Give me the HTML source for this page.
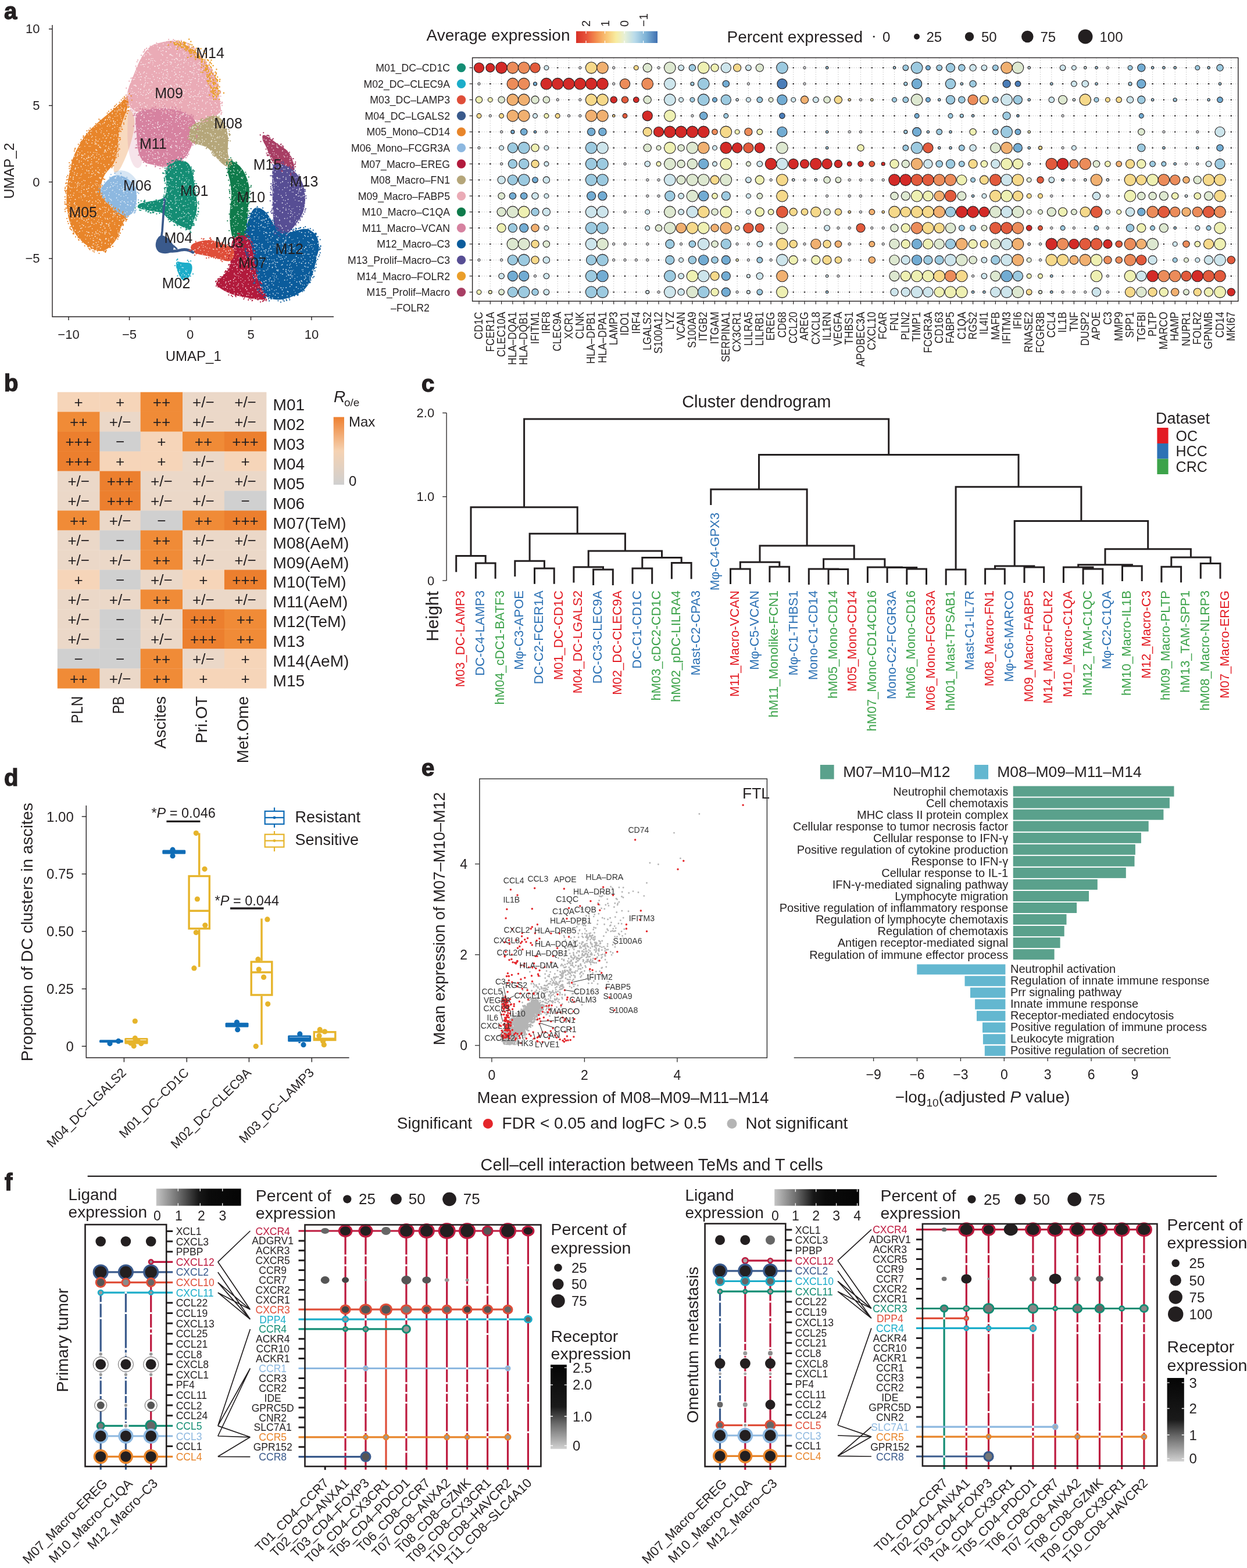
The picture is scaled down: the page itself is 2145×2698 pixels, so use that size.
<!DOCTYPE html>
<html><head><meta charset="utf-8"><title>Figure</title>
<style>html,body{margin:0;padding:0;background:#fff;} svg{display:block;} text{font-family:'Liberation Sans', 'DejaVu Sans', sans-serif;}</style>
</head><body>
<svg width="2145" height="2698" viewBox="0 0 2145 2698" font-family="'Liberation Sans', 'DejaVu Sans', sans-serif">
<rect width="2145" height="2698" fill="#fff"/>
<g stroke="#231f20" stroke-width="1.4" fill="none">
<path d="M90,43 V545 H574"/>
<path d="M84,49.9 H90"/>
<path d="M84,181.6 H90"/>
<path d="M84,313.2 H90"/>
<path d="M84,444.8 H90"/>
<path d="M118.0,545 V551"/>
<path d="M222.5,545 V551"/>
<path d="M327.0,545 V551"/>
<path d="M431.5,545 V551"/>
<path d="M536.0,545 V551"/>
</g>
<text x="68.5" y="49.9" font-size="22" text-anchor="end" fill="#231f20" dominant-baseline="central" >10</text>
<text x="68.5" y="181.6" font-size="22" text-anchor="end" fill="#231f20" dominant-baseline="central" >5</text>
<text x="68.5" y="313.2" font-size="22" text-anchor="end" fill="#231f20" dominant-baseline="central" >0</text>
<text x="68.5" y="444.8" font-size="22" text-anchor="end" fill="#231f20" dominant-baseline="central" >−5</text>
<text x="118.0" y="575.0" font-size="22" text-anchor="middle" fill="#231f20" dominant-baseline="central" >−10</text>
<text x="222.5" y="575.0" font-size="22" text-anchor="middle" fill="#231f20" dominant-baseline="central" >−5</text>
<text x="327.0" y="575.0" font-size="22" text-anchor="middle" fill="#231f20" dominant-baseline="central" >0</text>
<text x="431.5" y="575.0" font-size="22" text-anchor="middle" fill="#231f20" dominant-baseline="central" >5</text>
<text x="536.0" y="575.0" font-size="22" text-anchor="middle" fill="#231f20" dominant-baseline="central" >10</text>
<text x="332.8" y="612.5" font-size="24" text-anchor="middle" fill="#231f20" dominant-baseline="central" >UMAP_1</text>
<text x="15.0" y="294.0" font-size="24" text-anchor="middle" fill="#231f20" dominant-baseline="central" transform="rotate(-90 15.0 294.0)" >UMAP_2</text>
<path d="M217.0,193.0 Q222.0,186.0 226.0,191.0 Q230.0,196.0 231.0,205.0 Q232.0,214.0 230.0,225.0 Q228.0,236.0 225.0,246.0 Q222.0,256.0 218.0,266.0 Q214.0,276.0 209.0,286.0 Q204.0,296.0 199.0,297.0 Q194.0,298.0 196.0,284.0 Q198.0,270.0 199.5,257.5 Q201.0,245.0 203.0,233.5 Q205.0,222.0 208.5,211.0 Q212.0,200.0 217.0,193.0 Z" fill="#e8852a" opacity="0.3"/>
<path d="M228.0,186.5 Q234.0,188.0 235.5,201.5 Q237.0,215.0 238.5,232.5 Q240.0,250.0 243.0,266.0 Q246.0,282.0 241.0,287.0 Q236.0,292.0 231.0,286.0 Q226.0,280.0 223.0,267.5 Q220.0,255.0 219.5,240.0 Q219.0,225.0 219.5,212.5 Q220.0,200.0 221.0,192.5 Q222.0,185.0 228.0,186.5 Z" fill="#d682a0" opacity="0.22"/>
<path d="M202.0,294.0 Q212.0,292.0 220.0,296.0 Q228.0,300.0 234.0,309.0 Q240.0,318.0 238.0,324.0 Q236.0,330.0 229.0,321.0 Q222.0,312.0 214.0,308.5 Q206.0,305.0 199.0,300.5 Q192.0,296.0 202.0,294.0 Z" fill="#8db8e0" opacity="0.35"/>
<path d="M219.0,165.0 Q214.0,170.0 209.0,175.0 Q204.0,180.0 198.5,185.0 Q193.0,190.0 187.0,195.0 Q181.0,200.0 174.5,205.5 Q168.0,211.0 162.0,216.5 Q156.0,222.0 150.5,228.5 Q145.0,235.0 140.5,242.5 Q136.0,250.0 132.0,257.5 Q128.0,265.0 125.5,272.5 Q123.0,280.0 121.5,287.5 Q120.0,295.0 118.0,305.0 Q116.0,315.0 115.0,327.5 Q114.0,340.0 114.5,351.0 Q115.0,362.0 117.5,373.5 Q120.0,385.0 125.0,394.5 Q130.0,404.0 137.5,412.0 Q145.0,420.0 153.5,425.0 Q162.0,430.0 168.5,431.5 Q175.0,433.0 180.5,430.5 Q186.0,428.0 191.0,423.0 Q196.0,418.0 200.0,412.0 Q204.0,406.0 206.0,398.5 Q208.0,391.0 211.0,385.5 Q214.0,380.0 216.5,375.5 Q219.0,371.0 215.5,369.5 Q212.0,368.0 206.0,365.0 Q200.0,362.0 193.0,357.0 Q186.0,352.0 181.0,346.0 Q176.0,340.0 174.0,333.5 Q172.0,327.0 173.5,319.5 Q175.0,312.0 177.5,306.0 Q180.0,300.0 184.0,295.5 Q188.0,291.0 192.0,286.5 Q196.0,282.0 198.0,276.0 Q200.0,270.0 201.0,263.0 Q202.0,256.0 202.5,249.0 Q203.0,242.0 204.0,235.0 Q205.0,228.0 207.0,221.0 Q209.0,214.0 211.5,207.0 Q214.0,200.0 216.5,193.0 Q219.0,186.0 221.0,179.0 Q223.0,172.0 223.5,166.0 Q224.0,160.0 219.0,165.0 Z" fill="#e8852a"/>
<path d="M284.6,71.3 Q293.3,69.2 301.4,70.3 Q309.4,71.4 316.7,75.4 Q324.0,79.4 331.3,84.5 Q338.6,89.6 345.9,97.6 Q353.2,105.6 359.0,113.7 Q364.8,121.7 368.5,128.2 Q372.1,134.8 374.3,145.8 Q376.5,156.7 377.6,167.6 Q378.7,178.6 379.8,185.9 Q380.9,193.2 375.4,196.4 Q370.0,199.6 364.4,202.3 Q358.8,205.0 350.4,206.5 Q342.0,208.0 336.5,206.5 Q331.0,205.0 325.5,201.5 Q320.0,198.0 310.0,195.0 Q300.0,192.0 290.0,191.0 Q280.0,190.0 270.0,191.0 Q260.0,192.0 250.0,193.0 Q240.0,194.0 233.0,191.0 Q226.0,188.0 222.5,180.0 Q219.0,172.0 219.0,164.3 Q219.0,156.7 221.2,150.8 Q223.3,145.0 226.9,136.2 Q230.6,127.5 235.0,116.5 Q239.4,105.6 244.5,96.8 Q249.6,88.1 256.1,82.3 Q262.7,76.5 269.2,75.0 Q275.8,73.5 284.6,71.3 Z" fill="#eaabb6"/>
<path d="M244.0,190.5 Q255.0,188.0 267.5,187.0 Q280.0,186.0 292.5,187.5 Q305.0,189.0 313.5,192.5 Q322.0,196.0 328.5,200.5 Q335.0,205.0 336.5,210.0 Q338.0,215.0 337.5,221.5 Q337.0,228.0 334.5,236.5 Q332.0,245.0 329.0,252.5 Q326.0,260.0 322.0,266.0 Q318.0,272.0 311.0,277.0 Q304.0,282.0 297.0,284.5 Q290.0,287.0 282.5,287.0 Q275.0,287.0 268.5,285.0 Q262.0,283.0 256.0,282.0 Q250.0,281.0 245.0,275.5 Q240.0,270.0 238.0,260.0 Q236.0,250.0 235.5,240.0 Q235.0,230.0 234.0,220.0 Q233.0,210.0 233.0,201.5 Q233.0,193.0 244.0,190.5 Z" fill="#d682a0"/>
<path d="M338.5,211.5 Q347.6,208.0 356.0,203.1 Q364.4,198.2 371.4,199.6 Q378.4,201.0 382.6,207.3 Q386.8,213.6 389.6,222.0 Q392.4,230.4 392.4,238.8 Q392.4,247.2 391.7,255.6 Q391.0,264.0 393.8,271.0 Q396.6,278.0 394.5,282.9 Q392.4,287.8 388.2,285.7 Q384.0,283.6 378.4,278.0 Q372.8,272.4 368.6,266.8 Q364.4,261.2 360.2,257.0 Q356.0,252.8 349.0,250.7 Q342.0,248.6 335.7,247.2 Q329.4,245.8 327.0,240.9 Q324.7,236.0 325.6,230.4 Q326.6,224.8 328.0,219.9 Q329.4,215.0 338.5,211.5 Z" fill="#b5a67a"/>
<path d="M184.8,310.3 Q192.1,302.3 199.4,301.6 Q206.7,300.8 214.0,304.5 Q221.3,308.1 227.1,314.7 Q232.9,321.3 234.4,328.6 Q235.9,335.8 235.2,343.1 Q234.4,350.4 232.2,357.7 Q230.0,365.0 225.7,368.6 Q221.3,372.3 216.2,371.6 Q211.1,370.8 205.2,366.5 Q199.4,362.1 192.1,356.2 Q184.8,350.4 179.7,344.6 Q174.6,338.8 173.1,333.0 Q171.7,327.1 174.6,322.7 Q177.5,318.3 184.8,310.3 Z" fill="#8db8e0"/>
<path d="M293.0,281.9 Q300.0,277.5 307.0,276.3 Q314.0,275.2 319.6,278.0 Q325.2,280.8 328.0,287.8 Q330.8,294.8 332.5,304.6 Q334.2,314.4 335.6,324.2 Q337.0,334.0 338.4,343.8 Q339.8,353.6 338.4,362.0 Q337.0,370.4 334.2,377.4 Q331.4,384.4 330.0,390.7 Q328.6,397.0 324.1,395.2 Q319.6,393.4 314.0,390.6 Q308.4,387.8 302.8,385.0 Q297.2,382.2 291.6,378.0 Q286.0,373.8 283.2,370.0 Q280.4,366.2 272.0,364.8 Q263.6,363.4 255.2,362.0 Q246.8,360.6 241.2,359.2 Q235.6,357.8 237.0,354.1 Q238.4,350.3 245.4,348.9 Q252.4,347.5 260.8,346.1 Q269.2,344.7 275.1,343.3 Q281.0,341.9 283.8,336.6 Q286.6,331.2 286.6,322.8 Q286.6,314.4 285.2,306.0 Q283.8,297.6 284.9,292.0 Q286.0,286.4 293.0,281.9 Z" fill="#148d74"/>
<path d="M401.1,277.5 Q407.0,280.3 412.6,286.1 Q418.2,292.0 422.1,300.4 Q426.0,308.8 427.7,317.2 Q429.4,325.6 428.3,336.8 Q427.2,348.0 426.9,359.2 Q426.6,370.4 425.2,381.6 Q423.8,392.8 422.4,402.6 Q421.0,412.4 417.9,418.3 Q414.8,424.2 409.9,423.2 Q405.0,422.2 401.5,413.1 Q398.0,404.0 396.6,394.2 Q395.2,384.4 395.2,373.2 Q395.2,362.0 396.6,352.2 Q398.0,342.4 398.0,334.0 Q398.0,325.6 396.6,317.2 Q395.2,308.8 392.7,300.4 Q390.2,292.0 392.7,283.3 Q395.2,274.7 401.1,277.5 Z" fill="#0f7b4b"/>
<path d="M456.8,233.2 Q462.4,236.0 469.4,241.6 Q476.4,247.2 483.4,251.4 Q490.4,255.6 494.6,259.8 Q498.8,264.0 501.6,271.0 Q504.4,278.0 506.1,285.0 Q507.8,292.0 503.3,295.1 Q498.8,298.2 493.2,295.4 Q487.6,292.6 482.0,289.8 Q476.4,287.0 472.2,282.8 Q468.0,278.6 465.2,271.3 Q462.4,264.0 459.6,257.0 Q456.8,250.0 454.0,245.8 Q451.2,241.6 451.2,236.0 Q451.2,230.4 456.8,233.2 Z" fill="#a83e64"/>
<path d="M479.2,281.5 Q487.6,282.2 496.0,287.1 Q504.4,292.0 511.5,300.4 Q518.5,308.8 521.5,318.6 Q524.6,328.4 525.0,338.2 Q525.5,348.0 523.4,357.8 Q521.3,367.6 515.7,376.0 Q510.1,384.4 504.4,391.4 Q498.8,398.4 493.2,402.6 Q487.6,406.8 482.0,405.4 Q476.4,404.0 473.6,395.6 Q470.8,387.2 470.1,377.4 Q469.4,367.6 469.0,357.8 Q468.6,348.0 468.6,336.8 Q468.6,325.6 468.3,314.4 Q468.0,303.2 468.3,296.2 Q468.6,289.2 469.7,285.0 Q470.8,280.8 479.2,281.5 Z" fill="#574e94"/>
<path d="M444.2,357.6 Q451.2,359.2 456.8,364.8 Q462.4,370.4 466.6,378.8 Q470.8,387.2 475.0,394.2 Q479.2,401.2 486.2,401.5 Q493.2,401.8 501.6,399.0 Q510.1,396.2 518.5,394.5 Q526.9,392.8 532.7,395.6 Q538.6,398.4 542.8,404.0 Q547.0,409.6 548.4,418.0 Q549.8,426.4 547.0,434.8 Q544.2,443.2 542.8,451.6 Q541.4,460.1 538.6,468.5 Q535.8,476.9 533.0,484.1 Q530.2,491.4 524.6,497.0 Q519.0,502.6 510.6,506.8 Q502.2,511.0 492.1,513.8 Q482.0,516.6 472.2,515.2 Q462.4,513.8 455.4,508.2 Q448.4,502.6 444.2,495.3 Q440.0,488.1 438.6,479.7 Q437.2,471.3 435.8,462.9 Q434.4,454.4 431.6,447.4 Q428.8,440.4 426.0,433.4 Q423.2,426.4 421.8,418.0 Q420.4,409.6 421.8,401.2 Q423.2,392.8 426.0,383.0 Q428.8,373.2 433.0,364.6 Q437.2,355.9 444.2,357.6 Z" fill="#0b5c9c"/>
<path d="M405.0,408.2 Q412.0,404.0 419.0,405.4 Q426.0,406.8 430.2,416.6 Q434.4,426.4 436.1,440.4 Q437.8,454.4 439.2,462.9 Q440.6,471.3 443.4,479.7 Q446.2,488.1 449.0,495.1 Q451.8,502.1 456.0,507.9 Q460.2,513.8 454.3,515.2 Q448.4,516.6 441.4,515.2 Q434.4,513.8 427.4,512.4 Q420.4,511.0 412.0,509.6 Q403.6,508.2 396.6,505.4 Q389.6,502.6 382.6,498.4 Q375.6,494.2 372.8,491.1 Q370.0,488.1 374.2,483.9 Q378.4,479.7 382.6,475.5 Q386.8,471.3 391.0,465.7 Q395.2,460.1 396.6,448.8 Q398.0,437.6 398.0,425.0 Q398.0,412.4 405.0,408.2 Z" fill="#b21a3c"/>
<path d="M335.0,418.0 Q342.0,415.2 350.4,413.8 Q358.8,412.4 365.8,413.8 Q372.8,415.2 379.8,418.0 Q386.8,420.8 393.8,423.6 Q400.8,426.4 402.5,432.0 Q404.2,437.6 401.4,443.5 Q398.6,449.4 392.7,449.4 Q386.8,449.4 379.8,446.6 Q372.8,443.8 365.8,442.4 Q358.8,441.0 351.8,439.6 Q344.8,438.2 339.2,436.8 Q333.6,435.4 330.8,432.6 Q328.0,429.8 328.0,425.3 Q328.0,420.8 335.0,418.0 Z" fill="#df4e39"/>
<path d="M308.4,450.5 Q314.0,452.2 321.0,451.9 Q328.0,451.6 329.7,455.8 Q331.4,460.1 330.0,465.7 Q328.6,471.3 325.8,475.7 Q323.0,480.2 319.9,481.6 Q316.8,483.0 314.0,481.6 Q311.2,480.2 308.7,474.6 Q306.2,469.0 304.5,464.5 Q302.8,460.1 302.8,454.4 Q302.8,448.8 308.4,450.5 Z" fill="#1cadc9"/>
<path d="M283,342 L281,370 L279,398 L277,412" stroke="#3a5a8c" stroke-width="3.6" fill="none" stroke-linecap="round"/>
<path d="M272.5,408.0 Q276.0,404.0 281.0,405.5 Q286.0,407.0 290.0,411.0 Q294.0,415.0 297.0,420.0 Q300.0,425.0 298.0,429.5 Q296.0,434.0 290.0,435.5 Q284.0,437.0 278.0,435.5 Q272.0,434.0 269.5,429.0 Q267.0,424.0 268.0,418.0 Q269.0,412.0 272.5,408.0 Z" fill="#3a5a8c"/>
<path d="M282,431 Q300,434 312,430 Q322,428 332,434" stroke="#3a5a8c" stroke-width="5" fill="none" stroke-linecap="round"/>
<path d="M284,416 Q296,420 304,428" stroke="#3a5a8c" stroke-width="3" fill="none" stroke-linecap="round"/>
<path d="M341.5 95.9h0M303.4 74.3h0M305.2 74.5h0M349.1 102.2h0M347.5 98.6h0M317.5 76.0h0M345.7 124.0h0M308.3 71.5h0M321.2 80.7h0M371.5 151.8h0M356.4 128.5h0M310.9 75.7h0M358.7 131.7h0M354.0 119.4h0M366.5 141.8h0M346.4 116.0h0M361.4 147.1h0M306.1 80.5h0M317.0 78.8h0M363.2 123.6h0M366.3 159.3h0M353.8 117.4h0M374.9 148.3h0M370.5 130.4h0M372.0 125.7h0M326.7 91.8h0M299.0 73.5h0M323.1 79.6h0M315.8 81.6h0M374.9 155.4h0M363.5 109.6h0M368.4 156.5h0M350.7 87.7h0M320.3 81.2h0M320.5 84.2h0M336.7 86.3h0M328.6 91.2h0M355.7 131.0h0M374.2 132.5h0M374.3 137.8h0M341.4 98.1h0M363.0 125.0h0M328.2 84.7h0M309.3 74.3h0M311.4 77.1h0M367.2 152.2h0M326.7 88.3h0M325.2 67.4h0M347.0 105.2h0M309.9 79.1h0M369.3 149.2h0M368.1 161.8h0M362.1 114.5h0M377.5 160.7h0M328.4 87.8h0M357.4 140.4h0M339.1 98.8h0M378.1 160.3h0M368.2 144.5h0M352.5 111.6h0M302.2 76.2h0M369.4 130.6h0M384.9 159.9h0M341.5 97.5h0M326.5 86.0h0M373.6 152.8h0M362.6 125.2h0M370.5 124.0h0M362.5 139.3h0M362.6 150.0h0M367.2 166.9h0M370.6 159.4h0M322.5 84.5h0M374.6 151.9h0M369.0 162.4h0M356.4 114.8h0M367.6 160.6h0M360.5 163.5h0M369.7 151.1h0M334.2 93.9h0M327.9 86.9h0M366.6 161.1h0M363.2 115.9h0M363.6 158.4h0M359.8 112.0h0M332.6 80.3h0M312.3 80.7h0M353.2 119.4h0M356.8 113.3h0M356.7 118.8h0M359.7 141.6h0M371.6 138.0h0M353.5 121.5h0M357.0 133.2h0M358.4 104.2h0M373.7 152.8h0M366.6 112.9h0M321.1 81.0h0M308.7 76.7h0M365.1 120.7h0M317.2 73.2h0M328.3 71.4h0M332.0 81.4h0M361.6 107.0h0M313.7 81.1h0M339.9 95.8h0M371.9 136.1h0M352.4 102.6h0M358.6 123.0h0M375.5 155.9h0M312.5 77.7h0M366.8 144.7h0M354.8 96.4h0M337.8 92.9h0M356.7 115.2h0M304.5 70.7h0M315.9 73.1h0M377.6 149.4h0M311.9 71.6h0M326.2 89.6h0M336.0 90.1h0M331.0 85.6h0M307.3 77.4h0M335.2 86.5h0M354.2 112.2h0M301.8 73.4h0M361.8 136.1h0M352.5 105.3h0M362.5 149.3h0M363.6 152.1h0M368.5 130.8h0M366.6 143.5h0M343.6 99.3h0M324.1 80.5h0M331.3 87.0h0M374.7 145.7h0M332.9 91.0h0M352.2 107.9h0M345.5 83.7h0M356.1 124.3h0M335.2 90.2h0M335.9 96.9h0M324.2 81.0h0M335.7 88.4h0M309.4 74.3h0M322.0 81.2h0M361.1 133.9h0M365.9 156.4h0M377.3 171.1h0M371.7 127.6h0M363.7 151.0h0M372.7 150.3h0M357.5 103.3h0M358.4 144.1h0M361.7 127.9h0M306.9 76.1h0M316.4 72.3h0M354.9 119.4h0M361.2 107.8h0M359.0 138.7h0M370.5 130.1h0M333.7 86.7h0M367.7 142.6h0M366.3 165.1h0M346.5 100.4h0M359.0 121.0h0M317.8 85.0h0M334.1 89.4h0M306.1 80.5h0M361.5 128.8h0M347.1 111.7h0M317.3 75.6h0M372.8 165.0h0M355.1 95.0h0M347.6 105.9h0M372.9 166.6h0M303.6 76.8h0M319.0 73.6h0M368.7 152.3h0M368.9 156.3h0M293.8 72.3h0M337.9 92.2h0M336.2 90.4h0M367.5 137.4h0M368.0 151.2h0M329.6 91.2h0M367.8 165.6h0M346.2 102.0h0M314.6 73.7h0M370.9 163.6h0M354.8 113.6h0M379.0 158.0h0M372.4 119.2h0M355.4 113.2h0M356.3 138.8h0M361.1 126.9h0M375.1 162.7h0M336.0 99.1h0M371.3 170.8h0M329.3 88.0h0M322.6 81.7h0M366.4 157.2h0M376.4 157.1h0M317.9 79.8h0M342.1 94.4h0M319.8 82.3h0M361.0 141.1h0M350.2 114.1h0M304.8 84.8h0M307.4 77.4h0M370.3 155.4h0M324.5 87.5h0M377.9 156.1h0M310.8 74.1h0M362.7 156.9h0M289.5 77.6h0M377.8 139.9h0M331.9 86.4h0M348.2 102.9h0M359.1 130.1h0M347.2 103.8h0M368.7 151.8h0M360.6 127.8h0M324.1 80.6h0M319.8 79.0h0M355.3 120.0h0M364.5 120.4h0M356.7 103.0h0M365.8 155.1h0M337.8 83.3h0M341.7 90.5h0M359.0 130.9h0M366.1 127.3h0M300.7 76.9h0M366.3 137.1h0M361.7 137.5h0M367.7 171.0h0M329.4 90.0h0M340.2 87.5h0M324.0 84.3h0M365.4 127.6h0M347.1 107.5h0M319.2 78.7h0M352.9 92.3h0M378.2 136.7h0M342.5 100.2h0M373.9 139.7h0M338.6 98.4h0M325.3 79.6h0M342.3 93.1h0M372.9 167.2h0M371.1 144.0h0M300.3 74.8h0M372.5 162.2h0M375.8 156.9h0M368.5 145.5h0M315.5 76.9h0M330.1 77.3h0M336.3 102.3h0M359.7 128.4h0M336.0 91.0h0M373.1 136.9h0M375.1 161.8h0M363.4 103.5h0M342.9 100.7h0M354.7 107.1h0M367.4 138.3h0M363.0 139.7h0M330.1 96.2h0M312.5 81.7h0M330.7 85.3h0M348.8 124.5h0M374.2 154.4h0M315.5 78.3h0M360.4 134.9h0M339.5 95.5h0M370.6 134.0h0M317.3 74.6h0M350.7 121.0h0M324.6 83.8h0M324.3 75.4h0M323.1 98.9h0M353.7 116.8h0M364.5 126.7h0M354.5 99.2h0M375.0 158.9h0M320.1 87.1h0M363.3 116.6h0M365.3 153.7h0M369.6 141.9h0M356.5 117.8h0M343.6 97.1h0M323.5 82.2h0M330.0 81.4h0M364.9 133.1h0M327.0 76.4h0M312.0 77.1h0M354.3 113.2h0M318.2 75.5h0M327.9 97.0h0" stroke="#ea9e2a" stroke-width="2.50" stroke-linecap="round" fill="none"/>
<defs><pattern id="speck" width="61" height="53" patternUnits="userSpaceOnUse"><g fill="#fff" opacity="0.85"><circle cx="10.1" cy="36.6" r="0.84"/><circle cx="29.2" cy="11.4" r="0.91"/><circle cx="49.3" cy="27.2" r="0.78"/><circle cx="14.4" cy="0.2" r="0.72"/><circle cx="35.7" cy="3.7" r="0.91"/><circle cx="14.2" cy="12.3" r="0.57"/><circle cx="60.9" cy="39.2" r="0.94"/><circle cx="37.6" cy="1.8" r="0.70"/><circle cx="30.4" cy="6.1" r="0.98"/><circle cx="22.5" cy="8.2" r="0.92"/><circle cx="7.6" cy="49.2" r="0.75"/><circle cx="33.7" cy="18.2" r="0.77"/><circle cx="11.4" cy="2.0" r="0.94"/><circle cx="14.3" cy="41.4" r="0.64"/><circle cx="59.1" cy="47.4" r="0.89"/><circle cx="46.5" cy="30.8" r="0.88"/><circle cx="7.5" cy="25.2" r="0.92"/><circle cx="12.3" cy="48.9" r="0.95"/><circle cx="25.0" cy="19.4" r="0.75"/><circle cx="23.5" cy="52.7" r="0.72"/><circle cx="1.6" cy="4.9" r="0.87"/><circle cx="60.6" cy="26.3" r="0.77"/><circle cx="33.6" cy="39.7" r="0.65"/><circle cx="37.1" cy="29.5" r="0.83"/><circle cx="11.0" cy="9.0" r="0.71"/><circle cx="56.6" cy="18.4" r="0.82"/><circle cx="18.7" cy="5.5" r="0.58"/><circle cx="49.6" cy="41.2" r="0.72"/><circle cx="41.7" cy="35.8" r="0.95"/><circle cx="58.5" cy="21.6" r="1.00"/><circle cx="58.6" cy="31.3" r="0.95"/><circle cx="29.9" cy="19.9" r="0.66"/><circle cx="53.4" cy="8.6" r="0.58"/><circle cx="49.1" cy="41.0" r="0.77"/><circle cx="51.1" cy="2.8" r="0.67"/><circle cx="17.7" cy="22.2" r="0.63"/><circle cx="4.2" cy="17.9" r="0.95"/><circle cx="60.0" cy="39.5" r="0.77"/><circle cx="15.4" cy="50.8" r="0.79"/><circle cx="44.4" cy="1.5" r="0.65"/><circle cx="51.1" cy="42.1" r="0.95"/><circle cx="36.7" cy="22.6" r="0.81"/><circle cx="51.8" cy="16.3" r="0.79"/><circle cx="16.8" cy="40.7" r="0.55"/><circle cx="41.8" cy="50.6" r="0.56"/><circle cx="36.2" cy="34.1" r="0.93"/><circle cx="35.6" cy="13.6" r="0.73"/><circle cx="58.5" cy="48.0" r="0.61"/><circle cx="5.8" cy="5.0" r="0.56"/><circle cx="27.3" cy="7.5" r="0.94"/><circle cx="40.0" cy="6.7" r="0.79"/><circle cx="19.8" cy="26.2" r="0.65"/><circle cx="10.1" cy="9.7" r="0.72"/><circle cx="43.3" cy="29.2" r="0.57"/><circle cx="43.4" cy="46.3" r="0.90"/><circle cx="48.2" cy="0.4" r="0.76"/><circle cx="3.9" cy="40.5" r="0.63"/><circle cx="43.4" cy="13.4" r="0.86"/><circle cx="19.1" cy="2.2" r="0.72"/><circle cx="18.9" cy="47.7" r="0.68"/><circle cx="30.7" cy="29.1" r="0.98"/><circle cx="6.0" cy="31.9" r="0.78"/><circle cx="44.8" cy="51.3" r="0.69"/><circle cx="42.7" cy="27.9" r="0.80"/><circle cx="3.9" cy="43.2" r="0.99"/><circle cx="21.7" cy="16.9" r="1.00"/><circle cx="6.6" cy="4.0" r="0.58"/><circle cx="49.7" cy="40.3" r="0.75"/><circle cx="37.9" cy="1.0" r="0.84"/><circle cx="27.0" cy="27.4" r="0.73"/></g></pattern><clipPath id="umapclip"><path d="M219.0,165.0 Q214.0,170.0 209.0,175.0 Q204.0,180.0 198.5,185.0 Q193.0,190.0 187.0,195.0 Q181.0,200.0 174.5,205.5 Q168.0,211.0 162.0,216.5 Q156.0,222.0 150.5,228.5 Q145.0,235.0 140.5,242.5 Q136.0,250.0 132.0,257.5 Q128.0,265.0 125.5,272.5 Q123.0,280.0 121.5,287.5 Q120.0,295.0 118.0,305.0 Q116.0,315.0 115.0,327.5 Q114.0,340.0 114.5,351.0 Q115.0,362.0 117.5,373.5 Q120.0,385.0 125.0,394.5 Q130.0,404.0 137.5,412.0 Q145.0,420.0 153.5,425.0 Q162.0,430.0 168.5,431.5 Q175.0,433.0 180.5,430.5 Q186.0,428.0 191.0,423.0 Q196.0,418.0 200.0,412.0 Q204.0,406.0 206.0,398.5 Q208.0,391.0 211.0,385.5 Q214.0,380.0 216.5,375.5 Q219.0,371.0 215.5,369.5 Q212.0,368.0 206.0,365.0 Q200.0,362.0 193.0,357.0 Q186.0,352.0 181.0,346.0 Q176.0,340.0 174.0,333.5 Q172.0,327.0 173.5,319.5 Q175.0,312.0 177.5,306.0 Q180.0,300.0 184.0,295.5 Q188.0,291.0 192.0,286.5 Q196.0,282.0 198.0,276.0 Q200.0,270.0 201.0,263.0 Q202.0,256.0 202.5,249.0 Q203.0,242.0 204.0,235.0 Q205.0,228.0 207.0,221.0 Q209.0,214.0 211.5,207.0 Q214.0,200.0 216.5,193.0 Q219.0,186.0 221.0,179.0 Q223.0,172.0 223.5,166.0 Q224.0,160.0 219.0,165.0 Z"/><path d="M284.6,71.3 Q293.3,69.2 301.4,70.3 Q309.4,71.4 316.7,75.4 Q324.0,79.4 331.3,84.5 Q338.6,89.6 345.9,97.6 Q353.2,105.6 359.0,113.7 Q364.8,121.7 368.5,128.2 Q372.1,134.8 374.3,145.8 Q376.5,156.7 377.6,167.6 Q378.7,178.6 379.8,185.9 Q380.9,193.2 375.4,196.4 Q370.0,199.6 364.4,202.3 Q358.8,205.0 350.4,206.5 Q342.0,208.0 336.5,206.5 Q331.0,205.0 325.5,201.5 Q320.0,198.0 310.0,195.0 Q300.0,192.0 290.0,191.0 Q280.0,190.0 270.0,191.0 Q260.0,192.0 250.0,193.0 Q240.0,194.0 233.0,191.0 Q226.0,188.0 222.5,180.0 Q219.0,172.0 219.0,164.3 Q219.0,156.7 221.2,150.8 Q223.3,145.0 226.9,136.2 Q230.6,127.5 235.0,116.5 Q239.4,105.6 244.5,96.8 Q249.6,88.1 256.1,82.3 Q262.7,76.5 269.2,75.0 Q275.8,73.5 284.6,71.3 Z"/><path d="M244.0,190.5 Q255.0,188.0 267.5,187.0 Q280.0,186.0 292.5,187.5 Q305.0,189.0 313.5,192.5 Q322.0,196.0 328.5,200.5 Q335.0,205.0 336.5,210.0 Q338.0,215.0 337.5,221.5 Q337.0,228.0 334.5,236.5 Q332.0,245.0 329.0,252.5 Q326.0,260.0 322.0,266.0 Q318.0,272.0 311.0,277.0 Q304.0,282.0 297.0,284.5 Q290.0,287.0 282.5,287.0 Q275.0,287.0 268.5,285.0 Q262.0,283.0 256.0,282.0 Q250.0,281.0 245.0,275.5 Q240.0,270.0 238.0,260.0 Q236.0,250.0 235.5,240.0 Q235.0,230.0 234.0,220.0 Q233.0,210.0 233.0,201.5 Q233.0,193.0 244.0,190.5 Z"/><path d="M338.5,211.5 Q347.6,208.0 356.0,203.1 Q364.4,198.2 371.4,199.6 Q378.4,201.0 382.6,207.3 Q386.8,213.6 389.6,222.0 Q392.4,230.4 392.4,238.8 Q392.4,247.2 391.7,255.6 Q391.0,264.0 393.8,271.0 Q396.6,278.0 394.5,282.9 Q392.4,287.8 388.2,285.7 Q384.0,283.6 378.4,278.0 Q372.8,272.4 368.6,266.8 Q364.4,261.2 360.2,257.0 Q356.0,252.8 349.0,250.7 Q342.0,248.6 335.7,247.2 Q329.4,245.8 327.0,240.9 Q324.7,236.0 325.6,230.4 Q326.6,224.8 328.0,219.9 Q329.4,215.0 338.5,211.5 Z"/><path d="M184.8,310.3 Q192.1,302.3 199.4,301.6 Q206.7,300.8 214.0,304.5 Q221.3,308.1 227.1,314.7 Q232.9,321.3 234.4,328.6 Q235.9,335.8 235.2,343.1 Q234.4,350.4 232.2,357.7 Q230.0,365.0 225.7,368.6 Q221.3,372.3 216.2,371.6 Q211.1,370.8 205.2,366.5 Q199.4,362.1 192.1,356.2 Q184.8,350.4 179.7,344.6 Q174.6,338.8 173.1,333.0 Q171.7,327.1 174.6,322.7 Q177.5,318.3 184.8,310.3 Z"/><path d="M293.0,281.9 Q300.0,277.5 307.0,276.3 Q314.0,275.2 319.6,278.0 Q325.2,280.8 328.0,287.8 Q330.8,294.8 332.5,304.6 Q334.2,314.4 335.6,324.2 Q337.0,334.0 338.4,343.8 Q339.8,353.6 338.4,362.0 Q337.0,370.4 334.2,377.4 Q331.4,384.4 330.0,390.7 Q328.6,397.0 324.1,395.2 Q319.6,393.4 314.0,390.6 Q308.4,387.8 302.8,385.0 Q297.2,382.2 291.6,378.0 Q286.0,373.8 283.2,370.0 Q280.4,366.2 272.0,364.8 Q263.6,363.4 255.2,362.0 Q246.8,360.6 241.2,359.2 Q235.6,357.8 237.0,354.1 Q238.4,350.3 245.4,348.9 Q252.4,347.5 260.8,346.1 Q269.2,344.7 275.1,343.3 Q281.0,341.9 283.8,336.6 Q286.6,331.2 286.6,322.8 Q286.6,314.4 285.2,306.0 Q283.8,297.6 284.9,292.0 Q286.0,286.4 293.0,281.9 Z"/><path d="M401.1,277.5 Q407.0,280.3 412.6,286.1 Q418.2,292.0 422.1,300.4 Q426.0,308.8 427.7,317.2 Q429.4,325.6 428.3,336.8 Q427.2,348.0 426.9,359.2 Q426.6,370.4 425.2,381.6 Q423.8,392.8 422.4,402.6 Q421.0,412.4 417.9,418.3 Q414.8,424.2 409.9,423.2 Q405.0,422.2 401.5,413.1 Q398.0,404.0 396.6,394.2 Q395.2,384.4 395.2,373.2 Q395.2,362.0 396.6,352.2 Q398.0,342.4 398.0,334.0 Q398.0,325.6 396.6,317.2 Q395.2,308.8 392.7,300.4 Q390.2,292.0 392.7,283.3 Q395.2,274.7 401.1,277.5 Z"/><path d="M456.8,233.2 Q462.4,236.0 469.4,241.6 Q476.4,247.2 483.4,251.4 Q490.4,255.6 494.6,259.8 Q498.8,264.0 501.6,271.0 Q504.4,278.0 506.1,285.0 Q507.8,292.0 503.3,295.1 Q498.8,298.2 493.2,295.4 Q487.6,292.6 482.0,289.8 Q476.4,287.0 472.2,282.8 Q468.0,278.6 465.2,271.3 Q462.4,264.0 459.6,257.0 Q456.8,250.0 454.0,245.8 Q451.2,241.6 451.2,236.0 Q451.2,230.4 456.8,233.2 Z"/><path d="M479.2,281.5 Q487.6,282.2 496.0,287.1 Q504.4,292.0 511.5,300.4 Q518.5,308.8 521.5,318.6 Q524.6,328.4 525.0,338.2 Q525.5,348.0 523.4,357.8 Q521.3,367.6 515.7,376.0 Q510.1,384.4 504.4,391.4 Q498.8,398.4 493.2,402.6 Q487.6,406.8 482.0,405.4 Q476.4,404.0 473.6,395.6 Q470.8,387.2 470.1,377.4 Q469.4,367.6 469.0,357.8 Q468.6,348.0 468.6,336.8 Q468.6,325.6 468.3,314.4 Q468.0,303.2 468.3,296.2 Q468.6,289.2 469.7,285.0 Q470.8,280.8 479.2,281.5 Z"/><path d="M444.2,357.6 Q451.2,359.2 456.8,364.8 Q462.4,370.4 466.6,378.8 Q470.8,387.2 475.0,394.2 Q479.2,401.2 486.2,401.5 Q493.2,401.8 501.6,399.0 Q510.1,396.2 518.5,394.5 Q526.9,392.8 532.7,395.6 Q538.6,398.4 542.8,404.0 Q547.0,409.6 548.4,418.0 Q549.8,426.4 547.0,434.8 Q544.2,443.2 542.8,451.6 Q541.4,460.1 538.6,468.5 Q535.8,476.9 533.0,484.1 Q530.2,491.4 524.6,497.0 Q519.0,502.6 510.6,506.8 Q502.2,511.0 492.1,513.8 Q482.0,516.6 472.2,515.2 Q462.4,513.8 455.4,508.2 Q448.4,502.6 444.2,495.3 Q440.0,488.1 438.6,479.7 Q437.2,471.3 435.8,462.9 Q434.4,454.4 431.6,447.4 Q428.8,440.4 426.0,433.4 Q423.2,426.4 421.8,418.0 Q420.4,409.6 421.8,401.2 Q423.2,392.8 426.0,383.0 Q428.8,373.2 433.0,364.6 Q437.2,355.9 444.2,357.6 Z"/><path d="M405.0,408.2 Q412.0,404.0 419.0,405.4 Q426.0,406.8 430.2,416.6 Q434.4,426.4 436.1,440.4 Q437.8,454.4 439.2,462.9 Q440.6,471.3 443.4,479.7 Q446.2,488.1 449.0,495.1 Q451.8,502.1 456.0,507.9 Q460.2,513.8 454.3,515.2 Q448.4,516.6 441.4,515.2 Q434.4,513.8 427.4,512.4 Q420.4,511.0 412.0,509.6 Q403.6,508.2 396.6,505.4 Q389.6,502.6 382.6,498.4 Q375.6,494.2 372.8,491.1 Q370.0,488.1 374.2,483.9 Q378.4,479.7 382.6,475.5 Q386.8,471.3 391.0,465.7 Q395.2,460.1 396.6,448.8 Q398.0,437.6 398.0,425.0 Q398.0,412.4 405.0,408.2 Z"/><path d="M335.0,418.0 Q342.0,415.2 350.4,413.8 Q358.8,412.4 365.8,413.8 Q372.8,415.2 379.8,418.0 Q386.8,420.8 393.8,423.6 Q400.8,426.4 402.5,432.0 Q404.2,437.6 401.4,443.5 Q398.6,449.4 392.7,449.4 Q386.8,449.4 379.8,446.6 Q372.8,443.8 365.8,442.4 Q358.8,441.0 351.8,439.6 Q344.8,438.2 339.2,436.8 Q333.6,435.4 330.8,432.6 Q328.0,429.8 328.0,425.3 Q328.0,420.8 335.0,418.0 Z"/><path d="M308.4,450.5 Q314.0,452.2 321.0,451.9 Q328.0,451.6 329.7,455.8 Q331.4,460.1 330.0,465.7 Q328.6,471.3 325.8,475.7 Q323.0,480.2 319.9,481.6 Q316.8,483.0 314.0,481.6 Q311.2,480.2 308.7,474.6 Q306.2,469.0 304.5,464.5 Q302.8,460.1 302.8,454.4 Q302.8,448.8 308.4,450.5 Z"/></clipPath></defs>
<rect x="90" y="40" width="490" height="505" fill="url(#speck)" clip-path="url(#umapclip)"/>
<path d="M175.3 336.6h0M175.1 332.7h0M123.7 276.7h0M119.2 280.0h0M175.7 319.3h0M208.0 226.3h0M179.5 343.2h0M217.3 191.6h0M203.4 268.6h0M115.1 376.0h0M216.5 377.1h0M211.0 366.4h0M219.1 195.2h0M113.1 351.4h0M211.4 385.4h0M196.9 183.0h0M205.0 363.0h0M167.8 431.8h0M178.1 308.2h0M218.5 377.5h0M202.7 252.7h0M217.1 378.6h0M111.5 327.8h0M204.6 248.3h0M139.5 240.1h0M191.4 188.7h0M181.9 432.6h0M207.0 401.2h0M164.8 212.9h0M216.4 193.8h0M184.6 194.7h0M125.7 402.2h0M172.2 207.0h0M127.9 259.8h0M202.8 250.5h0M211.4 169.3h0M211.7 388.0h0M219.6 190.3h0M113.8 315.0h0M150.8 424.2h0M112.3 343.3h0M152.9 224.2h0M111.6 347.7h0M188.4 353.3h0M221.2 190.4h0M209.4 222.2h0M113.0 315.6h0M130.0 407.6h0M120.5 390.6h0M134.4 408.8h0M128.7 256.9h0M117.7 384.7h0M113.5 332.5h0M173.7 321.7h0M200.3 179.6h0M115.3 314.8h0M216.7 200.1h0M114.0 351.8h0M213.9 166.3h0M212.8 211.5h0M140.0 243.2h0M205.1 237.1h0M119.4 286.4h0M122.0 390.1h0M221.4 180.5h0M112.0 324.7h0M186.9 191.6h0M181.1 434.1h0M113.0 330.2h0M134.8 248.4h0M206.7 225.5h0M154.4 428.5h0M154.7 429.6h0M145.7 423.0h0M203.0 243.7h0M205.9 256.5h0M129.4 255.2h0M192.4 288.4h0M204.0 407.6h0M205.5 176.1h0M114.6 309.5h0M182.0 432.9h0M111.7 348.0h0M215.1 205.2h0M162.0 433.5h0M216.6 380.5h0M111.4 351.0h0M180.1 341.0h0M209.1 218.5h0M143.3 236.4h0M157.9 428.1h0M111.8 360.4h0M186.1 351.0h0M114.8 327.6h0M120.8 283.9h0M126.1 397.5h0M135.7 413.2h0M149.5 225.1h0M112.3 322.4h0M204.2 255.6h0M194.9 356.5h0M116.5 381.1h0M126.6 400.3h0M197.5 359.2h0M214.5 368.8h0M180.8 432.4h0M141.6 417.0h0M119.9 294.7h0M217.0 163.8h0M135.0 412.3h0M182.8 430.8h0M152.9 427.5h0M152.2 424.6h0M226.7 172.3h0M188.7 425.8h0M119.3 290.1h0M198.6 358.3h0M148.9 229.9h0M116.6 308.8h0M206.7 237.2h0M191.7 352.8h0M178.5 432.2h0M113.5 357.9h0M114.6 320.2h0M127.0 402.5h0M195.5 186.8h0M202.3 260.8h0M199.8 279.5h0M213.1 213.7h0M162.7 430.4h0M193.3 286.2h0M190.1 425.5h0M177.5 307.3h0M120.3 393.1h0M214.2 168.4h0M196.2 186.5h0M200.3 271.3h0M222.2 161.2h0M220.7 185.1h0M198.5 181.8h0M210.4 222.6h0M198.6 357.8h0M210.8 394.7h0M123.2 395.7h0M194.0 423.9h0M111.8 338.7h0M143.7 234.4h0M211.4 387.6h0M205.6 362.3h0M116.4 301.9h0M180.1 308.7h0M203.5 407.4h0M112.2 364.0h0M156.6 426.9h0M203.6 360.1h0M207.1 239.8h0M159.9 431.7h0M170.5 435.8h0M123.7 275.4h0M155.3 220.6h0M195.3 284.9h0M202.5 411.4h0M143.5 233.8h0M186.4 348.3h0M113.3 328.5h0M170.3 205.2h0M220.3 372.1h0M205.1 405.1h0M205.7 241.0h0M225.6 165.2h0M220.2 183.3h0M114.9 304.5h0M212.1 386.6h0M121.7 394.5h0M208.7 172.0h0M222.3 183.6h0M215.6 203.7h0M220.0 184.0h0M138.4 245.4h0M203.1 265.3h0M211.5 364.1h0M113.9 358.3h0M203.8 258.4h0" stroke="#e8852a" stroke-width="2.20" stroke-linecap="round" fill="none"/>
<path d="M381.8 177.8h0M314.2 73.3h0M381.5 193.6h0M218.3 168.9h0M238.0 193.7h0M297.6 194.3h0M333.9 82.6h0M266.9 191.6h0M379.4 178.2h0M378.4 160.6h0M304.6 194.1h0M345.1 209.3h0M236.9 196.6h0M324.1 76.5h0M380.4 195.0h0M300.9 69.7h0M306.8 195.0h0M252.1 83.4h0M248.7 86.3h0M219.1 178.1h0M234.6 117.1h0M227.7 134.2h0M380.9 190.4h0M228.2 191.0h0M321.3 74.2h0M225.2 189.4h0M379.5 165.5h0M315.3 197.5h0M232.6 191.3h0M331.3 81.2h0M381.9 175.9h0M345.8 93.2h0M335.3 86.6h0M298.2 68.2h0M249.3 85.1h0M375.9 147.4h0M246.5 89.6h0M290.9 192.3h0M219.1 181.0h0M355.6 208.1h0M310.9 198.6h0M323.8 202.7h0M215.4 171.0h0M237.1 103.4h0M235.7 106.3h0M328.0 206.3h0M380.4 196.8h0M339.5 209.0h0M294.6 192.1h0M381.8 177.1h0M284.6 191.1h0M359.8 110.0h0M269.3 74.0h0M217.0 167.0h0M217.1 163.4h0M326.2 80.8h0M311.7 69.7h0M233.6 113.8h0M217.4 167.4h0M224.4 185.1h0M290.2 67.8h0M285.5 192.3h0M363.8 118.6h0M300.1 70.1h0M353.4 104.7h0M217.3 151.7h0M382.3 176.0h0M332.3 83.4h0M325.3 79.8h0M258.6 194.5h0M307.2 69.8h0M233.1 194.8h0M347.3 96.9h0M260.7 195.1h0M357.0 207.8h0M349.1 210.2h0M374.6 143.0h0M222.3 139.7h0M294.7 194.8h0M370.9 128.2h0M341.9 91.2h0M220.8 180.9h0M324.4 79.2h0M371.2 199.4h0M258.5 79.7h0M382.0 181.5h0M365.0 120.3h0M378.7 156.7h0M355.4 107.2h0M277.6 190.8h0M351.7 208.9h0M322.8 75.7h0M335.4 84.4h0M379.0 174.6h0M217.2 171.3h0M367.5 125.3h0M378.9 159.8h0M243.1 95.2h0M363.7 203.4h0M252.3 83.1h0M283.9 193.1h0M341.8 209.3h0M248.2 88.3h0M326.6 205.9h0M225.4 134.7h0" stroke="#eaabb6" stroke-width="2.20" stroke-linecap="round" fill="none"/>
<path d="M334.3 244.5h0M319.9 271.3h0M334.2 246.8h0M301.3 185.4h0M338.9 208.3h0M267.0 286.9h0M280.2 287.5h0M245.0 187.4h0M326.6 198.9h0M337.9 233.1h0M340.1 217.6h0M319.3 193.4h0M262.5 186.1h0M229.3 198.8h0M234.4 238.0h0M267.5 183.9h0M232.8 239.4h0M245.6 188.6h0M251.7 285.3h0M231.3 195.6h0M293.3 288.6h0M233.3 213.6h0M234.7 249.3h0M241.1 187.2h0M246.8 279.3h0M340.6 222.3h0M250.4 188.7h0M246.3 189.2h0M313.1 277.0h0M262.0 186.2h0M328.7 199.9h0M338.3 236.3h0M234.5 254.2h0M329.4 197.2h0M233.1 254.5h0M310.6 191.0h0M235.1 191.5h0M244.9 275.5h0M322.1 267.9h0M231.5 228.1h0M310.2 188.5h0M284.1 185.9h0M238.4 266.9h0M235.7 254.4h0M232.5 226.0h0M292.9 286.8h0M284.4 186.1h0M331.6 249.7h0M296.0 184.4h0M275.2 290.1h0M231.4 198.2h0M262.1 185.9h0M283.8 185.2h0M249.6 188.2h0M332.3 199.5h0M267.6 286.0h0M264.3 185.7h0M338.6 233.8h0M303.0 186.3h0M229.8 217.2h0M287.5 290.6h0M324.3 265.3h0M234.0 226.7h0M261.3 186.5h0M283.0 182.9h0M338.5 223.0h0M331.8 201.4h0M297.6 286.2h0" stroke="#d682a0" stroke-width="2.20" stroke-linecap="round" fill="none"/>
<path d="M376.8 199.9h0M398.0 283.0h0M393.6 222.7h0M395.2 284.7h0M322.9 239.4h0M392.6 237.9h0M394.3 229.8h0M354.3 204.1h0M396.6 280.1h0M397.3 275.9h0M364.6 263.5h0M346.2 205.0h0M356.9 201.0h0M336.6 210.5h0M325.3 239.5h0M396.0 231.5h0M345.0 207.0h0M325.4 220.7h0M326.1 227.8h0M396.3 275.6h0M397.9 280.3h0M326.0 218.6h0M390.0 222.3h0M394.9 233.0h0M336.7 248.5h0M359.5 201.1h0M396.7 280.8h0M392.3 255.6h0M346.3 206.9h0M394.4 225.9h0M394.0 287.5h0M397.6 274.0h0M348.2 204.0h0M364.6 263.0h0M393.0 241.8h0M366.9 197.1h0M396.1 242.5h0M369.0 268.8h0M386.8 212.2h0M390.9 213.9h0M355.9 253.6h0M354.8 255.4h0M397.0 275.2h0M323.9 234.9h0M367.6 267.3h0M372.4 199.6h0M389.4 217.4h0M394.3 231.2h0M326.2 239.3h0M365.9 266.3h0M364.3 263.3h0" stroke="#b5a67a" stroke-width="2.20" stroke-linecap="round" fill="none"/>
<path d="M235.6 321.7h0M207.8 297.9h0M201.6 364.1h0M234.6 350.8h0M215.1 373.0h0M228.6 315.4h0M233.4 322.3h0M227.5 310.7h0M236.8 330.9h0M179.8 313.3h0M170.5 324.6h0M195.3 359.9h0M169.0 330.5h0M169.1 329.7h0M232.3 365.6h0M233.7 324.8h0M230.8 366.3h0M190.9 300.3h0M208.1 298.7h0M217.4 373.9h0M231.6 362.9h0M238.5 332.9h0M189.1 305.0h0M218.3 305.3h0M232.8 362.9h0M204.3 369.1h0M219.2 373.7h0M197.2 361.4h0M174.9 317.6h0M233.8 361.0h0M234.2 355.0h0M238.0 343.9h0M197.5 298.6h0M198.7 365.5h0" stroke="#8db8e0" stroke-width="2.20" stroke-linecap="round" fill="none"/>
<path d="M340.4 349.3h0M331.6 388.0h0M264.5 365.4h0M282.7 306.4h0M339.4 330.8h0M336.9 375.5h0M304.4 386.7h0M283.0 311.4h0M334.3 294.5h0M293.3 380.6h0M284.3 315.2h0M283.5 326.7h0M268.6 343.8h0M337.3 369.0h0M337.3 378.8h0M332.5 304.6h0M338.7 337.5h0M247.7 347.3h0M283.3 308.1h0M332.1 298.2h0M341.3 358.0h0M333.7 387.7h0M247.3 346.5h0M282.7 324.0h0M341.6 364.4h0M287.9 281.8h0M311.6 273.4h0M305.3 275.5h0M295.6 276.8h0M336.4 375.1h0M251.6 362.4h0M249.0 345.8h0M341.8 351.0h0M338.0 371.3h0M283.9 289.3h0M341.4 347.4h0M256.4 363.3h0M280.0 298.0h0M284.3 304.3h0M301.7 277.1h0M338.8 372.0h0M283.0 310.4h0M286.4 317.6h0M300.5 387.3h0M248.9 344.5h0M289.3 282.0h0M259.7 366.5h0M269.4 368.0h0M232.5 357.9h0M335.3 316.1h0M332.3 296.2h0M333.5 293.6h0M327.2 397.8h0M334.9 311.3h0M333.5 385.8h0M283.0 308.8h0M305.6 388.2h0M332.0 292.3h0M249.2 346.8h0M337.3 378.1h0M263.0 366.1h0M283.9 322.8h0M238.4 348.7h0M262.6 364.9h0M240.1 361.5h0M251.0 363.0h0M255.2 364.7h0M282.1 335.8h0M303.3 274.9h0M285.4 323.0h0M337.9 316.0h0M280.2 297.6h0M311.2 391.8h0M329.2 290.6h0M282.1 298.4h0M321.2 394.7h0M340.6 363.8h0M254.3 364.5h0M340.3 368.7h0M337.9 319.3h0M283.3 323.8h0M331.7 385.3h0M291.7 280.0h0M337.8 324.0h0M242.2 362.0h0M329.1 287.6h0M328.3 399.9h0M274.5 366.9h0M291.5 381.5h0M299.6 387.3h0M333.2 384.7h0M242.8 345.7h0M289.7 378.1h0M281.3 338.6h0M283.4 330.4h0M258.6 366.2h0M283.2 324.2h0M297.8 276.4h0M319.7 395.3h0M283.7 293.6h0M331.1 294.0h0M332.4 299.8h0" stroke="#148d74" stroke-width="2.20" stroke-linecap="round" fill="none"/>
<path d="M430.2 329.3h0M423.7 413.1h0M418.5 420.5h0M406.2 278.8h0M389.8 301.8h0M427.8 388.0h0M416.9 424.2h0M395.7 317.7h0M431.5 321.8h0M427.9 350.5h0M423.5 395.3h0M422.5 403.6h0M395.0 330.1h0M428.3 385.2h0M427.5 385.1h0M396.6 343.1h0M396.1 351.4h0M391.2 296.7h0M428.1 362.9h0M422.4 296.5h0M391.3 380.0h0M424.2 390.1h0M428.3 378.8h0M395.3 329.1h0M390.3 282.2h0M390.2 279.3h0M395.4 332.7h0M426.7 397.0h0M423.0 401.2h0M407.2 280.1h0M424.6 407.0h0M428.8 367.0h0M394.5 368.4h0M395.2 319.6h0M393.1 310.0h0M428.9 322.8h0M428.7 348.3h0M409.9 425.0h0M425.2 404.9h0M397.9 325.4h0M389.8 290.1h0M394.2 396.8h0M396.9 271.5h0M430.3 367.7h0M401.0 420.0h0M428.8 339.7h0M394.8 340.1h0M423.4 299.8h0M432.0 319.4h0M430.8 334.0h0M394.3 274.5h0M429.8 347.4h0M394.3 326.6h0M427.9 304.6h0M429.9 340.4h0M399.0 275.7h0" stroke="#0f7b4b" stroke-width="2.20" stroke-linecap="round" fill="none"/>
<path d="M483.7 248.1h0M487.1 251.6h0M473.6 287.4h0M465.6 278.9h0M487.0 253.4h0M447.7 232.0h0M464.1 236.9h0M504.7 273.0h0M504.1 273.0h0M482.7 248.7h0M498.0 262.0h0M460.1 267.8h0M461.9 233.4h0M500.1 298.6h0M461.2 262.5h0M479.6 289.3h0M466.4 274.6h0M485.4 294.3h0M461.5 266.6h0M462.8 234.2h0M508.3 278.9h0M447.8 232.4h0M457.5 256.7h0M505.7 297.1h0M485.6 294.7h0M469.9 238.6h0M477.4 247.7h0M485.5 251.1h0M508.1 281.9h0M462.5 267.6h0M506.7 282.8h0M459.2 233.2h0M467.3 280.4h0M453.2 228.4h0M468.7 239.9h0M484.4 294.2h0M458.5 263.5h0M460.8 232.9h0M459.6 266.4h0M500.2 301.2h0M448.5 243.5h0M508.1 286.8h0" stroke="#a83e64" stroke-width="2.20" stroke-linecap="round" fill="none"/>
<path d="M466.6 326.4h0M493.3 405.3h0M481.6 407.0h0M475.2 402.1h0M484.0 279.8h0M465.9 364.3h0M491.5 404.4h0M505.7 291.7h0M519.4 373.4h0M465.9 334.7h0M525.0 318.8h0M515.0 303.8h0M498.1 286.7h0M468.1 318.8h0M487.9 280.6h0M524.3 364.7h0M465.3 335.3h0M467.4 335.9h0M473.3 399.7h0M468.0 359.5h0M466.1 323.9h0M464.8 345.6h0M524.2 326.1h0M519.6 371.8h0M526.4 337.0h0M479.6 405.2h0M465.8 321.1h0M465.4 302.4h0M503.5 287.5h0M467.3 362.2h0M504.0 396.6h0M466.3 316.2h0M467.5 381.1h0M469.0 283.6h0M468.5 352.9h0M526.6 341.0h0M502.8 289.0h0M516.0 376.6h0M468.5 366.6h0M524.9 326.3h0M507.8 294.0h0M467.8 302.4h0M524.8 361.4h0M467.2 366.9h0M514.4 301.2h0M525.2 328.9h0M516.2 378.9h0M472.1 402.3h0M525.9 359.1h0M513.3 383.2h0M486.8 278.3h0M468.2 387.7h0M509.1 387.1h0M522.1 368.4h0M466.1 291.7h0M465.2 331.3h0M473.2 277.5h0M498.3 287.8h0" stroke="#574e94" stroke-width="2.20" stroke-linecap="round" fill="none"/>
<path d="M417.2 408.8h0M543.0 451.4h0M499.6 399.6h0M497.4 513.2h0M543.8 401.5h0M431.7 359.1h0M538.7 396.1h0M513.7 393.0h0M551.5 423.1h0M523.1 500.0h0M435.7 473.6h0M420.6 399.2h0M550.1 426.4h0M424.7 439.1h0M525.2 390.0h0M540.1 475.8h0M483.4 397.6h0M551.0 428.6h0M427.7 373.9h0M425.8 375.1h0M546.7 407.2h0M548.3 441.5h0M498.2 515.8h0M468.7 379.0h0M504.7 397.9h0M543.8 403.2h0M493.2 517.1h0M488.7 518.2h0M423.3 434.1h0M548.9 430.2h0M478.2 393.4h0M543.5 460.2h0M436.1 477.0h0M508.6 392.8h0M488.6 398.6h0M505.2 394.7h0M442.6 355.7h0M510.0 393.6h0M517.1 391.6h0M542.1 401.5h0M515.9 392.3h0M445.5 497.7h0M533.1 485.3h0M472.1 388.5h0M530.0 394.2h0M459.0 366.4h0M424.7 437.8h0M424.5 385.9h0M534.5 481.9h0M512.3 508.1h0M501.9 395.2h0M533.7 393.4h0M520.4 501.6h0M473.2 389.9h0M492.5 515.5h0M541.1 461.5h0M522.5 499.4h0M466.4 514.4h0M446.0 502.4h0M461.1 365.7h0M549.8 429.0h0M540.8 462.1h0M431.0 367.2h0M463.1 517.7h0M437.6 485.3h0M551.5 423.9h0M417.7 412.7h0M468.6 382.6h0M426.2 441.9h0M454.6 511.1h0M471.6 384.8h0M487.0 516.1h0M512.8 506.8h0M462.0 514.1h0M436.3 478.5h0M423.5 436.7h0M427.1 443.2h0M508.4 396.1h0M421.8 431.4h0M538.2 477.7h0M443.4 499.9h0M433.6 460.1h0M455.9 512.0h0M422.4 427.9h0M522.3 391.9h0M480.3 398.9h0M543.9 448.7h0M511.3 507.3h0M532.9 486.5h0M543.8 454.6h0M430.9 445.6h0M448.3 504.5h0M532.5 485.8h0M546.3 446.3h0M425.5 374.8h0M546.5 407.5h0M542.3 402.8h0M491.1 400.1h0M506.6 508.9h0M421.1 400.0h0M483.0 519.8h0M533.7 485.6h0M438.9 481.9h0M476.1 391.9h0M438.4 487.3h0M451.3 506.8h0M422.5 433.1h0M434.4 463.2h0M432.0 462.5h0M442.7 497.3h0M541.7 466.2h0M424.4 385.1h0M550.8 435.0h0M426.0 434.9h0M424.6 387.4h0M508.6 395.8h0M425.8 442.4h0M436.0 487.5h0M550.7 412.3h0M427.9 439.0h0M478.4 517.5h0M427.8 370.7h0M471.1 380.5h0M423.6 428.5h0M494.1 400.6h0M456.5 511.9h0M452.0 357.8h0M549.5 438.7h0M537.7 472.3h0M426.5 434.7h0" stroke="#0b5c9c" stroke-width="2.20" stroke-linecap="round" fill="none"/>
<path d="M391.4 462.3h0M433.4 416.9h0M428.5 513.7h0M386.9 468.5h0M417.3 510.6h0M371.0 484.7h0M408.9 402.2h0M399.9 510.2h0M452.8 517.3h0M371.9 492.1h0M412.5 402.1h0M419.3 514.6h0M447.9 486.4h0M375.0 481.2h0M401.6 409.7h0M453.7 500.5h0M427.2 516.2h0M428.3 407.2h0M448.4 487.2h0M394.7 418.5h0M429.9 414.1h0M441.2 465.5h0M420.5 512.3h0M387.4 467.6h0M433.6 517.5h0M451.0 494.7h0M446.7 483.9h0M456.2 506.1h0M431.4 514.6h0M388.3 465.8h0M458.4 509.2h0M421.4 403.0h0M401.2 407.5h0M439.1 456.9h0M430.1 411.1h0M457.8 517.3h0M455.3 506.3h0M438.0 448.6h0M379.0 476.1h0M396.3 432.6h0M437.1 430.9h0M451.8 518.6h0M393.4 507.5h0M438.5 432.3h0M375.1 493.7h0M443.1 467.0h0M432.0 415.7h0M458.2 515.2h0M394.1 440.0h0M434.2 516.7h0M435.1 420.1h0M378.2 479.3h0M435.8 436.8h0M381.3 476.4h0M447.7 485.2h0M447.5 484.8h0M438.2 455.0h0M372.1 483.7h0M389.6 467.2h0M375.2 479.7h0M393.3 456.1h0M405.8 510.3h0M438.4 438.1h0M410.6 401.5h0M375.2 482.8h0M398.0 508.4h0M393.9 455.2h0M447.2 486.9h0M397.8 424.1h0M443.7 515.9h0M450.3 488.3h0M421.5 404.3h0M440.4 462.9h0M410.7 404.5h0M439.7 457.2h0M442.7 473.6h0M426.6 406.0h0M453.6 517.5h0M400.8 407.9h0M449.5 487.2h0M455.4 515.9h0M448.1 519.6h0M376.7 479.6h0M393.4 444.4h0M435.6 425.2h0M404.9 508.7h0M385.1 472.8h0M436.8 443.1h0" stroke="#b21a3c" stroke-width="2.20" stroke-linecap="round" fill="none"/>
<path d="M367.9 443.6h0M350.7 410.9h0M374.9 445.0h0M361.8 409.2h0M337.7 436.6h0M362.3 411.8h0M381.8 417.3h0M361.0 410.1h0M391.0 420.8h0M335.1 438.9h0M336.7 416.1h0M376.8 416.3h0M371.0 444.7h0M380.3 448.1h0M336.7 415.6h0M359.2 443.4h0M363.5 442.4h0M405.7 442.5h0M355.1 444.1h0M363.2 411.9h0M382.2 450.1h0M406.9 438.9h0M349.7 411.7h0M325.6 430.5h0M328.1 431.1h0M346.7 410.5h0M404.4 430.4h0" stroke="#df4e39" stroke-width="2.20" stroke-linecap="round" fill="none"/>
<path d="M332.0 471.4h0M305.4 445.9h0M304.2 447.6h0M328.1 449.1h0M301.0 457.0h0M327.5 475.2h0M305.5 474.7h0M324.5 450.2h0M322.7 447.9h0" stroke="#1cadc9" stroke-width="2.20" stroke-linecap="round" fill="none"/>
<path d="M196.8 212.0h0M153.2 297.8h0M209.2 206.1h0M196.4 409.7h0M176.6 369.9h0M183.5 293.5h0M129.9 288.9h0M154.1 425.0h0M197.3 386.3h0M141.5 386.5h0M169.3 416.2h0M190.9 409.2h0M135.7 340.1h0M138.3 411.5h0M172.8 269.7h0M186.3 385.8h0M145.7 239.6h0M134.5 404.8h0M119.9 369.8h0M146.9 274.8h0M134.4 399.7h0M208.0 202.6h0M168.0 381.1h0M121.4 335.4h0M154.3 405.9h0M150.5 247.1h0M133.2 264.7h0M190.4 419.1h0M158.1 424.2h0M141.5 267.9h0M151.0 229.6h0M143.9 310.3h0M196.1 234.1h0M125.0 294.5h0M167.1 409.8h0M185.4 377.5h0M163.9 371.4h0M186.3 420.1h0M166.0 271.5h0M186.6 214.5h0M214.1 190.8h0M187.4 386.9h0M145.9 361.9h0M177.2 237.3h0M206.4 374.1h0M156.0 281.8h0M195.5 209.6h0M140.5 271.4h0M161.1 413.9h0M179.1 211.7h0M119.8 353.2h0M180.2 399.4h0M177.9 366.8h0M152.5 305.3h0M160.8 297.9h0M145.3 338.5h0M157.6 236.2h0M165.2 242.5h0M151.0 399.6h0M202.2 199.2h0M161.7 363.6h0M168.9 280.5h0M160.0 413.5h0M172.7 386.5h0M170.4 297.9h0M178.1 271.2h0M127.1 370.5h0M183.7 225.1h0M168.5 424.7h0M155.6 358.8h0M204.7 223.4h0M140.9 392.0h0M145.9 265.1h0M184.7 205.8h0M145.9 335.9h0M191.5 253.5h0M174.4 225.2h0M151.7 271.3h0M165.2 257.4h0M167.6 277.8h0M168.3 296.4h0M144.5 319.6h0M131.3 360.0h0M183.6 385.2h0M149.9 406.3h0M176.9 267.0h0M167.7 311.9h0M170.6 321.7h0M195.2 369.7h0M175.0 382.9h0M121.5 382.2h0M155.9 289.6h0M178.7 249.1h0M166.7 258.7h0M136.6 253.5h0M139.4 286.1h0M125.4 372.6h0M147.5 411.5h0M140.0 277.6h0M134.4 316.3h0M203.1 400.1h0M126.4 363.8h0M128.6 348.6h0M136.3 276.7h0M146.6 404.4h0M197.2 231.8h0M155.0 270.8h0M182.5 261.4h0M166.1 217.0h0M205.4 370.3h0M132.5 316.6h0M198.3 268.5h0M201.8 373.4h0M207.7 183.0h0M170.3 273.8h0M116.5 313.4h0M188.9 200.7h0M122.3 287.3h0M132.1 269.1h0M118.3 318.9h0M138.7 392.9h0M132.2 284.5h0M183.6 237.3h0M188.6 384.0h0M196.9 367.7h0M171.0 404.1h0M139.7 373.8h0M158.4 384.2h0M175.7 384.1h0M208.9 185.5h0M169.6 274.8h0M208.3 190.6h0M176.7 298.8h0M207.0 393.8h0M179.4 262.0h0M167.1 336.2h0M120.7 322.5h0M116.2 360.5h0M127.9 300.0h0M143.5 267.1h0M122.9 339.3h0M144.9 371.3h0M150.5 246.5h0M199.8 232.1h0M141.4 373.3h0M188.7 205.5h0M152.4 360.0h0M154.5 372.0h0M165.6 401.9h0M189.0 392.4h0M136.2 279.5h0M172.0 222.3h0M163.3 244.6h0M188.9 257.0h0M176.5 356.8h0M216.2 170.2h0M219.6 183.7h0M201.6 190.4h0M157.5 273.9h0M129.4 291.3h0M179.8 210.5h0M129.1 352.3h0M166.4 227.7h0M149.7 294.2h0M119.5 321.1h0M183.0 411.0h0M202.6 184.3h0M185.7 233.4h0M201.7 192.5h0M172.9 391.4h0M197.5 190.9h0M198.9 251.4h0M151.1 261.8h0M203.4 401.9h0M116.3 365.2h0M152.1 417.3h0M195.5 367.3h0M139.2 301.3h0M181.6 411.7h0M149.0 372.5h0M146.5 297.8h0M132.2 322.7h0M127.5 350.6h0M206.3 195.9h0M175.2 416.8h0M155.7 226.2h0M194.1 203.9h0M172.7 348.0h0M140.0 328.1h0M160.1 420.0h0M122.5 367.5h0M207.4 188.2h0M169.0 249.9h0M174.8 243.4h0M133.1 298.6h0M190.7 357.3h0M157.4 352.8h0M137.5 388.8h0M181.7 205.6h0M194.2 276.2h0M127.1 332.2h0M169.8 249.6h0M192.0 276.8h0M154.4 345.4h0M166.9 362.4h0M192.6 231.7h0M155.6 262.1h0M137.3 398.1h0M179.6 261.5h0M164.3 214.6h0M152.0 268.6h0M162.5 269.7h0M168.6 288.6h0M139.6 337.7h0M146.3 310.9h0M167.0 329.7h0M121.0 328.4h0M173.0 399.8h0M197.3 218.9h0M182.7 399.7h0M170.2 296.9h0M157.5 303.5h0M169.8 378.3h0M158.3 299.2h0M164.3 317.8h0M176.0 400.5h0M194.9 361.6h0M122.1 362.4h0M196.3 259.1h0M162.8 403.1h0M179.5 356.4h0M144.8 358.0h0M131.7 301.5h0M180.9 400.0h0M189.7 202.5h0M140.6 266.5h0M161.1 262.3h0M175.1 385.7h0M183.6 384.6h0M191.4 408.4h0M139.9 330.9h0M168.2 420.9h0M174.8 418.5h0M206.9 219.3h0M207.5 199.5h0M150.6 404.8h0M117.0 368.6h0M157.9 282.1h0M169.2 373.0h0M166.3 428.8h0M153.7 390.2h0M185.3 258.2h0M176.7 213.0h0M173.6 305.9h0M175.5 340.5h0M155.9 314.1h0M173.0 336.0h0M195.7 239.9h0M134.6 288.5h0M180.9 361.7h0M145.9 251.7h0M129.1 362.5h0M199.6 196.1h0M148.3 245.5h0M160.5 410.0h0M166.0 247.9h0M168.8 343.6h0M130.9 356.6h0M126.2 304.6h0M213.0 190.1h0M174.6 422.2h0M198.3 213.8h0M158.4 423.8h0M170.5 382.6h0M148.1 243.3h0M180.6 375.0h0M180.2 258.6h0M164.8 246.3h0M179.8 274.0h0M161.6 385.8h0M123.2 313.7h0M141.6 377.0h0M172.3 213.0h0M199.9 251.3h0M161.2 419.3h0M214.6 185.6h0M181.5 376.8h0M188.4 245.0h0M128.1 268.7h0M157.3 382.0h0M153.3 251.8h0M221.5 168.7h0M136.9 376.0h0M172.8 373.6h0M172.6 427.7h0M167.7 396.2h0M208.8 175.5h0M164.6 235.5h0M164.9 329.6h0M152.8 319.8h0M176.2 395.9h0M173.5 317.8h0M119.3 357.3h0M181.1 257.9h0M117.2 351.9h0M147.5 381.0h0M184.9 364.5h0M187.6 401.0h0M140.1 376.3h0M182.4 384.5h0M193.4 194.3h0M204.6 188.4h0M136.6 398.2h0M118.0 367.9h0M156.2 230.7h0M140.2 299.2h0M204.7 190.1h0M251.7 162.4h0M279.5 94.1h0M341.4 137.5h0M300.1 147.8h0M226.2 179.2h0M312.8 164.7h0M249.5 143.8h0M255.0 85.4h0M311.4 153.9h0M253.2 181.0h0M231.3 136.2h0M249.6 183.2h0M296.1 102.1h0M299.3 70.7h0M367.6 131.2h0M302.7 144.5h0M357.4 167.5h0M317.2 81.0h0M310.8 155.0h0M302.9 80.4h0M295.3 170.7h0M289.8 166.2h0M314.8 78.8h0M358.3 154.0h0M320.4 195.3h0M239.0 133.1h0M286.1 171.0h0M347.2 109.3h0M328.6 141.9h0M370.9 161.8h0M299.5 102.2h0M261.1 140.8h0M325.6 162.0h0M246.9 159.0h0M310.6 174.6h0M220.9 161.2h0M287.6 76.2h0M255.7 90.8h0M377.3 189.6h0M288.9 127.3h0M308.3 104.6h0M253.4 158.8h0M309.1 93.4h0M327.8 141.9h0M358.2 135.0h0M251.1 169.0h0M284.6 167.3h0M307.4 116.5h0M281.2 126.5h0M328.1 137.6h0M361.0 141.2h0M260.2 140.3h0M318.6 90.8h0M335.4 185.4h0M241.1 176.6h0M242.6 111.6h0M301.3 158.5h0M258.1 94.3h0M375.2 158.3h0M299.7 139.8h0M312.7 163.7h0M248.8 133.7h0M257.3 187.5h0M307.7 165.9h0M231.4 187.5h0M341.7 148.1h0M254.9 134.8h0M348.0 164.7h0M262.1 104.6h0M270.4 76.9h0M229.4 160.7h0M328.8 164.6h0M261.3 141.1h0M364.4 171.7h0M352.8 111.5h0M372.4 178.8h0M247.9 114.5h0M326.6 145.9h0M238.2 152.4h0M354.3 176.2h0M308.9 75.4h0M279.3 184.7h0M338.0 166.3h0M312.1 176.7h0M316.9 91.8h0M324.4 200.4h0M321.7 143.8h0M236.0 185.2h0M330.7 124.2h0M247.7 156.3h0M274.2 174.5h0M325.7 180.3h0M294.3 82.0h0M304.5 148.2h0M236.5 128.8h0M318.6 97.6h0M266.9 191.1h0M297.0 96.1h0M352.7 114.2h0M342.2 131.3h0M336.7 95.7h0M315.1 132.4h0M343.5 157.1h0M299.5 119.4h0M333.4 157.8h0M366.7 196.7h0M334.3 178.2h0M304.6 116.8h0M330.0 136.8h0M288.4 154.4h0M365.6 172.0h0M279.4 138.5h0M290.8 159.8h0M368.7 153.1h0M313.8 172.3h0M221.4 164.1h0M374.0 167.3h0M284.2 71.6h0M288.3 123.8h0M274.7 182.3h0M330.9 96.6h0M265.4 136.7h0M256.6 153.3h0M354.2 130.8h0M241.5 159.1h0M304.9 101.4h0M333.2 128.6h0M340.6 127.8h0M374.0 154.8h0M233.4 162.6h0M344.0 166.7h0M376.2 168.2h0M242.0 132.0h0M358.4 156.4h0M302.3 128.1h0M263.7 131.3h0M247.3 111.1h0M236.4 164.6h0M250.7 141.7h0M242.7 107.1h0M287.5 153.7h0M310.3 118.2h0M333.6 108.0h0M282.7 143.7h0M293.9 106.9h0M329.0 157.6h0M325.7 166.6h0M311.5 156.5h0M294.0 184.4h0M284.4 80.5h0M295.3 149.7h0M283.4 178.8h0M304.2 172.2h0M221.2 151.1h0M301.3 107.1h0M284.1 134.0h0M343.6 110.9h0M311.8 147.4h0M359.1 142.2h0M345.2 165.7h0M258.0 135.4h0M277.4 144.8h0M277.2 170.6h0M318.7 126.1h0M291.9 94.1h0M277.0 103.3h0M345.6 128.5h0M286.4 129.1h0M357.9 202.0h0M305.8 146.2h0M258.0 158.6h0M233.6 125.7h0M308.6 128.7h0M257.4 108.5h0M308.7 162.1h0M288.4 130.8h0M320.6 144.6h0M337.5 116.2h0M230.4 146.6h0M302.1 116.1h0M285.3 149.6h0M342.8 119.1h0M268.4 75.9h0M320.9 198.0h0M315.1 123.5h0M300.4 186.5h0M336.5 92.7h0M346.0 122.4h0M305.4 103.0h0M238.1 158.1h0M275.5 167.3h0M257.5 92.4h0M296.9 152.0h0M348.2 174.3h0M287.4 122.7h0M327.8 153.1h0M250.3 134.2h0M279.9 95.1h0M333.1 110.3h0M283.3 120.9h0M289.0 148.1h0M294.8 107.6h0M311.2 132.5h0M293.7 110.4h0M265.6 104.3h0M357.4 160.0h0M299.9 129.7h0M323.7 182.0h0M277.7 158.8h0M249.4 146.8h0M282.1 164.2h0M314.9 154.3h0M340.7 165.8h0M284.2 140.0h0M311.1 103.5h0M352.3 150.7h0M332.6 125.8h0M361.0 171.4h0M324.6 84.0h0M369.2 167.1h0M325.8 137.0h0M345.8 125.8h0M272.5 85.7h0M260.8 156.5h0M363.8 128.1h0M359.2 152.2h0M355.4 166.6h0M242.8 162.4h0M360.3 121.5h0M246.6 125.8h0M285.5 120.3h0M323.3 146.5h0M244.6 178.7h0M270.2 164.1h0M342.3 120.6h0M225.5 161.1h0M373.4 143.3h0M261.8 142.4h0M353.8 178.4h0M316.8 159.2h0M250.1 182.7h0M289.9 166.3h0M328.4 123.6h0M305.4 87.5h0M368.5 189.0h0M315.6 93.0h0M251.3 94.0h0M363.5 193.4h0M305.3 112.9h0M300.3 103.0h0M285.9 185.5h0M274.4 83.0h0M335.6 155.2h0M315.8 158.4h0M260.2 100.7h0M313.0 137.3h0M277.1 88.1h0M324.1 140.6h0M283.6 184.4h0M317.2 104.2h0M279.6 132.6h0M272.5 139.8h0M362.6 137.7h0M306.7 133.8h0M333.2 121.6h0M254.4 84.8h0M252.2 126.2h0M285.8 88.7h0M287.3 111.6h0M245.3 196.2h0M279.4 204.0h0M309.7 205.3h0M245.0 209.3h0M244.0 222.5h0M262.0 266.0h0M305.7 203.7h0M268.2 273.0h0M270.6 218.4h0M319.8 200.2h0M247.0 229.3h0M250.1 236.6h0M297.8 279.8h0M271.8 209.9h0M260.7 231.5h0M280.9 232.0h0M264.9 219.3h0M284.0 284.6h0M245.0 216.8h0M316.0 196.0h0M271.4 270.1h0M266.8 264.2h0M248.5 255.5h0M294.5 210.0h0M287.6 218.9h0M313.0 251.4h0M297.8 242.9h0M276.0 216.5h0M239.6 243.0h0M331.8 217.7h0M290.3 239.3h0M260.0 257.0h0M301.9 250.2h0M248.8 190.3h0M308.6 273.9h0M282.9 230.4h0M264.9 234.6h0M296.6 205.6h0M261.3 221.2h0M313.0 220.6h0M278.5 229.2h0M264.1 273.0h0M285.7 237.4h0M263.5 190.7h0M273.1 265.1h0M265.3 199.7h0M256.3 269.7h0M272.2 263.0h0M303.3 201.7h0M325.8 212.3h0M287.0 264.7h0M262.7 188.4h0M247.9 224.8h0M239.2 222.7h0M310.7 228.6h0M281.1 286.0h0M304.8 254.1h0M302.5 251.4h0M305.8 232.8h0M271.3 211.1h0M314.8 236.8h0M323.3 246.7h0M283.6 242.1h0M248.7 248.9h0M314.6 196.1h0M239.2 251.5h0M303.5 194.6h0M296.7 223.0h0M243.4 197.3h0M305.8 271.2h0M311.9 197.0h0M281.7 264.1h0M262.2 214.4h0M279.6 195.7h0M242.1 225.7h0M272.2 214.6h0M302.4 201.6h0M262.7 258.2h0M286.8 272.3h0M324.8 255.8h0M332.2 214.0h0M271.4 261.6h0M295.5 249.7h0M315.7 251.9h0M306.7 217.1h0M303.5 244.3h0M245.9 228.7h0M314.8 263.4h0M301.7 210.1h0M282.2 186.3h0M243.4 193.1h0M261.5 276.7h0M286.5 276.2h0M312.1 241.4h0M294.5 251.8h0M310.5 200.5h0M328.6 243.9h0M313.9 197.9h0M253.7 278.6h0M271.1 213.0h0M301.3 230.3h0M255.4 207.2h0M315.9 258.8h0M242.2 220.9h0M310.2 212.3h0M305.1 209.0h0M317.8 243.8h0M290.3 197.0h0M369.9 209.9h0M366.8 234.0h0M392.2 272.3h0M374.7 235.5h0M364.0 242.0h0M364.3 220.9h0M353.0 229.1h0M364.4 259.9h0M366.9 220.7h0M374.9 223.0h0M332.3 231.2h0M377.6 263.0h0M375.0 206.5h0M326.2 232.8h0M370.1 243.5h0M366.9 262.0h0M381.7 221.5h0M344.2 210.6h0M366.7 208.0h0M381.3 270.9h0M386.7 272.8h0M387.5 272.9h0M340.7 243.1h0M347.5 234.7h0M325.8 236.7h0M345.6 215.8h0M355.1 220.9h0M385.7 245.8h0M359.1 247.2h0M376.8 237.2h0M378.4 234.9h0M344.2 224.8h0M393.5 276.5h0M331.1 221.5h0M369.3 239.6h0M328.3 237.6h0M337.4 219.1h0M338.6 214.4h0M330.5 220.1h0M358.0 229.0h0M373.1 262.3h0M379.9 270.0h0M387.6 220.6h0M368.9 218.4h0M344.1 243.0h0M331.8 240.5h0M379.1 220.9h0M332.8 237.4h0M363.4 231.1h0M368.1 204.3h0M382.2 236.2h0M348.4 244.4h0M363.5 206.4h0M368.3 210.6h0M366.7 224.0h0M369.0 265.1h0M231.6 358.3h0M174.7 330.3h0M206.8 302.5h0M208.3 366.8h0M191.8 317.2h0M213.6 329.0h0M190.1 321.4h0M210.9 307.7h0M200.4 303.5h0M180.9 342.7h0M188.4 331.7h0M206.9 317.3h0M198.8 307.0h0M188.3 341.7h0M208.6 322.4h0M215.2 313.9h0M212.6 327.4h0M191.8 344.9h0M218.5 364.5h0M207.2 352.4h0M205.3 358.2h0M179.7 335.6h0M198.8 305.5h0M213.2 327.8h0M190.4 353.6h0M230.9 322.4h0M200.9 315.6h0M200.1 333.2h0M179.0 328.0h0M220.6 352.8h0M183.4 326.0h0M224.0 322.0h0M213.3 332.2h0M206.5 303.8h0M215.4 317.8h0M215.5 349.2h0M181.2 327.8h0M207.1 347.2h0M215.4 366.6h0M200.4 340.7h0M208.1 347.7h0M213.1 320.3h0M249.4 360.3h0M296.8 289.4h0M267.7 354.6h0M302.9 379.0h0M298.0 321.4h0M302.0 345.7h0M323.7 294.7h0M327.6 395.6h0M319.2 346.0h0M292.0 354.6h0M325.0 358.0h0M314.1 305.2h0M290.5 311.4h0M281.5 350.3h0M301.0 287.1h0M275.7 360.4h0M318.0 391.2h0M284.2 341.6h0M316.4 379.9h0M315.3 364.4h0M317.1 391.7h0M303.0 317.5h0M261.6 355.7h0M320.9 283.8h0M264.1 349.3h0M307.0 375.3h0M327.5 371.0h0M312.5 311.7h0M325.2 295.5h0M318.1 353.7h0M293.1 371.8h0M320.1 295.5h0M321.0 309.4h0M318.3 313.2h0M316.6 313.7h0M325.1 309.9h0M285.5 291.3h0M291.0 312.2h0M304.0 324.1h0M322.0 383.5h0M323.5 366.9h0M297.3 307.3h0M291.6 355.7h0M296.8 380.1h0M333.8 321.5h0M314.8 322.4h0M299.5 298.8h0M281.8 346.6h0M287.9 338.9h0M303.8 379.6h0M323.2 351.8h0M288.7 321.2h0M281.3 350.4h0M301.2 343.7h0M294.4 346.1h0M292.7 330.2h0M310.7 330.6h0M324.5 297.5h0M336.0 350.6h0M291.4 366.7h0M321.7 335.4h0M330.9 375.3h0M293.8 329.0h0M311.7 297.8h0M306.7 354.0h0M338.8 350.0h0M300.3 284.3h0M319.9 317.5h0M313.0 312.1h0M316.5 277.0h0M316.4 277.7h0M296.2 310.3h0M294.3 368.0h0M296.1 360.2h0M325.7 367.6h0M335.8 353.1h0M318.6 335.1h0M291.2 362.2h0M255.8 351.7h0M303.4 356.8h0M270.2 361.3h0M287.7 320.9h0M306.2 329.4h0M290.7 359.9h0M333.3 362.8h0M302.5 321.4h0M312.9 340.9h0M285.6 343.3h0M288.6 336.2h0M300.5 382.0h0M301.3 341.2h0M288.0 287.9h0M294.5 327.3h0M291.1 288.9h0M308.2 344.5h0M309.7 373.9h0M316.5 317.8h0M315.6 353.5h0M264.9 362.7h0M301.0 351.0h0M335.2 325.4h0M262.7 345.8h0M286.7 286.1h0M312.9 374.6h0M259.1 349.1h0M289.9 297.1h0M327.9 349.4h0M296.7 349.5h0M290.4 349.2h0M420.0 338.5h0M394.0 281.9h0M398.6 358.0h0M420.6 317.4h0M407.9 326.8h0M408.4 367.3h0M402.1 287.9h0M404.1 353.9h0M415.1 334.7h0M414.5 293.5h0M409.8 368.5h0M423.3 377.0h0M416.5 364.5h0M417.4 357.4h0M408.6 415.4h0M411.6 297.3h0M403.7 283.0h0M404.3 338.5h0M422.4 326.7h0M398.0 358.8h0M400.7 298.6h0M421.8 389.8h0M404.5 409.4h0M403.9 350.2h0M415.2 375.8h0M415.5 372.7h0M409.4 422.6h0M418.0 305.0h0M398.2 299.5h0M413.8 329.8h0M405.1 381.4h0M401.9 342.8h0M407.6 387.5h0M399.0 344.7h0M398.4 354.7h0M421.1 395.4h0M410.8 341.3h0M422.7 323.5h0M404.4 388.1h0M401.7 292.6h0M414.5 365.3h0M498.9 277.8h0M467.1 271.3h0M499.3 270.9h0M476.1 249.8h0M491.9 264.7h0M467.6 254.3h0M468.5 273.6h0M484.3 275.7h0M482.0 288.3h0M506.5 292.9h0M499.3 278.2h0M502.3 294.9h0M478.9 287.3h0M471.1 248.2h0M489.9 255.3h0M488.2 268.3h0M499.3 266.4h0M478.4 270.0h0M491.4 284.9h0M501.6 285.3h0M500.3 283.3h0M509.4 335.4h0M502.3 296.0h0M471.5 315.4h0M501.5 320.3h0M469.7 355.3h0M474.6 313.7h0M508.7 382.1h0M519.1 370.5h0M468.7 345.0h0M514.1 329.5h0M508.1 306.0h0M515.3 355.6h0M503.8 324.7h0M477.2 305.7h0M501.6 363.8h0M513.3 345.8h0M512.9 332.4h0M471.5 323.1h0M509.3 334.7h0M480.6 378.0h0M499.1 382.5h0M469.2 337.3h0M510.8 305.0h0M495.6 289.5h0M482.2 387.3h0M489.9 291.2h0M469.8 308.3h0M481.3 307.4h0M503.3 315.9h0M481.7 363.1h0M486.0 326.5h0M481.3 379.1h0M497.0 360.1h0M504.2 330.5h0M514.9 317.6h0M514.4 327.4h0M491.5 332.0h0M513.7 312.7h0M481.8 388.0h0M472.4 348.7h0M517.8 339.1h0M470.2 361.9h0M514.9 337.0h0M470.0 329.2h0M520.0 322.8h0M510.9 355.5h0M481.5 288.0h0M473.9 282.2h0M520.7 337.8h0M469.2 299.7h0M515.8 360.6h0M482.8 314.4h0M491.1 351.8h0M469.3 306.8h0M468.9 325.3h0M523.1 336.6h0M471.5 313.6h0M475.5 372.9h0M515.3 323.9h0M499.8 362.6h0M514.5 368.1h0M490.7 345.1h0M436.8 420.4h0M526.2 459.2h0M441.3 421.1h0M492.7 403.7h0M441.2 362.9h0M494.4 501.4h0M449.2 443.1h0M487.2 495.2h0M472.3 449.7h0M509.7 453.4h0M498.7 473.2h0M502.3 467.0h0M460.9 416.9h0M423.8 411.4h0M500.9 489.5h0M498.3 456.2h0M502.0 449.8h0M516.7 428.9h0M455.0 471.3h0M478.7 464.2h0M453.8 401.9h0M526.7 472.7h0M523.3 474.1h0M489.6 415.9h0M481.5 435.8h0M519.6 464.1h0M462.0 431.0h0M501.6 475.2h0M479.7 442.1h0M518.2 474.4h0M441.8 430.6h0M451.7 450.8h0M437.5 390.4h0M472.1 499.8h0M537.9 446.8h0M460.6 500.2h0M484.1 456.3h0M489.9 444.6h0M461.1 433.1h0M427.6 423.0h0M481.3 420.3h0M435.7 445.9h0M478.7 504.9h0M453.3 372.5h0M513.8 417.7h0M476.3 445.1h0M532.6 481.3h0M473.2 471.4h0M437.9 464.1h0M534.4 420.7h0M525.4 475.2h0M524.5 436.0h0M458.8 492.8h0M437.2 458.4h0M533.5 441.9h0M498.7 428.6h0M532.4 468.2h0M468.3 460.7h0M456.0 494.5h0M486.5 420.6h0M485.8 425.3h0M474.7 422.1h0M474.1 451.3h0M501.2 460.0h0M451.9 500.8h0M434.1 445.1h0M458.3 464.8h0M422.0 403.4h0M505.7 427.3h0M497.6 408.9h0M495.8 472.2h0M458.2 376.4h0M449.6 386.4h0M451.0 494.3h0M475.1 498.5h0M507.9 446.4h0M516.3 486.8h0M479.1 409.4h0M526.0 452.4h0M436.7 448.5h0M464.8 416.0h0M526.4 425.4h0M528.4 489.2h0M488.3 438.5h0M453.5 452.1h0M459.2 401.3h0M483.0 495.0h0M452.3 427.1h0M492.2 463.6h0M467.6 497.2h0M467.9 487.7h0M444.9 384.6h0M529.3 437.4h0M496.2 465.1h0M446.9 465.1h0M459.7 384.9h0M457.9 488.2h0M444.9 389.4h0M460.3 446.9h0M510.6 457.1h0M457.0 407.3h0M451.4 380.1h0M456.8 400.3h0M475.0 459.9h0M547.0 413.2h0M463.3 454.2h0M461.1 381.6h0M446.4 458.8h0M481.4 442.5h0M454.7 466.5h0M495.5 401.3h0M538.6 463.0h0M429.5 410.9h0M493.3 469.7h0M451.8 378.0h0M471.4 447.0h0M538.1 429.1h0M463.6 404.9h0M443.5 407.8h0M430.5 374.5h0M497.3 431.3h0M450.5 425.5h0M466.6 431.0h0M499.4 465.7h0M481.2 430.8h0M503.4 449.2h0M536.8 420.7h0M501.9 490.1h0M473.8 458.1h0M507.6 449.4h0M492.8 475.2h0M497.2 420.9h0M451.9 500.5h0M466.6 439.6h0M436.4 388.7h0M449.3 446.5h0M511.9 409.6h0M498.8 493.2h0M460.1 492.7h0M518.6 445.3h0M501.0 469.7h0M453.1 466.1h0M496.6 474.0h0M461.5 380.9h0M504.6 447.4h0M450.1 421.0h0M457.7 412.8h0M498.0 467.2h0M515.0 430.3h0M463.6 498.1h0M490.4 413.9h0M457.1 368.4h0M514.8 415.3h0M520.5 490.0h0M533.8 476.8h0M472.5 481.6h0M485.7 437.5h0M433.7 402.3h0M486.0 426.9h0M453.6 390.6h0M491.4 424.5h0M533.6 448.2h0M529.4 416.1h0M433.9 403.0h0M540.8 420.5h0M519.2 484.4h0M483.0 470.3h0M427.4 427.6h0M466.1 409.4h0M465.2 431.0h0M498.9 492.7h0M450.6 486.6h0M491.6 408.2h0M505.2 451.5h0M521.2 466.8h0M512.8 431.6h0M465.0 423.4h0M495.1 434.5h0M451.4 420.4h0M482.6 446.4h0M470.8 397.4h0M456.8 475.4h0M499.5 454.3h0M465.1 400.2h0M471.2 484.3h0M428.9 435.4h0M478.5 511.9h0M476.6 432.5h0M499.8 508.7h0M467.8 447.3h0M444.3 494.0h0M520.1 426.5h0M443.6 472.7h0M543.8 440.9h0M548.5 422.1h0M521.4 449.8h0M535.0 406.1h0M489.0 417.7h0M477.6 451.4h0M460.9 461.3h0M504.3 427.8h0M450.7 359.5h0M436.6 395.8h0M463.5 483.5h0M458.8 441.5h0M525.4 406.5h0M537.0 436.0h0M460.8 412.7h0M445.2 375.1h0M456.4 432.9h0M475.7 475.1h0M467.9 453.5h0M455.5 391.9h0M437.2 411.2h0M520.7 437.9h0M467.8 483.9h0M448.6 515.3h0M442.4 499.8h0M400.0 453.6h0M430.8 421.7h0M448.7 500.2h0M407.3 460.8h0M427.1 489.1h0M429.4 443.5h0M410.2 496.0h0M388.0 487.1h0M409.3 450.2h0M444.7 512.4h0M414.2 482.5h0M413.5 499.2h0M440.0 476.7h0M393.4 466.9h0M415.5 453.6h0M431.7 458.5h0M420.6 464.3h0M413.6 464.5h0M400.7 427.9h0M408.8 415.3h0M428.7 504.4h0M429.3 430.7h0M406.5 417.5h0M436.5 476.1h0M422.5 496.2h0M449.4 501.5h0M441.7 513.5h0M416.0 449.2h0M427.7 508.1h0M439.4 495.4h0M413.9 470.3h0M403.1 504.5h0M426.2 416.9h0M407.8 457.7h0M429.2 475.3h0M400.8 438.0h0M435.9 439.0h0M405.7 426.6h0M401.9 484.8h0M404.0 419.2h0M434.4 469.1h0M452.4 505.3h0M405.2 473.3h0M426.9 478.4h0M416.5 488.1h0M408.3 464.4h0M412.1 467.9h0M402.3 496.9h0M400.5 419.8h0M411.9 443.1h0M432.9 441.7h0M417.3 506.4h0M420.1 447.9h0M394.5 503.1h0M410.3 488.1h0M418.2 490.1h0M421.8 483.0h0M422.9 456.6h0M442.2 479.0h0M407.4 492.3h0M412.7 459.9h0M415.4 416.2h0M423.9 431.3h0M383.9 494.2h0M411.2 444.8h0M446.1 515.5h0M412.7 409.2h0M435.1 493.1h0M403.1 430.3h0M443.2 505.1h0M403.0 470.2h0M389.8 491.1h0M447.4 493.4h0M413.3 432.3h0M404.7 456.9h0M412.1 426.3h0M388.8 500.8h0M403.1 472.1h0M395.3 460.7h0M373.5 429.2h0M396.5 431.5h0M351.2 430.7h0M355.8 437.1h0M366.4 428.6h0M365.4 416.7h0M385.6 429.2h0M369.2 415.2h0M386.8 440.6h0M360.7 427.2h0M387.6 443.8h0M333.2 431.5h0M393.4 436.5h0M381.0 422.4h0M382.6 434.5h0M357.3 419.4h0M379.9 444.0h0M390.4 435.5h0M369.3 417.3h0M313.3 460.4h0M324.7 472.7h0M319.6 467.1h0M310.8 476.6h0M314.8 470.6h0M321.1 467.5h0M305.5 452.8h0" stroke="#fff" stroke-width="1.60" stroke-linecap="round" fill="none" opacity="0.8"/>
<text x="361.6" y="90.6" font-size="25" text-anchor="middle" fill="#231f20" dominant-baseline="central" >M14</text>
<text x="290.5" y="160.0" font-size="25" text-anchor="middle" fill="#231f20" dominant-baseline="central" >M09</text>
<text x="392.6" y="212.3" font-size="25" text-anchor="middle" fill="#231f20" dominant-baseline="central" >M08</text>
<text x="263.3" y="247.0" font-size="25" text-anchor="middle" fill="#231f20" dominant-baseline="central" >M11</text>
<text x="460.0" y="282.6" font-size="25" text-anchor="middle" fill="#231f20" dominant-baseline="central" >M15</text>
<text x="523.0" y="312.4" font-size="25" text-anchor="middle" fill="#231f20" dominant-baseline="central" >M13</text>
<text x="236.4" y="318.5" font-size="25" text-anchor="middle" fill="#231f20" dominant-baseline="central" >M06</text>
<text x="334.2" y="327.5" font-size="25" text-anchor="middle" fill="#231f20" dominant-baseline="central" >M01</text>
<text x="431.8" y="338.9" font-size="25" text-anchor="middle" fill="#231f20" dominant-baseline="central" >M10</text>
<text x="142.7" y="364.6" font-size="25" text-anchor="middle" fill="#231f20" dominant-baseline="central" >M05</text>
<text x="306.8" y="409.1" font-size="25" text-anchor="middle" fill="#231f20" dominant-baseline="central" >M04</text>
<text x="394.4" y="416.5" font-size="25" text-anchor="middle" fill="#231f20" dominant-baseline="central" >M03</text>
<text x="497.7" y="427.9" font-size="25" text-anchor="middle" fill="#231f20" dominant-baseline="central" >M12</text>
<text x="434.2" y="452.4" font-size="25" text-anchor="middle" fill="#231f20" dominant-baseline="central" >M07</text>
<text x="303.1" y="486.7" font-size="25" text-anchor="middle" fill="#231f20" dominant-baseline="central" >M02</text>
<g stroke="#bdbdbd" stroke-width="0.9" stroke-dasharray="1.5 2.5">
<path d="M824.0,99.4 V518.3"/>
<path d="M843.3,99.4 V518.3"/>
<path d="M862.6,99.4 V518.3"/>
<path d="M881.9,99.4 V518.3"/>
<path d="M901.2,99.4 V518.3"/>
<path d="M920.5,99.4 V518.3"/>
<path d="M939.9,99.4 V518.3"/>
<path d="M959.2,99.4 V518.3"/>
<path d="M978.5,99.4 V518.3"/>
<path d="M997.8,99.4 V518.3"/>
<path d="M1017.1,99.4 V518.3"/>
<path d="M1036.4,99.4 V518.3"/>
<path d="M1055.7,99.4 V518.3"/>
<path d="M1075.0,99.4 V518.3"/>
<path d="M1094.3,99.4 V518.3"/>
<path d="M1113.7,99.4 V518.3"/>
<path d="M1133.0,99.4 V518.3"/>
<path d="M1152.3,99.4 V518.3"/>
<path d="M1171.6,99.4 V518.3"/>
<path d="M1190.9,99.4 V518.3"/>
<path d="M1210.2,99.4 V518.3"/>
<path d="M1229.5,99.4 V518.3"/>
<path d="M1248.8,99.4 V518.3"/>
<path d="M1268.1,99.4 V518.3"/>
<path d="M1287.4,99.4 V518.3"/>
<path d="M1306.8,99.4 V518.3"/>
<path d="M1326.1,99.4 V518.3"/>
<path d="M1345.4,99.4 V518.3"/>
<path d="M1364.7,99.4 V518.3"/>
<path d="M1384.0,99.4 V518.3"/>
<path d="M1403.3,99.4 V518.3"/>
<path d="M1422.6,99.4 V518.3"/>
<path d="M1441.9,99.4 V518.3"/>
<path d="M1461.2,99.4 V518.3"/>
<path d="M1480.5,99.4 V518.3"/>
<path d="M1499.8,99.4 V518.3"/>
<path d="M1519.2,99.4 V518.3"/>
<path d="M1538.5,99.4 V518.3"/>
<path d="M1557.8,99.4 V518.3"/>
<path d="M1577.1,99.4 V518.3"/>
<path d="M1596.4,99.4 V518.3"/>
<path d="M1615.7,99.4 V518.3"/>
<path d="M1635.0,99.4 V518.3"/>
<path d="M1654.3,99.4 V518.3"/>
<path d="M1673.6,99.4 V518.3"/>
<path d="M1692.9,99.4 V518.3"/>
<path d="M1712.3,99.4 V518.3"/>
<path d="M1731.6,99.4 V518.3"/>
<path d="M1750.9,99.4 V518.3"/>
<path d="M1770.2,99.4 V518.3"/>
<path d="M1789.5,99.4 V518.3"/>
<path d="M1808.8,99.4 V518.3"/>
<path d="M1828.1,99.4 V518.3"/>
<path d="M1847.4,99.4 V518.3"/>
<path d="M1866.7,99.4 V518.3"/>
<path d="M1886.0,99.4 V518.3"/>
<path d="M1905.4,99.4 V518.3"/>
<path d="M1924.7,99.4 V518.3"/>
<path d="M1944.0,99.4 V518.3"/>
<path d="M1963.3,99.4 V518.3"/>
<path d="M1982.6,99.4 V518.3"/>
<path d="M2001.9,99.4 V518.3"/>
<path d="M2021.2,99.4 V518.3"/>
<path d="M2040.5,99.4 V518.3"/>
<path d="M2059.8,99.4 V518.3"/>
<path d="M2079.1,99.4 V518.3"/>
<path d="M2098.5,99.4 V518.3"/>
<path d="M2117.8,99.4 V518.3"/>
<path d="M812.6,116.6 H2129.8"/>
<path d="M812.6,144.2 H2129.8"/>
<path d="M812.6,171.7 H2129.8"/>
<path d="M812.6,199.3 H2129.8"/>
<path d="M812.6,226.9 H2129.8"/>
<path d="M812.6,254.4 H2129.8"/>
<path d="M812.6,282.0 H2129.8"/>
<path d="M812.6,309.6 H2129.8"/>
<path d="M812.6,337.2 H2129.8"/>
<path d="M812.6,364.7 H2129.8"/>
<path d="M812.6,392.3 H2129.8"/>
<path d="M812.6,419.9 H2129.8"/>
<path d="M812.6,447.4 H2129.8"/>
<path d="M812.6,475.0 H2129.8"/>
<path d="M812.6,502.6 H2129.8"/>
</g>
<g stroke="#231f20" stroke-width="1.1">
<circle cx="824.0" cy="116.6" r="8.6" fill="#d42a27"/>
<circle cx="824.0" cy="144.2" r="2.2" fill="#c9ccd0" stroke-width="0.9"/>
<circle cx="824.0" cy="171.7" r="5.7" fill="#eef0b2"/>
<circle cx="824.0" cy="199.3" r="3.9" fill="#f6d98a"/>
<circle cx="824.0" cy="226.9" r="1.2" fill="#231f20" stroke="none"/>
<circle cx="824.0" cy="254.4" r="2.2" fill="#c9ccd0" stroke-width="0.9"/>
<circle cx="824.0" cy="282.0" r="1.2" fill="#231f20" stroke="none"/>
<circle cx="824.0" cy="309.6" r="1.2" fill="#231f20" stroke="none"/>
<circle cx="824.0" cy="337.2" r="1.2" fill="#231f20" stroke="none"/>
<circle cx="824.0" cy="364.7" r="1.2" fill="#231f20" stroke="none"/>
<circle cx="824.0" cy="392.3" r="1.2" fill="#231f20" stroke="none"/>
<circle cx="824.0" cy="419.9" r="1.2" fill="#231f20" stroke="none"/>
<circle cx="824.0" cy="447.4" r="2.2" fill="#c9ccd0" stroke-width="0.9"/>
<circle cx="824.0" cy="475.0" r="1.2" fill="#231f20" stroke="none"/>
<circle cx="824.0" cy="502.6" r="3.9" fill="#eef0b2"/>
<circle cx="843.3" cy="116.6" r="7.5" fill="#d42a27"/>
<circle cx="843.3" cy="144.2" r="1.2" fill="#231f20" stroke="none"/>
<circle cx="843.3" cy="171.7" r="3.9" fill="#eef0b2"/>
<circle cx="843.3" cy="199.3" r="2.2" fill="#c9ccd0" stroke-width="0.9"/>
<circle cx="843.3" cy="226.9" r="1.2" fill="#231f20" stroke="none"/>
<circle cx="843.3" cy="254.4" r="1.2" fill="#231f20" stroke="none"/>
<circle cx="843.3" cy="282.0" r="1.2" fill="#231f20" stroke="none"/>
<circle cx="843.3" cy="309.6" r="1.2" fill="#231f20" stroke="none"/>
<circle cx="843.3" cy="337.2" r="1.2" fill="#231f20" stroke="none"/>
<circle cx="843.3" cy="364.7" r="1.2" fill="#231f20" stroke="none"/>
<circle cx="843.3" cy="392.3" r="1.2" fill="#231f20" stroke="none"/>
<circle cx="843.3" cy="419.9" r="1.2" fill="#231f20" stroke="none"/>
<circle cx="843.3" cy="447.4" r="1.2" fill="#231f20" stroke="none"/>
<circle cx="843.3" cy="475.0" r="1.2" fill="#231f20" stroke="none"/>
<circle cx="843.3" cy="502.6" r="3.0" fill="#eef0b2"/>
<circle cx="862.6" cy="116.6" r="9.8" fill="#d42a27"/>
<circle cx="862.6" cy="144.2" r="1.2" fill="#231f20" stroke="none"/>
<circle cx="862.6" cy="171.7" r="5.7" fill="#dde8d0"/>
<circle cx="862.6" cy="199.3" r="3.9" fill="#f6d98a"/>
<circle cx="862.6" cy="226.9" r="2.2" fill="#c9ccd0" stroke-width="0.9"/>
<circle cx="862.6" cy="254.4" r="3.9" fill="#cde5ec"/>
<circle cx="862.6" cy="282.0" r="2.2" fill="#c9ccd0" stroke-width="0.9"/>
<circle cx="862.6" cy="309.6" r="6.6" fill="#cde5ec"/>
<circle cx="862.6" cy="337.2" r="5.7" fill="#dde8d0"/>
<circle cx="862.6" cy="364.7" r="7.5" fill="#dde8d0"/>
<circle cx="862.6" cy="392.3" r="7.5" fill="#eef0b2"/>
<circle cx="862.6" cy="419.9" r="1.2" fill="#231f20" stroke="none"/>
<circle cx="862.6" cy="447.4" r="2.2" fill="#c9ccd0" stroke-width="0.9"/>
<circle cx="862.6" cy="475.0" r="4.8" fill="#cde5ec"/>
<circle cx="862.6" cy="502.6" r="4.8" fill="#dde8d0"/>
<circle cx="881.9" cy="116.6" r="9.8" fill="#ec8c5a"/>
<circle cx="881.9" cy="144.2" r="9.8" fill="#ec8c5a"/>
<circle cx="881.9" cy="171.7" r="9.8" fill="#f1b070"/>
<circle cx="881.9" cy="199.3" r="9.8" fill="#f1b070"/>
<circle cx="881.9" cy="226.9" r="3.0" fill="#72acd3"/>
<circle cx="881.9" cy="254.4" r="8.6" fill="#9ccae0"/>
<circle cx="881.9" cy="282.0" r="7.5" fill="#9ccae0"/>
<circle cx="881.9" cy="309.6" r="8.6" fill="#9ccae0"/>
<circle cx="881.9" cy="337.2" r="5.7" fill="#72acd3"/>
<circle cx="881.9" cy="364.7" r="9.8" fill="#dde8d0"/>
<circle cx="881.9" cy="392.3" r="7.5" fill="#9ccae0"/>
<circle cx="881.9" cy="419.9" r="9.8" fill="#dde8d0"/>
<circle cx="881.9" cy="447.4" r="8.6" fill="#9ccae0"/>
<circle cx="881.9" cy="475.0" r="8.6" fill="#72acd3"/>
<circle cx="881.9" cy="502.6" r="8.6" fill="#9ccae0"/>
<circle cx="901.2" cy="116.6" r="9.8" fill="#ec8c5a"/>
<circle cx="901.2" cy="144.2" r="9.8" fill="#ec8c5a"/>
<circle cx="901.2" cy="171.7" r="9.8" fill="#f1b070"/>
<circle cx="901.2" cy="199.3" r="9.8" fill="#f1b070"/>
<circle cx="901.2" cy="226.9" r="5.7" fill="#72acd3"/>
<circle cx="901.2" cy="254.4" r="9.8" fill="#9ccae0"/>
<circle cx="901.2" cy="282.0" r="8.6" fill="#9ccae0"/>
<circle cx="901.2" cy="309.6" r="9.8" fill="#9ccae0"/>
<circle cx="901.2" cy="337.2" r="5.7" fill="#72acd3"/>
<circle cx="901.2" cy="364.7" r="9.8" fill="#eef0b2"/>
<circle cx="901.2" cy="392.3" r="7.5" fill="#72acd3"/>
<circle cx="901.2" cy="419.9" r="9.8" fill="#dde8d0"/>
<circle cx="901.2" cy="447.4" r="9.8" fill="#9ccae0"/>
<circle cx="901.2" cy="475.0" r="8.6" fill="#72acd3"/>
<circle cx="901.2" cy="502.6" r="9.8" fill="#9ccae0"/>
<circle cx="920.5" cy="116.6" r="8.6" fill="#e25a3c"/>
<circle cx="920.5" cy="144.2" r="3.0" fill="#72acd3"/>
<circle cx="920.5" cy="171.7" r="6.6" fill="#dde8d0"/>
<circle cx="920.5" cy="199.3" r="3.9" fill="#cde5ec"/>
<circle cx="920.5" cy="226.9" r="2.2" fill="#72acd3"/>
<circle cx="920.5" cy="254.4" r="6.6" fill="#eef0b2"/>
<circle cx="920.5" cy="282.0" r="6.6" fill="#f6d98a"/>
<circle cx="920.5" cy="309.6" r="4.8" fill="#72acd3"/>
<circle cx="920.5" cy="337.2" r="5.7" fill="#cde5ec"/>
<circle cx="920.5" cy="364.7" r="6.6" fill="#9ccae0"/>
<circle cx="920.5" cy="392.3" r="6.6" fill="#f1b070"/>
<circle cx="920.5" cy="419.9" r="6.6" fill="#f6d98a"/>
<circle cx="920.5" cy="447.4" r="6.6" fill="#f6d98a"/>
<circle cx="920.5" cy="475.0" r="2.2" fill="#c9ccd0" stroke-width="0.9"/>
<circle cx="920.5" cy="502.6" r="5.7" fill="#9ccae0"/>
<circle cx="939.9" cy="116.6" r="3.9" fill="#cde5ec"/>
<circle cx="939.9" cy="144.2" r="9.8" fill="#d42a27"/>
<circle cx="939.9" cy="171.7" r="5.7" fill="#dde8d0"/>
<circle cx="939.9" cy="199.3" r="3.9" fill="#eef0b2"/>
<circle cx="939.9" cy="226.9" r="2.2" fill="#c9ccd0" stroke-width="0.9"/>
<circle cx="939.9" cy="254.4" r="3.9" fill="#cde5ec"/>
<circle cx="939.9" cy="282.0" r="3.9" fill="#cde5ec"/>
<circle cx="939.9" cy="309.6" r="5.7" fill="#cde5ec"/>
<circle cx="939.9" cy="337.2" r="3.9" fill="#cde5ec"/>
<circle cx="939.9" cy="364.7" r="6.6" fill="#cde5ec"/>
<circle cx="939.9" cy="392.3" r="3.9" fill="#cde5ec"/>
<circle cx="939.9" cy="419.9" r="5.7" fill="#dde8d0"/>
<circle cx="939.9" cy="447.4" r="5.7" fill="#cde5ec"/>
<circle cx="939.9" cy="475.0" r="4.8" fill="#cde5ec"/>
<circle cx="939.9" cy="502.6" r="4.8" fill="#cde5ec"/>
<circle cx="959.2" cy="116.6" r="1.2" fill="#231f20" stroke="none"/>
<circle cx="959.2" cy="144.2" r="9.8" fill="#d42a27"/>
<circle cx="959.2" cy="171.7" r="2.2" fill="#c9ccd0" stroke-width="0.9"/>
<circle cx="959.2" cy="199.3" r="3.9" fill="#f6d98a"/>
<circle cx="959.2" cy="226.9" r="1.2" fill="#231f20" stroke="none"/>
<circle cx="959.2" cy="254.4" r="1.2" fill="#231f20" stroke="none"/>
<circle cx="959.2" cy="282.0" r="1.2" fill="#231f20" stroke="none"/>
<circle cx="959.2" cy="309.6" r="1.2" fill="#231f20" stroke="none"/>
<circle cx="959.2" cy="337.2" r="1.2" fill="#231f20" stroke="none"/>
<circle cx="959.2" cy="364.7" r="1.2" fill="#231f20" stroke="none"/>
<circle cx="959.2" cy="392.3" r="1.2" fill="#231f20" stroke="none"/>
<circle cx="959.2" cy="419.9" r="1.2" fill="#231f20" stroke="none"/>
<circle cx="959.2" cy="447.4" r="1.2" fill="#231f20" stroke="none"/>
<circle cx="959.2" cy="475.0" r="1.2" fill="#231f20" stroke="none"/>
<circle cx="959.2" cy="502.6" r="1.2" fill="#231f20" stroke="none"/>
<circle cx="978.5" cy="116.6" r="1.2" fill="#231f20" stroke="none"/>
<circle cx="978.5" cy="144.2" r="9.8" fill="#d42a27"/>
<circle cx="978.5" cy="171.7" r="1.2" fill="#231f20" stroke="none"/>
<circle cx="978.5" cy="199.3" r="2.2" fill="#c9ccd0" stroke-width="0.9"/>
<circle cx="978.5" cy="226.9" r="1.2" fill="#231f20" stroke="none"/>
<circle cx="978.5" cy="254.4" r="1.2" fill="#231f20" stroke="none"/>
<circle cx="978.5" cy="282.0" r="1.2" fill="#231f20" stroke="none"/>
<circle cx="978.5" cy="309.6" r="1.2" fill="#231f20" stroke="none"/>
<circle cx="978.5" cy="337.2" r="1.2" fill="#231f20" stroke="none"/>
<circle cx="978.5" cy="364.7" r="1.2" fill="#231f20" stroke="none"/>
<circle cx="978.5" cy="392.3" r="1.2" fill="#231f20" stroke="none"/>
<circle cx="978.5" cy="419.9" r="1.2" fill="#231f20" stroke="none"/>
<circle cx="978.5" cy="447.4" r="1.2" fill="#231f20" stroke="none"/>
<circle cx="978.5" cy="475.0" r="1.2" fill="#231f20" stroke="none"/>
<circle cx="978.5" cy="502.6" r="1.2" fill="#231f20" stroke="none"/>
<circle cx="997.8" cy="116.6" r="2.2" fill="#c9ccd0" stroke-width="0.9"/>
<circle cx="997.8" cy="144.2" r="9.8" fill="#d42a27"/>
<circle cx="997.8" cy="171.7" r="2.2" fill="#c9ccd0" stroke-width="0.9"/>
<circle cx="997.8" cy="199.3" r="2.2" fill="#c9ccd0" stroke-width="0.9"/>
<circle cx="997.8" cy="226.9" r="1.2" fill="#231f20" stroke="none"/>
<circle cx="997.8" cy="254.4" r="1.2" fill="#231f20" stroke="none"/>
<circle cx="997.8" cy="282.0" r="1.2" fill="#231f20" stroke="none"/>
<circle cx="997.8" cy="309.6" r="1.2" fill="#231f20" stroke="none"/>
<circle cx="997.8" cy="337.2" r="1.2" fill="#231f20" stroke="none"/>
<circle cx="997.8" cy="364.7" r="1.2" fill="#231f20" stroke="none"/>
<circle cx="997.8" cy="392.3" r="1.2" fill="#231f20" stroke="none"/>
<circle cx="997.8" cy="419.9" r="1.2" fill="#231f20" stroke="none"/>
<circle cx="997.8" cy="447.4" r="1.2" fill="#231f20" stroke="none"/>
<circle cx="997.8" cy="475.0" r="1.2" fill="#231f20" stroke="none"/>
<circle cx="997.8" cy="502.6" r="1.2" fill="#231f20" stroke="none"/>
<circle cx="1017.1" cy="116.6" r="9.8" fill="#f6d98a"/>
<circle cx="1017.1" cy="144.2" r="9.8" fill="#d42a27"/>
<circle cx="1017.1" cy="171.7" r="9.8" fill="#f6d98a"/>
<circle cx="1017.1" cy="199.3" r="9.8" fill="#f1b070"/>
<circle cx="1017.1" cy="226.9" r="6.6" fill="#72acd3"/>
<circle cx="1017.1" cy="254.4" r="9.8" fill="#9ccae0"/>
<circle cx="1017.1" cy="282.0" r="9.8" fill="#9ccae0"/>
<circle cx="1017.1" cy="309.6" r="9.8" fill="#9ccae0"/>
<circle cx="1017.1" cy="337.2" r="7.5" fill="#72acd3"/>
<circle cx="1017.1" cy="364.7" r="9.8" fill="#cde5ec"/>
<circle cx="1017.1" cy="392.3" r="9.8" fill="#9ccae0"/>
<circle cx="1017.1" cy="419.9" r="9.8" fill="#cde5ec"/>
<circle cx="1017.1" cy="447.4" r="8.6" fill="#9ccae0"/>
<circle cx="1017.1" cy="475.0" r="9.8" fill="#9ccae0"/>
<circle cx="1017.1" cy="502.6" r="9.8" fill="#9ccae0"/>
<circle cx="1036.4" cy="116.6" r="9.8" fill="#f1b070"/>
<circle cx="1036.4" cy="144.2" r="9.8" fill="#d42a27"/>
<circle cx="1036.4" cy="171.7" r="9.8" fill="#f6d98a"/>
<circle cx="1036.4" cy="199.3" r="9.8" fill="#f1b070"/>
<circle cx="1036.4" cy="226.9" r="6.6" fill="#72acd3"/>
<circle cx="1036.4" cy="254.4" r="9.8" fill="#cde5ec"/>
<circle cx="1036.4" cy="282.0" r="9.8" fill="#9ccae0"/>
<circle cx="1036.4" cy="309.6" r="9.8" fill="#9ccae0"/>
<circle cx="1036.4" cy="337.2" r="7.5" fill="#72acd3"/>
<circle cx="1036.4" cy="364.7" r="9.8" fill="#cde5ec"/>
<circle cx="1036.4" cy="392.3" r="9.8" fill="#9ccae0"/>
<circle cx="1036.4" cy="419.9" r="9.8" fill="#dde8d0"/>
<circle cx="1036.4" cy="447.4" r="9.8" fill="#9ccae0"/>
<circle cx="1036.4" cy="475.0" r="9.8" fill="#72acd3"/>
<circle cx="1036.4" cy="502.6" r="9.8" fill="#9ccae0"/>
<circle cx="1055.7" cy="116.6" r="2.2" fill="#c9ccd0" stroke-width="0.9"/>
<circle cx="1055.7" cy="144.2" r="2.2" fill="#c9ccd0" stroke-width="0.9"/>
<circle cx="1055.7" cy="171.7" r="5.7" fill="#d42a27"/>
<circle cx="1055.7" cy="199.3" r="2.2" fill="#f6d98a"/>
<circle cx="1055.7" cy="226.9" r="1.2" fill="#231f20" stroke="none"/>
<circle cx="1055.7" cy="254.4" r="1.2" fill="#231f20" stroke="none"/>
<circle cx="1055.7" cy="282.0" r="1.2" fill="#231f20" stroke="none"/>
<circle cx="1055.7" cy="309.6" r="1.2" fill="#231f20" stroke="none"/>
<circle cx="1055.7" cy="337.2" r="1.2" fill="#231f20" stroke="none"/>
<circle cx="1055.7" cy="364.7" r="1.2" fill="#231f20" stroke="none"/>
<circle cx="1055.7" cy="392.3" r="1.2" fill="#231f20" stroke="none"/>
<circle cx="1055.7" cy="419.9" r="2.2" fill="#c9ccd0" stroke-width="0.9"/>
<circle cx="1055.7" cy="447.4" r="2.2" fill="#c9ccd0" stroke-width="0.9"/>
<circle cx="1055.7" cy="475.0" r="1.2" fill="#231f20" stroke="none"/>
<circle cx="1055.7" cy="502.6" r="1.2" fill="#231f20" stroke="none"/>
<circle cx="1075.0" cy="116.6" r="1.2" fill="#231f20" stroke="none"/>
<circle cx="1075.0" cy="144.2" r="8.6" fill="#ec8c5a"/>
<circle cx="1075.0" cy="171.7" r="5.7" fill="#e25a3c"/>
<circle cx="1075.0" cy="199.3" r="3.9" fill="#e25a3c"/>
<circle cx="1075.0" cy="226.9" r="1.2" fill="#231f20" stroke="none"/>
<circle cx="1075.0" cy="254.4" r="1.2" fill="#231f20" stroke="none"/>
<circle cx="1075.0" cy="282.0" r="2.2" fill="#c9ccd0" stroke-width="0.9"/>
<circle cx="1075.0" cy="309.6" r="1.2" fill="#231f20" stroke="none"/>
<circle cx="1075.0" cy="337.2" r="1.2" fill="#231f20" stroke="none"/>
<circle cx="1075.0" cy="364.7" r="2.2" fill="#c9ccd0" stroke-width="0.9"/>
<circle cx="1075.0" cy="392.3" r="1.2" fill="#231f20" stroke="none"/>
<circle cx="1075.0" cy="419.9" r="2.2" fill="#c9ccd0" stroke-width="0.9"/>
<circle cx="1075.0" cy="447.4" r="2.2" fill="#c9ccd0" stroke-width="0.9"/>
<circle cx="1075.0" cy="475.0" r="1.2" fill="#231f20" stroke="none"/>
<circle cx="1075.0" cy="502.6" r="1.2" fill="#231f20" stroke="none"/>
<circle cx="1094.3" cy="116.6" r="3.9" fill="#f6d98a"/>
<circle cx="1094.3" cy="144.2" r="1.2" fill="#231f20" stroke="none"/>
<circle cx="1094.3" cy="171.7" r="4.8" fill="#d42a27"/>
<circle cx="1094.3" cy="199.3" r="1.2" fill="#231f20" stroke="none"/>
<circle cx="1094.3" cy="226.9" r="1.2" fill="#231f20" stroke="none"/>
<circle cx="1094.3" cy="254.4" r="1.2" fill="#231f20" stroke="none"/>
<circle cx="1094.3" cy="282.0" r="1.2" fill="#231f20" stroke="none"/>
<circle cx="1094.3" cy="309.6" r="1.2" fill="#231f20" stroke="none"/>
<circle cx="1094.3" cy="337.2" r="1.2" fill="#231f20" stroke="none"/>
<circle cx="1094.3" cy="364.7" r="1.2" fill="#231f20" stroke="none"/>
<circle cx="1094.3" cy="392.3" r="1.2" fill="#231f20" stroke="none"/>
<circle cx="1094.3" cy="419.9" r="1.2" fill="#231f20" stroke="none"/>
<circle cx="1094.3" cy="447.4" r="2.2" fill="#c9ccd0" stroke-width="0.9"/>
<circle cx="1094.3" cy="475.0" r="1.2" fill="#231f20" stroke="none"/>
<circle cx="1094.3" cy="502.6" r="1.2" fill="#231f20" stroke="none"/>
<circle cx="1113.7" cy="116.6" r="7.5" fill="#dde8d0"/>
<circle cx="1113.7" cy="144.2" r="9.8" fill="#ec8c5a"/>
<circle cx="1113.7" cy="171.7" r="6.6" fill="#dde8d0"/>
<circle cx="1113.7" cy="199.3" r="8.6" fill="#d42a27"/>
<circle cx="1113.7" cy="226.9" r="7.5" fill="#f6d98a"/>
<circle cx="1113.7" cy="254.4" r="6.6" fill="#dde8d0"/>
<circle cx="1113.7" cy="282.0" r="4.8" fill="#cde5ec"/>
<circle cx="1113.7" cy="309.6" r="2.2" fill="#c9ccd0" stroke-width="0.9"/>
<circle cx="1113.7" cy="337.2" r="2.2" fill="#c9ccd0" stroke-width="0.9"/>
<circle cx="1113.7" cy="364.7" r="3.9" fill="#cde5ec"/>
<circle cx="1113.7" cy="392.3" r="3.9" fill="#cde5ec"/>
<circle cx="1113.7" cy="419.9" r="2.2" fill="#c9ccd0" stroke-width="0.9"/>
<circle cx="1113.7" cy="447.4" r="2.2" fill="#c9ccd0" stroke-width="0.9"/>
<circle cx="1113.7" cy="475.0" r="1.2" fill="#231f20" stroke="none"/>
<circle cx="1113.7" cy="502.6" r="3.0" fill="#cde5ec"/>
<circle cx="1133.0" cy="116.6" r="2.2" fill="#c9ccd0" stroke-width="0.9"/>
<circle cx="1133.0" cy="144.2" r="1.2" fill="#231f20" stroke="none"/>
<circle cx="1133.0" cy="171.7" r="1.2" fill="#231f20" stroke="none"/>
<circle cx="1133.0" cy="199.3" r="1.2" fill="#231f20" stroke="none"/>
<circle cx="1133.0" cy="226.9" r="8.6" fill="#d42a27"/>
<circle cx="1133.0" cy="254.4" r="3.9" fill="#dde8d0"/>
<circle cx="1133.0" cy="282.0" r="3.9" fill="#eef0b2"/>
<circle cx="1133.0" cy="309.6" r="2.2" fill="#c9ccd0" stroke-width="0.9"/>
<circle cx="1133.0" cy="337.2" r="2.2" fill="#c9ccd0" stroke-width="0.9"/>
<circle cx="1133.0" cy="364.7" r="1.2" fill="#231f20" stroke="none"/>
<circle cx="1133.0" cy="392.3" r="5.7" fill="#dde8d0"/>
<circle cx="1133.0" cy="419.9" r="1.2" fill="#231f20" stroke="none"/>
<circle cx="1133.0" cy="447.4" r="1.2" fill="#231f20" stroke="none"/>
<circle cx="1133.0" cy="475.0" r="1.2" fill="#231f20" stroke="none"/>
<circle cx="1133.0" cy="502.6" r="2.2" fill="#c9ccd0" stroke-width="0.9"/>
<circle cx="1152.3" cy="116.6" r="9.8" fill="#dde8d0"/>
<circle cx="1152.3" cy="144.2" r="9.8" fill="#cde5ec"/>
<circle cx="1152.3" cy="171.7" r="9.8" fill="#cde5ec"/>
<circle cx="1152.3" cy="199.3" r="9.8" fill="#eef0b2"/>
<circle cx="1152.3" cy="226.9" r="9.8" fill="#d42a27"/>
<circle cx="1152.3" cy="254.4" r="9.8" fill="#eef0b2"/>
<circle cx="1152.3" cy="282.0" r="9.8" fill="#dde8d0"/>
<circle cx="1152.3" cy="309.6" r="9.8" fill="#cde5ec"/>
<circle cx="1152.3" cy="337.2" r="8.6" fill="#9ccae0"/>
<circle cx="1152.3" cy="364.7" r="9.8" fill="#dde8d0"/>
<circle cx="1152.3" cy="392.3" r="9.8" fill="#dde8d0"/>
<circle cx="1152.3" cy="419.9" r="7.5" fill="#9ccae0"/>
<circle cx="1152.3" cy="447.4" r="7.5" fill="#9ccae0"/>
<circle cx="1152.3" cy="475.0" r="9.8" fill="#9ccae0"/>
<circle cx="1152.3" cy="502.6" r="9.8" fill="#cde5ec"/>
<circle cx="1171.6" cy="116.6" r="4.8" fill="#cde5ec"/>
<circle cx="1171.6" cy="144.2" r="1.2" fill="#231f20" stroke="none"/>
<circle cx="1171.6" cy="171.7" r="3.9" fill="#cde5ec"/>
<circle cx="1171.6" cy="199.3" r="1.2" fill="#231f20" stroke="none"/>
<circle cx="1171.6" cy="226.9" r="9.8" fill="#d42a27"/>
<circle cx="1171.6" cy="254.4" r="5.7" fill="#dde8d0"/>
<circle cx="1171.6" cy="282.0" r="6.6" fill="#dde8d0"/>
<circle cx="1171.6" cy="309.6" r="7.5" fill="#dde8d0"/>
<circle cx="1171.6" cy="337.2" r="4.8" fill="#cde5ec"/>
<circle cx="1171.6" cy="364.7" r="4.8" fill="#cde5ec"/>
<circle cx="1171.6" cy="392.3" r="8.6" fill="#f1b070"/>
<circle cx="1171.6" cy="419.9" r="2.2" fill="#c9ccd0" stroke-width="0.9"/>
<circle cx="1171.6" cy="447.4" r="3.9" fill="#cde5ec"/>
<circle cx="1171.6" cy="475.0" r="4.8" fill="#cde5ec"/>
<circle cx="1171.6" cy="502.6" r="5.7" fill="#cde5ec"/>
<circle cx="1190.9" cy="116.6" r="5.7" fill="#9ccae0"/>
<circle cx="1190.9" cy="144.2" r="3.0" fill="#9ccae0"/>
<circle cx="1190.9" cy="171.7" r="3.9" fill="#9ccae0"/>
<circle cx="1190.9" cy="199.3" r="2.2" fill="#c9ccd0" stroke-width="0.9"/>
<circle cx="1190.9" cy="226.9" r="9.8" fill="#d42a27"/>
<circle cx="1190.9" cy="254.4" r="9.8" fill="#dde8d0"/>
<circle cx="1190.9" cy="282.0" r="8.6" fill="#dde8d0"/>
<circle cx="1190.9" cy="309.6" r="9.8" fill="#dde8d0"/>
<circle cx="1190.9" cy="337.2" r="9.8" fill="#dde8d0"/>
<circle cx="1190.9" cy="364.7" r="9.8" fill="#cde5ec"/>
<circle cx="1190.9" cy="392.3" r="9.8" fill="#f6d98a"/>
<circle cx="1190.9" cy="419.9" r="5.7" fill="#9ccae0"/>
<circle cx="1190.9" cy="447.4" r="6.6" fill="#9ccae0"/>
<circle cx="1190.9" cy="475.0" r="9.8" fill="#eef0b2"/>
<circle cx="1190.9" cy="502.6" r="9.8" fill="#dde8d0"/>
<circle cx="1210.2" cy="116.6" r="9.8" fill="#eef0b2"/>
<circle cx="1210.2" cy="144.2" r="9.8" fill="#9ccae0"/>
<circle cx="1210.2" cy="171.7" r="9.8" fill="#9ccae0"/>
<circle cx="1210.2" cy="199.3" r="6.6" fill="#72acd3"/>
<circle cx="1210.2" cy="226.9" r="9.8" fill="#d42a27"/>
<circle cx="1210.2" cy="254.4" r="9.8" fill="#f1b070"/>
<circle cx="1210.2" cy="282.0" r="8.6" fill="#72acd3"/>
<circle cx="1210.2" cy="309.6" r="9.8" fill="#dde8d0"/>
<circle cx="1210.2" cy="337.2" r="8.6" fill="#72acd3"/>
<circle cx="1210.2" cy="364.7" r="9.8" fill="#f6d98a"/>
<circle cx="1210.2" cy="392.3" r="9.8" fill="#eef0b2"/>
<circle cx="1210.2" cy="419.9" r="9.8" fill="#cde5ec"/>
<circle cx="1210.2" cy="447.4" r="8.6" fill="#72acd3"/>
<circle cx="1210.2" cy="475.0" r="9.8" fill="#cde5ec"/>
<circle cx="1210.2" cy="502.6" r="9.8" fill="#9ccae0"/>
<circle cx="1229.5" cy="116.6" r="6.6" fill="#eef0b2"/>
<circle cx="1229.5" cy="144.2" r="1.2" fill="#231f20" stroke="none"/>
<circle cx="1229.5" cy="171.7" r="3.9" fill="#72acd3"/>
<circle cx="1229.5" cy="199.3" r="1.2" fill="#231f20" stroke="none"/>
<circle cx="1229.5" cy="226.9" r="4.8" fill="#ec8c5a"/>
<circle cx="1229.5" cy="254.4" r="3.9" fill="#cde5ec"/>
<circle cx="1229.5" cy="282.0" r="3.9" fill="#cde5ec"/>
<circle cx="1229.5" cy="309.6" r="7.5" fill="#f6d98a"/>
<circle cx="1229.5" cy="337.2" r="4.8" fill="#eef0b2"/>
<circle cx="1229.5" cy="364.7" r="5.7" fill="#dde8d0"/>
<circle cx="1229.5" cy="392.3" r="6.6" fill="#f1b070"/>
<circle cx="1229.5" cy="419.9" r="5.7" fill="#dde8d0"/>
<circle cx="1229.5" cy="447.4" r="5.7" fill="#9ccae0"/>
<circle cx="1229.5" cy="475.0" r="7.5" fill="#f6d98a"/>
<circle cx="1229.5" cy="502.6" r="6.6" fill="#eef0b2"/>
<circle cx="1248.8" cy="116.6" r="8.6" fill="#cde5ec"/>
<circle cx="1248.8" cy="144.2" r="5.7" fill="#72acd3"/>
<circle cx="1248.8" cy="171.7" r="8.6" fill="#9ccae0"/>
<circle cx="1248.8" cy="199.3" r="3.9" fill="#9ccae0"/>
<circle cx="1248.8" cy="226.9" r="9.8" fill="#f6d98a"/>
<circle cx="1248.8" cy="254.4" r="9.8" fill="#d42a27"/>
<circle cx="1248.8" cy="282.0" r="9.8" fill="#eef0b2"/>
<circle cx="1248.8" cy="309.6" r="9.8" fill="#dde8d0"/>
<circle cx="1248.8" cy="337.2" r="7.5" fill="#9ccae0"/>
<circle cx="1248.8" cy="364.7" r="9.8" fill="#eef0b2"/>
<circle cx="1248.8" cy="392.3" r="9.8" fill="#f1b070"/>
<circle cx="1248.8" cy="419.9" r="8.6" fill="#9ccae0"/>
<circle cx="1248.8" cy="447.4" r="7.5" fill="#72acd3"/>
<circle cx="1248.8" cy="475.0" r="7.5" fill="#72acd3"/>
<circle cx="1248.8" cy="502.6" r="7.5" fill="#72acd3"/>
<circle cx="1268.1" cy="116.6" r="6.6" fill="#f6d98a"/>
<circle cx="1268.1" cy="144.2" r="1.2" fill="#231f20" stroke="none"/>
<circle cx="1268.1" cy="171.7" r="2.2" fill="#cde5ec"/>
<circle cx="1268.1" cy="199.3" r="1.2" fill="#231f20" stroke="none"/>
<circle cx="1268.1" cy="226.9" r="3.9" fill="#eef0b2"/>
<circle cx="1268.1" cy="254.4" r="8.6" fill="#d42a27"/>
<circle cx="1268.1" cy="282.0" r="1.2" fill="#231f20" stroke="none"/>
<circle cx="1268.1" cy="309.6" r="1.2" fill="#231f20" stroke="none"/>
<circle cx="1268.1" cy="337.2" r="1.2" fill="#231f20" stroke="none"/>
<circle cx="1268.1" cy="364.7" r="1.2" fill="#231f20" stroke="none"/>
<circle cx="1268.1" cy="392.3" r="3.9" fill="#eef0b2"/>
<circle cx="1268.1" cy="419.9" r="2.2" fill="#c9ccd0" stroke-width="0.9"/>
<circle cx="1268.1" cy="447.4" r="2.2" fill="#eef0b2"/>
<circle cx="1268.1" cy="475.0" r="1.2" fill="#231f20" stroke="none"/>
<circle cx="1268.1" cy="502.6" r="2.2" fill="#c9ccd0" stroke-width="0.9"/>
<circle cx="1287.4" cy="116.6" r="4.8" fill="#cde5ec"/>
<circle cx="1287.4" cy="144.2" r="2.2" fill="#c9ccd0" stroke-width="0.9"/>
<circle cx="1287.4" cy="171.7" r="3.9" fill="#cde5ec"/>
<circle cx="1287.4" cy="199.3" r="1.2" fill="#231f20" stroke="none"/>
<circle cx="1287.4" cy="226.9" r="6.6" fill="#ec8c5a"/>
<circle cx="1287.4" cy="254.4" r="8.6" fill="#e25a3c"/>
<circle cx="1287.4" cy="282.0" r="3.9" fill="#dde8d0"/>
<circle cx="1287.4" cy="309.6" r="4.8" fill="#cde5ec"/>
<circle cx="1287.4" cy="337.2" r="3.9" fill="#cde5ec"/>
<circle cx="1287.4" cy="364.7" r="3.9" fill="#cde5ec"/>
<circle cx="1287.4" cy="392.3" r="8.6" fill="#e25a3c"/>
<circle cx="1287.4" cy="419.9" r="2.2" fill="#c9ccd0" stroke-width="0.9"/>
<circle cx="1287.4" cy="447.4" r="2.2" fill="#c9ccd0" stroke-width="0.9"/>
<circle cx="1287.4" cy="475.0" r="3.0" fill="#cde5ec"/>
<circle cx="1287.4" cy="502.6" r="3.0" fill="#cde5ec"/>
<circle cx="1306.8" cy="116.6" r="6.6" fill="#dde8d0"/>
<circle cx="1306.8" cy="144.2" r="1.2" fill="#231f20" stroke="none"/>
<circle cx="1306.8" cy="171.7" r="4.8" fill="#9ccae0"/>
<circle cx="1306.8" cy="199.3" r="1.2" fill="#231f20" stroke="none"/>
<circle cx="1306.8" cy="226.9" r="4.8" fill="#eef0b2"/>
<circle cx="1306.8" cy="254.4" r="8.6" fill="#d42a27"/>
<circle cx="1306.8" cy="282.0" r="4.8" fill="#cde5ec"/>
<circle cx="1306.8" cy="309.6" r="7.5" fill="#eef0b2"/>
<circle cx="1306.8" cy="337.2" r="4.8" fill="#dde8d0"/>
<circle cx="1306.8" cy="364.7" r="7.5" fill="#eef0b2"/>
<circle cx="1306.8" cy="392.3" r="7.5" fill="#e25a3c"/>
<circle cx="1306.8" cy="419.9" r="4.8" fill="#cde5ec"/>
<circle cx="1306.8" cy="447.4" r="4.8" fill="#9ccae0"/>
<circle cx="1306.8" cy="475.0" r="5.7" fill="#cde5ec"/>
<circle cx="1306.8" cy="502.6" r="4.8" fill="#9ccae0"/>
<circle cx="1326.1" cy="116.6" r="1.2" fill="#231f20" stroke="none"/>
<circle cx="1326.1" cy="144.2" r="1.2" fill="#231f20" stroke="none"/>
<circle cx="1326.1" cy="171.7" r="3.9" fill="#dde8d0"/>
<circle cx="1326.1" cy="199.3" r="1.2" fill="#231f20" stroke="none"/>
<circle cx="1326.1" cy="226.9" r="1.2" fill="#231f20" stroke="none"/>
<circle cx="1326.1" cy="254.4" r="1.2" fill="#231f20" stroke="none"/>
<circle cx="1326.1" cy="282.0" r="9.8" fill="#d42a27"/>
<circle cx="1326.1" cy="309.6" r="2.2" fill="#c9ccd0" stroke-width="0.9"/>
<circle cx="1326.1" cy="337.2" r="1.2" fill="#231f20" stroke="none"/>
<circle cx="1326.1" cy="364.7" r="4.8" fill="#eef0b2"/>
<circle cx="1326.1" cy="392.3" r="1.2" fill="#231f20" stroke="none"/>
<circle cx="1326.1" cy="419.9" r="2.2" fill="#c9ccd0" stroke-width="0.9"/>
<circle cx="1326.1" cy="447.4" r="2.2" fill="#c9ccd0" stroke-width="0.9"/>
<circle cx="1326.1" cy="475.0" r="1.2" fill="#231f20" stroke="none"/>
<circle cx="1326.1" cy="502.6" r="1.2" fill="#231f20" stroke="none"/>
<circle cx="1345.4" cy="116.6" r="9.8" fill="#9ccae0"/>
<circle cx="1345.4" cy="144.2" r="8.6" fill="#4a7db8"/>
<circle cx="1345.4" cy="171.7" r="8.6" fill="#72acd3"/>
<circle cx="1345.4" cy="199.3" r="4.8" fill="#4a7db8"/>
<circle cx="1345.4" cy="226.9" r="8.6" fill="#72acd3"/>
<circle cx="1345.4" cy="254.4" r="9.8" fill="#dde8d0"/>
<circle cx="1345.4" cy="282.0" r="9.8" fill="#cde5ec"/>
<circle cx="1345.4" cy="309.6" r="9.8" fill="#f6d98a"/>
<circle cx="1345.4" cy="337.2" r="9.8" fill="#f6d98a"/>
<circle cx="1345.4" cy="364.7" r="9.8" fill="#e25a3c"/>
<circle cx="1345.4" cy="392.3" r="9.8" fill="#dde8d0"/>
<circle cx="1345.4" cy="419.9" r="9.8" fill="#f6d98a"/>
<circle cx="1345.4" cy="447.4" r="9.8" fill="#cde5ec"/>
<circle cx="1345.4" cy="475.0" r="9.8" fill="#f1b070"/>
<circle cx="1345.4" cy="502.6" r="9.8" fill="#eef0b2"/>
<circle cx="1364.7" cy="116.6" r="1.2" fill="#231f20" stroke="none"/>
<circle cx="1364.7" cy="144.2" r="1.2" fill="#231f20" stroke="none"/>
<circle cx="1364.7" cy="171.7" r="3.9" fill="#cde5ec"/>
<circle cx="1364.7" cy="199.3" r="1.2" fill="#231f20" stroke="none"/>
<circle cx="1364.7" cy="226.9" r="1.2" fill="#231f20" stroke="none"/>
<circle cx="1364.7" cy="254.4" r="1.2" fill="#231f20" stroke="none"/>
<circle cx="1364.7" cy="282.0" r="8.6" fill="#d42a27"/>
<circle cx="1364.7" cy="309.6" r="2.2" fill="#cde5ec"/>
<circle cx="1364.7" cy="337.2" r="1.2" fill="#231f20" stroke="none"/>
<circle cx="1364.7" cy="364.7" r="6.6" fill="#f6d98a"/>
<circle cx="1364.7" cy="392.3" r="1.2" fill="#231f20" stroke="none"/>
<circle cx="1364.7" cy="419.9" r="6.6" fill="#f6d98a"/>
<circle cx="1364.7" cy="447.4" r="7.5" fill="#eef0b2"/>
<circle cx="1364.7" cy="475.0" r="1.2" fill="#231f20" stroke="none"/>
<circle cx="1364.7" cy="502.6" r="1.2" fill="#231f20" stroke="none"/>
<circle cx="1384.0" cy="116.6" r="2.2" fill="#c9ccd0" stroke-width="0.9"/>
<circle cx="1384.0" cy="144.2" r="2.2" fill="#c9ccd0" stroke-width="0.9"/>
<circle cx="1384.0" cy="171.7" r="6.6" fill="#f1b070"/>
<circle cx="1384.0" cy="199.3" r="1.2" fill="#231f20" stroke="none"/>
<circle cx="1384.0" cy="226.9" r="1.2" fill="#231f20" stroke="none"/>
<circle cx="1384.0" cy="254.4" r="1.2" fill="#231f20" stroke="none"/>
<circle cx="1384.0" cy="282.0" r="7.5" fill="#d42a27"/>
<circle cx="1384.0" cy="309.6" r="2.2" fill="#c9ccd0" stroke-width="0.9"/>
<circle cx="1384.0" cy="337.2" r="1.2" fill="#231f20" stroke="none"/>
<circle cx="1384.0" cy="364.7" r="5.7" fill="#f6d98a"/>
<circle cx="1384.0" cy="392.3" r="1.2" fill="#231f20" stroke="none"/>
<circle cx="1384.0" cy="419.9" r="2.2" fill="#c9ccd0" stroke-width="0.9"/>
<circle cx="1384.0" cy="447.4" r="2.2" fill="#c9ccd0" stroke-width="0.9"/>
<circle cx="1384.0" cy="475.0" r="1.2" fill="#231f20" stroke="none"/>
<circle cx="1384.0" cy="502.6" r="1.2" fill="#231f20" stroke="none"/>
<circle cx="1403.3" cy="116.6" r="1.2" fill="#231f20" stroke="none"/>
<circle cx="1403.3" cy="144.2" r="1.2" fill="#231f20" stroke="none"/>
<circle cx="1403.3" cy="171.7" r="4.8" fill="#cde5ec"/>
<circle cx="1403.3" cy="199.3" r="1.2" fill="#231f20" stroke="none"/>
<circle cx="1403.3" cy="226.9" r="1.2" fill="#231f20" stroke="none"/>
<circle cx="1403.3" cy="254.4" r="1.2" fill="#231f20" stroke="none"/>
<circle cx="1403.3" cy="282.0" r="9.8" fill="#d42a27"/>
<circle cx="1403.3" cy="309.6" r="2.2" fill="#cde5ec"/>
<circle cx="1403.3" cy="337.2" r="1.2" fill="#231f20" stroke="none"/>
<circle cx="1403.3" cy="364.7" r="8.6" fill="#f6d98a"/>
<circle cx="1403.3" cy="392.3" r="1.2" fill="#231f20" stroke="none"/>
<circle cx="1403.3" cy="419.9" r="8.6" fill="#f1b070"/>
<circle cx="1403.3" cy="447.4" r="7.5" fill="#eef0b2"/>
<circle cx="1403.3" cy="475.0" r="1.2" fill="#231f20" stroke="none"/>
<circle cx="1403.3" cy="502.6" r="1.2" fill="#231f20" stroke="none"/>
<circle cx="1422.6" cy="116.6" r="2.2" fill="#9ccae0"/>
<circle cx="1422.6" cy="144.2" r="1.2" fill="#231f20" stroke="none"/>
<circle cx="1422.6" cy="171.7" r="5.7" fill="#dde8d0"/>
<circle cx="1422.6" cy="199.3" r="1.2" fill="#231f20" stroke="none"/>
<circle cx="1422.6" cy="226.9" r="2.2" fill="#9ccae0"/>
<circle cx="1422.6" cy="254.4" r="2.2" fill="#9ccae0"/>
<circle cx="1422.6" cy="282.0" r="8.6" fill="#d42a27"/>
<circle cx="1422.6" cy="309.6" r="5.7" fill="#dde8d0"/>
<circle cx="1422.6" cy="337.2" r="2.2" fill="#c9ccd0" stroke-width="0.9"/>
<circle cx="1422.6" cy="364.7" r="5.7" fill="#dde8d0"/>
<circle cx="1422.6" cy="392.3" r="4.8" fill="#cde5ec"/>
<circle cx="1422.6" cy="419.9" r="6.6" fill="#f6d98a"/>
<circle cx="1422.6" cy="447.4" r="7.5" fill="#f6d98a"/>
<circle cx="1422.6" cy="475.0" r="2.2" fill="#cde5ec"/>
<circle cx="1422.6" cy="502.6" r="2.2" fill="#9ccae0"/>
<circle cx="1441.9" cy="116.6" r="1.2" fill="#231f20" stroke="none"/>
<circle cx="1441.9" cy="144.2" r="1.2" fill="#231f20" stroke="none"/>
<circle cx="1441.9" cy="171.7" r="6.6" fill="#f6d98a"/>
<circle cx="1441.9" cy="199.3" r="1.2" fill="#231f20" stroke="none"/>
<circle cx="1441.9" cy="226.9" r="1.2" fill="#231f20" stroke="none"/>
<circle cx="1441.9" cy="254.4" r="1.2" fill="#231f20" stroke="none"/>
<circle cx="1441.9" cy="282.0" r="6.6" fill="#d42a27"/>
<circle cx="1441.9" cy="309.6" r="4.8" fill="#dde8d0"/>
<circle cx="1441.9" cy="337.2" r="1.2" fill="#231f20" stroke="none"/>
<circle cx="1441.9" cy="364.7" r="5.7" fill="#f6d98a"/>
<circle cx="1441.9" cy="392.3" r="2.2" fill="#c9ccd0" stroke-width="0.9"/>
<circle cx="1441.9" cy="419.9" r="5.7" fill="#f1b070"/>
<circle cx="1441.9" cy="447.4" r="5.7" fill="#f6d98a"/>
<circle cx="1441.9" cy="475.0" r="2.2" fill="#c9ccd0" stroke-width="0.9"/>
<circle cx="1441.9" cy="502.6" r="1.2" fill="#231f20" stroke="none"/>
<circle cx="1461.2" cy="116.6" r="1.2" fill="#231f20" stroke="none"/>
<circle cx="1461.2" cy="144.2" r="1.2" fill="#231f20" stroke="none"/>
<circle cx="1461.2" cy="171.7" r="2.2" fill="#f6d98a"/>
<circle cx="1461.2" cy="199.3" r="1.2" fill="#231f20" stroke="none"/>
<circle cx="1461.2" cy="226.9" r="2.2" fill="#c9ccd0" stroke-width="0.9"/>
<circle cx="1461.2" cy="254.4" r="1.2" fill="#231f20" stroke="none"/>
<circle cx="1461.2" cy="282.0" r="3.9" fill="#d42a27"/>
<circle cx="1461.2" cy="309.6" r="2.2" fill="#c9ccd0" stroke-width="0.9"/>
<circle cx="1461.2" cy="337.2" r="2.2" fill="#c9ccd0" stroke-width="0.9"/>
<circle cx="1461.2" cy="364.7" r="2.2" fill="#f6d98a"/>
<circle cx="1461.2" cy="392.3" r="2.2" fill="#c9ccd0" stroke-width="0.9"/>
<circle cx="1461.2" cy="419.9" r="2.2" fill="#c9ccd0" stroke-width="0.9"/>
<circle cx="1461.2" cy="447.4" r="2.2" fill="#c9ccd0" stroke-width="0.9"/>
<circle cx="1461.2" cy="475.0" r="1.2" fill="#231f20" stroke="none"/>
<circle cx="1461.2" cy="502.6" r="1.2" fill="#231f20" stroke="none"/>
<circle cx="1480.5" cy="116.6" r="1.2" fill="#231f20" stroke="none"/>
<circle cx="1480.5" cy="144.2" r="1.2" fill="#231f20" stroke="none"/>
<circle cx="1480.5" cy="171.7" r="2.2" fill="#c9ccd0" stroke-width="0.9"/>
<circle cx="1480.5" cy="199.3" r="1.2" fill="#231f20" stroke="none"/>
<circle cx="1480.5" cy="226.9" r="2.2" fill="#c9ccd0" stroke-width="0.9"/>
<circle cx="1480.5" cy="254.4" r="5.7" fill="#eef0b2"/>
<circle cx="1480.5" cy="282.0" r="4.8" fill="#d42a27"/>
<circle cx="1480.5" cy="309.6" r="2.2" fill="#c9ccd0" stroke-width="0.9"/>
<circle cx="1480.5" cy="337.2" r="2.2" fill="#c9ccd0" stroke-width="0.9"/>
<circle cx="1480.5" cy="364.7" r="2.2" fill="#c9ccd0" stroke-width="0.9"/>
<circle cx="1480.5" cy="392.3" r="7.5" fill="#e25a3c"/>
<circle cx="1480.5" cy="419.9" r="1.2" fill="#231f20" stroke="none"/>
<circle cx="1480.5" cy="447.4" r="1.2" fill="#231f20" stroke="none"/>
<circle cx="1480.5" cy="475.0" r="1.2" fill="#231f20" stroke="none"/>
<circle cx="1480.5" cy="502.6" r="1.2" fill="#231f20" stroke="none"/>
<circle cx="1499.8" cy="116.6" r="1.2" fill="#231f20" stroke="none"/>
<circle cx="1499.8" cy="144.2" r="1.2" fill="#231f20" stroke="none"/>
<circle cx="1499.8" cy="171.7" r="2.2" fill="#eef0b2"/>
<circle cx="1499.8" cy="199.3" r="1.2" fill="#231f20" stroke="none"/>
<circle cx="1499.8" cy="226.9" r="1.2" fill="#231f20" stroke="none"/>
<circle cx="1499.8" cy="254.4" r="1.2" fill="#231f20" stroke="none"/>
<circle cx="1499.8" cy="282.0" r="4.8" fill="#e25a3c"/>
<circle cx="1499.8" cy="309.6" r="2.2" fill="#c9ccd0" stroke-width="0.9"/>
<circle cx="1499.8" cy="337.2" r="1.2" fill="#231f20" stroke="none"/>
<circle cx="1499.8" cy="364.7" r="4.8" fill="#f1b070"/>
<circle cx="1499.8" cy="392.3" r="2.2" fill="#c9ccd0" stroke-width="0.9"/>
<circle cx="1499.8" cy="419.9" r="4.8" fill="#f1b070"/>
<circle cx="1499.8" cy="447.4" r="5.7" fill="#f1b070"/>
<circle cx="1499.8" cy="475.0" r="1.2" fill="#231f20" stroke="none"/>
<circle cx="1499.8" cy="502.6" r="1.2" fill="#231f20" stroke="none"/>
<circle cx="1519.2" cy="116.6" r="1.2" fill="#231f20" stroke="none"/>
<circle cx="1519.2" cy="144.2" r="1.2" fill="#231f20" stroke="none"/>
<circle cx="1519.2" cy="171.7" r="1.2" fill="#231f20" stroke="none"/>
<circle cx="1519.2" cy="199.3" r="1.2" fill="#231f20" stroke="none"/>
<circle cx="1519.2" cy="226.9" r="1.2" fill="#231f20" stroke="none"/>
<circle cx="1519.2" cy="254.4" r="1.2" fill="#231f20" stroke="none"/>
<circle cx="1519.2" cy="282.0" r="3.0" fill="#d42a27"/>
<circle cx="1519.2" cy="309.6" r="2.2" fill="#c9ccd0" stroke-width="0.9"/>
<circle cx="1519.2" cy="337.2" r="1.2" fill="#231f20" stroke="none"/>
<circle cx="1519.2" cy="364.7" r="2.2" fill="#f6d98a"/>
<circle cx="1519.2" cy="392.3" r="2.2" fill="#c9ccd0" stroke-width="0.9"/>
<circle cx="1519.2" cy="419.9" r="2.2" fill="#c9ccd0" stroke-width="0.9"/>
<circle cx="1519.2" cy="447.4" r="1.2" fill="#231f20" stroke="none"/>
<circle cx="1519.2" cy="475.0" r="1.2" fill="#231f20" stroke="none"/>
<circle cx="1519.2" cy="502.6" r="1.2" fill="#231f20" stroke="none"/>
<circle cx="1538.5" cy="116.6" r="2.2" fill="#9ccae0"/>
<circle cx="1538.5" cy="144.2" r="1.2" fill="#231f20" stroke="none"/>
<circle cx="1538.5" cy="171.7" r="3.9" fill="#9ccae0"/>
<circle cx="1538.5" cy="199.3" r="1.2" fill="#231f20" stroke="none"/>
<circle cx="1538.5" cy="226.9" r="1.2" fill="#231f20" stroke="none"/>
<circle cx="1538.5" cy="254.4" r="1.2" fill="#231f20" stroke="none"/>
<circle cx="1538.5" cy="282.0" r="7.5" fill="#eef0b2"/>
<circle cx="1538.5" cy="309.6" r="9.8" fill="#d42a27"/>
<circle cx="1538.5" cy="337.2" r="6.6" fill="#dde8d0"/>
<circle cx="1538.5" cy="364.7" r="9.8" fill="#f6d98a"/>
<circle cx="1538.5" cy="392.3" r="6.6" fill="#dde8d0"/>
<circle cx="1538.5" cy="419.9" r="8.6" fill="#dde8d0"/>
<circle cx="1538.5" cy="447.4" r="8.6" fill="#dde8d0"/>
<circle cx="1538.5" cy="475.0" r="8.6" fill="#dde8d0"/>
<circle cx="1538.5" cy="502.6" r="6.6" fill="#cde5ec"/>
<circle cx="1557.8" cy="116.6" r="4.8" fill="#9ccae0"/>
<circle cx="1557.8" cy="144.2" r="3.0" fill="#9ccae0"/>
<circle cx="1557.8" cy="171.7" r="4.8" fill="#9ccae0"/>
<circle cx="1557.8" cy="199.3" r="1.2" fill="#231f20" stroke="none"/>
<circle cx="1557.8" cy="226.9" r="3.0" fill="#9ccae0"/>
<circle cx="1557.8" cy="254.4" r="4.8" fill="#9ccae0"/>
<circle cx="1557.8" cy="282.0" r="6.6" fill="#dde8d0"/>
<circle cx="1557.8" cy="309.6" r="9.8" fill="#d42a27"/>
<circle cx="1557.8" cy="337.2" r="7.5" fill="#dde8d0"/>
<circle cx="1557.8" cy="364.7" r="8.6" fill="#f6d98a"/>
<circle cx="1557.8" cy="392.3" r="7.5" fill="#eef0b2"/>
<circle cx="1557.8" cy="419.9" r="7.5" fill="#eef0b2"/>
<circle cx="1557.8" cy="447.4" r="7.5" fill="#cde5ec"/>
<circle cx="1557.8" cy="475.0" r="8.6" fill="#eef0b2"/>
<circle cx="1557.8" cy="502.6" r="7.5" fill="#cde5ec"/>
<circle cx="1577.1" cy="116.6" r="9.8" fill="#9ccae0"/>
<circle cx="1577.1" cy="144.2" r="8.6" fill="#72acd3"/>
<circle cx="1577.1" cy="171.7" r="9.8" fill="#dde8d0"/>
<circle cx="1577.1" cy="199.3" r="3.9" fill="#72acd3"/>
<circle cx="1577.1" cy="226.9" r="7.5" fill="#72acd3"/>
<circle cx="1577.1" cy="254.4" r="9.8" fill="#9ccae0"/>
<circle cx="1577.1" cy="282.0" r="9.8" fill="#f1b070"/>
<circle cx="1577.1" cy="309.6" r="9.8" fill="#e25a3c"/>
<circle cx="1577.1" cy="337.2" r="9.8" fill="#eef0b2"/>
<circle cx="1577.1" cy="364.7" r="9.8" fill="#f6d98a"/>
<circle cx="1577.1" cy="392.3" r="9.8" fill="#ec8c5a"/>
<circle cx="1577.1" cy="419.9" r="8.6" fill="#72acd3"/>
<circle cx="1577.1" cy="447.4" r="8.6" fill="#72acd3"/>
<circle cx="1577.1" cy="475.0" r="9.8" fill="#eef0b2"/>
<circle cx="1577.1" cy="502.6" r="9.8" fill="#cde5ec"/>
<circle cx="1596.4" cy="116.6" r="3.9" fill="#72acd3"/>
<circle cx="1596.4" cy="144.2" r="1.2" fill="#231f20" stroke="none"/>
<circle cx="1596.4" cy="171.7" r="3.9" fill="#72acd3"/>
<circle cx="1596.4" cy="199.3" r="1.2" fill="#231f20" stroke="none"/>
<circle cx="1596.4" cy="226.9" r="2.2" fill="#9ccae0"/>
<circle cx="1596.4" cy="254.4" r="8.6" fill="#e25a3c"/>
<circle cx="1596.4" cy="282.0" r="7.5" fill="#cde5ec"/>
<circle cx="1596.4" cy="309.6" r="9.8" fill="#e25a3c"/>
<circle cx="1596.4" cy="337.2" r="8.6" fill="#eef0b2"/>
<circle cx="1596.4" cy="364.7" r="9.8" fill="#f6d98a"/>
<circle cx="1596.4" cy="392.3" r="9.8" fill="#f6d98a"/>
<circle cx="1596.4" cy="419.9" r="8.6" fill="#eef0b2"/>
<circle cx="1596.4" cy="447.4" r="7.5" fill="#9ccae0"/>
<circle cx="1596.4" cy="475.0" r="9.8" fill="#eef0b2"/>
<circle cx="1596.4" cy="502.6" r="8.6" fill="#cde5ec"/>
<circle cx="1615.7" cy="116.6" r="4.8" fill="#9ccae0"/>
<circle cx="1615.7" cy="144.2" r="1.2" fill="#231f20" stroke="none"/>
<circle cx="1615.7" cy="171.7" r="2.2" fill="#9ccae0"/>
<circle cx="1615.7" cy="199.3" r="1.2" fill="#231f20" stroke="none"/>
<circle cx="1615.7" cy="226.9" r="4.8" fill="#9ccae0"/>
<circle cx="1615.7" cy="254.4" r="2.2" fill="#9ccae0"/>
<circle cx="1615.7" cy="282.0" r="5.7" fill="#9ccae0"/>
<circle cx="1615.7" cy="309.6" r="9.8" fill="#ec8c5a"/>
<circle cx="1615.7" cy="337.2" r="8.6" fill="#f1b070"/>
<circle cx="1615.7" cy="364.7" r="9.8" fill="#f1b070"/>
<circle cx="1615.7" cy="392.3" r="8.6" fill="#f6d98a"/>
<circle cx="1615.7" cy="419.9" r="8.6" fill="#dde8d0"/>
<circle cx="1615.7" cy="447.4" r="7.5" fill="#9ccae0"/>
<circle cx="1615.7" cy="475.0" r="9.8" fill="#f6d98a"/>
<circle cx="1615.7" cy="502.6" r="8.6" fill="#eef0b2"/>
<circle cx="1635.0" cy="116.6" r="7.5" fill="#9ccae0"/>
<circle cx="1635.0" cy="144.2" r="8.6" fill="#9ccae0"/>
<circle cx="1635.0" cy="171.7" r="7.5" fill="#9ccae0"/>
<circle cx="1635.0" cy="199.3" r="3.9" fill="#9ccae0"/>
<circle cx="1635.0" cy="226.9" r="2.2" fill="#9ccae0"/>
<circle cx="1635.0" cy="254.4" r="2.2" fill="#9ccae0"/>
<circle cx="1635.0" cy="282.0" r="7.5" fill="#9ccae0"/>
<circle cx="1635.0" cy="309.6" r="9.8" fill="#ec8c5a"/>
<circle cx="1635.0" cy="337.2" r="9.8" fill="#e25a3c"/>
<circle cx="1635.0" cy="364.7" r="8.6" fill="#9ccae0"/>
<circle cx="1635.0" cy="392.3" r="8.6" fill="#dde8d0"/>
<circle cx="1635.0" cy="419.9" r="8.6" fill="#9ccae0"/>
<circle cx="1635.0" cy="447.4" r="9.8" fill="#cde5ec"/>
<circle cx="1635.0" cy="475.0" r="9.8" fill="#ec8c5a"/>
<circle cx="1635.0" cy="502.6" r="9.8" fill="#eef0b2"/>
<circle cx="1654.3" cy="116.6" r="5.7" fill="#9ccae0"/>
<circle cx="1654.3" cy="144.2" r="2.2" fill="#9ccae0"/>
<circle cx="1654.3" cy="171.7" r="5.7" fill="#9ccae0"/>
<circle cx="1654.3" cy="199.3" r="3.0" fill="#9ccae0"/>
<circle cx="1654.3" cy="226.9" r="1.2" fill="#231f20" stroke="none"/>
<circle cx="1654.3" cy="254.4" r="4.8" fill="#9ccae0"/>
<circle cx="1654.3" cy="282.0" r="4.8" fill="#9ccae0"/>
<circle cx="1654.3" cy="309.6" r="8.6" fill="#eef0b2"/>
<circle cx="1654.3" cy="337.2" r="7.5" fill="#dde8d0"/>
<circle cx="1654.3" cy="364.7" r="9.8" fill="#d42a27"/>
<circle cx="1654.3" cy="392.3" r="4.8" fill="#9ccae0"/>
<circle cx="1654.3" cy="419.9" r="9.8" fill="#f1b070"/>
<circle cx="1654.3" cy="447.4" r="9.8" fill="#dde8d0"/>
<circle cx="1654.3" cy="475.0" r="9.8" fill="#f6d98a"/>
<circle cx="1654.3" cy="502.6" r="9.8" fill="#eef0b2"/>
<circle cx="1673.6" cy="116.6" r="5.7" fill="#cde5ec"/>
<circle cx="1673.6" cy="144.2" r="5.7" fill="#9ccae0"/>
<circle cx="1673.6" cy="171.7" r="8.6" fill="#ec8c5a"/>
<circle cx="1673.6" cy="199.3" r="2.2" fill="#9ccae0"/>
<circle cx="1673.6" cy="226.9" r="5.7" fill="#eef0b2"/>
<circle cx="1673.6" cy="254.4" r="5.7" fill="#cde5ec"/>
<circle cx="1673.6" cy="282.0" r="7.5" fill="#f6d98a"/>
<circle cx="1673.6" cy="309.6" r="3.9" fill="#9ccae0"/>
<circle cx="1673.6" cy="337.2" r="2.2" fill="#9ccae0"/>
<circle cx="1673.6" cy="364.7" r="9.8" fill="#d42a27"/>
<circle cx="1673.6" cy="392.3" r="4.8" fill="#9ccae0"/>
<circle cx="1673.6" cy="419.9" r="7.5" fill="#eef0b2"/>
<circle cx="1673.6" cy="447.4" r="6.6" fill="#dde8d0"/>
<circle cx="1673.6" cy="475.0" r="2.2" fill="#c9ccd0" stroke-width="0.9"/>
<circle cx="1673.6" cy="502.6" r="2.2" fill="#9ccae0"/>
<circle cx="1692.9" cy="116.6" r="4.8" fill="#cde5ec"/>
<circle cx="1692.9" cy="144.2" r="1.2" fill="#231f20" stroke="none"/>
<circle cx="1692.9" cy="171.7" r="7.5" fill="#f6d98a"/>
<circle cx="1692.9" cy="199.3" r="1.2" fill="#231f20" stroke="none"/>
<circle cx="1692.9" cy="226.9" r="1.2" fill="#231f20" stroke="none"/>
<circle cx="1692.9" cy="254.4" r="1.2" fill="#231f20" stroke="none"/>
<circle cx="1692.9" cy="282.0" r="5.7" fill="#eef0b2"/>
<circle cx="1692.9" cy="309.6" r="7.5" fill="#f6d98a"/>
<circle cx="1692.9" cy="337.2" r="3.9" fill="#cde5ec"/>
<circle cx="1692.9" cy="364.7" r="8.6" fill="#d42a27"/>
<circle cx="1692.9" cy="392.3" r="4.8" fill="#dde8d0"/>
<circle cx="1692.9" cy="419.9" r="6.6" fill="#f6d98a"/>
<circle cx="1692.9" cy="447.4" r="4.8" fill="#cde5ec"/>
<circle cx="1692.9" cy="475.0" r="4.8" fill="#cde5ec"/>
<circle cx="1692.9" cy="502.6" r="2.2" fill="#9ccae0"/>
<circle cx="1712.3" cy="116.6" r="4.8" fill="#9ccae0"/>
<circle cx="1712.3" cy="144.2" r="1.2" fill="#231f20" stroke="none"/>
<circle cx="1712.3" cy="171.7" r="4.8" fill="#9ccae0"/>
<circle cx="1712.3" cy="199.3" r="1.2" fill="#231f20" stroke="none"/>
<circle cx="1712.3" cy="226.9" r="4.8" fill="#9ccae0"/>
<circle cx="1712.3" cy="254.4" r="8.6" fill="#dde8d0"/>
<circle cx="1712.3" cy="282.0" r="7.5" fill="#cde5ec"/>
<circle cx="1712.3" cy="309.6" r="9.8" fill="#e25a3c"/>
<circle cx="1712.3" cy="337.2" r="9.8" fill="#f6d98a"/>
<circle cx="1712.3" cy="364.7" r="9.8" fill="#dde8d0"/>
<circle cx="1712.3" cy="392.3" r="9.8" fill="#e25a3c"/>
<circle cx="1712.3" cy="419.9" r="8.6" fill="#dde8d0"/>
<circle cx="1712.3" cy="447.4" r="7.5" fill="#9ccae0"/>
<circle cx="1712.3" cy="475.0" r="8.6" fill="#dde8d0"/>
<circle cx="1712.3" cy="502.6" r="8.6" fill="#cde5ec"/>
<circle cx="1731.6" cy="116.6" r="9.8" fill="#f1b070"/>
<circle cx="1731.6" cy="144.2" r="6.6" fill="#4a7db8"/>
<circle cx="1731.6" cy="171.7" r="9.8" fill="#cde5ec"/>
<circle cx="1731.6" cy="199.3" r="6.6" fill="#9ccae0"/>
<circle cx="1731.6" cy="226.9" r="9.8" fill="#9ccae0"/>
<circle cx="1731.6" cy="254.4" r="9.8" fill="#f1b070"/>
<circle cx="1731.6" cy="282.0" r="9.8" fill="#eef0b2"/>
<circle cx="1731.6" cy="309.6" r="9.8" fill="#cde5ec"/>
<circle cx="1731.6" cy="337.2" r="9.8" fill="#eef0b2"/>
<circle cx="1731.6" cy="364.7" r="9.8" fill="#cde5ec"/>
<circle cx="1731.6" cy="392.3" r="9.8" fill="#e25a3c"/>
<circle cx="1731.6" cy="419.9" r="9.8" fill="#cde5ec"/>
<circle cx="1731.6" cy="447.4" r="9.8" fill="#cde5ec"/>
<circle cx="1731.6" cy="475.0" r="9.8" fill="#72acd3"/>
<circle cx="1731.6" cy="502.6" r="9.8" fill="#cde5ec"/>
<circle cx="1750.9" cy="116.6" r="9.8" fill="#dde8d0"/>
<circle cx="1750.9" cy="144.2" r="4.8" fill="#4a7db8"/>
<circle cx="1750.9" cy="171.7" r="7.5" fill="#9ccae0"/>
<circle cx="1750.9" cy="199.3" r="2.2" fill="#72acd3"/>
<circle cx="1750.9" cy="226.9" r="4.8" fill="#72acd3"/>
<circle cx="1750.9" cy="254.4" r="7.5" fill="#72acd3"/>
<circle cx="1750.9" cy="282.0" r="8.6" fill="#eef0b2"/>
<circle cx="1750.9" cy="309.6" r="9.8" fill="#f6d98a"/>
<circle cx="1750.9" cy="337.2" r="8.6" fill="#f6d98a"/>
<circle cx="1750.9" cy="364.7" r="9.8" fill="#dde8d0"/>
<circle cx="1750.9" cy="392.3" r="9.8" fill="#ec8c5a"/>
<circle cx="1750.9" cy="419.9" r="9.8" fill="#f1b070"/>
<circle cx="1750.9" cy="447.4" r="9.8" fill="#f1b070"/>
<circle cx="1750.9" cy="475.0" r="8.6" fill="#9ccae0"/>
<circle cx="1750.9" cy="502.6" r="9.8" fill="#dde8d0"/>
<circle cx="1770.2" cy="116.6" r="2.2" fill="#cde5ec"/>
<circle cx="1770.2" cy="144.2" r="1.2" fill="#231f20" stroke="none"/>
<circle cx="1770.2" cy="171.7" r="2.2" fill="#9ccae0"/>
<circle cx="1770.2" cy="199.3" r="1.2" fill="#231f20" stroke="none"/>
<circle cx="1770.2" cy="226.9" r="2.2" fill="#eef0b2"/>
<circle cx="1770.2" cy="254.4" r="2.2" fill="#9ccae0"/>
<circle cx="1770.2" cy="282.0" r="2.2" fill="#cde5ec"/>
<circle cx="1770.2" cy="309.6" r="3.9" fill="#dde8d0"/>
<circle cx="1770.2" cy="337.2" r="3.9" fill="#f6d98a"/>
<circle cx="1770.2" cy="364.7" r="3.9" fill="#dde8d0"/>
<circle cx="1770.2" cy="392.3" r="4.8" fill="#d42a27"/>
<circle cx="1770.2" cy="419.9" r="2.2" fill="#cde5ec"/>
<circle cx="1770.2" cy="447.4" r="3.9" fill="#dde8d0"/>
<circle cx="1770.2" cy="475.0" r="3.9" fill="#eef0b2"/>
<circle cx="1770.2" cy="502.6" r="4.8" fill="#f6d98a"/>
<circle cx="1789.5" cy="116.6" r="1.2" fill="#231f20" stroke="none"/>
<circle cx="1789.5" cy="144.2" r="1.2" fill="#231f20" stroke="none"/>
<circle cx="1789.5" cy="171.7" r="1.2" fill="#231f20" stroke="none"/>
<circle cx="1789.5" cy="199.3" r="1.2" fill="#231f20" stroke="none"/>
<circle cx="1789.5" cy="226.9" r="1.2" fill="#231f20" stroke="none"/>
<circle cx="1789.5" cy="254.4" r="3.0" fill="#f6d98a"/>
<circle cx="1789.5" cy="282.0" r="1.2" fill="#231f20" stroke="none"/>
<circle cx="1789.5" cy="309.6" r="5.7" fill="#e25a3c"/>
<circle cx="1789.5" cy="337.2" r="3.9" fill="#f6d98a"/>
<circle cx="1789.5" cy="364.7" r="3.9" fill="#dde8d0"/>
<circle cx="1789.5" cy="392.3" r="3.9" fill="#e25a3c"/>
<circle cx="1789.5" cy="419.9" r="2.2" fill="#c9ccd0" stroke-width="0.9"/>
<circle cx="1789.5" cy="447.4" r="2.2" fill="#c9ccd0" stroke-width="0.9"/>
<circle cx="1789.5" cy="475.0" r="3.9" fill="#eef0b2"/>
<circle cx="1789.5" cy="502.6" r="3.0" fill="#dde8d0"/>
<circle cx="1808.8" cy="116.6" r="1.2" fill="#231f20" stroke="none"/>
<circle cx="1808.8" cy="144.2" r="2.2" fill="#9ccae0"/>
<circle cx="1808.8" cy="171.7" r="4.8" fill="#cde5ec"/>
<circle cx="1808.8" cy="199.3" r="1.2" fill="#231f20" stroke="none"/>
<circle cx="1808.8" cy="226.9" r="1.2" fill="#231f20" stroke="none"/>
<circle cx="1808.8" cy="254.4" r="1.2" fill="#231f20" stroke="none"/>
<circle cx="1808.8" cy="282.0" r="9.8" fill="#e25a3c"/>
<circle cx="1808.8" cy="309.6" r="4.8" fill="#cde5ec"/>
<circle cx="1808.8" cy="337.2" r="2.2" fill="#c9ccd0" stroke-width="0.9"/>
<circle cx="1808.8" cy="364.7" r="7.5" fill="#dde8d0"/>
<circle cx="1808.8" cy="392.3" r="2.2" fill="#c9ccd0" stroke-width="0.9"/>
<circle cx="1808.8" cy="419.9" r="9.8" fill="#d42a27"/>
<circle cx="1808.8" cy="447.4" r="9.8" fill="#f6d98a"/>
<circle cx="1808.8" cy="475.0" r="2.2" fill="#9ccae0"/>
<circle cx="1808.8" cy="502.6" r="2.2" fill="#9ccae0"/>
<circle cx="1828.1" cy="116.6" r="4.8" fill="#cde5ec"/>
<circle cx="1828.1" cy="144.2" r="1.2" fill="#231f20" stroke="none"/>
<circle cx="1828.1" cy="171.7" r="7.5" fill="#dde8d0"/>
<circle cx="1828.1" cy="199.3" r="2.2" fill="#c9ccd0" stroke-width="0.9"/>
<circle cx="1828.1" cy="226.9" r="1.2" fill="#231f20" stroke="none"/>
<circle cx="1828.1" cy="254.4" r="2.2" fill="#c9ccd0" stroke-width="0.9"/>
<circle cx="1828.1" cy="282.0" r="9.8" fill="#d42a27"/>
<circle cx="1828.1" cy="309.6" r="2.2" fill="#9ccae0"/>
<circle cx="1828.1" cy="337.2" r="1.2" fill="#231f20" stroke="none"/>
<circle cx="1828.1" cy="364.7" r="7.5" fill="#eef0b2"/>
<circle cx="1828.1" cy="392.3" r="3.9" fill="#9ccae0"/>
<circle cx="1828.1" cy="419.9" r="9.8" fill="#ec8c5a"/>
<circle cx="1828.1" cy="447.4" r="9.8" fill="#f6d98a"/>
<circle cx="1828.1" cy="475.0" r="1.2" fill="#231f20" stroke="none"/>
<circle cx="1828.1" cy="502.6" r="2.2" fill="#c9ccd0" stroke-width="0.9"/>
<circle cx="1847.4" cy="116.6" r="3.9" fill="#cde5ec"/>
<circle cx="1847.4" cy="144.2" r="4.8" fill="#cde5ec"/>
<circle cx="1847.4" cy="171.7" r="2.2" fill="#cde5ec"/>
<circle cx="1847.4" cy="199.3" r="1.2" fill="#231f20" stroke="none"/>
<circle cx="1847.4" cy="226.9" r="1.2" fill="#231f20" stroke="none"/>
<circle cx="1847.4" cy="254.4" r="3.9" fill="#cde5ec"/>
<circle cx="1847.4" cy="282.0" r="7.5" fill="#ec8c5a"/>
<circle cx="1847.4" cy="309.6" r="2.2" fill="#c9ccd0" stroke-width="0.9"/>
<circle cx="1847.4" cy="337.2" r="1.2" fill="#231f20" stroke="none"/>
<circle cx="1847.4" cy="364.7" r="4.8" fill="#dde8d0"/>
<circle cx="1847.4" cy="392.3" r="2.2" fill="#c9ccd0" stroke-width="0.9"/>
<circle cx="1847.4" cy="419.9" r="8.6" fill="#d42a27"/>
<circle cx="1847.4" cy="447.4" r="7.5" fill="#f1b070"/>
<circle cx="1847.4" cy="475.0" r="1.2" fill="#231f20" stroke="none"/>
<circle cx="1847.4" cy="502.6" r="2.2" fill="#c9ccd0" stroke-width="0.9"/>
<circle cx="1866.7" cy="116.6" r="2.2" fill="#cde5ec"/>
<circle cx="1866.7" cy="144.2" r="5.7" fill="#cde5ec"/>
<circle cx="1866.7" cy="171.7" r="9.8" fill="#f6d98a"/>
<circle cx="1866.7" cy="199.3" r="1.2" fill="#231f20" stroke="none"/>
<circle cx="1866.7" cy="226.9" r="1.2" fill="#231f20" stroke="none"/>
<circle cx="1866.7" cy="254.4" r="1.2" fill="#231f20" stroke="none"/>
<circle cx="1866.7" cy="282.0" r="9.8" fill="#ec8c5a"/>
<circle cx="1866.7" cy="309.6" r="2.2" fill="#cde5ec"/>
<circle cx="1866.7" cy="337.2" r="1.2" fill="#231f20" stroke="none"/>
<circle cx="1866.7" cy="364.7" r="8.6" fill="#f6d98a"/>
<circle cx="1866.7" cy="392.3" r="1.2" fill="#231f20" stroke="none"/>
<circle cx="1866.7" cy="419.9" r="9.8" fill="#e25a3c"/>
<circle cx="1866.7" cy="447.4" r="9.8" fill="#f1b070"/>
<circle cx="1866.7" cy="475.0" r="1.2" fill="#231f20" stroke="none"/>
<circle cx="1866.7" cy="502.6" r="2.2" fill="#c9ccd0" stroke-width="0.9"/>
<circle cx="1886.0" cy="116.6" r="2.2" fill="#9ccae0"/>
<circle cx="1886.0" cy="144.2" r="2.2" fill="#9ccae0"/>
<circle cx="1886.0" cy="171.7" r="3.9" fill="#9ccae0"/>
<circle cx="1886.0" cy="199.3" r="1.2" fill="#231f20" stroke="none"/>
<circle cx="1886.0" cy="226.9" r="1.2" fill="#231f20" stroke="none"/>
<circle cx="1886.0" cy="254.4" r="1.2" fill="#231f20" stroke="none"/>
<circle cx="1886.0" cy="282.0" r="5.7" fill="#dde8d0"/>
<circle cx="1886.0" cy="309.6" r="9.8" fill="#f1b070"/>
<circle cx="1886.0" cy="337.2" r="6.6" fill="#cde5ec"/>
<circle cx="1886.0" cy="364.7" r="9.8" fill="#e25a3c"/>
<circle cx="1886.0" cy="392.3" r="3.9" fill="#9ccae0"/>
<circle cx="1886.0" cy="419.9" r="9.8" fill="#e25a3c"/>
<circle cx="1886.0" cy="447.4" r="9.8" fill="#eef0b2"/>
<circle cx="1886.0" cy="475.0" r="9.8" fill="#eef0b2"/>
<circle cx="1886.0" cy="502.6" r="7.5" fill="#cde5ec"/>
<circle cx="1905.4" cy="116.6" r="2.2" fill="#c9ccd0" stroke-width="0.9"/>
<circle cx="1905.4" cy="144.2" r="1.2" fill="#231f20" stroke="none"/>
<circle cx="1905.4" cy="171.7" r="3.9" fill="#f6d98a"/>
<circle cx="1905.4" cy="199.3" r="1.2" fill="#231f20" stroke="none"/>
<circle cx="1905.4" cy="226.9" r="1.2" fill="#231f20" stroke="none"/>
<circle cx="1905.4" cy="254.4" r="1.2" fill="#231f20" stroke="none"/>
<circle cx="1905.4" cy="282.0" r="4.8" fill="#eef0b2"/>
<circle cx="1905.4" cy="309.6" r="2.2" fill="#cde5ec"/>
<circle cx="1905.4" cy="337.2" r="2.2" fill="#c9ccd0" stroke-width="0.9"/>
<circle cx="1905.4" cy="364.7" r="3.9" fill="#cde5ec"/>
<circle cx="1905.4" cy="392.3" r="2.2" fill="#c9ccd0" stroke-width="0.9"/>
<circle cx="1905.4" cy="419.9" r="7.5" fill="#d42a27"/>
<circle cx="1905.4" cy="447.4" r="6.6" fill="#ec8c5a"/>
<circle cx="1905.4" cy="475.0" r="2.2" fill="#c9ccd0" stroke-width="0.9"/>
<circle cx="1905.4" cy="502.6" r="2.2" fill="#c9ccd0" stroke-width="0.9"/>
<circle cx="1924.7" cy="116.6" r="1.2" fill="#231f20" stroke="none"/>
<circle cx="1924.7" cy="144.2" r="1.2" fill="#231f20" stroke="none"/>
<circle cx="1924.7" cy="171.7" r="4.8" fill="#f6d98a"/>
<circle cx="1924.7" cy="199.3" r="1.2" fill="#231f20" stroke="none"/>
<circle cx="1924.7" cy="226.9" r="1.2" fill="#231f20" stroke="none"/>
<circle cx="1924.7" cy="254.4" r="1.2" fill="#231f20" stroke="none"/>
<circle cx="1924.7" cy="282.0" r="4.8" fill="#f1b070"/>
<circle cx="1924.7" cy="309.6" r="1.2" fill="#231f20" stroke="none"/>
<circle cx="1924.7" cy="337.2" r="1.2" fill="#231f20" stroke="none"/>
<circle cx="1924.7" cy="364.7" r="3.9" fill="#eef0b2"/>
<circle cx="1924.7" cy="392.3" r="1.2" fill="#231f20" stroke="none"/>
<circle cx="1924.7" cy="419.9" r="5.7" fill="#e25a3c"/>
<circle cx="1924.7" cy="447.4" r="5.7" fill="#ec8c5a"/>
<circle cx="1924.7" cy="475.0" r="1.2" fill="#231f20" stroke="none"/>
<circle cx="1924.7" cy="502.6" r="1.2" fill="#231f20" stroke="none"/>
<circle cx="1944.0" cy="116.6" r="3.9" fill="#9ccae0"/>
<circle cx="1944.0" cy="144.2" r="3.0" fill="#9ccae0"/>
<circle cx="1944.0" cy="171.7" r="5.7" fill="#cde5ec"/>
<circle cx="1944.0" cy="199.3" r="1.2" fill="#231f20" stroke="none"/>
<circle cx="1944.0" cy="226.9" r="1.2" fill="#231f20" stroke="none"/>
<circle cx="1944.0" cy="254.4" r="1.2" fill="#231f20" stroke="none"/>
<circle cx="1944.0" cy="282.0" r="7.5" fill="#f6d98a"/>
<circle cx="1944.0" cy="309.6" r="9.8" fill="#f6d98a"/>
<circle cx="1944.0" cy="337.2" r="9.8" fill="#eef0b2"/>
<circle cx="1944.0" cy="364.7" r="7.5" fill="#cde5ec"/>
<circle cx="1944.0" cy="392.3" r="6.6" fill="#9ccae0"/>
<circle cx="1944.0" cy="419.9" r="9.8" fill="#ec8c5a"/>
<circle cx="1944.0" cy="447.4" r="9.8" fill="#ec8c5a"/>
<circle cx="1944.0" cy="475.0" r="9.8" fill="#eef0b2"/>
<circle cx="1944.0" cy="502.6" r="8.6" fill="#f6d98a"/>
<circle cx="1963.3" cy="116.6" r="6.6" fill="#72acd3"/>
<circle cx="1963.3" cy="144.2" r="7.5" fill="#72acd3"/>
<circle cx="1963.3" cy="171.7" r="6.6" fill="#9ccae0"/>
<circle cx="1963.3" cy="199.3" r="3.9" fill="#72acd3"/>
<circle cx="1963.3" cy="226.9" r="5.7" fill="#dde8d0"/>
<circle cx="1963.3" cy="254.4" r="6.6" fill="#9ccae0"/>
<circle cx="1963.3" cy="282.0" r="7.5" fill="#eef0b2"/>
<circle cx="1963.3" cy="309.6" r="8.6" fill="#f6d98a"/>
<circle cx="1963.3" cy="337.2" r="6.6" fill="#dde8d0"/>
<circle cx="1963.3" cy="364.7" r="6.6" fill="#72acd3"/>
<circle cx="1963.3" cy="392.3" r="7.5" fill="#eef0b2"/>
<circle cx="1963.3" cy="419.9" r="8.6" fill="#f1b070"/>
<circle cx="1963.3" cy="447.4" r="8.6" fill="#e25a3c"/>
<circle cx="1963.3" cy="475.0" r="8.6" fill="#cde5ec"/>
<circle cx="1963.3" cy="502.6" r="8.6" fill="#dde8d0"/>
<circle cx="1982.6" cy="116.6" r="2.2" fill="#9ccae0"/>
<circle cx="1982.6" cy="144.2" r="1.2" fill="#231f20" stroke="none"/>
<circle cx="1982.6" cy="171.7" r="2.2" fill="#9ccae0"/>
<circle cx="1982.6" cy="199.3" r="1.2" fill="#231f20" stroke="none"/>
<circle cx="1982.6" cy="226.9" r="1.2" fill="#231f20" stroke="none"/>
<circle cx="1982.6" cy="254.4" r="1.2" fill="#231f20" stroke="none"/>
<circle cx="1982.6" cy="282.0" r="4.8" fill="#9ccae0"/>
<circle cx="1982.6" cy="309.6" r="9.8" fill="#eef0b2"/>
<circle cx="1982.6" cy="337.2" r="6.6" fill="#dde8d0"/>
<circle cx="1982.6" cy="364.7" r="9.8" fill="#ec8c5a"/>
<circle cx="1982.6" cy="392.3" r="3.9" fill="#9ccae0"/>
<circle cx="1982.6" cy="419.9" r="9.8" fill="#dde8d0"/>
<circle cx="1982.6" cy="447.4" r="7.5" fill="#cde5ec"/>
<circle cx="1982.6" cy="475.0" r="9.8" fill="#d42a27"/>
<circle cx="1982.6" cy="502.6" r="7.5" fill="#f6d98a"/>
<circle cx="2001.9" cy="116.6" r="2.2" fill="#9ccae0"/>
<circle cx="2001.9" cy="144.2" r="1.2" fill="#231f20" stroke="none"/>
<circle cx="2001.9" cy="171.7" r="1.2" fill="#231f20" stroke="none"/>
<circle cx="2001.9" cy="199.3" r="1.2" fill="#231f20" stroke="none"/>
<circle cx="2001.9" cy="226.9" r="2.2" fill="#c9ccd0" stroke-width="0.9"/>
<circle cx="2001.9" cy="254.4" r="2.2" fill="#9ccae0"/>
<circle cx="2001.9" cy="282.0" r="3.9" fill="#9ccae0"/>
<circle cx="2001.9" cy="309.6" r="9.8" fill="#ec8c5a"/>
<circle cx="2001.9" cy="337.2" r="7.5" fill="#dde8d0"/>
<circle cx="2001.9" cy="364.7" r="9.8" fill="#e25a3c"/>
<circle cx="2001.9" cy="392.3" r="7.5" fill="#dde8d0"/>
<circle cx="2001.9" cy="419.9" r="1.2" fill="#231f20" stroke="none"/>
<circle cx="2001.9" cy="447.4" r="1.2" fill="#231f20" stroke="none"/>
<circle cx="2001.9" cy="475.0" r="9.8" fill="#ec8c5a"/>
<circle cx="2001.9" cy="502.6" r="7.5" fill="#eef0b2"/>
<circle cx="2021.2" cy="116.6" r="2.2" fill="#9ccae0"/>
<circle cx="2021.2" cy="144.2" r="1.2" fill="#231f20" stroke="none"/>
<circle cx="2021.2" cy="171.7" r="3.0" fill="#9ccae0"/>
<circle cx="2021.2" cy="199.3" r="1.2" fill="#231f20" stroke="none"/>
<circle cx="2021.2" cy="226.9" r="1.2" fill="#231f20" stroke="none"/>
<circle cx="2021.2" cy="254.4" r="1.2" fill="#231f20" stroke="none"/>
<circle cx="2021.2" cy="282.0" r="2.2" fill="#9ccae0"/>
<circle cx="2021.2" cy="309.6" r="8.6" fill="#ec8c5a"/>
<circle cx="2021.2" cy="337.2" r="5.7" fill="#eef0b2"/>
<circle cx="2021.2" cy="364.7" r="8.6" fill="#ec8c5a"/>
<circle cx="2021.2" cy="392.3" r="2.2" fill="#9ccae0"/>
<circle cx="2021.2" cy="419.9" r="3.9" fill="#cde5ec"/>
<circle cx="2021.2" cy="447.4" r="3.9" fill="#9ccae0"/>
<circle cx="2021.2" cy="475.0" r="9.8" fill="#ec8c5a"/>
<circle cx="2021.2" cy="502.6" r="6.6" fill="#f1b070"/>
<circle cx="2040.5" cy="116.6" r="1.2" fill="#231f20" stroke="none"/>
<circle cx="2040.5" cy="144.2" r="1.2" fill="#231f20" stroke="none"/>
<circle cx="2040.5" cy="171.7" r="1.2" fill="#231f20" stroke="none"/>
<circle cx="2040.5" cy="199.3" r="1.2" fill="#231f20" stroke="none"/>
<circle cx="2040.5" cy="226.9" r="1.2" fill="#231f20" stroke="none"/>
<circle cx="2040.5" cy="254.4" r="1.2" fill="#231f20" stroke="none"/>
<circle cx="2040.5" cy="282.0" r="2.2" fill="#c9ccd0" stroke-width="0.9"/>
<circle cx="2040.5" cy="309.6" r="5.7" fill="#f1b070"/>
<circle cx="2040.5" cy="337.2" r="2.2" fill="#cde5ec"/>
<circle cx="2040.5" cy="364.7" r="7.5" fill="#f1b070"/>
<circle cx="2040.5" cy="392.3" r="1.2" fill="#231f20" stroke="none"/>
<circle cx="2040.5" cy="419.9" r="5.7" fill="#ec8c5a"/>
<circle cx="2040.5" cy="447.4" r="3.9" fill="#dde8d0"/>
<circle cx="2040.5" cy="475.0" r="8.6" fill="#e25a3c"/>
<circle cx="2040.5" cy="502.6" r="4.8" fill="#dde8d0"/>
<circle cx="2059.8" cy="116.6" r="3.9" fill="#9ccae0"/>
<circle cx="2059.8" cy="144.2" r="1.2" fill="#231f20" stroke="none"/>
<circle cx="2059.8" cy="171.7" r="1.2" fill="#231f20" stroke="none"/>
<circle cx="2059.8" cy="199.3" r="1.2" fill="#231f20" stroke="none"/>
<circle cx="2059.8" cy="226.9" r="2.2" fill="#c9ccd0" stroke-width="0.9"/>
<circle cx="2059.8" cy="254.4" r="2.2" fill="#9ccae0"/>
<circle cx="2059.8" cy="282.0" r="2.2" fill="#c9ccd0" stroke-width="0.9"/>
<circle cx="2059.8" cy="309.6" r="6.6" fill="#dde8d0"/>
<circle cx="2059.8" cy="337.2" r="5.7" fill="#eef0b2"/>
<circle cx="2059.8" cy="364.7" r="8.6" fill="#ec8c5a"/>
<circle cx="2059.8" cy="392.3" r="3.9" fill="#cde5ec"/>
<circle cx="2059.8" cy="419.9" r="4.8" fill="#eef0b2"/>
<circle cx="2059.8" cy="447.4" r="3.9" fill="#cde5ec"/>
<circle cx="2059.8" cy="475.0" r="9.8" fill="#d42a27"/>
<circle cx="2059.8" cy="502.6" r="6.6" fill="#f6d98a"/>
<circle cx="2079.1" cy="116.6" r="2.2" fill="#9ccae0"/>
<circle cx="2079.1" cy="144.2" r="1.2" fill="#231f20" stroke="none"/>
<circle cx="2079.1" cy="171.7" r="2.2" fill="#9ccae0"/>
<circle cx="2079.1" cy="199.3" r="1.2" fill="#231f20" stroke="none"/>
<circle cx="2079.1" cy="226.9" r="1.2" fill="#231f20" stroke="none"/>
<circle cx="2079.1" cy="254.4" r="1.2" fill="#231f20" stroke="none"/>
<circle cx="2079.1" cy="282.0" r="4.8" fill="#cde5ec"/>
<circle cx="2079.1" cy="309.6" r="9.8" fill="#f6d98a"/>
<circle cx="2079.1" cy="337.2" r="7.5" fill="#dde8d0"/>
<circle cx="2079.1" cy="364.7" r="9.8" fill="#e25a3c"/>
<circle cx="2079.1" cy="392.3" r="3.9" fill="#9ccae0"/>
<circle cx="2079.1" cy="419.9" r="8.6" fill="#f6d98a"/>
<circle cx="2079.1" cy="447.4" r="7.5" fill="#cde5ec"/>
<circle cx="2079.1" cy="475.0" r="9.8" fill="#e25a3c"/>
<circle cx="2079.1" cy="502.6" r="7.5" fill="#eef0b2"/>
<circle cx="2098.5" cy="116.6" r="5.7" fill="#9ccae0"/>
<circle cx="2098.5" cy="144.2" r="2.2" fill="#9ccae0"/>
<circle cx="2098.5" cy="171.7" r="4.8" fill="#72acd3"/>
<circle cx="2098.5" cy="199.3" r="1.2" fill="#231f20" stroke="none"/>
<circle cx="2098.5" cy="226.9" r="8.6" fill="#cde5ec"/>
<circle cx="2098.5" cy="254.4" r="5.7" fill="#72acd3"/>
<circle cx="2098.5" cy="282.0" r="8.6" fill="#9ccae0"/>
<circle cx="2098.5" cy="309.6" r="9.8" fill="#f6d98a"/>
<circle cx="2098.5" cy="337.2" r="9.8" fill="#f6d98a"/>
<circle cx="2098.5" cy="364.7" r="9.8" fill="#ec8c5a"/>
<circle cx="2098.5" cy="392.3" r="9.8" fill="#eef0b2"/>
<circle cx="2098.5" cy="419.9" r="9.8" fill="#eef0b2"/>
<circle cx="2098.5" cy="447.4" r="9.8" fill="#cde5ec"/>
<circle cx="2098.5" cy="475.0" r="9.8" fill="#e25a3c"/>
<circle cx="2098.5" cy="502.6" r="9.8" fill="#eef0b2"/>
<circle cx="2117.8" cy="116.6" r="1.2" fill="#231f20" stroke="none"/>
<circle cx="2117.8" cy="144.2" r="1.2" fill="#231f20" stroke="none"/>
<circle cx="2117.8" cy="171.7" r="1.2" fill="#231f20" stroke="none"/>
<circle cx="2117.8" cy="199.3" r="1.2" fill="#231f20" stroke="none"/>
<circle cx="2117.8" cy="226.9" r="1.2" fill="#231f20" stroke="none"/>
<circle cx="2117.8" cy="254.4" r="1.2" fill="#231f20" stroke="none"/>
<circle cx="2117.8" cy="282.0" r="1.2" fill="#231f20" stroke="none"/>
<circle cx="2117.8" cy="309.6" r="1.2" fill="#231f20" stroke="none"/>
<circle cx="2117.8" cy="337.2" r="1.2" fill="#231f20" stroke="none"/>
<circle cx="2117.8" cy="364.7" r="1.2" fill="#231f20" stroke="none"/>
<circle cx="2117.8" cy="392.3" r="1.2" fill="#231f20" stroke="none"/>
<circle cx="2117.8" cy="419.9" r="1.2" fill="#231f20" stroke="none"/>
<circle cx="2117.8" cy="447.4" r="6.6" fill="#e25a3c"/>
<circle cx="2117.8" cy="475.0" r="1.2" fill="#231f20" stroke="none"/>
<circle cx="2117.8" cy="502.6" r="6.6" fill="#d42a27"/>
</g>
<rect x="812.6" y="99.4" width="1317.2" height="418.9" fill="none" stroke="#231f20" stroke-width="1.4"/>
<g stroke="#231f20" stroke-width="1.2">
<path d="M807.5,116.6 H812.6"/>
<path d="M807.5,144.2 H812.6"/>
<path d="M807.5,171.7 H812.6"/>
<path d="M807.5,199.3 H812.6"/>
<path d="M807.5,226.9 H812.6"/>
<path d="M807.5,254.4 H812.6"/>
<path d="M807.5,282.0 H812.6"/>
<path d="M807.5,309.6 H812.6"/>
<path d="M807.5,337.2 H812.6"/>
<path d="M807.5,364.7 H812.6"/>
<path d="M807.5,392.3 H812.6"/>
<path d="M807.5,419.9 H812.6"/>
<path d="M807.5,447.4 H812.6"/>
<path d="M807.5,475.0 H812.6"/>
<path d="M807.5,502.6 H812.6"/>
<path d="M824.0,518.3 V523.5"/>
<path d="M843.3,518.3 V523.5"/>
<path d="M862.6,518.3 V523.5"/>
<path d="M881.9,518.3 V523.5"/>
<path d="M901.2,518.3 V523.5"/>
<path d="M920.5,518.3 V523.5"/>
<path d="M939.9,518.3 V523.5"/>
<path d="M959.2,518.3 V523.5"/>
<path d="M978.5,518.3 V523.5"/>
<path d="M997.8,518.3 V523.5"/>
<path d="M1017.1,518.3 V523.5"/>
<path d="M1036.4,518.3 V523.5"/>
<path d="M1055.7,518.3 V523.5"/>
<path d="M1075.0,518.3 V523.5"/>
<path d="M1094.3,518.3 V523.5"/>
<path d="M1113.7,518.3 V523.5"/>
<path d="M1133.0,518.3 V523.5"/>
<path d="M1152.3,518.3 V523.5"/>
<path d="M1171.6,518.3 V523.5"/>
<path d="M1190.9,518.3 V523.5"/>
<path d="M1210.2,518.3 V523.5"/>
<path d="M1229.5,518.3 V523.5"/>
<path d="M1248.8,518.3 V523.5"/>
<path d="M1268.1,518.3 V523.5"/>
<path d="M1287.4,518.3 V523.5"/>
<path d="M1306.8,518.3 V523.5"/>
<path d="M1326.1,518.3 V523.5"/>
<path d="M1345.4,518.3 V523.5"/>
<path d="M1364.7,518.3 V523.5"/>
<path d="M1384.0,518.3 V523.5"/>
<path d="M1403.3,518.3 V523.5"/>
<path d="M1422.6,518.3 V523.5"/>
<path d="M1441.9,518.3 V523.5"/>
<path d="M1461.2,518.3 V523.5"/>
<path d="M1480.5,518.3 V523.5"/>
<path d="M1499.8,518.3 V523.5"/>
<path d="M1519.2,518.3 V523.5"/>
<path d="M1538.5,518.3 V523.5"/>
<path d="M1557.8,518.3 V523.5"/>
<path d="M1577.1,518.3 V523.5"/>
<path d="M1596.4,518.3 V523.5"/>
<path d="M1615.7,518.3 V523.5"/>
<path d="M1635.0,518.3 V523.5"/>
<path d="M1654.3,518.3 V523.5"/>
<path d="M1673.6,518.3 V523.5"/>
<path d="M1692.9,518.3 V523.5"/>
<path d="M1712.3,518.3 V523.5"/>
<path d="M1731.6,518.3 V523.5"/>
<path d="M1750.9,518.3 V523.5"/>
<path d="M1770.2,518.3 V523.5"/>
<path d="M1789.5,518.3 V523.5"/>
<path d="M1808.8,518.3 V523.5"/>
<path d="M1828.1,518.3 V523.5"/>
<path d="M1847.4,518.3 V523.5"/>
<path d="M1866.7,518.3 V523.5"/>
<path d="M1886.0,518.3 V523.5"/>
<path d="M1905.4,518.3 V523.5"/>
<path d="M1924.7,518.3 V523.5"/>
<path d="M1944.0,518.3 V523.5"/>
<path d="M1963.3,518.3 V523.5"/>
<path d="M1982.6,518.3 V523.5"/>
<path d="M2001.9,518.3 V523.5"/>
<path d="M2021.2,518.3 V523.5"/>
<path d="M2040.5,518.3 V523.5"/>
<path d="M2059.8,518.3 V523.5"/>
<path d="M2079.1,518.3 V523.5"/>
<path d="M2098.5,518.3 V523.5"/>
<path d="M2117.8,518.3 V523.5"/>
</g>
<text x="823.2" y="536.5" font-size="19.4" text-anchor="end" fill="#231f20" dominant-baseline="central" transform="rotate(-90 823.2 536.5)" textLength="47.6" lengthAdjust="spacingAndGlyphs">CD1C</text>
<text x="842.5" y="536.5" font-size="19.4" text-anchor="end" fill="#231f20" dominant-baseline="central" transform="rotate(-90 842.5 536.5)" textLength="69.0" lengthAdjust="spacingAndGlyphs">FCER1A</text>
<text x="861.8" y="536.5" font-size="19.4" text-anchor="end" fill="#231f20" dominant-baseline="central" transform="rotate(-90 861.8 536.5)" textLength="77.8" lengthAdjust="spacingAndGlyphs">CLEC10A</text>
<text x="881.1" y="536.5" font-size="19.4" text-anchor="end" fill="#231f20" dominant-baseline="central" transform="rotate(-90 881.1 536.5)" textLength="91.4" lengthAdjust="spacingAndGlyphs">HLA–DQA1</text>
<text x="900.4" y="536.5" font-size="19.4" text-anchor="end" fill="#231f20" dominant-baseline="central" transform="rotate(-90 900.4 536.5)" textLength="91.4" lengthAdjust="spacingAndGlyphs">HLA–DQB1</text>
<text x="919.8" y="536.5" font-size="19.4" text-anchor="end" fill="#231f20" dominant-baseline="central" transform="rotate(-90 919.8 536.5)" textLength="55.4" lengthAdjust="spacingAndGlyphs">IFITM1</text>
<text x="939.1" y="536.5" font-size="19.4" text-anchor="end" fill="#231f20" dominant-baseline="central" transform="rotate(-90 939.1 536.5)" textLength="37.9" lengthAdjust="spacingAndGlyphs">IRF8</text>
<text x="958.4" y="536.5" font-size="19.4" text-anchor="end" fill="#231f20" dominant-baseline="central" transform="rotate(-90 958.4 536.5)" textLength="68.1" lengthAdjust="spacingAndGlyphs">CLEC9A</text>
<text x="977.7" y="536.5" font-size="19.4" text-anchor="end" fill="#231f20" dominant-baseline="central" transform="rotate(-90 977.7 536.5)" textLength="46.7" lengthAdjust="spacingAndGlyphs">XCR1</text>
<text x="997.0" y="536.5" font-size="19.4" text-anchor="end" fill="#231f20" dominant-baseline="central" transform="rotate(-90 997.0 536.5)" textLength="46.7" lengthAdjust="spacingAndGlyphs">CLNK</text>
<text x="1016.3" y="536.5" font-size="19.4" text-anchor="end" fill="#231f20" dominant-baseline="central" transform="rotate(-90 1016.3 536.5)" textLength="89.5" lengthAdjust="spacingAndGlyphs">HLA–DPB1</text>
<text x="1035.6" y="536.5" font-size="19.4" text-anchor="end" fill="#231f20" dominant-baseline="central" transform="rotate(-90 1035.6 536.5)" textLength="88.2" lengthAdjust="spacingAndGlyphs">HLA–DPA1</text>
<text x="1054.9" y="536.5" font-size="19.4" text-anchor="end" fill="#231f20" dominant-baseline="central" transform="rotate(-90 1054.9 536.5)" textLength="57.4" lengthAdjust="spacingAndGlyphs">LAMP3</text>
<text x="1074.2" y="536.5" font-size="19.4" text-anchor="end" fill="#231f20" dominant-baseline="central" transform="rotate(-90 1074.2 536.5)" textLength="40.8" lengthAdjust="spacingAndGlyphs">IDO1</text>
<text x="1093.5" y="536.5" font-size="19.4" text-anchor="end" fill="#231f20" dominant-baseline="central" transform="rotate(-90 1093.5 536.5)" textLength="37.9" lengthAdjust="spacingAndGlyphs">IRF4</text>
<text x="1112.9" y="536.5" font-size="19.4" text-anchor="end" fill="#231f20" dominant-baseline="central" transform="rotate(-90 1112.9 536.5)" textLength="66.2" lengthAdjust="spacingAndGlyphs">LGALS2</text>
<text x="1132.2" y="536.5" font-size="19.4" text-anchor="end" fill="#231f20" dominant-baseline="central" transform="rotate(-90 1132.2 536.5)" textLength="72.0" lengthAdjust="spacingAndGlyphs">S100A12</text>
<text x="1151.5" y="536.5" font-size="19.4" text-anchor="end" fill="#231f20" dominant-baseline="central" transform="rotate(-90 1151.5 536.5)" textLength="30.8" lengthAdjust="spacingAndGlyphs">LYZ</text>
<text x="1170.8" y="536.5" font-size="19.4" text-anchor="end" fill="#231f20" dominant-baseline="central" transform="rotate(-90 1170.8 536.5)" textLength="48.6" lengthAdjust="spacingAndGlyphs">VCAN</text>
<text x="1190.1" y="536.5" font-size="19.4" text-anchor="end" fill="#231f20" dominant-baseline="central" transform="rotate(-90 1190.1 536.5)" textLength="62.3" lengthAdjust="spacingAndGlyphs">S100A9</text>
<text x="1209.4" y="536.5" font-size="19.4" text-anchor="end" fill="#231f20" dominant-baseline="central" transform="rotate(-90 1209.4 536.5)" textLength="50.6" lengthAdjust="spacingAndGlyphs">ITGB2</text>
<text x="1228.7" y="536.5" font-size="19.4" text-anchor="end" fill="#231f20" dominant-baseline="central" transform="rotate(-90 1228.7 536.5)" textLength="55.4" lengthAdjust="spacingAndGlyphs">ITGAM</text>
<text x="1248.0" y="536.5" font-size="19.4" text-anchor="end" fill="#231f20" dominant-baseline="central" transform="rotate(-90 1248.0 536.5)" textLength="86.6" lengthAdjust="spacingAndGlyphs">SERPINA1</text>
<text x="1267.3" y="536.5" font-size="19.4" text-anchor="end" fill="#231f20" dominant-baseline="central" transform="rotate(-90 1267.3 536.5)" textLength="69.0" lengthAdjust="spacingAndGlyphs">CX3CR1</text>
<text x="1286.6" y="536.5" font-size="19.4" text-anchor="end" fill="#231f20" dominant-baseline="central" transform="rotate(-90 1286.6 536.5)" textLength="58.4" lengthAdjust="spacingAndGlyphs">LILRA5</text>
<text x="1306.0" y="536.5" font-size="19.4" text-anchor="end" fill="#231f20" dominant-baseline="central" transform="rotate(-90 1306.0 536.5)" textLength="58.4" lengthAdjust="spacingAndGlyphs">LILRB1</text>
<text x="1325.3" y="536.5" font-size="19.4" text-anchor="end" fill="#231f20" dominant-baseline="central" transform="rotate(-90 1325.3 536.5)" textLength="49.6" lengthAdjust="spacingAndGlyphs">EREG</text>
<text x="1344.6" y="536.5" font-size="19.4" text-anchor="end" fill="#231f20" dominant-baseline="central" transform="rotate(-90 1344.6 536.5)" textLength="44.7" lengthAdjust="spacingAndGlyphs">CD68</text>
<text x="1363.9" y="536.5" font-size="19.4" text-anchor="end" fill="#231f20" dominant-baseline="central" transform="rotate(-90 1363.9 536.5)" textLength="54.5" lengthAdjust="spacingAndGlyphs">CCL20</text>
<text x="1383.2" y="536.5" font-size="19.4" text-anchor="end" fill="#231f20" dominant-baseline="central" transform="rotate(-90 1383.2 536.5)" textLength="49.6" lengthAdjust="spacingAndGlyphs">AREG</text>
<text x="1402.5" y="536.5" font-size="19.4" text-anchor="end" fill="#231f20" dominant-baseline="central" transform="rotate(-90 1402.5 536.5)" textLength="56.4" lengthAdjust="spacingAndGlyphs">CXCL8</text>
<text x="1421.8" y="536.5" font-size="19.4" text-anchor="end" fill="#231f20" dominant-baseline="central" transform="rotate(-90 1421.8 536.5)" textLength="49.6" lengthAdjust="spacingAndGlyphs">IL1RN</text>
<text x="1441.1" y="536.5" font-size="19.4" text-anchor="end" fill="#231f20" dominant-baseline="central" transform="rotate(-90 1441.1 536.5)" textLength="58.4" lengthAdjust="spacingAndGlyphs">VEGFA</text>
<text x="1460.4" y="536.5" font-size="19.4" text-anchor="end" fill="#231f20" dominant-baseline="central" transform="rotate(-90 1460.4 536.5)" textLength="56.4" lengthAdjust="spacingAndGlyphs">THBS1</text>
<text x="1479.7" y="536.5" font-size="19.4" text-anchor="end" fill="#231f20" dominant-baseline="central" transform="rotate(-90 1479.7 536.5)" textLength="94.3" lengthAdjust="spacingAndGlyphs">APOBEC3A</text>
<text x="1499.0" y="536.5" font-size="19.4" text-anchor="end" fill="#231f20" dominant-baseline="central" transform="rotate(-90 1499.0 536.5)" textLength="66.1" lengthAdjust="spacingAndGlyphs">CXCL10</text>
<text x="1518.4" y="536.5" font-size="19.4" text-anchor="end" fill="#231f20" dominant-baseline="central" transform="rotate(-90 1518.4 536.5)" textLength="47.6" lengthAdjust="spacingAndGlyphs">FCAR</text>
<text x="1537.7" y="536.5" font-size="19.4" text-anchor="end" fill="#231f20" dominant-baseline="central" transform="rotate(-90 1537.7 536.5)" textLength="33.1" lengthAdjust="spacingAndGlyphs">FN1</text>
<text x="1557.0" y="536.5" font-size="19.4" text-anchor="end" fill="#231f20" dominant-baseline="central" transform="rotate(-90 1557.0 536.5)" textLength="48.6" lengthAdjust="spacingAndGlyphs">PLIN2</text>
<text x="1576.3" y="536.5" font-size="19.4" text-anchor="end" fill="#231f20" dominant-baseline="central" transform="rotate(-90 1576.3 536.5)" textLength="51.5" lengthAdjust="spacingAndGlyphs">TIMP1</text>
<text x="1595.6" y="536.5" font-size="19.4" text-anchor="end" fill="#231f20" dominant-baseline="central" transform="rotate(-90 1595.6 536.5)" textLength="71.0" lengthAdjust="spacingAndGlyphs">FCGR3A</text>
<text x="1614.9" y="536.5" font-size="19.4" text-anchor="end" fill="#231f20" dominant-baseline="central" transform="rotate(-90 1614.9 536.5)" textLength="54.5" lengthAdjust="spacingAndGlyphs">CD163</text>
<text x="1634.2" y="536.5" font-size="19.4" text-anchor="end" fill="#231f20" dominant-baseline="central" transform="rotate(-90 1634.2 536.5)" textLength="54.5" lengthAdjust="spacingAndGlyphs">FABP5</text>
<text x="1653.5" y="536.5" font-size="19.4" text-anchor="end" fill="#231f20" dominant-baseline="central" transform="rotate(-90 1653.5 536.5)" textLength="47.7" lengthAdjust="spacingAndGlyphs">C1QA</text>
<text x="1672.8" y="536.5" font-size="19.4" text-anchor="end" fill="#231f20" dominant-baseline="central" transform="rotate(-90 1672.8 536.5)" textLength="47.7" lengthAdjust="spacingAndGlyphs">RGS2</text>
<text x="1692.1" y="536.5" font-size="19.4" text-anchor="end" fill="#231f20" dominant-baseline="central" transform="rotate(-90 1692.1 536.5)" textLength="38.9" lengthAdjust="spacingAndGlyphs">IL4I1</text>
<text x="1711.5" y="536.5" font-size="19.4" text-anchor="end" fill="#231f20" dominant-baseline="central" transform="rotate(-90 1711.5 536.5)" textLength="48.6" lengthAdjust="spacingAndGlyphs">MAFB</text>
<text x="1730.8" y="536.5" font-size="19.4" text-anchor="end" fill="#231f20" dominant-baseline="central" transform="rotate(-90 1730.8 536.5)" textLength="55.4" lengthAdjust="spacingAndGlyphs">IFITM3</text>
<text x="1750.1" y="536.5" font-size="19.4" text-anchor="end" fill="#231f20" dominant-baseline="central" transform="rotate(-90 1750.1 536.5)" textLength="30.1" lengthAdjust="spacingAndGlyphs">IFI6</text>
<text x="1769.4" y="536.5" font-size="19.4" text-anchor="end" fill="#231f20" dominant-baseline="central" transform="rotate(-90 1769.4 536.5)" textLength="70.0" lengthAdjust="spacingAndGlyphs">RNASE2</text>
<text x="1788.7" y="536.5" font-size="19.4" text-anchor="end" fill="#231f20" dominant-baseline="central" transform="rotate(-90 1788.7 536.5)" textLength="71.0" lengthAdjust="spacingAndGlyphs">FCGR3B</text>
<text x="1808.0" y="536.5" font-size="19.4" text-anchor="end" fill="#231f20" dominant-baseline="central" transform="rotate(-90 1808.0 536.5)" textLength="44.7" lengthAdjust="spacingAndGlyphs">CCL4</text>
<text x="1827.3" y="536.5" font-size="19.4" text-anchor="end" fill="#231f20" dominant-baseline="central" transform="rotate(-90 1827.3 536.5)" textLength="36.0" lengthAdjust="spacingAndGlyphs">IL1B</text>
<text x="1846.6" y="536.5" font-size="19.4" text-anchor="end" fill="#231f20" dominant-baseline="central" transform="rotate(-90 1846.6 536.5)" textLength="34.0" lengthAdjust="spacingAndGlyphs">TNF</text>
<text x="1865.9" y="536.5" font-size="19.4" text-anchor="end" fill="#231f20" dominant-baseline="central" transform="rotate(-90 1865.9 536.5)" textLength="58.4" lengthAdjust="spacingAndGlyphs">DUSP2</text>
<text x="1885.2" y="536.5" font-size="19.4" text-anchor="end" fill="#231f20" dominant-baseline="central" transform="rotate(-90 1885.2 536.5)" textLength="48.6" lengthAdjust="spacingAndGlyphs">APOE</text>
<text x="1904.6" y="536.5" font-size="19.4" text-anchor="end" fill="#231f20" dominant-baseline="central" transform="rotate(-90 1904.6 536.5)" textLength="22.4" lengthAdjust="spacingAndGlyphs">C3</text>
<text x="1923.9" y="536.5" font-size="19.4" text-anchor="end" fill="#231f20" dominant-baseline="central" transform="rotate(-90 1923.9 536.5)" textLength="50.6" lengthAdjust="spacingAndGlyphs">MMP9</text>
<text x="1943.2" y="536.5" font-size="19.4" text-anchor="end" fill="#231f20" dominant-baseline="central" transform="rotate(-90 1943.2 536.5)" textLength="44.7" lengthAdjust="spacingAndGlyphs">SPP1</text>
<text x="1962.5" y="536.5" font-size="19.4" text-anchor="end" fill="#231f20" dominant-baseline="central" transform="rotate(-90 1962.5 536.5)" textLength="51.5" lengthAdjust="spacingAndGlyphs">TGFBI</text>
<text x="1981.8" y="536.5" font-size="19.4" text-anchor="end" fill="#231f20" dominant-baseline="central" transform="rotate(-90 1981.8 536.5)" textLength="42.5" lengthAdjust="spacingAndGlyphs">PLTP</text>
<text x="2001.1" y="536.5" font-size="19.4" text-anchor="end" fill="#231f20" dominant-baseline="central" transform="rotate(-90 2001.1 536.5)" textLength="65.1" lengthAdjust="spacingAndGlyphs">MARCO</text>
<text x="2020.4" y="536.5" font-size="19.4" text-anchor="end" fill="#231f20" dominant-baseline="central" transform="rotate(-90 2020.4 536.5)" textLength="50.6" lengthAdjust="spacingAndGlyphs">HAMP</text>
<text x="2039.7" y="536.5" font-size="19.4" text-anchor="end" fill="#231f20" dominant-baseline="central" transform="rotate(-90 2039.7 536.5)" textLength="59.3" lengthAdjust="spacingAndGlyphs">NUPR1</text>
<text x="2059.0" y="536.5" font-size="19.4" text-anchor="end" fill="#231f20" dominant-baseline="central" transform="rotate(-90 2059.0 536.5)" textLength="56.4" lengthAdjust="spacingAndGlyphs">FOLR2</text>
<text x="2078.3" y="536.5" font-size="19.4" text-anchor="end" fill="#231f20" dominant-baseline="central" transform="rotate(-90 2078.3 536.5)" textLength="64.2" lengthAdjust="spacingAndGlyphs">GPNMB</text>
<text x="2097.7" y="536.5" font-size="19.4" text-anchor="end" fill="#231f20" dominant-baseline="central" transform="rotate(-90 2097.7 536.5)" textLength="44.7" lengthAdjust="spacingAndGlyphs">CD14</text>
<text x="2117.0" y="536.5" font-size="19.4" text-anchor="end" fill="#231f20" dominant-baseline="central" transform="rotate(-90 2117.0 536.5)" textLength="50.6" lengthAdjust="spacingAndGlyphs">MKI67</text>
<text x="774.0" y="117.1" font-size="17.7" text-anchor="end" fill="#231f20" dominant-baseline="central" >M01_DC–CD1C</text>
<circle cx="793.5" cy="116.6" r="7.7" fill="#148d74"/>
<text x="774.0" y="144.7" font-size="17.7" text-anchor="end" fill="#231f20" dominant-baseline="central" >M02_DC–CLEC9A</text>
<circle cx="793.5" cy="144.2" r="7.7" fill="#1cadc9"/>
<text x="774.0" y="172.2" font-size="17.7" text-anchor="end" fill="#231f20" dominant-baseline="central" >M03_DC–LAMP3</text>
<circle cx="793.5" cy="171.7" r="7.7" fill="#df4e39"/>
<text x="774.0" y="199.8" font-size="17.7" text-anchor="end" fill="#231f20" dominant-baseline="central" >M04_DC–LGALS2</text>
<circle cx="793.5" cy="199.3" r="7.7" fill="#3a5a8c"/>
<text x="774.0" y="227.4" font-size="17.7" text-anchor="end" fill="#231f20" dominant-baseline="central" >M05_Mono–CD14</text>
<circle cx="793.5" cy="226.9" r="7.7" fill="#e8852a"/>
<text x="774.0" y="254.9" font-size="17.7" text-anchor="end" fill="#231f20" dominant-baseline="central" >M06_Mono–FCGR3A</text>
<circle cx="793.5" cy="254.4" r="7.7" fill="#8db8e0"/>
<text x="774.0" y="282.5" font-size="17.7" text-anchor="end" fill="#231f20" dominant-baseline="central" >M07_Macro–EREG</text>
<circle cx="793.5" cy="282.0" r="7.7" fill="#b21a3c"/>
<text x="774.0" y="310.1" font-size="17.7" text-anchor="end" fill="#231f20" dominant-baseline="central" >M08_Macro–FN1</text>
<circle cx="793.5" cy="309.6" r="7.7" fill="#b5a67a"/>
<text x="774.0" y="337.7" font-size="17.7" text-anchor="end" fill="#231f20" dominant-baseline="central" >M09_Macro–FABP5</text>
<circle cx="793.5" cy="337.2" r="7.7" fill="#eaabb6"/>
<text x="774.0" y="365.2" font-size="17.7" text-anchor="end" fill="#231f20" dominant-baseline="central" >M10_Macro–C1QA</text>
<circle cx="793.5" cy="364.7" r="7.7" fill="#0f7b4b"/>
<text x="774.0" y="392.8" font-size="17.7" text-anchor="end" fill="#231f20" dominant-baseline="central" >M11_Macro–VCAN</text>
<circle cx="793.5" cy="392.3" r="7.7" fill="#d682a0"/>
<text x="774.0" y="420.4" font-size="17.7" text-anchor="end" fill="#231f20" dominant-baseline="central" >M12_Macro–C3</text>
<circle cx="793.5" cy="419.9" r="7.7" fill="#0b5c9c"/>
<text x="774.0" y="447.9" font-size="17.7" text-anchor="end" fill="#231f20" dominant-baseline="central" >M13_Prolif–Macro–C3</text>
<circle cx="793.5" cy="447.4" r="7.7" fill="#574e94"/>
<text x="774.0" y="475.5" font-size="17.7" text-anchor="end" fill="#231f20" dominant-baseline="central" >M14_Macro–FOLR2</text>
<circle cx="793.5" cy="475.0" r="7.7" fill="#ea9e2a"/>
<text x="774.0" y="503.1" font-size="17.7" text-anchor="end" fill="#231f20" dominant-baseline="central" >M15_Prolif–Macro</text>
<circle cx="793.5" cy="502.6" r="7.7" fill="#a83e64"/>
<text x="705.5" y="529.6" font-size="17.7" text-anchor="middle" fill="#231f20" dominant-baseline="central" >–FOLR2</text>
<text x="733.5" y="60.5" font-size="28" text-anchor="start" fill="#231f20" dominant-baseline="central" >Average expression</text>
<defs><linearGradient id="rdylbu" x1="0" x2="1" y1="0" y2="0"><stop offset="0" stop-color="#d73027"/><stop offset="0.13" stop-color="#e8553b"/><stop offset="0.25" stop-color="#f3904f"/><stop offset="0.37" stop-color="#f9c474"/><stop offset="0.49" stop-color="#f8eca0"/><stop offset="0.6" stop-color="#e6f0d8"/><stop offset="0.72" stop-color="#b9dbea"/><stop offset="0.86" stop-color="#7cb1d6"/><stop offset="1" stop-color="#3f6fb0"/></linearGradient></defs>
<rect x="991" y="53.7" width="140" height="20.3" fill="url(#rdylbu)"/>
<g stroke="#fff" stroke-width="1.2">
<path d="M1008,53.7 v4 M1008,74 v-4"/>
<path d="M1040.5,53.7 v4 M1040.5,74 v-4"/>
<path d="M1074,53.7 v4 M1074,74 v-4"/>
<path d="M1106.6,53.7 v4 M1106.6,74 v-4"/>
</g>
<text x="1008.0" y="46.0" font-size="20" text-anchor="start" fill="#231f20" dominant-baseline="central" transform="rotate(-90 1008.0 46.0)" >2</text>
<text x="1040.5" y="46.0" font-size="20" text-anchor="start" fill="#231f20" dominant-baseline="central" transform="rotate(-90 1040.5 46.0)" >1</text>
<text x="1074.0" y="46.0" font-size="20" text-anchor="start" fill="#231f20" dominant-baseline="central" transform="rotate(-90 1074.0 46.0)" >0</text>
<text x="1106.6" y="46.0" font-size="20" text-anchor="start" fill="#231f20" dominant-baseline="central" transform="rotate(-90 1106.6 46.0)" >−1</text>
<text x="1250.5" y="63.0" font-size="28" text-anchor="start" fill="#231f20" dominant-baseline="central" >Percent expressed</text>
<circle cx="1503.2" cy="63" r="1.6" fill="#231f20"/>
<text x="1518.0" y="63.0" font-size="24" text-anchor="start" fill="#231f20" dominant-baseline="central" >0</text>
<circle cx="1577" cy="63" r="5" fill="#231f20"/>
<text x="1593.5" y="63.0" font-size="24" text-anchor="start" fill="#231f20" dominant-baseline="central" >25</text>
<circle cx="1667.5" cy="63" r="7.7" fill="#231f20"/>
<text x="1688.0" y="63.0" font-size="24" text-anchor="start" fill="#231f20" dominant-baseline="central" >50</text>
<circle cx="1767.3" cy="63" r="10.3" fill="#231f20"/>
<text x="1789.5" y="63.0" font-size="24" text-anchor="start" fill="#231f20" dominant-baseline="central" >75</text>
<circle cx="1867" cy="63" r="12.5" fill="#231f20"/>
<text x="1891.5" y="63.0" font-size="24" text-anchor="start" fill="#231f20" dominant-baseline="central" >100</text>
<text x="7.0" y="33.0" font-size="40" text-anchor="start" fill="#231f20" dominant-baseline="auto" font-weight="bold" stroke="#231f20" stroke-width="1.4">a</text>
<text x="7.0" y="673.0" font-size="40" text-anchor="start" fill="#231f20" dominant-baseline="auto" font-weight="bold" stroke="#231f20" stroke-width="1.4">b</text>
<rect x="98.8" y="674.70" width="73.0" height="34.27" fill="#f6d5b9"/>
<rect x="171.5" y="674.70" width="70.5" height="34.27" fill="#f6d5b9"/>
<rect x="241.7" y="674.70" width="72.6" height="34.27" fill="#f08b37"/>
<rect x="314.0" y="674.70" width="72.2" height="34.27" fill="#ebd8c8"/>
<rect x="385.9" y="674.70" width="72.5" height="34.27" fill="#ebd8c8"/>
<text x="135.2" y="692.2" font-size="26" text-anchor="middle" fill="#231f20" dominant-baseline="central" >+</text>
<text x="206.6" y="692.2" font-size="26" text-anchor="middle" fill="#231f20" dominant-baseline="central" >+</text>
<text x="277.9" y="692.2" font-size="26" text-anchor="middle" fill="#231f20" dominant-baseline="central" >++</text>
<text x="349.9" y="692.2" font-size="26" text-anchor="middle" fill="#231f20" dominant-baseline="central" >+/−</text>
<text x="422.0" y="692.2" font-size="26" text-anchor="middle" fill="#231f20" dominant-baseline="central" >+/−</text>
<text x="469.6" y="696.2" font-size="28" text-anchor="start" fill="#231f20" dominant-baseline="central" >M01</text>
<rect x="98.8" y="708.67" width="73.0" height="34.27" fill="#f08b37"/>
<rect x="171.5" y="708.67" width="70.5" height="34.27" fill="#ebd8c8"/>
<rect x="241.7" y="708.67" width="72.6" height="34.27" fill="#f08b37"/>
<rect x="314.0" y="708.67" width="72.2" height="34.27" fill="#ebd8c8"/>
<rect x="385.9" y="708.67" width="72.5" height="34.27" fill="#ebd8c8"/>
<text x="135.2" y="726.2" font-size="26" text-anchor="middle" fill="#231f20" dominant-baseline="central" >++</text>
<text x="206.6" y="726.2" font-size="26" text-anchor="middle" fill="#231f20" dominant-baseline="central" >+/−</text>
<text x="277.9" y="726.2" font-size="26" text-anchor="middle" fill="#231f20" dominant-baseline="central" >++</text>
<text x="349.9" y="726.2" font-size="26" text-anchor="middle" fill="#231f20" dominant-baseline="central" >+/−</text>
<text x="422.0" y="726.2" font-size="26" text-anchor="middle" fill="#231f20" dominant-baseline="central" >+/−</text>
<text x="469.6" y="730.2" font-size="28" text-anchor="start" fill="#231f20" dominant-baseline="central" >M02</text>
<rect x="98.8" y="742.65" width="73.0" height="34.27" fill="#ec7f2e"/>
<rect x="171.5" y="742.65" width="70.5" height="34.27" fill="#d0d0d0"/>
<rect x="241.7" y="742.65" width="72.6" height="34.27" fill="#f6d5b9"/>
<rect x="314.0" y="742.65" width="72.2" height="34.27" fill="#f08b37"/>
<rect x="385.9" y="742.65" width="72.5" height="34.27" fill="#ec7f2e"/>
<text x="135.2" y="760.1" font-size="26" text-anchor="middle" fill="#231f20" dominant-baseline="central" >+++</text>
<text x="206.6" y="760.1" font-size="26" text-anchor="middle" fill="#231f20" dominant-baseline="central" >−</text>
<text x="277.9" y="760.1" font-size="26" text-anchor="middle" fill="#231f20" dominant-baseline="central" >+</text>
<text x="349.9" y="760.1" font-size="26" text-anchor="middle" fill="#231f20" dominant-baseline="central" >++</text>
<text x="422.0" y="760.1" font-size="26" text-anchor="middle" fill="#231f20" dominant-baseline="central" >+++</text>
<text x="469.6" y="764.1" font-size="28" text-anchor="start" fill="#231f20" dominant-baseline="central" >M03</text>
<rect x="98.8" y="776.62" width="73.0" height="34.27" fill="#ec7f2e"/>
<rect x="171.5" y="776.62" width="70.5" height="34.27" fill="#f6d5b9"/>
<rect x="241.7" y="776.62" width="72.6" height="34.27" fill="#f6d5b9"/>
<rect x="314.0" y="776.62" width="72.2" height="34.27" fill="#ebd8c8"/>
<rect x="385.9" y="776.62" width="72.5" height="34.27" fill="#f6d5b9"/>
<text x="135.2" y="794.1" font-size="26" text-anchor="middle" fill="#231f20" dominant-baseline="central" >+++</text>
<text x="206.6" y="794.1" font-size="26" text-anchor="middle" fill="#231f20" dominant-baseline="central" >+</text>
<text x="277.9" y="794.1" font-size="26" text-anchor="middle" fill="#231f20" dominant-baseline="central" >+</text>
<text x="349.9" y="794.1" font-size="26" text-anchor="middle" fill="#231f20" dominant-baseline="central" >+/−</text>
<text x="422.0" y="794.1" font-size="26" text-anchor="middle" fill="#231f20" dominant-baseline="central" >+</text>
<text x="469.6" y="798.1" font-size="28" text-anchor="start" fill="#231f20" dominant-baseline="central" >M04</text>
<rect x="98.8" y="810.59" width="73.0" height="34.27" fill="#ebd8c8"/>
<rect x="171.5" y="810.59" width="70.5" height="34.27" fill="#ec7f2e"/>
<rect x="241.7" y="810.59" width="72.6" height="34.27" fill="#ebd8c8"/>
<rect x="314.0" y="810.59" width="72.2" height="34.27" fill="#ebd8c8"/>
<rect x="385.9" y="810.59" width="72.5" height="34.27" fill="#ebd8c8"/>
<text x="135.2" y="828.1" font-size="26" text-anchor="middle" fill="#231f20" dominant-baseline="central" >+/−</text>
<text x="206.6" y="828.1" font-size="26" text-anchor="middle" fill="#231f20" dominant-baseline="central" >+++</text>
<text x="277.9" y="828.1" font-size="26" text-anchor="middle" fill="#231f20" dominant-baseline="central" >+/−</text>
<text x="349.9" y="828.1" font-size="26" text-anchor="middle" fill="#231f20" dominant-baseline="central" >+/−</text>
<text x="422.0" y="828.1" font-size="26" text-anchor="middle" fill="#231f20" dominant-baseline="central" >+/−</text>
<text x="469.6" y="832.1" font-size="28" text-anchor="start" fill="#231f20" dominant-baseline="central" >M05</text>
<rect x="98.8" y="844.57" width="73.0" height="34.27" fill="#ebd8c8"/>
<rect x="171.5" y="844.57" width="70.5" height="34.27" fill="#ec7f2e"/>
<rect x="241.7" y="844.57" width="72.6" height="34.27" fill="#ebd8c8"/>
<rect x="314.0" y="844.57" width="72.2" height="34.27" fill="#ebd8c8"/>
<rect x="385.9" y="844.57" width="72.5" height="34.27" fill="#d0d0d0"/>
<text x="135.2" y="862.1" font-size="26" text-anchor="middle" fill="#231f20" dominant-baseline="central" >+/−</text>
<text x="206.6" y="862.1" font-size="26" text-anchor="middle" fill="#231f20" dominant-baseline="central" >+++</text>
<text x="277.9" y="862.1" font-size="26" text-anchor="middle" fill="#231f20" dominant-baseline="central" >+/−</text>
<text x="349.9" y="862.1" font-size="26" text-anchor="middle" fill="#231f20" dominant-baseline="central" >+/−</text>
<text x="422.0" y="862.1" font-size="26" text-anchor="middle" fill="#231f20" dominant-baseline="central" >−</text>
<text x="469.6" y="866.1" font-size="28" text-anchor="start" fill="#231f20" dominant-baseline="central" >M06</text>
<rect x="98.8" y="878.54" width="73.0" height="34.27" fill="#f08b37"/>
<rect x="171.5" y="878.54" width="70.5" height="34.27" fill="#ebd8c8"/>
<rect x="241.7" y="878.54" width="72.6" height="34.27" fill="#d0d0d0"/>
<rect x="314.0" y="878.54" width="72.2" height="34.27" fill="#f08b37"/>
<rect x="385.9" y="878.54" width="72.5" height="34.27" fill="#ec7f2e"/>
<text x="135.2" y="896.0" font-size="26" text-anchor="middle" fill="#231f20" dominant-baseline="central" >++</text>
<text x="206.6" y="896.0" font-size="26" text-anchor="middle" fill="#231f20" dominant-baseline="central" >+/−</text>
<text x="277.9" y="896.0" font-size="26" text-anchor="middle" fill="#231f20" dominant-baseline="central" >−</text>
<text x="349.9" y="896.0" font-size="26" text-anchor="middle" fill="#231f20" dominant-baseline="central" >++</text>
<text x="422.0" y="896.0" font-size="26" text-anchor="middle" fill="#231f20" dominant-baseline="central" >+++</text>
<text x="469.6" y="900.0" font-size="28" text-anchor="start" fill="#231f20" dominant-baseline="central" >M07(TeM)</text>
<rect x="98.8" y="912.51" width="73.0" height="34.27" fill="#ebd8c8"/>
<rect x="171.5" y="912.51" width="70.5" height="34.27" fill="#d0d0d0"/>
<rect x="241.7" y="912.51" width="72.6" height="34.27" fill="#f08b37"/>
<rect x="314.0" y="912.51" width="72.2" height="34.27" fill="#ebd8c8"/>
<rect x="385.9" y="912.51" width="72.5" height="34.27" fill="#ebd8c8"/>
<text x="135.2" y="930.0" font-size="26" text-anchor="middle" fill="#231f20" dominant-baseline="central" >+/−</text>
<text x="206.6" y="930.0" font-size="26" text-anchor="middle" fill="#231f20" dominant-baseline="central" >−</text>
<text x="277.9" y="930.0" font-size="26" text-anchor="middle" fill="#231f20" dominant-baseline="central" >++</text>
<text x="349.9" y="930.0" font-size="26" text-anchor="middle" fill="#231f20" dominant-baseline="central" >+/−</text>
<text x="422.0" y="930.0" font-size="26" text-anchor="middle" fill="#231f20" dominant-baseline="central" >+/−</text>
<text x="469.6" y="934.0" font-size="28" text-anchor="start" fill="#231f20" dominant-baseline="central" >M08(AeM)</text>
<rect x="98.8" y="946.49" width="73.0" height="34.27" fill="#ebd8c8"/>
<rect x="171.5" y="946.49" width="70.5" height="34.27" fill="#ebd8c8"/>
<rect x="241.7" y="946.49" width="72.6" height="34.27" fill="#f08b37"/>
<rect x="314.0" y="946.49" width="72.2" height="34.27" fill="#ebd8c8"/>
<rect x="385.9" y="946.49" width="72.5" height="34.27" fill="#ebd8c8"/>
<text x="135.2" y="964.0" font-size="26" text-anchor="middle" fill="#231f20" dominant-baseline="central" >+/−</text>
<text x="206.6" y="964.0" font-size="26" text-anchor="middle" fill="#231f20" dominant-baseline="central" >+/−</text>
<text x="277.9" y="964.0" font-size="26" text-anchor="middle" fill="#231f20" dominant-baseline="central" >++</text>
<text x="349.9" y="964.0" font-size="26" text-anchor="middle" fill="#231f20" dominant-baseline="central" >+/−</text>
<text x="422.0" y="964.0" font-size="26" text-anchor="middle" fill="#231f20" dominant-baseline="central" >+/−</text>
<text x="469.6" y="968.0" font-size="28" text-anchor="start" fill="#231f20" dominant-baseline="central" >M09(AeM)</text>
<rect x="98.8" y="980.46" width="73.0" height="34.27" fill="#f6d5b9"/>
<rect x="171.5" y="980.46" width="70.5" height="34.27" fill="#d0d0d0"/>
<rect x="241.7" y="980.46" width="72.6" height="34.27" fill="#ebd8c8"/>
<rect x="314.0" y="980.46" width="72.2" height="34.27" fill="#f6d5b9"/>
<rect x="385.9" y="980.46" width="72.5" height="34.27" fill="#ec7f2e"/>
<text x="135.2" y="997.9" font-size="26" text-anchor="middle" fill="#231f20" dominant-baseline="central" >+</text>
<text x="206.6" y="997.9" font-size="26" text-anchor="middle" fill="#231f20" dominant-baseline="central" >−</text>
<text x="277.9" y="997.9" font-size="26" text-anchor="middle" fill="#231f20" dominant-baseline="central" >+/−</text>
<text x="349.9" y="997.9" font-size="26" text-anchor="middle" fill="#231f20" dominant-baseline="central" >+</text>
<text x="422.0" y="997.9" font-size="26" text-anchor="middle" fill="#231f20" dominant-baseline="central" >+++</text>
<text x="469.6" y="1001.9" font-size="28" text-anchor="start" fill="#231f20" dominant-baseline="central" >M10(TeM)</text>
<rect x="98.8" y="1014.43" width="73.0" height="34.27" fill="#ebd8c8"/>
<rect x="171.5" y="1014.43" width="70.5" height="34.27" fill="#ebd8c8"/>
<rect x="241.7" y="1014.43" width="72.6" height="34.27" fill="#f08b37"/>
<rect x="314.0" y="1014.43" width="72.2" height="34.27" fill="#ebd8c8"/>
<rect x="385.9" y="1014.43" width="72.5" height="34.27" fill="#ebd8c8"/>
<text x="135.2" y="1031.9" font-size="26" text-anchor="middle" fill="#231f20" dominant-baseline="central" >+/−</text>
<text x="206.6" y="1031.9" font-size="26" text-anchor="middle" fill="#231f20" dominant-baseline="central" >+/−</text>
<text x="277.9" y="1031.9" font-size="26" text-anchor="middle" fill="#231f20" dominant-baseline="central" >++</text>
<text x="349.9" y="1031.9" font-size="26" text-anchor="middle" fill="#231f20" dominant-baseline="central" >+/−</text>
<text x="422.0" y="1031.9" font-size="26" text-anchor="middle" fill="#231f20" dominant-baseline="central" >+/−</text>
<text x="469.6" y="1035.9" font-size="28" text-anchor="start" fill="#231f20" dominant-baseline="central" >M11(AeM)</text>
<rect x="98.8" y="1048.41" width="73.0" height="34.27" fill="#ebd8c8"/>
<rect x="171.5" y="1048.41" width="70.5" height="34.27" fill="#d0d0d0"/>
<rect x="241.7" y="1048.41" width="72.6" height="34.27" fill="#ebd8c8"/>
<rect x="314.0" y="1048.41" width="72.2" height="34.27" fill="#ec7f2e"/>
<rect x="385.9" y="1048.41" width="72.5" height="34.27" fill="#f08b37"/>
<text x="135.2" y="1065.9" font-size="26" text-anchor="middle" fill="#231f20" dominant-baseline="central" >+/−</text>
<text x="206.6" y="1065.9" font-size="26" text-anchor="middle" fill="#231f20" dominant-baseline="central" >−</text>
<text x="277.9" y="1065.9" font-size="26" text-anchor="middle" fill="#231f20" dominant-baseline="central" >+/−</text>
<text x="349.9" y="1065.9" font-size="26" text-anchor="middle" fill="#231f20" dominant-baseline="central" >+++</text>
<text x="422.0" y="1065.9" font-size="26" text-anchor="middle" fill="#231f20" dominant-baseline="central" >++</text>
<text x="469.6" y="1069.9" font-size="28" text-anchor="start" fill="#231f20" dominant-baseline="central" >M12(TeM)</text>
<rect x="98.8" y="1082.38" width="73.0" height="34.27" fill="#ebd8c8"/>
<rect x="171.5" y="1082.38" width="70.5" height="34.27" fill="#d0d0d0"/>
<rect x="241.7" y="1082.38" width="72.6" height="34.27" fill="#ebd8c8"/>
<rect x="314.0" y="1082.38" width="72.2" height="34.27" fill="#ec7f2e"/>
<rect x="385.9" y="1082.38" width="72.5" height="34.27" fill="#f08b37"/>
<text x="135.2" y="1099.9" font-size="26" text-anchor="middle" fill="#231f20" dominant-baseline="central" >+/−</text>
<text x="206.6" y="1099.9" font-size="26" text-anchor="middle" fill="#231f20" dominant-baseline="central" >−</text>
<text x="277.9" y="1099.9" font-size="26" text-anchor="middle" fill="#231f20" dominant-baseline="central" >+/−</text>
<text x="349.9" y="1099.9" font-size="26" text-anchor="middle" fill="#231f20" dominant-baseline="central" >+++</text>
<text x="422.0" y="1099.9" font-size="26" text-anchor="middle" fill="#231f20" dominant-baseline="central" >++</text>
<text x="469.6" y="1103.9" font-size="28" text-anchor="start" fill="#231f20" dominant-baseline="central" >M13</text>
<rect x="98.8" y="1116.35" width="73.0" height="34.27" fill="#d0d0d0"/>
<rect x="171.5" y="1116.35" width="70.5" height="34.27" fill="#d0d0d0"/>
<rect x="241.7" y="1116.35" width="72.6" height="34.27" fill="#f08b37"/>
<rect x="314.0" y="1116.35" width="72.2" height="34.27" fill="#ebd8c8"/>
<rect x="385.9" y="1116.35" width="72.5" height="34.27" fill="#f6d5b9"/>
<text x="135.2" y="1133.8" font-size="26" text-anchor="middle" fill="#231f20" dominant-baseline="central" >−</text>
<text x="206.6" y="1133.8" font-size="26" text-anchor="middle" fill="#231f20" dominant-baseline="central" >−</text>
<text x="277.9" y="1133.8" font-size="26" text-anchor="middle" fill="#231f20" dominant-baseline="central" >++</text>
<text x="349.9" y="1133.8" font-size="26" text-anchor="middle" fill="#231f20" dominant-baseline="central" >+/−</text>
<text x="422.0" y="1133.8" font-size="26" text-anchor="middle" fill="#231f20" dominant-baseline="central" >+</text>
<text x="469.6" y="1137.8" font-size="28" text-anchor="start" fill="#231f20" dominant-baseline="central" >M14(AeM)</text>
<rect x="98.8" y="1150.33" width="73.0" height="34.27" fill="#f08b37"/>
<rect x="171.5" y="1150.33" width="70.5" height="34.27" fill="#ebd8c8"/>
<rect x="241.7" y="1150.33" width="72.6" height="34.27" fill="#f08b37"/>
<rect x="314.0" y="1150.33" width="72.2" height="34.27" fill="#f6d5b9"/>
<rect x="385.9" y="1150.33" width="72.5" height="34.27" fill="#f6d5b9"/>
<text x="135.2" y="1167.8" font-size="26" text-anchor="middle" fill="#231f20" dominant-baseline="central" >++</text>
<text x="206.6" y="1167.8" font-size="26" text-anchor="middle" fill="#231f20" dominant-baseline="central" >+/−</text>
<text x="277.9" y="1167.8" font-size="26" text-anchor="middle" fill="#231f20" dominant-baseline="central" >++</text>
<text x="349.9" y="1167.8" font-size="26" text-anchor="middle" fill="#231f20" dominant-baseline="central" >+</text>
<text x="422.0" y="1167.8" font-size="26" text-anchor="middle" fill="#231f20" dominant-baseline="central" >+</text>
<text x="469.6" y="1171.8" font-size="28" text-anchor="start" fill="#231f20" dominant-baseline="central" >M15</text>
<text x="132.5" y="1198.0" font-size="28" text-anchor="end" fill="#231f20" dominant-baseline="central" transform="rotate(-90 132.5 1198.0)" textLength="46.7" lengthAdjust="spacingAndGlyphs">PLN</text>
<text x="203.7" y="1198.0" font-size="28" text-anchor="end" fill="#231f20" dominant-baseline="central" transform="rotate(-90 203.7 1198.0)" textLength="30.3" lengthAdjust="spacingAndGlyphs">PB</text>
<text x="275.0" y="1198.0" font-size="28" text-anchor="end" fill="#231f20" dominant-baseline="central" transform="rotate(-90 275.0 1198.0)" >Ascites</text>
<text x="346.0" y="1198.0" font-size="28" text-anchor="end" fill="#231f20" dominant-baseline="central" transform="rotate(-90 346.0 1198.0)" >Pri.OT</text>
<text x="417.7" y="1198.0" font-size="28" text-anchor="end" fill="#231f20" dominant-baseline="central" transform="rotate(-90 417.7 1198.0)" >Met.Ome</text>
<text x="574" y="692" font-size="28" font-style="italic" fill="#231f20">R</text>
<text x="592" y="699" font-size="19" fill="#231f20">o/e</text>
<defs><linearGradient id="roe" x1="0" x2="0" y1="0" y2="1"><stop offset="0" stop-color="#ee8030"/><stop offset="0.5" stop-color="#f5d2b2"/><stop offset="1" stop-color="#cfcfcf"/></linearGradient></defs>
<rect x="573.7" y="717.6" width="18.3" height="116.4" fill="url(#roe)"/>
<text x="600.0" y="725.0" font-size="24" text-anchor="start" fill="#231f20" dominant-baseline="central" >Max</text>
<text x="600.0" y="827.0" font-size="24" text-anchor="start" fill="#231f20" dominant-baseline="central" >0</text>
<text x="725.0" y="674.0" font-size="40" text-anchor="start" fill="#231f20" dominant-baseline="auto" font-weight="bold" stroke="#231f20" stroke-width="1.4">c</text>
<text x="1301.3" y="690.5" font-size="29" text-anchor="middle" fill="#231f20" dominant-baseline="central" >Cluster dendrogram</text>
<g stroke="#231f20" stroke-width="1.3" fill="none"><path d="M768.1,710.5 V999"/>
<path d="M761.2,710.5 H768.1"/>
<path d="M761.2,854.6 H768.1"/>
<path d="M761.2,999 H768.1"/>
</g>
<text x="747.2" y="710.5" font-size="22" text-anchor="end" fill="#231f20" dominant-baseline="central" >2.0</text>
<text x="747.2" y="854.6" font-size="22" text-anchor="end" fill="#231f20" dominant-baseline="central" >1.0</text>
<text x="747.2" y="999.0" font-size="22" text-anchor="end" fill="#231f20" dominant-baseline="central" >0</text>
<text x="743.4" y="1060.5" font-size="30" text-anchor="middle" fill="#231f20" dominant-baseline="central" transform="rotate(-90 743.4 1060.5)" >Height</text>
<path d="M818.4,995.8 V969.0 H852.1 V995.8 M784.7,984.3 V956.6 H835.2 V969.0 M919.5,1004.8 V978.0 H953.2 V1004.8 M885.8,992.0 V965.2 H936.4 V978.0 M1020.6,1007.0 V980.0 H1054.3 V1007.0 M986.9,1002.6 V975.8 H1037.5 V980.0 M1088.0,1004.8 V978.0 H1121.7 V1004.8 M1155.4,996.3 V968.6 H1189.1 V996.3 M1104.8,978.0 V959.6 H1172.2 V968.6 M1012.2,975.8 V948.1 H1138.5 V959.6 M911.1,965.2 V918.3 H1075.4 V948.1 M810.0,956.6 V872.7 H993.2 V918.3 M1256.5,1005.0 V979.0 H1290.2 V1005.0 M1323.9,1002.0 V975.2 H1357.6 V1002.0 M1273.3,979.0 V967.3 H1340.8 V975.2 M1425.0,1006.0 V979.6 H1458.7 V1006.0 M1391.3,1006.0 V979.0 H1441.8 V979.6 M1559.8,1006.0 V979.0 H1593.5 V1006.0 M1526.1,1003.0 V976.6 H1576.7 V979.0 M1492.4,1003.0 V976.0 H1551.4 V976.6 M1416.6,979.0 V962.0 H1521.9 V976.0 M1307.0,967.3 V939.0 H1469.2 V962.0 M1222.8,869.0 V842.0 H1388.1 V939.0 M1627.2,1006.7 V979.9 H1660.9 V1006.7 M1694.6,1005.7 V979.1 H1728.3 V1005.7 M1762.0,1003.0 V976.0 H1795.7 V1003.0 M1711.5,979.1 V973.9 H1778.9 V976.0 M1863.1,1005.7 V979.1 H1896.8 V1005.7 M1829.4,1003.0 V976.0 H1880.0 V979.1 M1930.5,1000.0 V973.9 H1964.2 V1000.0 M1854.7,976.0 V971.7 H1947.4 V973.9 M1997.9,1002.2 V975.2 H2031.6 V1002.2 M2065.3,995.7 V969.6 H2099.0 V995.7 M2014.8,975.2 V959.1 H2082.2 V969.6 M1901.0,971.7 V944.8 H2048.4 V959.1 M1745.2,973.9 V896.5 H1974.7 V944.8 M1644.1,979.9 V837.8 H1859.9 V896.5 M1305.5,842.0 V782.6 H1752.0 V837.8 M901.6,872.7 V721.0 H1528.7 V782.6" stroke="#231f20" stroke-width="3" fill="none" stroke-linejoin="miter" stroke-linecap="butt"/>
<text x="799.2" y="1016.0" font-size="22" text-anchor="end" fill="#e31b23" dominant-baseline="auto" transform="rotate(-90 799.2 1016.0)" >M03_DC-LAMP3</text>
<text x="832.9" y="1016.0" font-size="22" text-anchor="end" fill="#2d72b5" dominant-baseline="auto" transform="rotate(-90 832.9 1016.0)" >DC-C4-LAMP3</text>
<text x="866.6" y="1016.0" font-size="22" text-anchor="end" fill="#3ca34a" dominant-baseline="auto" transform="rotate(-90 866.6 1016.0)" >hM04_cDC1-BATF3</text>
<text x="900.3" y="1016.0" font-size="22" text-anchor="end" fill="#2d72b5" dominant-baseline="auto" transform="rotate(-90 900.3 1016.0)" >Mφ-C3-APOE</text>
<text x="934.0" y="1016.0" font-size="22" text-anchor="end" fill="#2d72b5" dominant-baseline="auto" transform="rotate(-90 934.0 1016.0)" >DC-C2-FCER1A</text>
<text x="967.7" y="1016.0" font-size="22" text-anchor="end" fill="#e31b23" dominant-baseline="auto" transform="rotate(-90 967.7 1016.0)" >M01_DC-CD1C</text>
<text x="1001.4" y="1016.0" font-size="22" text-anchor="end" fill="#e31b23" dominant-baseline="auto" transform="rotate(-90 1001.4 1016.0)" >M04_DC-LGALS2</text>
<text x="1035.1" y="1016.0" font-size="22" text-anchor="end" fill="#2d72b5" dominant-baseline="auto" transform="rotate(-90 1035.1 1016.0)" >DC-C3-CLEC9A</text>
<text x="1068.8" y="1016.0" font-size="22" text-anchor="end" fill="#e31b23" dominant-baseline="auto" transform="rotate(-90 1068.8 1016.0)" >M02_DC-CLEC9A</text>
<text x="1102.5" y="1016.0" font-size="22" text-anchor="end" fill="#2d72b5" dominant-baseline="auto" transform="rotate(-90 1102.5 1016.0)" >DC-C1-CD1C</text>
<text x="1136.2" y="1016.0" font-size="22" text-anchor="end" fill="#3ca34a" dominant-baseline="auto" transform="rotate(-90 1136.2 1016.0)" >hM03_cDC2-CD1C</text>
<text x="1169.9" y="1016.0" font-size="22" text-anchor="end" fill="#3ca34a" dominant-baseline="auto" transform="rotate(-90 1169.9 1016.0)" >hM02_pDC-LILRA4</text>
<text x="1203.6" y="1016.0" font-size="22" text-anchor="end" fill="#2d72b5" dominant-baseline="auto" transform="rotate(-90 1203.6 1016.0)" >Mast-C2-CPA3</text>
<text x="1237.3" y="882.0" font-size="22" text-anchor="end" fill="#2d72b5" dominant-baseline="auto" transform="rotate(-90 1237.3 882.0)" >Mφ-C4-GPX3</text>
<text x="1271.0" y="1016.0" font-size="22" text-anchor="end" fill="#e31b23" dominant-baseline="auto" transform="rotate(-90 1271.0 1016.0)" >M11_Macro-VCAN</text>
<text x="1304.7" y="1016.0" font-size="22" text-anchor="end" fill="#2d72b5" dominant-baseline="auto" transform="rotate(-90 1304.7 1016.0)" >Mφ-C5-VCAN</text>
<text x="1338.4" y="1016.0" font-size="22" text-anchor="end" fill="#3ca34a" dominant-baseline="auto" transform="rotate(-90 1338.4 1016.0)" >hM11_Monolike-FCN1</text>
<text x="1372.1" y="1016.0" font-size="22" text-anchor="end" fill="#2d72b5" dominant-baseline="auto" transform="rotate(-90 1372.1 1016.0)" >Mφ-C1-THBS1</text>
<text x="1405.8" y="1016.0" font-size="22" text-anchor="end" fill="#2d72b5" dominant-baseline="auto" transform="rotate(-90 1405.8 1016.0)" >Mono-C1-CD14</text>
<text x="1439.5" y="1016.0" font-size="22" text-anchor="end" fill="#3ca34a" dominant-baseline="auto" transform="rotate(-90 1439.5 1016.0)" >hM05_Mono-CD14</text>
<text x="1473.2" y="1016.0" font-size="22" text-anchor="end" fill="#e31b23" dominant-baseline="auto" transform="rotate(-90 1473.2 1016.0)" >M05_Mono-CD14</text>
<text x="1506.9" y="1016.0" font-size="22" text-anchor="end" fill="#3ca34a" dominant-baseline="auto" transform="rotate(-90 1506.9 1016.0)" >hM07_Mono-CD14CD16</text>
<text x="1540.6" y="1016.0" font-size="22" text-anchor="end" fill="#2d72b5" dominant-baseline="auto" transform="rotate(-90 1540.6 1016.0)" >Mono-C2-FCGR3A</text>
<text x="1574.3" y="1016.0" font-size="22" text-anchor="end" fill="#3ca34a" dominant-baseline="auto" transform="rotate(-90 1574.3 1016.0)" >hM06_Mono-CD16</text>
<text x="1608.0" y="1016.0" font-size="22" text-anchor="end" fill="#e31b23" dominant-baseline="auto" transform="rotate(-90 1608.0 1016.0)" >M06_Mono-FCGR3A</text>
<text x="1641.7" y="1016.0" font-size="22" text-anchor="end" fill="#3ca34a" dominant-baseline="auto" transform="rotate(-90 1641.7 1016.0)" >hM01_Mast-TPSAB1</text>
<text x="1675.4" y="1016.0" font-size="22" text-anchor="end" fill="#2d72b5" dominant-baseline="auto" transform="rotate(-90 1675.4 1016.0)" >Mast-C1-IL7R</text>
<text x="1709.1" y="1016.0" font-size="22" text-anchor="end" fill="#e31b23" dominant-baseline="auto" transform="rotate(-90 1709.1 1016.0)" >M08_Macro-FN1</text>
<text x="1742.8" y="1016.0" font-size="22" text-anchor="end" fill="#2d72b5" dominant-baseline="auto" transform="rotate(-90 1742.8 1016.0)" >Mφ-C6-MARCO</text>
<text x="1776.5" y="1016.0" font-size="22" text-anchor="end" fill="#e31b23" dominant-baseline="auto" transform="rotate(-90 1776.5 1016.0)" >M09_Macro-FABP5</text>
<text x="1810.2" y="1016.0" font-size="22" text-anchor="end" fill="#e31b23" dominant-baseline="auto" transform="rotate(-90 1810.2 1016.0)" >M14_Macro-FOLR2</text>
<text x="1843.9" y="1016.0" font-size="22" text-anchor="end" fill="#e31b23" dominant-baseline="auto" transform="rotate(-90 1843.9 1016.0)" >M10_Macro-C1QA</text>
<text x="1877.6" y="1016.0" font-size="22" text-anchor="end" fill="#3ca34a" dominant-baseline="auto" transform="rotate(-90 1877.6 1016.0)" >hM12_TAM-C1QC</text>
<text x="1911.3" y="1016.0" font-size="22" text-anchor="end" fill="#2d72b5" dominant-baseline="auto" transform="rotate(-90 1911.3 1016.0)" >Mφ-C2-C1QA</text>
<text x="1945.0" y="1016.0" font-size="22" text-anchor="end" fill="#3ca34a" dominant-baseline="auto" transform="rotate(-90 1945.0 1016.0)" >hM10_Macro-IL1B</text>
<text x="1978.7" y="1016.0" font-size="22" text-anchor="end" fill="#e31b23" dominant-baseline="auto" transform="rotate(-90 1978.7 1016.0)" >M12_Macro-C3</text>
<text x="2012.4" y="1016.0" font-size="22" text-anchor="end" fill="#3ca34a" dominant-baseline="auto" transform="rotate(-90 2012.4 1016.0)" >hM09_Macro-PLTP</text>
<text x="2046.1" y="1016.0" font-size="22" text-anchor="end" fill="#3ca34a" dominant-baseline="auto" transform="rotate(-90 2046.1 1016.0)" >hM13_TAM-SPP1</text>
<text x="2079.8" y="1016.0" font-size="22" text-anchor="end" fill="#3ca34a" dominant-baseline="auto" transform="rotate(-90 2079.8 1016.0)" >hM08_Macro-NLRP3</text>
<text x="2113.5" y="1016.0" font-size="22" text-anchor="end" fill="#e31b23" dominant-baseline="auto" transform="rotate(-90 2113.5 1016.0)" >M07_Macro-EREG</text>
<text x="1988.0" y="719.6" font-size="27" text-anchor="start" fill="#231f20" dominant-baseline="central" >Dataset</text>
<rect x="1990.4" y="736" width="19.2" height="27" fill="#e31b23"/>
<text x="2022.6" y="749.5" font-size="25" text-anchor="start" fill="#231f20" dominant-baseline="central" >OC</text>
<rect x="1990.4" y="763" width="19.2" height="26.5" fill="#2d72b5"/>
<text x="2022.6" y="776.2" font-size="25" text-anchor="start" fill="#231f20" dominant-baseline="central" >HCC</text>
<rect x="1990.4" y="789.5" width="19.2" height="26.5" fill="#3ca34a"/>
<text x="2022.6" y="802.8" font-size="25" text-anchor="start" fill="#231f20" dominant-baseline="central" >CRC</text>
<text x="7.0" y="1351.7" font-size="40" text-anchor="start" fill="#231f20" dominant-baseline="auto" font-weight="bold" stroke="#231f20" stroke-width="1.4">d</text>
<g stroke="#231f20" stroke-width="1.4" fill="none">
<path d="M148.3,1386 V1820 H600.6"/>
<path d="M140.7,1405.0 H148.3"/>
<path d="M140.7,1503.8 H148.3"/>
<path d="M140.7,1602.6 H148.3"/>
<path d="M140.7,1701.5 H148.3"/>
<path d="M140.7,1800.3 H148.3"/>
<path d="M213.4,1820 V1827.5"/>
<path d="M321.3,1820 V1827.5"/>
<path d="M428.4,1820 V1827.5"/>
<path d="M536.3,1820 V1827.5"/>
</g>
<text x="126.8" y="1405.0" font-size="24" text-anchor="end" fill="#231f20" dominant-baseline="central" >1.00</text>
<text x="126.8" y="1503.8" font-size="24" text-anchor="end" fill="#231f20" dominant-baseline="central" >0.75</text>
<text x="126.8" y="1602.6" font-size="24" text-anchor="end" fill="#231f20" dominant-baseline="central" >0.50</text>
<text x="126.8" y="1701.5" font-size="24" text-anchor="end" fill="#231f20" dominant-baseline="central" >0.25</text>
<text x="126.8" y="1800.3" font-size="24" text-anchor="end" fill="#231f20" dominant-baseline="central" >0</text>
<text x="46.2" y="1603.7" font-size="28.5" text-anchor="middle" fill="#231f20" dominant-baseline="central" transform="rotate(-90 46.2 1603.7)" >Proportion of DC clusters in ascites</text>
<text x="218.4" y="1847.0" font-size="22" text-anchor="end" fill="#231f20" dominant-baseline="auto" transform="rotate(-45 218.4 1847.0)" >M04_DC–LGALS2</text>
<text x="326.3" y="1847.0" font-size="22" text-anchor="end" fill="#231f20" dominant-baseline="auto" transform="rotate(-45 326.3 1847.0)" >M01_DC–CD1C</text>
<text x="433.4" y="1847.0" font-size="22" text-anchor="end" fill="#231f20" dominant-baseline="auto" transform="rotate(-45 433.4 1847.0)" >M02_DC–CLEC9A</text>
<text x="541.3" y="1847.0" font-size="22" text-anchor="end" fill="#231f20" dominant-baseline="auto" transform="rotate(-45 541.3 1847.0)" >M03_DC–LAMP3</text>
<rect x="171.0" y="1789.3" width="40.7" height="4.7" rx="1.5" fill="#0f6cb6"/>
<circle cx="189.0" cy="1795.6" r="4.6" fill="#0f6cb6"/>
<circle cx="203.7" cy="1791.4" r="4.6" fill="#0f6cb6"/>
<rect x="214.3" y="1786.0" width="40.2" height="10.4" rx="1.5" fill="#e6b42b"/>
<path d="M217.3,1789.2 H251.5" stroke="#fff" stroke-width="1.1"/>
<circle cx="232.3" cy="1757.0" r="4.6" fill="#e6b42b"/>
<circle cx="232.3" cy="1786.4" r="4.6" fill="#e6b42b"/>
<circle cx="230.2" cy="1799.8" r="4.6" fill="#e6b42b"/>
<circle cx="242.8" cy="1795.6" r="4.6" fill="#e6b42b"/>
<circle cx="237.3" cy="1791.4" r="4.6" fill="#e6b42b"/>
<circle cx="224.7" cy="1794.8" r="4.6" fill="#e6b42b"/>
<rect x="279.3" y="1462.5" width="39.9" height="7.0" rx="1.5" fill="#0f6cb6"/>
<circle cx="297.0" cy="1462.2" r="4.6" fill="#0f6cb6"/>
<circle cx="297.0" cy="1472.7" r="4.6" fill="#0f6cb6"/>
<path d="M342.7,1433.6 V1505.8 M342.7,1599.5 V1663.8" stroke="#e6b42b" stroke-width="3.4"/>
<rect x="325.1" y="1507.5" width="35.2" height="90.3" fill="#fff" stroke="#e6b42b" stroke-width="3.4"/>
<path d="M325.1,1567.2 H360.3" stroke="#e6b42b" stroke-width="3.4"/>
<circle cx="337.3" cy="1433.6" r="4.6" fill="#e6b42b"/>
<circle cx="352.0" cy="1495.3" r="4.6" fill="#e6b42b"/>
<circle cx="339.4" cy="1547.0" r="4.6" fill="#e6b42b"/>
<circle cx="352.8" cy="1592.0" r="4.6" fill="#e6b42b"/>
<circle cx="337.3" cy="1604.5" r="4.6" fill="#e6b42b"/>
<circle cx="333.9" cy="1665.9" r="4.6" fill="#e6b42b"/>
<rect x="387.6" y="1759.7" width="39.9" height="7.9" rx="1.5" fill="#0f6cb6"/>
<circle cx="407.4" cy="1759.1" r="4.6" fill="#0f6cb6"/>
<circle cx="408.7" cy="1771.7" r="4.6" fill="#0f6cb6"/>
<path d="M450.0,1580.6 V1653.3 M450.0,1713.7 V1797.7" stroke="#e6b42b" stroke-width="3.4"/>
<rect x="432.2" y="1655.0" width="35.6" height="57.0" fill="#fff" stroke="#e6b42b" stroke-width="3.4"/>
<path d="M432.2,1673.0 H467.8" stroke="#e6b42b" stroke-width="3.4"/>
<circle cx="459.9" cy="1581.9" r="4.6" fill="#e6b42b"/>
<circle cx="443.9" cy="1650.7" r="4.6" fill="#e6b42b"/>
<circle cx="445.2" cy="1668.0" r="4.6" fill="#e6b42b"/>
<circle cx="453.6" cy="1681.4" r="4.6" fill="#e6b42b"/>
<circle cx="460.7" cy="1727.6" r="4.6" fill="#e6b42b"/>
<circle cx="440.2" cy="1800.3" r="4.6" fill="#e6b42b"/>
<path d="M515.1,1781.5 V1781.5 M515.1,1792.5 V1795.0" stroke="#0f6cb6" stroke-width="3.4"/>
<rect x="495.2" y="1781.5" width="39.9" height="11.0" rx="1.5" fill="#0f6cb6"/>
<path d="M498.2,1784.6 H532.1" stroke="#7fb0dd" stroke-width="1.1"/>
<circle cx="515.8" cy="1779.2" r="4.6" fill="#0f6cb6"/>
<circle cx="522.0" cy="1797.7" r="4.6" fill="#0f6cb6"/>
<rect x="540.3" y="1775.8" width="36.5" height="13.7" fill="#fff" stroke="#e6b42b" stroke-width="3.4"/>
<path d="M540.3,1787.3 H576.8" stroke="#e6b42b" stroke-width="3.4"/>
<circle cx="550.2" cy="1771.7" r="4.6" fill="#e6b42b"/>
<circle cx="558.6" cy="1775.0" r="4.6" fill="#e6b42b"/>
<circle cx="549.0" cy="1782.2" r="4.6" fill="#e6b42b"/>
<circle cx="555.6" cy="1791.4" r="4.6" fill="#e6b42b"/>
<circle cx="557.3" cy="1797.7" r="4.6" fill="#e6b42b"/>
<text x="260.4" y="1406.5" font-size="23.5" fill="#231f20">*<tspan font-style="italic">P</tspan> = 0.046</text>
<path d="M286.4,1413.4 H344.4" stroke="#231f20" stroke-width="3.4"/>
<text x="369.6" y="1557.5" font-size="23.5" fill="#231f20">*<tspan font-style="italic">P</tspan> = 0.044</text>
<path d="M396,1563 H453.6" stroke="#231f20" stroke-width="3.4"/>
<path d="M472,1389.5 V1395.8 M472,1418 V1424" stroke="#0f6cb6" stroke-width="2.2"/>
<rect x="455.7" y="1395.8" width="32.7" height="22.2" fill="#fff" stroke="#0f6cb6" stroke-width="2.2"/>
<path d="M455.7,1406.9 H488.4" stroke="#0f6cb6" stroke-width="2.2"/>
<circle cx="472" cy="1406.9" r="2.4" fill="#0f6cb6"/>
<path d="M472,1430 V1435.7 M472,1457.5 V1465" stroke="#e6b42b" stroke-width="2.2"/>
<rect x="455.7" y="1435.7" width="32.7" height="21.8" fill="#fff" stroke="#e6b42b" stroke-width="2.2"/>
<path d="M455.7,1446.6 H488.4" stroke="#e6b42b" stroke-width="2.2"/>
<circle cx="472" cy="1446.6" r="2.4" fill="#e6b42b"/>
<text x="507.4" y="1406.3" font-size="27" text-anchor="start" fill="#231f20" dominant-baseline="central" >Resistant</text>
<text x="507.4" y="1445.4" font-size="27" text-anchor="start" fill="#231f20" dominant-baseline="central" >Sensitive</text>
<text x="725.0" y="1334.7" font-size="40" text-anchor="start" fill="#231f20" dominant-baseline="auto" font-weight="bold" stroke="#231f20" stroke-width="1.4">e</text>
<path d="M882.1 1751.7h0M889.5 1752.5h0M871.9 1770.6h0M918.6 1740.8h0M872.9 1793.1h0M885.2 1795.1h0M903.3 1746.4h0M865.9 1790.3h0M881.5 1777.0h0M889.4 1747.8h0M892.8 1754.7h0M904.0 1742.4h0M932.1 1735.4h0M910.2 1740.7h0M897.5 1776.9h0M893.4 1768.8h0M922.0 1729.6h0M885.4 1783.5h0M922.5 1726.1h0M903.6 1751.9h0M873.4 1771.2h0M916.3 1742.1h0M886.8 1792.2h0M872.7 1774.2h0M878.6 1779.0h0M912.2 1749.5h0M888.6 1766.0h0M917.3 1729.1h0M877.0 1763.8h0M923.7 1754.3h0M887.0 1770.2h0M889.5 1766.3h0M869.0 1782.8h0M902.6 1744.4h0M916.7 1723.3h0M920.2 1734.1h0M918.8 1735.8h0M872.2 1784.3h0M890.3 1790.3h0M902.7 1747.7h0M874.1 1794.7h0M914.8 1738.1h0M904.7 1748.2h0M914.2 1745.5h0M902.4 1760.7h0M888.3 1775.6h0M871.0 1787.9h0M877.2 1787.8h0M907.8 1753.3h0M924.7 1740.2h0M905.4 1743.7h0M884.0 1796.1h0M909.9 1745.6h0M898.4 1740.1h0M890.5 1770.8h0M893.3 1759.8h0M903.1 1745.3h0M919.7 1724.1h0M920.0 1738.2h0M914.5 1746.1h0M903.1 1741.6h0M912.7 1754.0h0M925.3 1735.8h0M887.5 1767.5h0M895.3 1762.9h0M918.7 1746.9h0M903.4 1754.3h0M884.9 1753.1h0M889.6 1777.5h0M910.6 1744.9h0M913.9 1732.7h0M919.8 1726.1h0M874.2 1765.5h0M920.9 1737.2h0M903.4 1749.1h0M898.2 1767.4h0M912.5 1748.3h0M875.7 1774.2h0M877.6 1767.1h0M899.8 1747.9h0M921.9 1726.0h0M870.2 1792.4h0M904.6 1741.5h0M916.4 1741.3h0M906.7 1768.4h0M885.4 1774.7h0M900.3 1740.9h0M903.5 1758.9h0M913.4 1743.8h0M886.7 1784.7h0M913.7 1743.1h0M884.1 1768.4h0M901.6 1753.1h0M914.6 1741.4h0M918.7 1732.1h0M882.9 1756.8h0M878.9 1757.7h0M917.6 1744.8h0M913.6 1744.8h0M906.5 1736.8h0M889.8 1793.9h0M914.1 1722.2h0M894.2 1780.8h0M896.9 1770.0h0M898.2 1758.0h0M869.1 1792.7h0M918.6 1738.0h0M916.6 1739.6h0M891.7 1760.1h0M912.6 1751.6h0M925.4 1731.4h0M902.9 1748.3h0M895.6 1739.9h0M902.7 1748.4h0M917.7 1739.7h0M921.4 1741.7h0M908.1 1750.5h0M897.2 1756.2h0M917.8 1724.7h0M907.8 1735.0h0M915.7 1748.9h0M903.4 1775.7h0M882.9 1769.0h0M893.1 1771.7h0M897.7 1755.1h0M906.3 1752.6h0M916.4 1742.5h0M878.4 1775.7h0M887.6 1765.4h0M917.4 1744.1h0M890.3 1772.0h0M893.5 1754.9h0M903.8 1755.1h0M898.6 1747.8h0M905.8 1732.8h0M876.9 1779.8h0M920.2 1728.6h0M934.6 1723.6h0M922.5 1733.9h0M911.7 1741.4h0M911.2 1727.1h0M872.0 1772.7h0M875.9 1790.2h0M921.6 1734.5h0M895.3 1760.5h0M910.1 1745.0h0M883.4 1790.4h0M895.9 1754.1h0M889.3 1775.5h0M924.7 1729.9h0M877.4 1795.1h0M913.1 1735.2h0M894.8 1747.9h0M872.5 1768.1h0M896.2 1762.3h0M910.7 1766.1h0M905.5 1741.9h0M902.3 1741.0h0M907.4 1766.3h0M889.9 1783.3h0M911.9 1744.7h0M920.7 1741.2h0M909.7 1744.1h0M915.4 1745.8h0M901.9 1763.4h0M901.7 1747.4h0M916.8 1730.6h0M899.8 1743.3h0M900.1 1771.5h0M901.2 1754.2h0M883.8 1771.0h0M880.1 1774.5h0M888.0 1781.4h0M904.6 1763.6h0M914.3 1726.6h0M873.2 1793.3h0M903.2 1758.4h0M918.4 1758.2h0M886.4 1755.8h0M893.8 1759.4h0M905.0 1746.6h0M891.4 1774.1h0M880.7 1790.7h0M896.4 1774.1h0M885.1 1795.8h0M876.3 1793.8h0M900.7 1762.4h0M905.4 1764.7h0M905.5 1769.0h0M912.2 1752.6h0M897.6 1759.2h0M906.4 1756.6h0M904.4 1742.2h0M897.9 1741.6h0M912.7 1767.4h0M912.5 1741.1h0M915.8 1738.8h0M894.4 1760.2h0M893.5 1749.3h0M915.3 1740.5h0M927.5 1739.0h0M875.8 1793.3h0M891.6 1761.0h0M903.3 1755.6h0M899.9 1741.0h0M888.1 1761.2h0M883.4 1772.7h0M884.9 1790.7h0M903.3 1751.7h0M899.7 1755.6h0M874.1 1764.0h0M878.5 1761.3h0M917.7 1726.5h0M875.3 1787.4h0M865.8 1781.2h0M911.0 1737.8h0M879.7 1784.1h0M875.1 1778.3h0M909.9 1742.7h0M886.8 1768.3h0M870.0 1785.3h0M926.6 1743.2h0M894.0 1764.8h0M882.3 1754.3h0M921.9 1730.1h0M889.9 1759.7h0M898.5 1762.6h0M903.9 1731.8h0M910.5 1751.9h0M918.7 1733.0h0M891.8 1750.7h0M913.1 1729.0h0M884.7 1791.8h0M926.9 1735.9h0M872.8 1785.5h0M891.1 1770.3h0M896.9 1759.1h0M896.5 1776.2h0M888.9 1750.6h0M912.0 1749.9h0M905.5 1737.9h0M913.6 1748.7h0M915.6 1729.0h0M908.0 1748.6h0M903.6 1763.1h0M923.1 1724.3h0M878.5 1771.4h0M927.1 1731.2h0M865.2 1781.8h0M887.2 1783.0h0M903.7 1753.2h0M879.0 1783.6h0M877.7 1777.1h0M886.9 1774.8h0M877.0 1782.0h0M900.1 1759.4h0M889.8 1786.5h0M874.3 1756.6h0M898.8 1757.3h0M919.9 1734.3h0M895.6 1751.4h0M919.9 1727.7h0M862.5 1786.4h0M908.3 1741.5h0M883.7 1780.7h0M886.7 1780.1h0M909.5 1752.3h0M909.9 1755.4h0M866.5 1795.6h0M919.7 1739.2h0M916.5 1745.9h0M902.3 1766.6h0M919.7 1727.4h0M895.3 1764.9h0M920.8 1734.7h0M910.2 1755.5h0M888.3 1767.3h0M880.1 1760.2h0M888.3 1766.4h0M881.1 1748.5h0M914.8 1736.8h0M888.4 1766.1h0M901.3 1752.0h0M922.5 1730.4h0M906.5 1745.5h0M902.0 1750.3h0M888.4 1763.9h0M877.8 1779.2h0M912.8 1725.7h0M889.0 1770.2h0M887.5 1786.0h0M914.5 1743.2h0M913.6 1735.5h0M885.9 1775.3h0M907.3 1770.3h0M886.5 1754.4h0M911.6 1745.3h0M888.6 1766.8h0M879.7 1767.1h0M906.5 1739.5h0M868.4 1786.7h0M912.2 1749.3h0M895.5 1764.2h0M913.6 1750.0h0M914.4 1729.5h0M907.6 1758.0h0M916.0 1721.5h0M926.8 1732.9h0M907.2 1748.4h0M874.0 1768.5h0M892.3 1773.9h0M912.6 1763.1h0M880.9 1790.0h0M897.1 1750.4h0M927.6 1740.6h0M914.7 1753.0h0M888.5 1775.4h0M902.2 1755.6h0M902.6 1754.6h0M893.0 1792.4h0M908.7 1740.2h0M909.2 1734.9h0M917.6 1741.2h0M902.4 1759.6h0M908.5 1751.9h0M879.4 1769.2h0M914.3 1754.0h0M884.3 1789.7h0M893.0 1750.4h0M903.6 1750.8h0M907.4 1767.7h0M914.6 1729.5h0M905.0 1759.9h0M892.6 1742.6h0M898.5 1775.0h0M914.2 1736.3h0M913.6 1735.4h0M879.7 1789.3h0M897.9 1754.8h0M904.9 1741.8h0M885.9 1765.0h0M881.4 1795.5h0M908.2 1752.4h0M921.0 1734.5h0M903.1 1755.4h0M920.7 1740.4h0M925.0 1733.0h0M887.3 1768.2h0M917.8 1737.7h0M888.6 1765.3h0M872.2 1796.3h0M907.9 1773.2h0M900.8 1757.3h0M921.3 1735.0h0M915.7 1730.5h0M886.1 1797.0h0M877.3 1775.9h0M920.7 1735.4h0M912.7 1732.9h0M915.4 1735.6h0M912.4 1750.8h0M876.8 1784.6h0M912.5 1743.0h0M873.5 1774.2h0M879.9 1764.9h0M906.5 1749.2h0M916.4 1731.6h0M922.7 1755.0h0M888.1 1755.1h0M865.2 1786.8h0M883.9 1775.4h0M884.2 1773.5h0M882.0 1768.7h0M920.1 1734.1h0M893.3 1762.4h0M917.8 1728.3h0M896.2 1752.8h0M904.3 1751.9h0M899.2 1764.8h0M902.0 1759.1h0M920.1 1739.3h0M876.4 1763.6h0M912.1 1742.5h0M903.3 1754.7h0M906.2 1762.7h0M898.2 1737.9h0M881.1 1778.6h0M894.5 1750.8h0M884.6 1774.3h0M912.7 1729.0h0M915.7 1737.5h0M893.3 1773.1h0M900.7 1746.0h0M914.3 1756.0h0M881.2 1777.2h0M907.8 1754.0h0M868.7 1781.5h0M883.7 1777.6h0M889.7 1767.7h0M869.9 1770.6h0M877.7 1784.0h0M875.4 1776.0h0M896.0 1762.6h0M919.3 1732.9h0M887.0 1770.8h0M872.9 1759.9h0M890.7 1750.4h0M910.1 1754.0h0M911.7 1750.7h0M909.8 1752.2h0M914.8 1728.5h0M914.2 1726.6h0M881.8 1772.2h0M904.8 1753.7h0M877.9 1770.7h0M903.3 1768.2h0M921.6 1733.2h0M867.9 1787.6h0M889.5 1775.0h0M879.6 1758.5h0M912.3 1740.2h0M882.2 1786.6h0M903.8 1745.7h0M868.9 1786.3h0M875.6 1791.7h0M911.0 1738.9h0M893.7 1762.9h0M876.5 1779.9h0M883.7 1761.4h0M873.6 1782.9h0M907.4 1743.2h0M884.8 1770.2h0M889.4 1750.9h0M884.3 1771.0h0M883.6 1776.9h0M894.9 1743.0h0M925.5 1722.0h0M926.3 1728.4h0M915.0 1757.6h0M880.7 1773.9h0M893.8 1759.4h0M892.4 1758.3h0M891.9 1771.7h0M905.1 1758.2h0M889.6 1776.8h0M901.8 1762.5h0M900.4 1739.1h0M866.4 1785.1h0M871.0 1785.5h0M891.4 1754.1h0M889.4 1767.6h0M892.9 1774.7h0M881.5 1772.6h0M881.8 1754.5h0M875.9 1758.0h0M904.9 1738.9h0M891.2 1757.7h0M916.8 1742.2h0M922.4 1734.1h0M899.9 1752.0h0M926.3 1728.3h0M879.1 1775.3h0M875.7 1766.0h0M893.6 1752.1h0M919.2 1741.3h0M891.7 1772.1h0M902.8 1745.7h0M921.8 1731.8h0M898.8 1742.8h0M894.4 1758.3h0M903.0 1752.7h0M895.1 1767.8h0M879.0 1784.1h0M872.6 1785.1h0M893.1 1764.3h0M881.9 1792.1h0M875.0 1784.7h0M911.4 1730.0h0M880.6 1775.0h0M883.7 1774.3h0M909.8 1734.0h0M898.7 1741.9h0M919.6 1739.5h0M909.8 1744.8h0M930.7 1729.5h0M888.1 1760.8h0M922.1 1732.3h0M911.4 1744.1h0M874.3 1778.8h0M876.1 1781.8h0M896.2 1749.1h0M885.3 1778.2h0M883.1 1762.5h0M916.7 1745.6h0M898.8 1738.4h0M880.5 1780.9h0M924.4 1727.1h0M876.2 1782.0h0M909.9 1753.6h0M890.3 1769.1h0M892.0 1764.4h0M874.5 1793.2h0M879.4 1785.9h0M932.6 1723.7h0M892.5 1747.1h0M900.5 1768.4h0M902.2 1746.1h0M922.8 1747.2h0M895.2 1769.0h0M883.5 1781.9h0M882.3 1786.7h0M913.2 1735.8h0M879.5 1788.9h0M910.1 1741.8h0M913.2 1746.8h0M936.6 1731.7h0M889.7 1764.3h0M926.0 1737.3h0M880.7 1769.1h0M905.7 1751.6h0M905.4 1743.9h0M919.8 1730.3h0M886.9 1769.6h0M903.0 1736.6h0M883.4 1780.1h0M889.7 1765.7h0M896.5 1751.5h0M903.2 1758.4h0M919.7 1726.0h0M881.3 1790.4h0M926.3 1726.8h0M913.3 1743.6h0M911.0 1750.8h0M876.9 1760.3h0M871.9 1779.5h0M912.0 1745.3h0M918.9 1740.8h0M895.8 1754.9h0M910.9 1737.7h0M904.6 1741.0h0M874.7 1771.4h0M907.3 1762.0h0M887.3 1756.8h0M926.5 1730.9h0M920.7 1729.8h0M915.5 1747.3h0M934.1 1737.3h0M905.1 1752.5h0M912.7 1758.2h0M898.5 1725.0h0M875.1 1796.9h0M883.2 1778.8h0M901.1 1758.3h0M883.7 1771.0h0M899.2 1758.3h0M881.3 1783.2h0M900.8 1732.8h0M919.0 1738.9h0M880.8 1789.2h0M917.2 1737.3h0M875.5 1766.1h0M905.6 1751.8h0M929.4 1725.1h0M915.5 1735.7h0M906.9 1745.5h0M890.6 1760.3h0M876.2 1767.7h0M889.7 1781.0h0M899.6 1759.6h0M916.0 1729.1h0M889.7 1786.1h0M910.4 1737.7h0M901.6 1763.7h0M893.7 1766.9h0M883.3 1747.7h0M886.6 1767.9h0M906.8 1743.6h0M887.8 1779.6h0M899.5 1765.7h0M905.0 1739.9h0M869.2 1782.2h0M898.7 1765.5h0M905.0 1745.3h0M906.3 1765.1h0M881.3 1767.6h0M915.4 1744.3h0M913.7 1758.7h0M872.5 1779.6h0M905.5 1743.6h0M919.7 1734.0h0M901.5 1743.5h0M897.8 1751.8h0M915.9 1765.0h0M920.9 1717.5h0M890.7 1752.9h0M867.2 1780.9h0M919.2 1740.8h0M881.0 1773.0h0M891.2 1764.9h0M870.8 1778.3h0M916.8 1736.1h0M909.4 1744.6h0M907.7 1768.3h0M921.7 1731.4h0M882.8 1761.0h0M874.1 1787.5h0M906.5 1758.2h0M884.7 1786.2h0M885.3 1773.4h0M898.0 1765.1h0M889.1 1755.9h0M927.5 1738.8h0M884.7 1787.9h0M881.1 1759.0h0M922.0 1728.3h0M877.6 1788.9h0M916.2 1743.8h0M875.1 1793.1h0M912.3 1728.5h0M869.4 1786.5h0M899.2 1777.6h0M881.3 1759.9h0M922.6 1740.3h0M901.0 1762.8h0M884.5 1772.2h0M887.2 1758.5h0M886.7 1759.3h0M871.2 1790.9h0M894.1 1751.2h0M888.9 1778.0h0M884.4 1764.9h0M911.0 1740.9h0M893.9 1763.6h0M907.4 1756.3h0M902.8 1746.0h0M899.2 1747.9h0M889.2 1749.1h0M876.6 1791.0h0M884.0 1776.8h0M915.6 1730.6h0M924.7 1752.9h0M916.3 1732.5h0M912.3 1743.3h0M870.8 1789.4h0M892.0 1740.9h0M918.3 1758.4h0M911.1 1741.1h0M907.0 1733.9h0M924.1 1730.0h0M907.8 1730.7h0M887.4 1758.3h0M876.6 1774.6h0M885.2 1791.4h0M904.5 1744.8h0M878.0 1770.7h0M903.8 1757.1h0M882.5 1754.0h0M878.4 1789.9h0M865.5 1784.0h0M911.2 1752.7h0M905.7 1735.4h0M873.0 1785.9h0M907.3 1750.1h0M877.9 1771.9h0M897.1 1748.0h0M915.7 1729.1h0M901.7 1763.0h0M911.8 1742.7h0M906.2 1740.6h0M872.1 1792.9h0M905.6 1735.8h0M911.6 1764.9h0M892.5 1755.8h0M916.6 1742.9h0M924.5 1741.5h0M896.9 1749.3h0M886.0 1791.5h0M924.3 1741.6h0M888.4 1774.2h0M914.2 1752.4h0M907.8 1764.9h0M906.6 1731.8h0M913.7 1735.1h0M912.5 1740.3h0M863.6 1787.8h0M888.5 1768.8h0M899.7 1754.7h0M874.3 1760.8h0M881.2 1791.8h0M895.1 1743.8h0M888.2 1754.6h0M913.8 1738.9h0M920.1 1721.5h0M879.0 1768.7h0M914.5 1749.3h0M901.8 1748.8h0M934.5 1733.0h0M919.3 1753.5h0M871.5 1782.4h0M926.3 1718.6h0M869.8 1787.8h0M909.1 1754.9h0M907.0 1759.2h0M874.5 1773.4h0M905.8 1754.9h0M891.9 1760.0h0M881.7 1747.9h0M906.6 1753.8h0M878.3 1770.9h0M930.1 1739.8h0M917.7 1736.2h0M888.7 1753.6h0M890.9 1746.0h0M883.3 1795.7h0M923.2 1730.4h0M909.9 1738.3h0M897.4 1757.9h0M879.1 1796.4h0M922.3 1733.4h0M889.2 1766.6h0M916.4 1735.8h0M900.1 1747.4h0M903.7 1754.4h0M884.3 1779.4h0M895.5 1761.9h0M879.1 1773.9h0M905.9 1748.7h0M883.5 1776.1h0M883.1 1771.4h0M911.5 1737.7h0M914.6 1738.7h0M898.7 1767.6h0M899.4 1785.0h0M902.8 1766.1h0M913.7 1730.7h0M894.3 1759.0h0M903.4 1732.7h0M862.1 1786.4h0M874.2 1791.2h0M886.5 1792.4h0M921.3 1719.4h0M866.9 1785.7h0M890.1 1779.6h0M908.9 1739.7h0M895.3 1756.9h0M887.2 1774.3h0M880.1 1776.3h0M890.3 1769.2h0M892.5 1749.9h0M899.6 1731.0h0M875.1 1785.3h0M881.4 1777.3h0M903.6 1756.7h0M905.1 1744.8h0M918.0 1721.9h0M914.0 1732.6h0M922.2 1731.3h0M911.6 1739.0h0M887.9 1779.6h0M886.2 1779.8h0M907.3 1732.0h0M897.5 1759.0h0M892.3 1773.1h0M903.6 1743.1h0M905.9 1744.6h0M912.6 1731.2h0M896.9 1749.3h0M928.3 1725.7h0M917.5 1738.7h0M902.9 1760.7h0M876.4 1780.7h0M916.1 1751.9h0M896.1 1775.2h0M882.7 1762.3h0M915.6 1727.5h0M862.0 1789.0h0M896.1 1751.1h0M867.3 1778.7h0M909.4 1752.4h0M906.4 1765.7h0M883.2 1784.2h0M887.9 1780.6h0M879.8 1752.4h0M894.0 1753.1h0M911.9 1732.1h0M889.3 1773.8h0M923.7 1749.4h0M905.7 1752.4h0M913.7 1740.8h0M916.0 1734.4h0M925.9 1736.3h0M887.5 1773.1h0M923.7 1739.7h0M869.4 1787.5h0M923.8 1732.5h0M872.0 1779.7h0M920.6 1727.4h0M921.7 1749.5h0M908.3 1748.7h0M907.4 1760.7h0M896.4 1751.9h0M879.6 1792.4h0M872.9 1773.9h0M904.3 1741.0h0M893.0 1770.7h0M911.4 1750.3h0M922.2 1735.6h0M907.8 1727.1h0M913.2 1736.1h0M898.4 1754.0h0M911.4 1730.8h0M913.5 1739.8h0M905.9 1749.3h0M878.9 1791.4h0M905.4 1763.4h0M891.8 1757.9h0M899.2 1761.5h0M886.3 1762.6h0M888.0 1751.7h0M923.2 1728.7h0M920.8 1724.8h0M915.6 1742.4h0M905.1 1747.6h0M911.9 1734.7h0M901.5 1749.6h0M901.7 1763.6h0M922.3 1731.4h0M876.5 1781.2h0M901.4 1762.3h0M899.0 1755.3h0M899.6 1748.7h0M868.5 1790.0h0M870.5 1787.3h0M869.9 1779.5h0M884.4 1796.8h0M892.5 1755.4h0M927.8 1728.8h0M884.2 1782.7h0M888.6 1750.0h0M882.2 1779.9h0M894.5 1754.0h0M897.1 1753.0h0M895.8 1754.5h0M886.5 1748.3h0M892.8 1747.3h0M920.7 1732.4h0M904.6 1748.7h0M915.5 1751.0h0M902.7 1738.2h0M879.8 1779.9h0M923.5 1720.3h0M862.1 1780.5h0M880.4 1771.3h0M896.3 1767.0h0M926.8 1735.9h0M914.9 1742.3h0M896.1 1754.4h0M907.1 1739.8h0M902.2 1740.2h0M932.6 1728.5h0M879.0 1774.0h0M877.9 1767.2h0M905.7 1756.9h0M914.6 1733.4h0M913.0 1735.2h0M899.2 1743.5h0M910.5 1721.2h0M889.2 1767.8h0M879.7 1771.5h0M914.6 1732.6h0M889.3 1765.1h0M888.4 1764.8h0M891.5 1783.2h0M887.0 1773.3h0M871.4 1793.3h0M876.9 1763.7h0M868.7 1796.4h0M874.7 1778.3h0M890.6 1771.7h0M898.1 1753.3h0M907.1 1734.1h0M926.2 1726.1h0M919.0 1750.3h0M885.5 1760.7h0M919.1 1745.2h0M877.8 1769.8h0M886.5 1788.5h0M881.9 1770.8h0M918.5 1749.0h0M872.8 1795.0h0M904.7 1752.4h0M897.2 1774.0h0M919.8 1736.3h0M865.7 1792.2h0M877.1 1771.9h0M884.7 1763.6h0M901.2 1747.8h0M885.5 1770.1h0M869.3 1785.2h0M897.7 1776.2h0M892.1 1754.6h0M914.2 1738.0h0M901.4 1748.4h0M891.3 1755.3h0M889.7 1753.4h0M914.7 1743.2h0M869.2 1790.2h0M909.4 1737.8h0M883.7 1789.3h0M900.4 1747.5h0M893.1 1752.2h0M927.9 1744.1h0M920.1 1738.5h0M916.5 1724.7h0M889.2 1776.4h0M940.5 1735.0h0M874.3 1793.5h0M913.4 1750.4h0M916.3 1721.6h0M899.7 1749.5h0M900.1 1768.1h0M876.9 1767.9h0M880.5 1762.9h0M874.8 1789.1h0M893.2 1782.1h0M894.9 1775.4h0M869.9 1783.4h0M908.3 1741.7h0M883.4 1796.8h0M878.6 1781.1h0M865.9 1764.3h0M893.9 1762.1h0M871.7 1776.3h0M927.5 1735.0h0M891.7 1768.4h0M915.5 1742.5h0M925.3 1726.5h0M918.2 1732.0h0M883.4 1775.8h0M904.0 1740.4h0M901.9 1745.3h0M908.3 1741.8h0M895.9 1750.2h0M889.6 1795.7h0M891.5 1762.2h0M905.1 1754.8h0M889.7 1748.2h0M904.3 1751.0h0M921.8 1748.4h0M875.7 1789.6h0M907.2 1734.1h0M910.9 1741.6h0M918.6 1737.2h0M883.6 1796.6h0M893.9 1765.5h0M904.0 1732.0h0M875.7 1792.1h0M885.0 1779.2h0M909.1 1748.0h0M899.6 1751.4h0M897.0 1747.9h0M905.2 1764.3h0M880.8 1776.7h0M913.0 1731.3h0M902.6 1757.3h0M887.7 1766.0h0M910.1 1745.8h0M889.0 1763.6h0M903.1 1743.0h0M875.4 1765.6h0M928.2 1744.8h0M911.9 1747.3h0M912.7 1762.1h0M909.5 1773.5h0M902.9 1736.5h0M873.8 1772.9h0M876.2 1783.6h0M907.3 1745.4h0M909.4 1749.0h0M920.4 1738.9h0M887.9 1766.3h0M922.3 1733.7h0M889.8 1767.6h0M866.8 1789.3h0M921.7 1727.3h0M914.1 1740.6h0M911.3 1755.7h0M894.9 1756.9h0M884.1 1772.3h0M917.7 1745.8h0M928.4 1726.5h0M885.4 1784.8h0M875.2 1781.4h0M909.2 1747.9h0M881.8 1790.3h0M909.3 1738.4h0M916.5 1732.7h0M909.9 1751.2h0M871.7 1790.9h0M908.1 1756.5h0M915.4 1734.6h0M899.6 1751.4h0M889.5 1747.9h0M911.4 1750.2h0M906.6 1739.2h0M863.5 1787.7h0M897.7 1744.9h0M880.6 1790.4h0M916.4 1754.4h0M881.4 1763.5h0M910.5 1725.9h0M895.0 1751.1h0M892.2 1767.8h0M902.3 1768.0h0M884.4 1781.6h0M901.0 1754.3h0M884.1 1757.8h0M894.4 1787.2h0M900.7 1758.6h0M917.5 1734.4h0M912.3 1743.9h0M917.5 1758.9h0M899.6 1769.1h0M884.8 1791.0h0M901.1 1769.3h0M890.3 1782.7h0M900.0 1748.6h0M879.4 1776.0h0M924.8 1738.5h0M879.7 1773.4h0M920.2 1743.2h0M921.5 1730.9h0M897.3 1768.7h0M912.4 1735.7h0M904.6 1747.5h0M880.1 1785.0h0M908.9 1730.4h0M890.2 1762.0h0M920.0 1727.7h0M901.2 1741.6h0M901.0 1737.1h0M919.8 1721.1h0M888.8 1759.1h0M905.9 1742.7h0M914.0 1742.4h0M914.4 1728.2h0M884.7 1771.0h0M916.3 1743.4h0M895.2 1765.7h0M906.6 1750.7h0M882.5 1775.6h0M917.8 1728.2h0M883.1 1772.2h0M885.0 1772.1h0M904.6 1752.3h0M883.3 1778.4h0M912.8 1738.7h0M890.6 1757.8h0M866.4 1784.0h0M922.0 1717.0h0M914.7 1733.3h0M921.7 1740.9h0M881.5 1788.1h0M885.9 1787.9h0M924.9 1741.5h0M898.8 1738.7h0M914.0 1746.4h0M884.9 1754.7h0M898.3 1740.0h0M918.5 1738.3h0M885.9 1790.4h0M883.4 1762.4h0M905.8 1745.9h0M889.9 1778.0h0M863.8 1791.8h0M922.6 1735.8h0M904.1 1737.2h0M889.9 1759.2h0M900.9 1754.2h0M879.4 1785.0h0M899.8 1754.6h0M922.9 1732.5h0M878.2 1794.9h0M874.4 1784.8h0M923.1 1729.6h0M887.3 1774.4h0M917.6 1729.6h0M895.3 1762.4h0M907.5 1747.5h0M891.8 1754.2h0M888.2 1761.1h0M885.3 1766.2h0M868.4 1783.1h0M877.0 1794.4h0M921.1 1731.5h0M887.0 1763.7h0M864.5 1775.7h0M894.4 1764.3h0M866.4 1794.9h0M909.5 1744.9h0M881.6 1769.1h0M912.5 1737.4h0M882.0 1756.0h0M883.0 1783.7h0M913.4 1763.6h0M883.2 1783.0h0M919.1 1739.3h0M895.5 1768.7h0M886.8 1789.5h0M903.9 1759.4h0M879.0 1755.5h0M903.3 1752.8h0M880.5 1776.0h0M885.0 1776.3h0M887.6 1758.4h0M902.3 1752.0h0M908.0 1740.1h0M892.5 1763.6h0M887.8 1768.0h0M868.4 1789.5h0M917.6 1728.3h0M902.4 1757.3h0M907.0 1735.7h0M886.1 1770.8h0M913.0 1749.7h0M904.8 1743.7h0M892.9 1751.2h0M915.2 1739.2h0M904.1 1739.6h0M925.5 1735.9h0M894.1 1768.5h0M911.3 1753.9h0M894.8 1759.8h0M921.6 1736.8h0M912.9 1752.1h0M895.9 1776.8h0M923.8 1750.1h0M906.5 1760.0h0M902.5 1772.3h0M926.7 1731.7h0M883.1 1771.9h0M885.9 1760.7h0M880.3 1755.1h0M924.4 1741.0h0M886.8 1771.7h0M900.7 1746.3h0M923.9 1726.6h0M881.5 1782.9h0M920.1 1738.8h0M880.0 1783.2h0M901.8 1779.1h0M918.1 1731.1h0M908.3 1746.1h0M876.7 1764.7h0M885.3 1767.8h0M925.6 1727.2h0M929.4 1740.8h0M916.3 1745.7h0M911.7 1757.6h0M915.8 1738.0h0M867.5 1790.6h0M923.5 1738.1h0M899.7 1746.4h0M888.9 1765.1h0M912.1 1737.0h0M901.4 1757.6h0M905.4 1744.0h0M864.9 1788.5h0M887.2 1772.9h0M912.5 1753.4h0M871.2 1796.8h0M905.3 1741.3h0M898.9 1772.5h0M896.8 1743.2h0M918.3 1743.1h0M903.9 1766.1h0M906.9 1755.9h0M901.3 1775.5h0M911.4 1756.0h0M909.1 1746.9h0M898.7 1765.3h0M867.9 1787.5h0M922.5 1723.2h0M913.5 1746.9h0M900.9 1765.7h0M893.1 1766.0h0M928.4 1726.4h0M887.9 1779.6h0M921.1 1728.2h0M903.1 1750.9h0M871.5 1782.6h0M910.9 1743.4h0M905.2 1760.1h0M882.3 1791.3h0M923.7 1744.4h0M869.3 1774.7h0M919.1 1752.7h0M906.3 1745.8h0M901.4 1769.4h0M888.5 1771.1h0M905.3 1743.0h0M928.4 1742.0h0M926.0 1725.5h0M871.4 1784.1h0M877.1 1788.1h0M909.7 1743.3h0M925.3 1745.4h0M910.1 1732.5h0M868.0 1791.2h0M904.6 1764.1h0M869.3 1786.5h0M885.8 1773.0h0M889.1 1758.7h0M888.6 1776.6h0M912.2 1736.8h0M875.7 1795.4h0M921.2 1727.3h0M887.9 1785.9h0M908.2 1753.9h0M885.6 1773.5h0M863.2 1784.5h0M894.8 1770.6h0M913.1 1735.2h0M867.6 1789.7h0M907.8 1753.5h0M899.1 1775.1h0M923.0 1738.5h0M867.4 1774.9h0M872.8 1786.0h0M918.1 1731.7h0M895.4 1764.6h0M902.3 1749.6h0M906.7 1758.6h0M919.8 1731.7h0M879.6 1762.8h0M915.2 1752.1h0M888.2 1773.9h0M883.4 1769.5h0M907.9 1743.1h0M884.2 1795.7h0M914.0 1718.2h0M869.8 1784.6h0M884.8 1779.3h0M872.2 1792.6h0M905.8 1760.9h0M885.7 1783.8h0M903.3 1756.4h0M877.8 1779.0h0M909.4 1766.4h0M906.7 1751.0h0M918.9 1741.3h0M918.2 1736.3h0M868.6 1792.4h0M925.5 1723.4h0M923.9 1743.1h0M920.3 1738.0h0M913.5 1754.5h0M919.2 1727.4h0M908.8 1756.2h0M866.7 1774.0h0M911.4 1748.1h0M905.9 1767.3h0M900.8 1749.2h0M899.3 1761.3h0M871.2 1782.7h0M904.3 1734.0h0M905.7 1753.5h0M908.1 1733.0h0M909.3 1751.1h0M895.5 1774.4h0M904.3 1750.1h0M895.8 1739.6h0M882.5 1776.3h0M867.8 1796.6h0M886.3 1787.5h0M870.1 1769.1h0M914.5 1736.3h0M884.5 1773.4h0M907.4 1736.4h0M895.6 1774.8h0M879.6 1772.2h0M884.6 1790.2h0M895.0 1778.6h0M875.2 1784.0h0M897.7 1777.2h0M921.6 1743.2h0M913.7 1729.5h0M886.3 1760.5h0M872.1 1771.6h0M911.0 1742.8h0M884.0 1753.7h0M893.6 1747.6h0M894.8 1754.4h0M903.2 1752.2h0M899.8 1775.1h0M879.1 1766.3h0M905.1 1758.8h0M876.9 1784.0h0M883.5 1776.4h0M907.3 1754.8h0M897.2 1749.2h0M906.3 1745.0h0M915.2 1741.9h0M909.2 1758.9h0M899.0 1756.8h0M885.6 1755.2h0M922.0 1740.9h0M909.1 1713.7h0M904.3 1746.9h0M902.4 1754.0h0M903.1 1739.5h0M894.3 1754.1h0M865.4 1785.6h0M899.8 1768.0h0M873.5 1774.4h0M880.6 1783.5h0M915.8 1743.2h0M934.5 1731.1h0M879.8 1794.7h0M889.2 1759.1h0M877.8 1773.3h0M924.5 1736.1h0M886.3 1751.9h0M905.4 1738.3h0M906.9 1746.0h0M925.1 1739.5h0M898.9 1755.2h0M879.0 1768.1h0M907.4 1745.4h0M894.2 1766.6h0M890.0 1781.8h0M894.1 1762.4h0M891.1 1761.5h0M922.7 1728.0h0M891.9 1752.9h0M892.2 1750.5h0M920.1 1731.1h0M925.0 1729.0h0M915.7 1736.6h0M868.8 1767.7h0M869.6 1791.8h0M872.0 1782.5h0M912.3 1728.7h0M907.1 1759.9h0M881.8 1767.2h0M879.8 1791.4h0M871.2 1766.6h0M882.9 1770.5h0M889.9 1773.2h0M914.3 1741.6h0M892.7 1761.9h0M895.2 1773.7h0M901.2 1756.0h0M907.8 1748.4h0M869.3 1782.7h0M882.3 1776.5h0M900.5 1742.3h0M908.9 1753.4h0M883.2 1775.5h0M872.8 1778.8h0M906.7 1743.2h0M892.9 1773.0h0M892.9 1764.2h0M901.8 1765.6h0M916.2 1732.6h0M899.2 1749.8h0M918.3 1745.3h0M908.3 1757.0h0M882.4 1768.5h0M898.9 1742.1h0M891.8 1766.9h0M870.7 1779.7h0M892.0 1777.2h0M918.5 1742.2h0M878.2 1782.1h0M877.8 1794.3h0M900.4 1773.6h0M916.7 1753.1h0M879.1 1783.0h0M916.8 1737.4h0M907.3 1736.4h0M884.5 1780.6h0M893.1 1752.7h0M897.4 1743.8h0M893.9 1769.3h0M926.1 1742.7h0M906.8 1741.8h0M893.6 1777.4h0M876.2 1770.8h0M901.9 1745.9h0M877.4 1772.2h0M889.2 1763.3h0M884.7 1759.4h0M910.5 1747.9h0M919.2 1723.1h0M908.4 1738.6h0M886.6 1757.6h0M895.5 1769.8h0M899.4 1761.5h0M926.2 1741.2h0M898.3 1781.8h0M875.5 1776.1h0M906.4 1755.5h0M877.3 1776.1h0M882.0 1754.8h0M883.6 1770.7h0M893.1 1778.3h0M898.7 1753.5h0M915.9 1733.6h0M921.8 1733.5h0M886.3 1748.1h0M921.4 1754.6h0M904.4 1756.3h0M905.9 1755.8h0M879.1 1766.4h0M886.7 1764.7h0M886.0 1773.7h0M896.2 1758.0h0M911.2 1730.5h0M888.8 1776.7h0M924.7 1728.7h0M916.2 1744.4h0M876.2 1774.1h0M888.6 1764.2h0M904.1 1768.0h0M885.7 1768.2h0M924.4 1736.7h0M921.5 1748.8h0M891.4 1761.5h0M891.4 1758.3h0M866.3 1794.4h0M884.7 1751.3h0M913.7 1749.2h0M876.9 1772.4h0M919.4 1725.5h0M892.0 1774.9h0M874.6 1767.0h0M926.0 1732.5h0M903.0 1735.8h0M909.6 1746.8h0M880.5 1775.6h0M887.9 1771.4h0M898.1 1757.3h0M872.7 1786.0h0M872.7 1776.5h0M907.5 1734.0h0M902.4 1773.7h0M892.2 1766.5h0M891.3 1758.8h0M883.0 1796.2h0M915.8 1721.8h0M901.1 1747.3h0M900.8 1739.6h0M871.2 1787.3h0M908.8 1736.7h0M909.0 1736.2h0M894.5 1765.6h0M880.7 1795.8h0M905.3 1761.3h0M914.3 1747.6h0M900.8 1741.5h0M885.9 1766.8h0M893.9 1750.3h0M877.0 1783.9h0M862.1 1759.9h0M898.0 1754.5h0M921.2 1723.5h0M917.7 1745.9h0M875.3 1765.4h0M910.0 1728.4h0M898.9 1743.7h0M897.1 1762.2h0M912.5 1737.7h0M904.1 1757.1h0M882.9 1782.5h0M896.4 1752.9h0M888.4 1771.8h0M889.0 1779.8h0M900.9 1768.3h0M891.2 1764.0h0M898.1 1775.2h0M908.6 1740.7h0M920.2 1740.7h0M902.7 1749.0h0M889.2 1766.9h0M863.3 1776.8h0M907.0 1747.8h0M915.8 1744.3h0M881.2 1777.0h0M880.6 1765.9h0M879.7 1791.0h0M913.3 1739.4h0M925.4 1746.3h0M911.8 1757.1h0M905.8 1756.2h0M903.8 1762.8h0M885.2 1758.6h0M906.0 1755.9h0M919.9 1737.9h0M913.7 1724.6h0M919.6 1740.3h0M898.5 1759.2h0M886.2 1769.1h0M899.5 1775.6h0M911.3 1750.2h0M874.3 1783.0h0M886.8 1773.7h0M866.6 1790.1h0M908.4 1758.3h0M900.6 1752.1h0M873.3 1774.6h0M898.9 1751.9h0M909.0 1744.6h0M870.9 1772.0h0M902.7 1730.1h0M921.6 1731.7h0M882.0 1771.5h0M889.3 1783.0h0M898.1 1775.2h0M900.1 1750.2h0M884.9 1793.8h0M903.1 1784.8h0M889.3 1768.9h0M928.6 1731.3h0M918.2 1757.3h0M887.4 1767.6h0M885.2 1792.4h0M924.0 1736.9h0M871.6 1790.2h0M906.1 1738.7h0M881.9 1779.6h0M899.3 1750.6h0M869.6 1790.7h0M877.6 1789.0h0M897.6 1748.3h0M899.3 1768.1h0M879.9 1760.7h0M869.5 1780.4h0M917.1 1730.2h0M902.9 1765.3h0M880.1 1788.8h0M906.2 1752.0h0M886.4 1769.7h0M914.1 1732.9h0M884.0 1769.9h0M923.8 1729.7h0M887.2 1777.5h0M909.8 1748.6h0M904.9 1749.7h0M910.4 1754.8h0M920.5 1733.6h0M895.6 1748.4h0M904.1 1751.6h0M882.5 1791.7h0M878.9 1796.3h0M884.9 1789.7h0M865.0 1787.1h0M892.5 1772.1h0M863.0 1784.3h0M890.6 1788.0h0M897.2 1761.2h0M909.6 1745.0h0M910.9 1738.9h0M903.8 1765.1h0M874.3 1763.2h0M907.7 1760.1h0M903.4 1749.4h0M912.0 1728.9h0M887.7 1743.7h0M893.2 1768.9h0M881.8 1771.8h0M873.4 1791.7h0M887.0 1764.2h0M865.1 1782.2h0M898.5 1744.2h0M924.3 1733.2h0M905.6 1738.6h0M927.6 1728.8h0M882.0 1786.4h0M871.6 1762.9h0M898.0 1738.2h0M934.5 1736.5h0M876.3 1767.2h0M889.2 1760.0h0M915.5 1741.3h0M896.4 1756.0h0M911.4 1741.2h0M883.3 1774.5h0M891.1 1768.7h0M907.8 1747.9h0M903.7 1761.1h0M900.1 1755.7h0M913.8 1740.5h0M877.2 1754.0h0M881.7 1793.0h0M925.1 1729.7h0M894.0 1764.9h0M910.7 1749.3h0M901.3 1752.5h0M874.7 1780.1h0M891.3 1767.7h0M911.6 1755.7h0M927.6 1732.8h0M891.7 1773.2h0M911.2 1764.2h0M875.5 1779.0h0M907.9 1749.6h0M902.2 1777.0h0M879.5 1778.0h0M868.0 1794.4h0M872.5 1782.2h0M905.0 1756.9h0M887.1 1754.1h0M920.9 1726.6h0M878.4 1778.9h0M887.2 1775.2h0M910.4 1726.6h0M892.2 1756.4h0M891.8 1763.6h0M898.6 1757.1h0M895.7 1765.8h0M873.2 1787.6h0M880.3 1786.9h0M922.0 1733.9h0M877.3 1759.2h0M916.0 1737.5h0M868.9 1784.9h0M866.9 1790.0h0M921.5 1732.6h0M880.0 1781.7h0M898.3 1759.1h0M917.1 1730.7h0M903.2 1781.1h0M906.9 1747.7h0M891.3 1743.6h0M923.1 1730.5h0M921.8 1727.5h0M890.1 1787.5h0M910.0 1742.2h0M923.9 1723.3h0M894.7 1748.0h0M919.6 1736.6h0M921.3 1734.8h0M894.7 1772.9h0M877.0 1795.1h0M902.1 1761.0h0M913.6 1738.3h0M891.3 1759.9h0M881.5 1758.5h0M897.3 1767.0h0M924.2 1747.3h0M910.4 1753.2h0M929.5 1735.3h0M921.7 1720.3h0M904.5 1740.4h0M886.8 1777.9h0M928.3 1733.6h0M910.2 1743.8h0M915.2 1739.3h0M882.1 1756.5h0M867.8 1788.4h0M902.2 1767.5h0M923.0 1732.2h0M877.6 1761.4h0M927.5 1737.8h0M916.9 1732.7h0M870.4 1777.7h0M878.0 1790.5h0M892.0 1778.0h0M895.3 1776.1h0M896.4 1761.4h0M901.7 1743.4h0M893.0 1743.6h0M878.4 1784.1h0M888.2 1763.2h0M885.8 1771.8h0M897.6 1755.2h0M910.0 1735.3h0M875.5 1777.7h0M903.3 1748.4h0M901.4 1758.9h0M877.2 1775.0h0M884.3 1789.8h0M914.8 1738.7h0M917.9 1738.3h0M903.4 1778.2h0M900.8 1747.2h0M874.1 1781.4h0M897.9 1748.5h0M922.7 1735.1h0M870.9 1770.8h0M895.8 1761.8h0M889.2 1770.1h0M902.2 1739.9h0M865.3 1772.8h0M899.9 1749.6h0M897.9 1752.8h0M903.6 1744.6h0M892.8 1767.0h0M881.7 1788.3h0M920.2 1733.4h0M916.4 1740.0h0M866.8 1790.5h0M881.8 1785.3h0M898.8 1757.6h0M889.6 1796.4h0M923.4 1732.3h0M920.8 1736.3h0M915.7 1759.9h0M918.0 1728.3h0M925.5 1744.8h0M909.1 1747.2h0M880.0 1754.3h0M908.3 1757.1h0M912.8 1736.6h0M918.7 1733.1h0M909.2 1745.1h0M915.7 1720.4h0M868.2 1787.9h0M872.0 1775.0h0M907.6 1750.4h0M881.8 1759.8h0M920.3 1752.1h0M893.6 1760.1h0M889.6 1756.9h0M917.0 1736.7h0M908.8 1747.2h0M914.9 1737.6h0M870.2 1779.7h0M880.9 1784.5h0M917.5 1739.3h0M896.7 1736.6h0M893.4 1756.1h0M918.5 1725.4h0M870.4 1791.6h0M913.4 1747.9h0M902.4 1749.1h0M908.1 1728.0h0M874.3 1790.5h0M916.0 1738.5h0M887.9 1753.1h0M922.8 1730.5h0M886.7 1771.5h0M867.1 1780.4h0M887.1 1753.7h0M882.4 1754.2h0M910.6 1745.0h0M889.9 1778.0h0M923.9 1741.7h0M887.3 1768.8h0M915.4 1723.6h0M904.7 1744.9h0M897.4 1743.8h0M917.0 1738.4h0M890.1 1780.1h0M903.5 1770.0h0M914.7 1732.8h0M897.8 1768.2h0M882.5 1744.8h0M903.6 1754.7h0M902.7 1741.2h0M894.1 1748.3h0M910.2 1755.5h0M877.1 1769.8h0M918.6 1749.5h0M902.3 1747.2h0M915.1 1741.3h0M908.4 1744.5h0M901.9 1755.1h0M897.3 1752.5h0M892.5 1742.1h0M893.1 1751.0h0M907.2 1745.2h0M890.9 1779.6h0M920.1 1741.6h0M900.1 1746.1h0M870.9 1767.5h0M909.8 1763.0h0M894.6 1751.5h0M919.1 1735.4h0M914.6 1733.5h0M907.2 1733.3h0M885.6 1754.0h0M914.6 1728.6h0M907.5 1743.8h0M902.2 1750.5h0M880.2 1775.9h0M873.4 1763.9h0M896.6 1747.4h0M887.5 1755.1h0M874.7 1783.8h0M930.3 1740.1h0M891.3 1777.4h0M897.1 1766.1h0M893.6 1749.6h0M901.0 1755.9h0M908.7 1749.8h0M908.3 1748.9h0M892.2 1760.4h0M924.4 1724.6h0M899.4 1762.1h0M878.6 1772.1h0M903.2 1770.0h0M890.7 1758.3h0M929.4 1733.0h0M866.5 1782.9h0M916.1 1719.9h0M880.4 1783.2h0M895.9 1768.7h0M885.1 1761.2h0M882.0 1763.1h0M872.2 1771.4h0M898.6 1755.4h0M884.2 1779.3h0M884.2 1763.3h0M883.0 1781.3h0M897.9 1752.9h0M902.1 1762.7h0M911.5 1755.3h0M868.4 1774.1h0M896.2 1772.1h0M923.0 1737.3h0M908.6 1750.8h0M914.1 1738.7h0M907.0 1741.9h0M918.8 1743.4h0M882.8 1775.6h0M900.1 1751.4h0M885.5 1760.1h0M907.8 1741.1h0M884.4 1774.8h0M885.2 1753.0h0M925.6 1725.2h0M907.0 1762.7h0M896.5 1769.1h0M873.5 1794.0h0M907.7 1744.9h0M922.0 1733.5h0M892.4 1745.0h0M891.5 1778.2h0M904.5 1743.2h0M902.5 1753.9h0M889.8 1764.2h0M909.8 1740.2h0M909.7 1746.3h0M895.9 1748.8h0M905.6 1760.6h0M903.2 1731.0h0M908.4 1736.7h0M894.5 1778.2h0M866.0 1781.3h0M908.3 1741.9h0M897.3 1762.0h0M911.9 1729.3h0M899.8 1768.7h0M899.3 1748.5h0M882.2 1767.2h0M872.8 1785.1h0M919.8 1751.5h0M891.3 1764.0h0M883.3 1772.4h0M921.9 1732.7h0M914.6 1734.7h0M905.2 1741.5h0M876.8 1765.2h0M920.4 1731.6h0M903.6 1759.2h0M920.0 1740.3h0M899.4 1770.5h0M897.1 1760.3h0M895.2 1755.6h0M900.6 1772.9h0M905.8 1744.4h0M916.9 1742.7h0M931.5 1734.5h0M917.6 1739.0h0M909.3 1742.6h0M909.7 1753.0h0M905.8 1759.4h0M874.8 1794.8h0M921.4 1754.4h0M875.2 1771.3h0M906.1 1754.4h0M916.1 1743.8h0M919.6 1727.8h0M906.0 1738.1h0M890.6 1775.4h0M872.9 1773.7h0M879.4 1788.8h0M918.7 1758.2h0M920.6 1728.7h0M902.4 1740.8h0M893.8 1777.0h0M898.7 1755.3h0M887.9 1759.8h0M901.3 1737.3h0M886.0 1768.0h0M871.1 1789.5h0M890.9 1749.5h0M873.1 1792.3h0M915.3 1732.9h0M904.3 1749.0h0M868.2 1782.8h0M929.1 1721.9h0M885.1 1763.1h0M895.9 1767.2h0M897.3 1768.4h0M910.0 1734.3h0M904.8 1743.2h0M934.4 1730.7h0M905.3 1745.4h0M919.6 1747.0h0M914.0 1725.8h0M900.5 1736.8h0M904.9 1759.8h0M917.5 1741.0h0M925.6 1745.0h0M888.5 1757.5h0M903.5 1749.8h0M900.8 1781.4h0M902.9 1745.6h0M922.7 1731.8h0M922.4 1741.0h0M897.5 1771.7h0M890.1 1779.6h0M895.6 1746.4h0M869.5 1776.2h0M889.8 1770.2h0M921.7 1735.9h0M886.2 1755.7h0M926.2 1742.3h0M921.7 1749.2h0M875.8 1782.0h0M865.5 1789.6h0M925.7 1732.0h0M899.9 1764.2h0M883.9 1776.1h0M924.3 1730.4h0M891.9 1761.6h0M917.7 1747.0h0M877.5 1777.8h0M902.4 1768.9h0M898.5 1765.5h0M869.9 1775.6h0M902.4 1735.8h0M896.0 1777.7h0M902.3 1730.4h0M901.2 1765.1h0M923.0 1724.2h0M890.6 1745.9h0M924.1 1734.3h0M898.7 1752.3h0M926.4 1739.6h0M907.5 1754.8h0M895.1 1770.9h0M890.0 1763.2h0M882.8 1790.3h0M879.1 1768.7h0M906.2 1756.9h0M907.1 1728.9h0M908.5 1733.2h0M908.2 1742.9h0M894.7 1767.4h0M870.3 1791.5h0M903.8 1755.2h0M873.1 1771.5h0M916.7 1732.1h0M873.8 1791.8h0M880.5 1776.2h0M916.2 1729.6h0M919.1 1738.5h0M904.0 1746.2h0M891.3 1749.5h0M914.2 1759.3h0M920.1 1736.0h0M917.2 1737.7h0M915.7 1735.0h0M915.8 1742.5h0M928.8 1729.1h0M883.8 1776.7h0M893.9 1754.3h0M878.4 1776.5h0M882.8 1776.2h0M901.8 1764.9h0M876.2 1762.1h0M894.2 1759.0h0M893.9 1775.9h0M881.4 1780.3h0M906.7 1742.0h0M890.9 1764.0h0M905.5 1753.1h0M908.5 1743.1h0M882.2 1779.9h0M916.0 1734.5h0M886.3 1765.3h0M921.5 1742.1h0M916.8 1749.2h0M910.7 1755.8h0M907.8 1749.8h0M915.7 1740.9h0M920.0 1733.3h0M922.6 1737.3h0M887.1 1774.4h0M874.4 1793.7h0M907.4 1733.7h0M893.3 1744.6h0M899.4 1749.5h0M907.9 1737.6h0M917.7 1719.7h0M877.2 1771.2h0M901.7 1789.8h0M903.0 1749.6h0M913.4 1746.2h0M897.8 1752.6h0M877.4 1788.8h0M906.2 1752.7h0M877.1 1775.5h0M876.7 1764.2h0M881.4 1784.1h0M907.2 1754.8h0M912.3 1766.6h0M912.4 1751.9h0M886.4 1770.4h0M904.3 1745.1h0M890.1 1782.0h0M916.8 1737.5h0M907.6 1741.2h0M898.9 1764.1h0M917.0 1740.7h0M892.5 1770.7h0M892.1 1760.9h0M907.1 1755.7h0M894.4 1774.3h0M887.4 1765.5h0M879.7 1771.9h0M891.4 1765.8h0M914.8 1735.9h0M921.5 1742.1h0M873.2 1796.8h0M871.6 1783.5h0M912.2 1756.9h0M890.2 1775.4h0M922.6 1728.1h0M875.3 1789.1h0M930.1 1731.0h0M919.4 1754.9h0M885.2 1758.4h0M898.8 1753.7h0M915.3 1749.9h0M905.1 1739.8h0M921.8 1735.9h0M916.1 1788.6h0M881.1 1794.1h0M921.6 1724.0h0M874.3 1792.3h0M895.3 1759.0h0M926.6 1730.1h0M914.7 1744.5h0M900.0 1748.3h0M880.5 1783.7h0M908.3 1750.3h0M917.2 1742.1h0M901.4 1753.3h0M878.9 1781.3h0M907.8 1736.6h0M874.1 1778.6h0M880.0 1754.2h0M880.1 1779.0h0M877.8 1779.2h0M917.2 1740.0h0M894.4 1743.4h0M895.9 1745.4h0M888.3 1778.3h0M893.4 1771.8h0M862.9 1776.9h0M884.0 1757.8h0M908.4 1737.9h0M874.2 1777.1h0M922.5 1745.4h0M881.7 1791.4h0M894.8 1767.9h0M891.2 1787.3h0M877.1 1797.2h0M884.5 1752.4h0M930.3 1738.1h0M893.7 1756.3h0M887.8 1773.7h0M903.2 1751.4h0M890.2 1792.4h0M893.0 1757.7h0M931.3 1734.9h0M872.5 1784.3h0M890.1 1761.7h0M913.9 1747.0h0M880.4 1765.7h0M877.6 1784.6h0M909.9 1749.2h0M901.9 1749.8h0M885.4 1771.1h0M887.8 1781.3h0M906.9 1739.0h0M885.6 1761.9h0M904.8 1760.4h0M869.1 1775.8h0M921.4 1743.3h0M898.6 1751.8h0M875.3 1780.9h0M907.2 1744.7h0M880.8 1786.7h0M894.3 1743.6h0M905.8 1771.9h0M884.8 1760.8h0M919.4 1737.9h0M892.2 1758.0h0M900.3 1745.1h0M913.3 1751.6h0M901.8 1749.5h0M892.5 1792.0h0M904.4 1752.6h0M885.8 1775.5h0M918.6 1721.2h0M917.0 1737.6h0M916.4 1719.7h0M917.5 1734.2h0M920.3 1740.1h0M919.1 1757.7h0M911.3 1758.0h0M897.0 1765.3h0M911.0 1730.2h0M886.9 1776.2h0M875.9 1755.7h0M892.0 1768.1h0M924.0 1728.3h0M896.5 1764.0h0M903.7 1751.5h0M908.9 1732.0h0M899.1 1753.7h0M931.5 1730.8h0M874.2 1792.9h0M881.1 1782.9h0M912.3 1742.7h0M896.8 1757.8h0M869.8 1782.2h0M900.0 1762.4h0M879.3 1763.8h0M884.8 1762.3h0M931.6 1737.7h0M904.3 1759.1h0M910.2 1750.6h0M906.9 1741.6h0M915.4 1723.8h0M911.0 1743.5h0M898.0 1769.6h0M898.6 1760.7h0M878.2 1794.9h0M878.1 1765.2h0M891.3 1769.3h0M916.1 1736.9h0M865.8 1783.6h0M919.2 1740.7h0M901.8 1745.7h0M900.7 1736.3h0M871.2 1771.6h0M867.9 1789.7h0M924.0 1740.4h0M898.9 1745.0h0M904.1 1741.2h0M896.9 1747.0h0M909.0 1753.4h0M909.6 1743.9h0M884.1 1787.0h0M864.1 1775.9h0M896.6 1766.2h0M899.1 1756.0h0M905.9 1752.8h0M875.8 1777.2h0M891.6 1768.4h0M896.8 1768.4h0M916.2 1738.4h0M930.7 1744.6h0M910.6 1744.8h0M885.0 1773.9h0M876.0 1791.6h0M877.1 1779.6h0M902.3 1747.4h0M920.3 1730.1h0M909.3 1732.3h0M917.1 1739.8h0M877.6 1791.2h0M887.9 1752.9h0M896.7 1750.8h0M926.9 1728.4h0M920.1 1738.2h0M903.6 1752.4h0M866.9 1791.1h0M896.5 1774.6h0M880.7 1774.7h0M901.8 1741.1h0M883.7 1768.2h0M865.2 1780.9h0M893.2 1770.6h0M874.7 1795.5h0M896.3 1759.4h0M885.7 1759.5h0M913.5 1751.1h0M906.5 1743.6h0M914.4 1735.5h0M899.6 1730.7h0M884.0 1750.1h0M917.7 1735.1h0M887.0 1766.9h0M890.3 1761.4h0M904.7 1752.1h0M885.8 1774.4h0M891.1 1773.1h0M908.1 1744.1h0M902.9 1750.5h0M908.4 1743.2h0M914.4 1742.2h0M905.8 1779.7h0M914.9 1740.6h0M917.3 1737.4h0M917.1 1742.2h0M922.4 1734.1h0M919.0 1737.6h0M913.0 1744.2h0M877.9 1766.5h0M905.1 1745.0h0M870.2 1774.3h0M878.0 1779.4h0M896.7 1747.8h0M924.2 1740.5h0M880.0 1786.2h0M923.6 1731.3h0M881.4 1795.7h0M892.8 1756.1h0M907.5 1752.6h0M912.6 1741.3h0M917.1 1759.6h0M917.7 1734.1h0M870.3 1776.1h0M923.2 1741.8h0M871.5 1788.4h0M890.7 1768.7h0M912.1 1742.1h0M899.3 1743.8h0M900.1 1745.4h0M897.6 1740.0h0M919.7 1733.3h0M889.7 1747.6h0M920.3 1732.0h0M921.3 1738.9h0M902.3 1744.9h0M895.6 1750.9h0M885.2 1759.7h0M912.9 1719.1h0M930.9 1735.1h0M867.3 1775.5h0M862.8 1780.7h0M884.0 1762.3h0M885.4 1772.7h0M895.7 1741.4h0M912.9 1739.8h0M900.9 1752.5h0M925.6 1733.5h0M919.5 1725.5h0M875.6 1792.7h0M902.0 1757.6h0M929.8 1734.1h0M866.0 1783.2h0M884.4 1787.3h0M996.6 1589.9h0M1046.2 1689.1h0M922.4 1722.0h0M949.4 1695.0h0M1003.1 1651.4h0M937.4 1742.7h0M956.9 1692.9h0M941.5 1726.7h0M993.2 1709.7h0M966.7 1716.2h0M984.6 1709.9h0M954.1 1719.0h0M914.7 1705.1h0M1040.7 1644.4h0M969.8 1673.7h0M1016.9 1624.4h0M1004.4 1644.7h0M966.0 1737.0h0M972.1 1672.4h0M967.3 1718.4h0M981.9 1668.7h0M939.6 1721.3h0M993.4 1626.4h0M998.9 1659.9h0M956.9 1707.3h0M1015.3 1656.0h0M985.1 1630.7h0M956.3 1706.8h0M1009.7 1607.5h0M946.7 1672.4h0M981.9 1661.0h0M989.7 1628.9h0M956.2 1702.9h0M968.5 1661.7h0M919.2 1694.8h0M943.5 1743.3h0M927.6 1693.3h0M992.1 1647.4h0M993.7 1649.0h0M925.0 1698.3h0M981.8 1668.5h0M979.5 1674.3h0M1006.2 1598.3h0M994.6 1663.8h0M894.2 1693.5h0M982.2 1645.0h0M971.8 1712.6h0M1012.0 1613.1h0M1001.5 1621.3h0M973.7 1663.6h0M962.7 1698.9h0M1023.1 1611.6h0M945.0 1677.3h0M964.2 1702.2h0M1012.3 1684.3h0M945.0 1728.4h0M1029.9 1643.7h0M986.5 1628.0h0M941.0 1706.7h0M1001.1 1643.4h0M1010.6 1643.4h0M948.1 1734.6h0M993.5 1652.9h0M985.0 1656.7h0M1028.5 1641.1h0M978.3 1724.4h0M945.4 1748.2h0M956.1 1720.2h0M1010.0 1627.2h0M1012.3 1638.9h0M960.4 1694.8h0M957.8 1697.9h0M957.1 1662.4h0M934.5 1723.4h0M935.8 1741.8h0M992.1 1639.5h0M1001.5 1611.1h0M937.2 1695.5h0M911.4 1672.3h0M1023.3 1615.8h0M942.8 1698.7h0M955.2 1682.9h0M967.0 1711.5h0M973.4 1677.8h0M937.6 1725.3h0M1007.3 1631.2h0M950.8 1704.7h0M965.9 1694.6h0M1017.6 1613.5h0M1011.3 1653.7h0M950.9 1706.9h0M982.1 1600.6h0M934.1 1731.9h0M986.5 1618.4h0M1000.2 1679.0h0M997.5 1675.8h0M976.8 1676.4h0M956.8 1680.8h0M1021.4 1688.0h0M994.7 1606.3h0M939.5 1688.7h0M980.5 1685.6h0M914.7 1704.5h0M986.0 1709.4h0M1028.4 1640.8h0M1011.3 1615.9h0M1043.4 1634.3h0M1025.5 1621.7h0M953.2 1691.6h0M1022.5 1634.5h0M970.1 1652.8h0M1009.5 1618.5h0M966.4 1659.4h0M956.3 1689.1h0M1017.4 1610.4h0M923.4 1710.7h0M1005.4 1670.8h0M951.4 1711.5h0M967.9 1688.1h0M979.7 1689.8h0M937.9 1718.2h0M956.0 1739.9h0M1006.1 1626.3h0M1010.3 1646.4h0M964.3 1688.0h0M944.6 1712.0h0M1009.6 1609.8h0M987.3 1663.9h0M949.3 1736.0h0M1011.2 1678.2h0M965.4 1701.7h0M964.1 1672.5h0M1013.0 1646.5h0M1019.4 1609.6h0M945.9 1706.4h0M998.7 1681.2h0M960.5 1648.6h0M956.1 1707.3h0M959.0 1670.0h0M928.7 1679.8h0M952.8 1681.5h0M980.6 1674.3h0M1025.5 1624.8h0M1041.1 1651.2h0M972.7 1671.6h0M987.6 1673.0h0M1006.2 1626.7h0M1018.0 1641.7h0M922.5 1694.9h0M970.3 1664.7h0M946.9 1689.2h0M988.5 1647.8h0M1015.0 1646.0h0M918.2 1698.1h0M944.9 1692.4h0M1002.9 1612.9h0M975.8 1685.3h0M932.5 1728.5h0M979.9 1668.0h0M1022.9 1629.1h0M920.0 1712.7h0M1014.0 1669.5h0M961.4 1719.7h0M1007.8 1633.0h0M950.7 1664.8h0M907.0 1701.3h0M957.2 1639.2h0M970.5 1644.9h0M962.9 1711.8h0M954.8 1724.9h0M969.6 1698.8h0M944.9 1706.5h0M968.0 1627.5h0M959.0 1693.5h0M970.0 1610.2h0M1041.3 1644.8h0M936.0 1700.2h0M984.6 1687.3h0M984.4 1660.7h0M986.4 1650.0h0M1002.7 1627.9h0M957.0 1708.0h0M994.8 1667.4h0M962.7 1702.9h0M996.3 1651.1h0M925.5 1699.9h0M1001.1 1729.0h0M988.9 1693.7h0M1012.8 1634.6h0M950.5 1725.4h0M959.7 1681.0h0M944.7 1680.5h0M936.0 1714.5h0M965.0 1732.4h0M1032.4 1620.2h0M919.5 1725.8h0M1028.9 1653.3h0M982.7 1678.4h0M966.4 1682.2h0M1002.3 1643.5h0M1022.6 1643.6h0M1015.1 1636.4h0M959.8 1722.9h0M1046.0 1633.9h0M1030.4 1619.0h0M932.9 1737.3h0M923.0 1704.0h0M1031.7 1671.2h0M931.9 1699.1h0M951.5 1723.2h0M935.4 1729.4h0M939.3 1737.6h0M1040.5 1631.9h0M968.3 1679.4h0M989.5 1673.9h0M1010.0 1614.0h0M1022.1 1617.7h0M1040.8 1636.3h0M971.8 1711.1h0M994.5 1653.2h0M921.2 1707.2h0M958.0 1719.3h0M1013.5 1606.3h0M1016.1 1650.8h0M952.1 1690.0h0M986.8 1622.8h0M949.9 1686.7h0M985.9 1693.7h0M955.5 1658.4h0M932.0 1707.4h0M958.2 1717.9h0M957.7 1718.8h0M1025.8 1627.1h0M1018.2 1655.3h0M962.9 1707.1h0M1003.1 1654.2h0M968.7 1698.2h0M954.7 1694.6h0M971.7 1669.4h0M945.3 1729.1h0M978.0 1673.2h0M1015.8 1605.6h0M982.5 1652.1h0M963.5 1708.7h0M920.4 1706.5h0M1010.8 1641.9h0M960.4 1749.3h0M968.1 1695.2h0M1008.0 1654.7h0M937.1 1704.8h0M1001.8 1636.4h0M939.6 1745.9h0M978.2 1656.5h0M948.7 1712.9h0M1030.3 1632.4h0M952.2 1689.1h0M953.9 1686.0h0M1035.3 1629.9h0M917.2 1720.5h0M1000.8 1672.5h0M957.8 1691.1h0M928.3 1702.2h0M1025.2 1630.8h0M1040.7 1641.9h0M944.0 1713.4h0M940.1 1670.8h0M1030.3 1634.6h0M1038.6 1629.1h0M989.0 1679.7h0M984.0 1647.9h0M971.0 1670.7h0M980.6 1629.2h0M1008.5 1647.5h0M1025.6 1656.7h0M1009.9 1651.8h0M941.3 1744.6h0M1020.8 1613.3h0M980.6 1654.6h0M937.7 1675.9h0M1006.9 1624.5h0M1019.2 1609.3h0M966.1 1659.4h0M966.8 1739.6h0M1032.1 1623.8h0M1018.2 1641.7h0M962.0 1725.3h0M966.4 1701.8h0M899.1 1703.8h0M1001.7 1636.6h0M922.3 1697.0h0M961.7 1691.2h0M934.9 1704.3h0M979.9 1681.0h0M950.4 1722.4h0M957.9 1717.7h0M968.4 1700.3h0M945.7 1721.5h0M944.4 1735.2h0M976.0 1716.8h0M943.9 1723.7h0M986.6 1689.6h0M1040.8 1632.4h0M1005.7 1656.9h0M947.0 1717.2h0M1035.6 1646.7h0M1016.0 1652.6h0M1000.6 1623.6h0M967.9 1697.0h0M974.0 1637.2h0M973.0 1683.2h0M1005.0 1626.0h0M963.6 1677.5h0M953.1 1708.5h0M965.3 1683.6h0M965.6 1677.7h0M991.7 1650.3h0M937.6 1715.0h0M943.9 1734.2h0M1054.1 1639.8h0M1006.8 1662.0h0M1009.0 1610.9h0M963.3 1671.9h0M978.9 1664.5h0M993.1 1670.6h0M1034.8 1665.8h0M984.5 1657.9h0M940.0 1701.8h0M1012.1 1629.2h0M996.2 1636.4h0M1025.5 1635.9h0M987.1 1697.3h0M978.0 1691.5h0M943.1 1723.9h0M938.8 1703.5h0M980.5 1670.6h0M983.5 1690.7h0M1011.0 1612.7h0M1004.7 1628.2h0M1024.2 1626.3h0M1007.7 1636.8h0M1001.3 1637.0h0M974.5 1636.4h0M967.1 1727.8h0M941.3 1695.3h0M984.4 1673.4h0M999.0 1667.4h0M957.4 1732.8h0M990.4 1661.3h0M1030.3 1636.5h0M939.9 1720.2h0M1022.9 1627.8h0M967.8 1670.7h0M986.7 1641.7h0M971.9 1659.7h0M954.2 1714.4h0M981.1 1675.6h0M948.2 1723.2h0M920.1 1724.2h0M982.1 1646.5h0M954.3 1663.1h0M1007.6 1612.6h0M982.2 1614.1h0M946.4 1692.9h0M994.7 1662.0h0M954.4 1675.8h0M946.8 1714.6h0M985.0 1661.7h0M927.7 1706.2h0M978.2 1649.5h0M1000.6 1624.7h0M1024.6 1623.6h0M1006.3 1606.2h0M975.7 1658.3h0M958.1 1693.8h0M962.4 1688.9h0M954.5 1720.7h0M923.9 1708.1h0M1004.4 1633.9h0M1025.4 1671.7h0M925.4 1708.1h0M998.5 1659.9h0M937.7 1714.0h0M940.8 1742.8h0M1043.9 1656.0h0M946.3 1721.5h0M1015.5 1631.3h0M948.5 1684.3h0M964.3 1678.3h0M995.7 1662.2h0M967.5 1681.7h0M1003.7 1652.8h0M937.8 1683.0h0M930.5 1731.4h0M1034.2 1643.1h0M976.7 1653.8h0M996.4 1637.8h0M1008.6 1601.7h0M983.6 1673.1h0M956.0 1706.7h0M966.5 1680.6h0M1010.4 1613.4h0M941.8 1702.8h0M964.0 1688.6h0M971.2 1641.5h0M1017.3 1614.5h0M997.6 1667.0h0M1015.4 1617.1h0M988.0 1612.4h0M921.9 1724.0h0M989.2 1645.8h0M1010.0 1643.0h0M956.6 1681.5h0M951.1 1723.0h0M966.5 1650.3h0M981.4 1667.1h0M930.7 1698.1h0M1026.7 1622.9h0M969.6 1652.6h0M947.5 1708.6h0M998.6 1658.8h0M1009.3 1636.7h0M978.6 1689.8h0M955.5 1699.6h0M943.2 1692.9h0M980.0 1697.2h0M922.6 1704.0h0M957.6 1733.2h0M999.3 1661.6h0M938.0 1708.2h0M954.5 1749.9h0M1010.0 1655.2h0M942.7 1679.6h0M1016.3 1659.5h0M982.7 1652.4h0M1018.2 1691.7h0M980.1 1640.6h0M986.5 1685.3h0M979.6 1692.7h0M986.9 1643.9h0M947.2 1709.9h0M984.1 1626.0h0M936.5 1700.9h0M977.6 1685.8h0M967.0 1696.6h0M959.7 1705.8h0M977.1 1670.8h0M939.6 1725.9h0M1010.6 1628.5h0M954.8 1692.0h0M995.0 1663.4h0M925.6 1716.6h0M940.9 1687.2h0M991.8 1655.3h0M1015.9 1621.2h0M1024.8 1638.2h0M934.4 1666.0h0M913.9 1692.7h0M1007.7 1664.2h0M937.1 1719.8h0M950.9 1656.5h0M1001.9 1665.3h0M998.0 1630.9h0M990.1 1670.9h0M917.5 1692.2h0M935.4 1700.8h0M950.5 1691.8h0M884.9 1692.5h0M983.2 1699.5h0M936.3 1695.8h0M940.4 1741.2h0M931.6 1701.1h0M995.9 1649.3h0M964.4 1742.0h0M1014.0 1654.8h0M985.9 1650.8h0M936.2 1710.2h0M966.2 1674.9h0M964.9 1661.5h0M942.6 1731.7h0M963.1 1684.1h0M1020.3 1649.2h0M968.5 1675.8h0M1006.5 1628.1h0M948.6 1707.5h0M965.2 1697.3h0M1018.4 1627.9h0M1017.1 1639.7h0M952.5 1682.6h0M1035.4 1634.8h0M967.6 1694.1h0M987.0 1630.0h0M989.3 1583.6h0M1003.1 1675.6h0M938.8 1700.2h0M975.2 1669.9h0M1035.7 1665.0h0M925.7 1710.2h0M991.2 1628.1h0M935.6 1710.3h0M966.9 1679.6h0M955.3 1682.5h0M989.0 1682.0h0M932.3 1714.7h0M997.5 1649.6h0M928.3 1727.2h0M1006.8 1641.0h0M1023.0 1621.7h0M959.9 1664.9h0M1014.3 1654.1h0M980.9 1681.5h0M932.4 1701.3h0M943.1 1719.1h0M980.8 1657.7h0M983.6 1672.3h0M939.2 1696.4h0M995.5 1643.9h0M998.9 1673.4h0M1004.5 1643.8h0M963.8 1696.1h0M997.1 1600.1h0M1053.4 1601.8h0M1027.4 1646.9h0M1009.6 1623.6h0M1057.8 1554.2h0M1041.8 1557.0h0M1022.7 1573.4h0M1015.6 1656.5h0M1031.5 1541.9h0M1029.1 1538.5h0M1018.5 1624.6h0M996.7 1601.3h0M1011.1 1643.7h0M1056.1 1602.5h0M1003.9 1592.4h0M1013.3 1576.2h0M1008.3 1575.8h0M1054.9 1621.1h0M1002.7 1583.1h0M1036.3 1541.4h0M1059.3 1597.1h0M1028.7 1553.8h0M1036.5 1642.3h0M1018.0 1643.0h0M1045.6 1554.8h0M1020.2 1656.0h0M1046.9 1558.4h0M1000.7 1563.4h0M986.2 1639.1h0M1043.6 1534.3h0M1054.8 1597.9h0M1022.5 1605.0h0M1031.3 1557.0h0M1027.3 1627.0h0M1006.2 1642.6h0M1050.3 1591.9h0M1016.4 1611.1h0M1002.8 1621.4h0M1005.2 1590.5h0M1021.6 1596.0h0M1061.4 1611.8h0M1039.6 1590.5h0M1072.2 1579.2h0M1070.6 1610.4h0M1000.0 1630.8h0M1019.1 1628.7h0M1072.0 1544.3h0M1001.8 1640.8h0M1034.6 1648.6h0M1072.0 1614.8h0M1011.7 1651.0h0M1028.2 1583.9h0M1030.6 1549.4h0M1069.5 1542.7h0M1023.5 1612.3h0M1042.5 1604.3h0M1025.0 1625.5h0M995.7 1644.7h0M1042.2 1537.3h0M1001.1 1646.9h0M1014.6 1609.4h0M1000.2 1565.3h0M1020.7 1599.5h0M1029.4 1626.8h0M1069.2 1589.5h0M1033.6 1542.6h0M1044.7 1547.1h0M992.8 1618.6h0M1001.8 1590.4h0M1001.5 1606.7h0M1020.2 1616.2h0M1049.3 1592.9h0M1057.7 1611.6h0M1061.5 1547.6h0M1034.2 1542.7h0M1065.4 1608.0h0M1035.7 1619.0h0M1069.1 1602.8h0M1032.1 1628.5h0M1051.4 1587.3h0M1008.1 1640.2h0M1050.6 1602.6h0M1058.6 1601.8h0M1034.5 1562.9h0M992.2 1594.6h0M1014.1 1611.0h0M989.7 1622.0h0M1016.2 1623.1h0M1001.7 1620.9h0M1029.8 1572.2h0M1054.0 1625.8h0M987.1 1648.7h0M1039.6 1580.6h0M1044.5 1598.7h0M1024.6 1596.8h0M1007.2 1592.8h0M1021.3 1577.1h0M991.3 1620.0h0M994.1 1590.7h0M1057.2 1593.6h0M1050.6 1525.7h0M1058.3 1625.1h0M1012.6 1585.5h0M1053.3 1528.2h0M1062.6 1554.7h0M1039.8 1563.9h0M1064.9 1552.1h0M997.9 1628.3h0M1009.7 1564.4h0M1064.9 1527.0h0M1036.2 1579.2h0M1001.7 1641.6h0M1063.9 1589.0h0M1025.6 1633.0h0M1069.8 1567.2h0M1064.2 1606.5h0M1027.5 1590.4h0M990.3 1655.7h0M1038.4 1610.8h0M1062.1 1557.1h0M1045.5 1582.0h0M1004.6 1581.1h0M1045.2 1624.2h0M1026.0 1649.1h0M1045.9 1600.9h0M1002.3 1564.1h0M1057.9 1629.4h0M982.2 1580.8h0M1058.3 1577.9h0M1019.4 1652.6h0M1072.1 1527.2h0M1049.6 1579.5h0M1075.7 1607.1h0M1022.5 1656.8h0M972.6 1617.8h0M982.7 1654.1h0M1029.2 1634.7h0M1004.3 1638.0h0M1038.7 1679.9h0M999.3 1647.9h0M1026.3 1648.6h0M968.3 1676.4h0M996.9 1623.0h0M1019.6 1674.1h0M1015.2 1671.9h0M1050.3 1637.7h0M1042.7 1663.8h0M977.0 1629.6h0M981.4 1624.2h0M1032.9 1623.2h0M1015.7 1642.1h0M968.0 1673.3h0M976.1 1691.9h0M1012.3 1692.0h0M1008.9 1683.9h0M982.0 1628.6h0M1052.1 1643.1h0M1019.4 1682.0h0M1002.8 1620.9h0M971.9 1664.8h0M986.8 1678.2h0M978.7 1634.4h0M995.2 1612.7h0M993.8 1636.6h0M997.5 1631.2h0M970.8 1612.9h0M987.3 1633.8h0M993.9 1695.8h0M1012.8 1686.5h0M1034.2 1678.9h0M969.9 1651.1h0M1016.9 1642.2h0M1028.1 1693.0h0M1044.9 1628.0h0M1202.9 1400.5h0M1159.5 1433.1h0M1170.4 1476.9h0M1117.9 1484.8h0M1132.4 1487.3h0M1112.5 1519.2h0M1070.9 1511.9h0M1070.2 1534.7h0M1081.7 1536.5h0M1089.0 1533.6h0M1098.0 1535.5h0M1107.8 1541.6h0M1060.0 1546.3h0M1056.4 1560.8h0M1060.7 1569.8h0M1081.0 1568.0h0M1067.3 1583.6h0M1073.8 1598.8h0" stroke="#b4b4b4" stroke-width="2.90" stroke-linecap="round" fill="none"/>
<path d="M870.6 1766.7h0M870.2 1772.7h0M873.0 1759.2h0M868.5 1772.4h0M870.4 1754.4h0M868.6 1734.1h0M868.8 1751.1h0M872.8 1773.7h0M869.6 1770.6h0M863.4 1783.6h0M870.2 1727.4h0M871.1 1720.1h0M866.6 1745.8h0M867.9 1761.7h0M865.3 1727.5h0M869.2 1766.3h0M873.2 1783.7h0M874.1 1765.2h0M862.8 1745.8h0M870.1 1717.8h0M873.1 1725.1h0M859.4 1764.0h0M873.3 1735.2h0M876.2 1758.5h0M873.1 1729.6h0M865.4 1787.0h0M875.0 1770.7h0M863.7 1728.1h0M870.0 1728.6h0M878.4 1728.8h0M872.8 1748.6h0M872.1 1770.3h0M863.3 1723.0h0M877.5 1775.7h0M874.0 1747.1h0M876.6 1786.5h0M873.1 1781.1h0M870.0 1724.9h0M871.5 1746.6h0M869.0 1720.9h0M879.3 1728.1h0M870.4 1721.3h0M865.6 1727.0h0M874.3 1729.5h0M864.4 1733.9h0M866.2 1722.3h0M877.4 1774.1h0M866.1 1763.2h0M870.3 1767.2h0M870.6 1725.9h0M875.2 1750.8h0M869.9 1779.2h0M861.6 1765.4h0M868.5 1741.0h0M872.4 1756.7h0M866.6 1737.0h0M872.2 1770.9h0M873.9 1782.6h0M870.9 1734.5h0M878.1 1758.8h0M874.2 1767.0h0M873.8 1742.9h0M873.0 1764.1h0M867.7 1729.0h0M874.4 1763.5h0M865.8 1722.0h0M881.6 1736.4h0M875.3 1782.8h0M874.1 1721.4h0M876.8 1780.2h0M864.8 1740.3h0M865.3 1721.9h0M872.4 1781.1h0M868.9 1724.4h0M870.8 1719.9h0M878.8 1759.9h0M870.9 1751.2h0M867.9 1778.5h0M869.1 1757.2h0M869.0 1785.4h0M876.1 1763.4h0M869.9 1771.3h0M871.6 1747.3h0M866.1 1784.2h0M867.7 1728.1h0M874.0 1772.7h0M875.3 1771.8h0M872.1 1784.4h0M874.2 1757.1h0M873.5 1768.5h0M870.3 1766.5h0M869.4 1752.3h0M871.0 1763.3h0M881.0 1755.1h0M875.2 1770.7h0M869.1 1753.6h0M878.1 1765.3h0M870.2 1781.9h0M873.6 1781.4h0M869.1 1757.6h0M870.9 1730.7h0M866.8 1721.2h0M866.8 1745.7h0M863.3 1781.1h0M869.3 1730.3h0M867.9 1724.1h0M864.5 1783.7h0M871.9 1746.7h0M865.8 1782.2h0M863.1 1773.3h0M871.0 1755.5h0M865.1 1718.9h0M877.9 1779.2h0M874.1 1770.1h0M869.9 1733.3h0M869.5 1765.4h0M872.2 1769.1h0M865.4 1731.5h0M876.8 1780.5h0M867.2 1756.0h0M874.6 1767.3h0M872.4 1749.9h0M875.1 1731.4h0M865.8 1783.2h0M866.5 1736.1h0M871.0 1724.8h0M878.6 1763.9h0M871.0 1784.8h0M867.0 1719.6h0M867.3 1730.7h0M898.9 1633.7h0M926.4 1678.9h0M889.0 1655.4h0M923.9 1645.3h0M915.9 1664.7h0M915.5 1688.7h0M870.7 1723.9h0M889.5 1697.3h0M877.6 1719.3h0M897.6 1610.9h0M893.8 1628.6h0M868.2 1646.0h0M869.1 1714.5h0M889.7 1653.5h0M873.2 1739.0h0M907.1 1703.7h0M890.2 1697.4h0M890.5 1631.2h0M928.1 1669.8h0M913.0 1622.6h0M875.3 1687.1h0M870.0 1637.8h0M895.9 1660.9h0M894.9 1709.4h0M907.6 1614.3h0M873.4 1674.8h0M898.4 1701.2h0M880.8 1690.1h0M876.0 1651.8h0M887.5 1617.8h0M884.1 1731.3h0M880.5 1642.7h0M923.2 1618.4h0M902.0 1658.0h0M891.5 1675.6h0M875.6 1617.8h0M896.0 1685.1h0M875.0 1679.4h0M881.0 1598.7h0M873.1 1706.8h0M873.4 1733.0h0M909.7 1664.6h0M918.3 1708.9h0M909.8 1709.6h0M913.2 1598.0h0M879.9 1650.6h0M871.5 1679.7h0M901.6 1662.6h0M918.0 1710.3h0M921.0 1645.2h0M884.2 1727.8h0M897.8 1620.3h0M925.5 1676.3h0M902.8 1682.6h0M914.5 1679.0h0M905.0 1620.8h0M875.3 1679.7h0M908.5 1720.0h0M918.5 1657.8h0M877.3 1743.7h0M890.9 1691.3h0M920.4 1605.7h0M898.2 1605.4h0M873.3 1691.7h0M885.7 1656.6h0M880.4 1677.5h0M895.8 1622.7h0M882.1 1655.8h0M893.4 1723.2h0M887.5 1657.9h0M876.3 1738.0h0M890.1 1653.7h0M921.9 1666.3h0M932.5 1733.8h0M988.0 1753.6h0M918.7 1787.1h0M984.7 1720.5h0M928.2 1752.7h0M926.7 1746.5h0M971.2 1787.8h0M951.2 1769.2h0M959.1 1710.9h0M970.8 1755.8h0M981.2 1789.6h0M933.3 1776.0h0M964.2 1741.9h0M957.7 1785.2h0M944.3 1730.4h0M933.3 1741.1h0M972.5 1753.2h0M944.3 1780.9h0M986.4 1740.2h0M947.2 1774.2h0M942.4 1755.3h0M924.6 1754.2h0M977.0 1790.0h0M986.9 1784.0h0M973.6 1790.6h0M947.8 1757.5h0M975.4 1783.0h0M963.1 1788.5h0M958.1 1742.8h0M983.6 1690.9h0M975.3 1720.1h0M939.8 1731.0h0M987.5 1724.1h0M935.3 1750.7h0M965.1 1729.7h0M949.1 1730.0h0M928.0 1781.9h0M944.5 1737.2h0M967.9 1750.7h0M982.1 1769.7h0M977.9 1756.4h0M944.4 1786.8h0M896.6 1779.2h0M875.0 1778.3h0M894.2 1785.8h0M970.4 1792.4h0M881.3 1772.2h0M954.8 1781.6h0M926.2 1784.1h0M938.0 1775.8h0M887.4 1786.5h0M924.0 1791.2h0M884.6 1779.8h0M971.9 1775.8h0M905.4 1787.0h0M972.3 1775.7h0M933.2 1793.0h0M886.9 1777.4h0M910.5 1779.4h0M890.2 1778.9h0M925.0 1792.3h0M886.6 1789.1h0M913.0 1782.3h0M968.1 1790.5h0M893.2 1782.5h0M896.0 1794.8h0M924.3 1785.2h0M1278.1 1385.3h0M1092.6 1445.0h0M878.4 1530.7h0M890.0 1540.2h0M919.7 1528.2h0M970.3 1529.3h0M1037.6 1526.4h0M1054.6 1540.2h0M871.9 1564.4h0M870.1 1579.9h0M915.3 1563.7h0M1015.9 1550.6h0M1029.3 1556.1h0M1031.8 1566.2h0M978.6 1562.6h0M997.8 1559.0h0M975.0 1580.7h0M1077.4 1590.8h0M1077.4 1598.0h0M1102.3 1566.9h0M1100.9 1582.5h0M1112.5 1602.4h0M915.3 1595.1h0M924.4 1590.8h0M947.9 1606.0h0M962.4 1606.0h0M978.6 1612.1h0M902.7 1616.8h0M868.3 1621.2h0M876.3 1624.1h0M1042.7 1639.3h0M1061.8 1637.8h0M915.3 1625.9h0M928.0 1615.0h0M958.7 1631.3h0M951.5 1645.1h0M868.3 1644.0h0M947.9 1655.9h0M937.0 1663.9h0M1023.9 1650.1h0M1031.1 1653.0h0M1014.8 1667.5h0M1019.1 1669.3h0M1034.7 1674.0h0M1042.7 1700.0h0M1048.4 1716.3h0M1057.1 1738.0h0M971.4 1703.7h0M976.1 1716.3h0M942.5 1741.6h0M929.8 1757.2h0M928.0 1761.5h0M917.1 1776.0h0M897.2 1777.8h0M864.7 1776.0h0M1166.0 1495.7h0M1175.8 1481.2h0" stroke="#e4262b" stroke-width="3.50" stroke-linecap="round" fill="none"/>
<g stroke="#333" stroke-width="1" fill="none"><path d="M987.7,1689.3 L1009.4,1684.5"/><path d="M971.4,1703.6 L987.7,1706.0"/><path d="M875.5,1718.0 L884.6,1713.4"/><path d="M929.8,1757.2 L953.3,1756.3"/><path d="M929.0,1760.4 L953.3,1768.3"/><path d="M928.0,1762.0 L933.4,1776.3"/><path d="M864.7,1776.0 L857.4,1783.3"/><path d="M897.2,1777.8 L899.8,1788.6"/><path d="M917.1,1776.0 L920.8,1788.0"/><path d="M866.0,1697.0 L871.0,1720.0"/><path d="M864.0,1706.0 L868.0,1735.0"/><path d="M860.0,1740.0 L865.0,1758.0"/></g>
<text x="1098.4" y="1428.0" font-size="14" text-anchor="middle" fill="#333" dominant-baseline="central" >CD74</text>
<text x="865.8" y="1514.8" font-size="14" text-anchor="start" fill="#333" dominant-baseline="central" >CCL4</text>
<text x="907.4" y="1512.0" font-size="14" text-anchor="start" fill="#333" dominant-baseline="central" >CCL3</text>
<text x="952.6" y="1513.0" font-size="14" text-anchor="start" fill="#333" dominant-baseline="central" >APOE</text>
<text x="1007.6" y="1509.4" font-size="14" text-anchor="start" fill="#333" dominant-baseline="central" >HLA–DRA</text>
<text x="985.9" y="1533.6" font-size="14" text-anchor="start" fill="#333" dominant-baseline="central" >HLA–DRB1</text>
<text x="865.4" y="1548.0" font-size="14" text-anchor="start" fill="#333" dominant-baseline="central" >IL1B</text>
<text x="956.2" y="1547.4" font-size="14" text-anchor="start" fill="#333" dominant-baseline="central" >C1QC</text>
<text x="950.0" y="1568.0" font-size="14" text-anchor="start" fill="#333" dominant-baseline="central" >C1QA</text>
<text x="987.7" y="1565.0" font-size="14" text-anchor="start" fill="#333" dominant-baseline="central" >C1QB</text>
<text x="946.0" y="1584.3" font-size="14" text-anchor="start" fill="#333" dominant-baseline="central" >HLA–DPB1</text>
<text x="1081.7" y="1580.0" font-size="14" text-anchor="start" fill="#333" dominant-baseline="central" >IFITM3</text>
<text x="866.5" y="1599.8" font-size="14" text-anchor="start" fill="#333" dominant-baseline="central" >CXCL2</text>
<text x="919.0" y="1600.6" font-size="14" text-anchor="start" fill="#333" dominant-baseline="central" >HLA–DRB5</text>
<text x="849.0" y="1617.6" font-size="14" text-anchor="start" fill="#333" dominant-baseline="central" >CXCL8</text>
<text x="1054.6" y="1619.4" font-size="14" text-anchor="start" fill="#333" dominant-baseline="central" >S100A6</text>
<text x="920.0" y="1624.0" font-size="14" text-anchor="start" fill="#333" dominant-baseline="central" >HLA–DQA1</text>
<text x="854.6" y="1638.5" font-size="14" text-anchor="start" fill="#333" dominant-baseline="central" >CCL20</text>
<text x="903.8" y="1640.4" font-size="14" text-anchor="start" fill="#333" dominant-baseline="central" >HLA–DQB1</text>
<text x="893.6" y="1661.0" font-size="14" text-anchor="start" fill="#333" dominant-baseline="central" >HLA–DMA</text>
<text x="1009.4" y="1681.0" font-size="14" text-anchor="start" fill="#333" dominant-baseline="central" >IFITM2</text>
<text x="852.0" y="1688.5" font-size="14" text-anchor="start" fill="#333" dominant-baseline="central" >C3</text>
<text x="869.0" y="1695.3" font-size="14" text-anchor="start" fill="#333" dominant-baseline="central" >RGS2</text>
<text x="1041.2" y="1697.5" font-size="14" text-anchor="start" fill="#333" dominant-baseline="central" >FABP5</text>
<text x="828.5" y="1705.5" font-size="14" text-anchor="start" fill="#333" dominant-baseline="central" >CCL5</text>
<text x="987.0" y="1706.0" font-size="14" text-anchor="start" fill="#333" dominant-baseline="central" >CD163</text>
<text x="884.6" y="1713.4" font-size="14" text-anchor="start" fill="#333" dominant-baseline="central" >CXCL10</text>
<text x="1037.6" y="1713.8" font-size="14" text-anchor="start" fill="#333" dominant-baseline="central" >S100A9</text>
<text x="832.0" y="1720.7" font-size="14" text-anchor="start" fill="#333" dominant-baseline="central" >VEGFA</text>
<text x="979.4" y="1720.0" font-size="14" text-anchor="start" fill="#333" dominant-baseline="central" >CALM3</text>
<text x="831.4" y="1735.0" font-size="14" text-anchor="start" fill="#333" dominant-baseline="central" >CXCL9</text>
<text x="945.0" y="1739.8" font-size="14" text-anchor="start" fill="#333" dominant-baseline="central" >MARCO</text>
<text x="1047.4" y="1738.0" font-size="14" text-anchor="start" fill="#333" dominant-baseline="central" >S100A8</text>
<text x="876.6" y="1744.2" font-size="14" text-anchor="start" fill="#333" dominant-baseline="central" >IL10</text>
<text x="837.6" y="1751.4" font-size="14" text-anchor="start" fill="#333" dominant-baseline="central" >IL6</text>
<text x="953.3" y="1755.4" font-size="14" text-anchor="start" fill="#333" dominant-baseline="central" >FCN1</text>
<text x="826.7" y="1765.2" font-size="14" text-anchor="start" fill="#333" dominant-baseline="central" >CXCL11</text>
<text x="953.3" y="1770.6" font-size="14" text-anchor="start" fill="#333" dominant-baseline="central" >CCR1</text>
<text x="924.4" y="1780.7" font-size="14" text-anchor="start" fill="#333" dominant-baseline="central" >VCAN</text>
<text x="833.2" y="1786.0" font-size="14" text-anchor="start" fill="#333" dominant-baseline="central" >CXCL12</text>
<text x="890.0" y="1795.0" font-size="14" text-anchor="start" fill="#333" dominant-baseline="central" >HK3</text>
<text x="920.0" y="1796.6" font-size="14" text-anchor="start" fill="#333" dominant-baseline="central" >LYVE1</text>
<text x="1277.0" y="1365.4" font-size="26.5" text-anchor="start" fill="#231f20" dominant-baseline="central" >FTL</text>
<rect x="824.9" y="1340.1" width="494.5" height="480" fill="none" stroke="#3a3a3a" stroke-width="1.5"/>
<g stroke="#3a3a3a" stroke-width="1.4">
<path d="M845.9,1820.1 V1827.4"/><path d="M817,1798.8 H824.9"/>
<path d="M1005.4,1820.1 V1827.4"/><path d="M817,1642.7 H824.9"/>
<path d="M1164.9,1820.1 V1827.4"/><path d="M817,1486.6 H824.9"/>
</g>
<text x="845.9" y="1850.0" font-size="23" text-anchor="middle" fill="#231f20" dominant-baseline="central" >0</text>
<text x="804.0" y="1798.8" font-size="23" text-anchor="end" fill="#231f20" dominant-baseline="central" >0</text>
<text x="1005.4" y="1850.0" font-size="23" text-anchor="middle" fill="#231f20" dominant-baseline="central" >2</text>
<text x="804.0" y="1642.7" font-size="23" text-anchor="end" fill="#231f20" dominant-baseline="central" >2</text>
<text x="1164.9" y="1850.0" font-size="23" text-anchor="middle" fill="#231f20" dominant-baseline="central" >4</text>
<text x="804.0" y="1486.6" font-size="23" text-anchor="end" fill="#231f20" dominant-baseline="central" >4</text>
<text x="1071.6" y="1888.0" font-size="27.3" text-anchor="middle" fill="#231f20" dominant-baseline="central" >Mean expression of M08–M09–M11–M14</text>
<text x="756.0" y="1580.7" font-size="27.3" text-anchor="middle" fill="#231f20" dominant-baseline="central" transform="rotate(-90 756.0 1580.7)" >Mean expression of M07–M10–M12</text>
<text x="812.0" y="1932.5" font-size="28" text-anchor="end" fill="#231f20" dominant-baseline="central" >Significant</text>
<circle cx="839.4" cy="1933.5" r="8.5" fill="#e4262b"/>
<text x="863.6" y="1932.5" font-size="28" text-anchor="start" fill="#231f20" dominant-baseline="central" >FDR &lt; 0.05 and logFC &gt; 0.5</text>
<circle cx="1259" cy="1933.5" r="8.5" fill="#b4b4b4"/>
<text x="1282.5" y="1932.5" font-size="28" text-anchor="start" fill="#231f20" dominant-baseline="central" >Not significant</text>
<rect x="1410.8" y="1316" width="23.8" height="24.7" fill="#5aa18c"/>
<text x="1450.3" y="1328.4" font-size="26.5" text-anchor="start" fill="#231f20" dominant-baseline="central" >M07–M10–M12</text>
<rect x="1676.2" y="1316" width="23.8" height="24.7" fill="#63b7d0"/>
<text x="1715.2" y="1328.4" font-size="26.5" text-anchor="start" fill="#231f20" dominant-baseline="central" >M08–M09–M11–M14</text>
<rect x="1742.7" y="1352.6" width="276.8" height="18" fill="#5aa18c"/>
<text x="1734.2" y="1361.9" font-size="20" text-anchor="end" fill="#231f20" dominant-baseline="central" >Neutrophil chemotaxis</text>
<rect x="1742.7" y="1372.6" width="269.2" height="18" fill="#5aa18c"/>
<text x="1734.2" y="1381.9" font-size="20" text-anchor="end" fill="#231f20" dominant-baseline="central" >Cell chemotaxis</text>
<rect x="1742.7" y="1392.7" width="258.7" height="18" fill="#5aa18c"/>
<text x="1734.2" y="1402.0" font-size="20" text-anchor="end" fill="#231f20" dominant-baseline="central" >MHC class II protein complex</text>
<rect x="1742.7" y="1412.7" width="233.0" height="18" fill="#5aa18c"/>
<text x="1734.2" y="1422.0" font-size="20" text-anchor="end" fill="#231f20" dominant-baseline="central" >Cellular response to tumor necrosis factor</text>
<rect x="1742.7" y="1432.8" width="220.2" height="18" fill="#5aa18c"/>
<text x="1734.2" y="1442.1" font-size="20" text-anchor="end" fill="#231f20" dominant-baseline="central" >Cellular response to IFN-γ</text>
<rect x="1742.7" y="1452.8" width="210.2" height="18" fill="#5aa18c"/>
<text x="1734.2" y="1462.1" font-size="20" text-anchor="end" fill="#231f20" dominant-baseline="central" >Positive regulation of cytokine production</text>
<rect x="1742.7" y="1472.8" width="208.8" height="18" fill="#5aa18c"/>
<text x="1734.2" y="1482.1" font-size="20" text-anchor="end" fill="#231f20" dominant-baseline="central" >Response to IFN-γ</text>
<rect x="1742.7" y="1492.9" width="194.1" height="18" fill="#5aa18c"/>
<text x="1734.2" y="1502.2" font-size="20" text-anchor="end" fill="#231f20" dominant-baseline="central" >Cellular response to IL-1</text>
<rect x="1742.7" y="1512.9" width="145.1" height="18" fill="#5aa18c"/>
<text x="1734.2" y="1522.2" font-size="20" text-anchor="end" fill="#231f20" dominant-baseline="central" >IFN-γ-mediated signaling pathway</text>
<rect x="1742.7" y="1533.0" width="130.3" height="18" fill="#5aa18c"/>
<text x="1734.2" y="1542.3" font-size="20" text-anchor="end" fill="#231f20" dominant-baseline="central" >Lymphocyte migration</text>
<rect x="1742.7" y="1553.0" width="109.4" height="18" fill="#5aa18c"/>
<text x="1734.2" y="1562.3" font-size="20" text-anchor="end" fill="#231f20" dominant-baseline="central" >Positive regulation of inflammatory response</text>
<rect x="1742.7" y="1573.0" width="91.8" height="18" fill="#5aa18c"/>
<text x="1734.2" y="1582.3" font-size="20" text-anchor="end" fill="#231f20" dominant-baseline="central" >Regulation of lymphocyte chemotaxis</text>
<rect x="1742.7" y="1593.1" width="88.0" height="18" fill="#5aa18c"/>
<text x="1734.2" y="1602.4" font-size="20" text-anchor="end" fill="#231f20" dominant-baseline="central" >Regulation of chemotaxis</text>
<rect x="1742.7" y="1613.1" width="80.9" height="18" fill="#5aa18c"/>
<text x="1734.2" y="1622.4" font-size="20" text-anchor="end" fill="#231f20" dominant-baseline="central" >Antigen receptor-mediated signal</text>
<rect x="1742.7" y="1633.2" width="70.9" height="18" fill="#5aa18c"/>
<text x="1734.2" y="1642.5" font-size="20" text-anchor="end" fill="#231f20" dominant-baseline="central" >Regulation of immune effector process</text>
<rect x="1577.3" y="1659.3" width="152.1" height="17.5" fill="#63b7d0"/>
<text x="1738.0" y="1666.8" font-size="20" text-anchor="start" fill="#231f20" dominant-baseline="central" >Neutrophil activation</text>
<rect x="1659.5" y="1679.3" width="69.9" height="17.5" fill="#63b7d0"/>
<text x="1738.0" y="1686.8" font-size="20" text-anchor="start" fill="#231f20" dominant-baseline="central" >Regulation of innate immune response</text>
<rect x="1669.0" y="1699.3" width="60.4" height="17.5" fill="#63b7d0"/>
<text x="1738.0" y="1706.8" font-size="20" text-anchor="start" fill="#231f20" dominant-baseline="central" >Prr signaling pathway</text>
<rect x="1677.1" y="1719.3" width="52.3" height="17.5" fill="#63b7d0"/>
<text x="1738.0" y="1726.8" font-size="20" text-anchor="start" fill="#231f20" dominant-baseline="central" >Innate immune response</text>
<rect x="1680.0" y="1739.3" width="49.4" height="17.5" fill="#63b7d0"/>
<text x="1738.0" y="1746.8" font-size="20" text-anchor="start" fill="#231f20" dominant-baseline="central" >Receptor-mediated endocytosis</text>
<rect x="1690.0" y="1759.3" width="39.4" height="17.5" fill="#63b7d0"/>
<text x="1738.0" y="1766.8" font-size="20" text-anchor="start" fill="#231f20" dominant-baseline="central" >Positive regulation of immune process</text>
<rect x="1690.9" y="1779.3" width="38.5" height="17.5" fill="#63b7d0"/>
<text x="1738.0" y="1786.8" font-size="20" text-anchor="start" fill="#231f20" dominant-baseline="central" >Leukocyte migration</text>
<rect x="1693.8" y="1799.3" width="35.6" height="17.5" fill="#63b7d0"/>
<text x="1738.0" y="1806.8" font-size="20" text-anchor="start" fill="#231f20" dominant-baseline="central" >Positive regulation of secretion</text>
<g stroke="#3a3a3a" stroke-width="1.4"><path d="M1365.7,1820 H2013.8"/>
<path d="M1502.6,1820 V1826"/>
<path d="M1577.5,1820 V1826"/>
<path d="M1652.4,1820 V1826"/>
<path d="M1727.3,1820 V1826"/>
<path d="M1802.2,1820 V1826"/>
<path d="M1877.1,1820 V1826"/>
<path d="M1952.0,1820 V1826"/>
</g>
<text x="1502.6" y="1848.6" font-size="23" text-anchor="middle" fill="#231f20" dominant-baseline="central" >−9</text>
<text x="1577.5" y="1848.6" font-size="23" text-anchor="middle" fill="#231f20" dominant-baseline="central" >−6</text>
<text x="1652.4" y="1848.6" font-size="23" text-anchor="middle" fill="#231f20" dominant-baseline="central" >−3</text>
<text x="1727.3" y="1848.6" font-size="23" text-anchor="middle" fill="#231f20" dominant-baseline="central" >0</text>
<text x="1802.2" y="1848.6" font-size="23" text-anchor="middle" fill="#231f20" dominant-baseline="central" >3</text>
<text x="1877.1" y="1848.6" font-size="23" text-anchor="middle" fill="#231f20" dominant-baseline="central" >6</text>
<text x="1952.0" y="1848.6" font-size="23" text-anchor="middle" fill="#231f20" dominant-baseline="central" >9</text>
<text x="1690" y="1897" font-size="28" text-anchor="middle" fill="#231f20">−log<tspan font-size="19" dy="7">10</tspan><tspan dy="-7">(adjusted </tspan><tspan font-style="italic">P</tspan> value)</text>
<text x="8.0" y="2048.0" font-size="40" text-anchor="start" fill="#231f20" dominant-baseline="auto" font-weight="bold" stroke="#231f20" stroke-width="1.4">f</text>
<text x="826.6" y="2003.8" font-size="28.8" text-anchor="start" fill="#231f20" dominant-baseline="central" >Cell–cell interaction between TeMs and T cells</text>
<path d="M150.7,2023.8 H2093" stroke="#231f20" stroke-width="2.2"/>
<path d="M173.2,2224.2 V2528.8" stroke="#3a5a8c" stroke-width="3.2"/>
<path d="M173.2,2240.2 V2243.4" stroke="#fff" stroke-width="3.6"/><path d="M173.2,2266.6 V2269.8" stroke="#fff" stroke-width="3.6"/><path d="M173.2,2328.4 V2331.6" stroke="#fff" stroke-width="3.6"/><path d="M173.2,2372.4 V2375.6" stroke="#fff" stroke-width="3.6"/><path d="M173.2,2398.9 V2402.1" stroke="#fff" stroke-width="3.6"/>
<path d="M216.4,2224.2 V2528.8" stroke="#3a5a8c" stroke-width="3.2"/>
<path d="M216.4,2257.8 V2261.0" stroke="#fff" stroke-width="3.6"/><path d="M216.4,2319.5 V2322.7" stroke="#fff" stroke-width="3.6"/><path d="M216.4,2328.4 V2331.6" stroke="#fff" stroke-width="3.6"/><path d="M216.4,2372.4 V2375.6" stroke="#fff" stroke-width="3.6"/><path d="M216.4,2398.9 V2402.1" stroke="#fff" stroke-width="3.6"/><path d="M216.4,2442.9 V2446.1" stroke="#fff" stroke-width="3.6"/>
<path d="M259.7,2171.3 V2528.8" stroke="#bd1a3f" stroke-width="3.2"/>
<path d="M259.7,2257.8 V2261.0" stroke="#fff" stroke-width="3.6"/><path d="M259.7,2284.3 V2287.5" stroke="#fff" stroke-width="3.6"/><path d="M259.7,2293.1 V2296.3" stroke="#fff" stroke-width="3.6"/>
<path d="M259.7,2171.3 H297.2" stroke="#bd1a3f" stroke-width="3.2"/>
<path d="M173.2,2188.9 H297.2" stroke="#3a5a8c" stroke-width="3.2"/>
<path d="M173.2,2206.6 H297.2" stroke="#df4e39" stroke-width="3.2"/>
<path d="M173.2,2224.2 H297.2" stroke="#1cadc9" stroke-width="3.2"/>
<path d="M173.2,2453.4 H297.2" stroke="#148d74" stroke-width="3.2"/>
<path d="M173.2,2471.0 H297.2" stroke="#8db8e0" stroke-width="3.2"/>
<path d="M173.2,2506.3 H297.2" stroke="#e8852a" stroke-width="3.2"/>
<path d="M286.2,2118.4 H297.2M286.2,2136.0 H297.2M286.2,2153.7 H297.2M286.2,2241.8 H297.2M286.2,2259.4 H297.2M286.2,2277.1 H297.2M286.2,2294.7 H297.2M286.2,2312.3 H297.2M286.2,2330.0 H297.2M286.2,2347.6 H297.2M286.2,2365.2 H297.2M286.2,2382.8 H297.2M286.2,2400.5 H297.2M286.2,2418.1 H297.2M286.2,2435.7 H297.2M286.2,2488.6 H297.2" stroke="#231f20" stroke-width="3"/>
<ellipse cx="173.2" cy="2136.0" rx="8.8" ry="8.8" fill="#231f20"/>
<ellipse cx="216.4" cy="2136.0" rx="8.8" ry="8.8" fill="#231f20"/>
<ellipse cx="259.7" cy="2136.0" rx="8.8" ry="8.8" fill="#231f20"/>
<ellipse cx="259.7" cy="2171.3" rx="3.7" ry="3.7" fill="#9a9a9a" stroke="#bd1a3f" stroke-width="2.6"/>
<ellipse cx="173.2" cy="2188.9" rx="11.9" ry="11.9" fill="#231f20" stroke="#3a5a8c" stroke-width="3.2"/>
<ellipse cx="216.4" cy="2188.9" rx="11.9" ry="11.9" fill="#231f20" stroke="#3a5a8c" stroke-width="3.2"/>
<ellipse cx="259.7" cy="2188.9" rx="11.9" ry="11.9" fill="#231f20" stroke="#3a5a8c" stroke-width="3.2"/>
<ellipse cx="173.2" cy="2206.6" rx="8.0" ry="8.0" fill="#555" stroke="#df4e39" stroke-width="3.0"/>
<ellipse cx="216.4" cy="2206.6" rx="6.5" ry="6.5" fill="#8a8a8a" stroke="#df4e39" stroke-width="3.0"/>
<ellipse cx="259.7" cy="2206.6" rx="7.0" ry="7.0" fill="#666" stroke="#df4e39" stroke-width="3.0"/>
<ellipse cx="173.2" cy="2224.2" rx="4.2" ry="4.2" fill="#999" stroke="#1cadc9" stroke-width="2.6"/>
<ellipse cx="259.7" cy="2224.2" rx="3.6" ry="3.6" fill="#999" stroke="#1cadc9" stroke-width="2.4"/>
<circle cx="216.4" cy="2224.2" r="2" fill="#fff"/>
<circle cx="173.2" cy="2330.0" r="4.4" fill="#fff"/><circle cx="173.2" cy="2330.0" r="2.8" fill="#999"/>
<circle cx="216.4" cy="2330.0" r="2.8" fill="#fff"/><circle cx="216.4" cy="2330.0" r="1.2" fill="#999"/>
<circle cx="259.7" cy="2330.0" r="4.4" fill="#fff"/><circle cx="259.7" cy="2330.0" r="2.8" fill="#999"/>
<circle cx="173.2" cy="2347.6" r="13.0" fill="#fff" stroke="#231f20" stroke-width="0.7"/><circle cx="173.2" cy="2347.6" r="9.0" fill="#231f20"/>
<circle cx="216.4" cy="2347.6" r="13.0" fill="#fff" stroke="#231f20" stroke-width="0.7"/><circle cx="216.4" cy="2347.6" r="9.0" fill="#231f20"/>
<circle cx="259.7" cy="2347.6" r="13.0" fill="#fff" stroke="#231f20" stroke-width="0.7"/><circle cx="259.7" cy="2347.6" r="9.0" fill="#231f20"/>
<circle cx="173.2" cy="2365.2" r="4.2" fill="#fff"/><circle cx="173.2" cy="2365.2" r="2.6" fill="#999"/>
<circle cx="216.4" cy="2365.2" r="4.2" fill="#fff"/><circle cx="216.4" cy="2365.2" r="2.6" fill="#999"/>
<circle cx="259.7" cy="2365.2" r="4.2" fill="#fff"/><circle cx="259.7" cy="2365.2" r="2.6" fill="#999"/>
<circle cx="173.2" cy="2418.1" r="10.5" fill="#fff" stroke="#231f20" stroke-width="0.7"/><circle cx="173.2" cy="2418.1" r="6.5" fill="#555"/>
<circle cx="216.4" cy="2418.1" r="4.2" fill="#fff"/><circle cx="216.4" cy="2418.1" r="2.6" fill="#999"/>
<circle cx="259.7" cy="2418.1" r="10.5" fill="#fff" stroke="#231f20" stroke-width="0.7"/><circle cx="259.7" cy="2418.1" r="6.5" fill="#555"/>
<ellipse cx="173.2" cy="2453.4" rx="6.0" ry="6.0" fill="#777" stroke="#148d74" stroke-width="3"/>
<circle cx="216.4" cy="2453.4" r="5" fill="#fff"/><circle cx="216.4" cy="2453.4" r="2.8" fill="#999"/>
<ellipse cx="259.7" cy="2453.4" rx="8.9" ry="8.9" fill="#666" stroke="#148d74" stroke-width="3.2"/>
<ellipse cx="173.2" cy="2471.0" rx="11.2" ry="11.2" fill="#231f20" stroke="#8db8e0" stroke-width="3.6"/>
<ellipse cx="216.4" cy="2471.0" rx="11.2" ry="11.2" fill="#231f20" stroke="#8db8e0" stroke-width="3.6"/>
<ellipse cx="259.7" cy="2471.0" rx="11.2" ry="11.2" fill="#231f20" stroke="#8db8e0" stroke-width="3.6"/>
<ellipse cx="173.2" cy="2506.3" rx="10.8" ry="10.8" fill="#231f20" stroke="#e8852a" stroke-width="3.4"/>
<ellipse cx="216.4" cy="2506.3" rx="10.8" ry="10.8" fill="#231f20" stroke="#e8852a" stroke-width="3.4"/>
<ellipse cx="259.7" cy="2506.3" rx="10.8" ry="10.8" fill="#231f20" stroke="#e8852a" stroke-width="3.4"/>
<rect x="146.5" y="2107.1" width="139.7" height="416.2" fill="none" stroke="#231f20" stroke-width="2.6"/>
<text x="302.7" y="2118.9" font-size="17.5" text-anchor="start" fill="#231f20" dominant-baseline="central" >XCL1</text>
<text x="302.7" y="2136.5" font-size="17.5" text-anchor="start" fill="#231f20" dominant-baseline="central" >CXCL3</text>
<text x="302.7" y="2154.2" font-size="17.5" text-anchor="start" fill="#231f20" dominant-baseline="central" >PPBP</text>
<text x="302.7" y="2171.8" font-size="17.5" text-anchor="start" fill="#bd1a3f" dominant-baseline="central" >CXCL12</text>
<text x="302.7" y="2189.4" font-size="17.5" text-anchor="start" fill="#3a5a8c" dominant-baseline="central" >CXCL2</text>
<text x="302.7" y="2207.1" font-size="17.5" text-anchor="start" fill="#df4e39" dominant-baseline="central" >CXCL10</text>
<text x="302.7" y="2224.7" font-size="17.5" text-anchor="start" fill="#1cadc9" dominant-baseline="central" >CXCL11</text>
<text x="302.7" y="2242.3" font-size="17.5" text-anchor="start" fill="#231f20" dominant-baseline="central" >CCL22</text>
<text x="302.7" y="2259.9" font-size="17.5" text-anchor="start" fill="#231f20" dominant-baseline="central" >CCL19</text>
<text x="302.7" y="2277.6" font-size="17.5" text-anchor="start" fill="#231f20" dominant-baseline="central" >CXCL13</text>
<text x="302.7" y="2295.2" font-size="17.5" text-anchor="start" fill="#231f20" dominant-baseline="central" >CCL25</text>
<text x="302.7" y="2312.8" font-size="17.5" text-anchor="start" fill="#231f20" dominant-baseline="central" >CCL21</text>
<text x="302.7" y="2330.5" font-size="17.5" text-anchor="start" fill="#231f20" dominant-baseline="central" >CCL8</text>
<text x="302.7" y="2348.1" font-size="17.5" text-anchor="start" fill="#231f20" dominant-baseline="central" >CXCL8</text>
<text x="302.7" y="2365.7" font-size="17.5" text-anchor="start" fill="#231f20" dominant-baseline="central" >CXCL1</text>
<text x="302.7" y="2383.3" font-size="17.5" text-anchor="start" fill="#231f20" dominant-baseline="central" >PF4</text>
<text x="302.7" y="2401.0" font-size="17.5" text-anchor="start" fill="#231f20" dominant-baseline="central" >CCL11</text>
<text x="302.7" y="2418.6" font-size="17.5" text-anchor="start" fill="#231f20" dominant-baseline="central" >CCL2</text>
<text x="302.7" y="2436.2" font-size="17.5" text-anchor="start" fill="#231f20" dominant-baseline="central" >CCL24</text>
<text x="302.7" y="2453.9" font-size="17.5" text-anchor="start" fill="#148d74" dominant-baseline="central" >CCL5</text>
<text x="302.7" y="2471.5" font-size="17.5" text-anchor="start" fill="#8db8e0" dominant-baseline="central" >CCL3</text>
<text x="302.7" y="2489.1" font-size="17.5" text-anchor="start" fill="#231f20" dominant-baseline="central" >CCL1</text>
<text x="302.7" y="2506.8" font-size="17.5" text-anchor="start" fill="#e8852a" dominant-baseline="central" >CCL4</text>
<path d="M594.1,2118.0 V2528.7" stroke="#bd1a3f" stroke-width="3.2"/>
<path d="M594.1,2158.6 V2161.8" stroke="#fff" stroke-width="3.6"/><path d="M594.1,2175.5 V2178.7" stroke="#fff" stroke-width="3.6"/><path d="M594.1,2378.2 V2381.4" stroke="#fff" stroke-width="3.6"/><path d="M594.1,2412.0 V2415.2" stroke="#fff" stroke-width="3.6"/><path d="M594.1,2462.7 V2465.9" stroke="#fff" stroke-width="3.6"/><path d="M594.1,2496.5 V2499.7" stroke="#fff" stroke-width="3.6"/>
<path d="M629.0,2118.0 V2528.7" stroke="#bd1a3f" stroke-width="3.2"/>
<path d="M629.0,2158.6 V2161.8" stroke="#fff" stroke-width="3.6"/><path d="M629.0,2175.5 V2178.7" stroke="#fff" stroke-width="3.6"/><path d="M629.0,2378.2 V2381.4" stroke="#fff" stroke-width="3.6"/><path d="M629.0,2412.0 V2415.2" stroke="#fff" stroke-width="3.6"/><path d="M629.0,2428.9 V2432.1" stroke="#fff" stroke-width="3.6"/><path d="M629.0,2462.7 V2465.9" stroke="#fff" stroke-width="3.6"/>
<path d="M664.0,2253.2 V2528.7" stroke="#df4e39" stroke-width="3.2"/>
<path d="M698.9,2118.0 V2528.7" stroke="#bd1a3f" stroke-width="3.2"/>
<path d="M698.9,2158.6 V2161.8" stroke="#fff" stroke-width="3.6"/><path d="M698.9,2175.5 V2178.7" stroke="#fff" stroke-width="3.6"/><path d="M698.9,2378.2 V2381.4" stroke="#fff" stroke-width="3.6"/><path d="M698.9,2395.1 V2398.3" stroke="#fff" stroke-width="3.6"/><path d="M698.9,2412.0 V2415.2" stroke="#fff" stroke-width="3.6"/><path d="M698.9,2462.7 V2465.9" stroke="#fff" stroke-width="3.6"/><path d="M698.9,2496.5 V2499.7" stroke="#fff" stroke-width="3.6"/>
<path d="M733.8,2118.0 V2528.7" stroke="#bd1a3f" stroke-width="3.2"/>
<path d="M768.7,2118.0 V2528.7" stroke="#bd1a3f" stroke-width="3.2"/>
<path d="M768.7,2158.6 V2161.8" stroke="#fff" stroke-width="3.6"/><path d="M768.7,2378.2 V2381.4" stroke="#fff" stroke-width="3.6"/><path d="M768.7,2395.1 V2398.3" stroke="#fff" stroke-width="3.6"/><path d="M768.7,2412.0 V2415.2" stroke="#fff" stroke-width="3.6"/><path d="M768.7,2462.7 V2465.9" stroke="#fff" stroke-width="3.6"/>
<path d="M803.6,2118.0 V2528.7" stroke="#bd1a3f" stroke-width="3.2"/>
<path d="M803.6,2158.6 V2161.8" stroke="#fff" stroke-width="3.6"/><path d="M803.6,2209.3 V2212.5" stroke="#fff" stroke-width="3.6"/><path d="M803.6,2378.2 V2381.4" stroke="#fff" stroke-width="3.6"/><path d="M803.6,2395.1 V2398.3" stroke="#fff" stroke-width="3.6"/><path d="M803.6,2412.0 V2415.2" stroke="#fff" stroke-width="3.6"/><path d="M803.6,2462.7 V2465.9" stroke="#fff" stroke-width="3.6"/>
<path d="M838.6,2118.0 V2528.7" stroke="#bd1a3f" stroke-width="3.2"/>
<path d="M838.6,2209.3 V2212.5" stroke="#fff" stroke-width="3.6"/><path d="M838.6,2226.2 V2229.4" stroke="#fff" stroke-width="3.6"/><path d="M838.6,2293.8 V2296.9" stroke="#fff" stroke-width="3.6"/><path d="M838.6,2378.2 V2381.4" stroke="#fff" stroke-width="3.6"/><path d="M838.6,2412.0 V2415.2" stroke="#fff" stroke-width="3.6"/><path d="M838.6,2462.7 V2465.9" stroke="#fff" stroke-width="3.6"/>
<path d="M873.5,2118.0 V2528.7" stroke="#bd1a3f" stroke-width="3.2"/>
<path d="M873.5,2158.6 V2161.8" stroke="#fff" stroke-width="3.6"/><path d="M873.5,2175.5 V2178.7" stroke="#fff" stroke-width="3.6"/><path d="M873.5,2395.1 V2398.3" stroke="#fff" stroke-width="3.6"/><path d="M873.5,2412.0 V2415.2" stroke="#fff" stroke-width="3.6"/><path d="M873.5,2462.7 V2465.9" stroke="#fff" stroke-width="3.6"/>
<path d="M908.4,2118.0 V2528.7" stroke="#bd1a3f" stroke-width="3.2"/>
<path d="M908.4,2175.5 V2178.7" stroke="#fff" stroke-width="3.6"/><path d="M908.4,2260.0 V2263.2" stroke="#fff" stroke-width="3.6"/><path d="M908.4,2378.2 V2381.4" stroke="#fff" stroke-width="3.6"/><path d="M908.4,2412.0 V2415.2" stroke="#fff" stroke-width="3.6"/><path d="M908.4,2462.7 V2465.9" stroke="#fff" stroke-width="3.6"/>
<path d="M559.2,2523.2 V2529.2" stroke="#231f20" stroke-width="3"/>
<path d="M513.5,2118.0 H908.4" stroke="#bd1a3f" stroke-width="3.2"/>
<path d="M557.4,2118.0 H561.0" stroke="#fff" stroke-width="3.6"/><path d="M662.2,2118.0 H665.8" stroke="#fff" stroke-width="3.6"/>
<path d="M513.5,2253.2 H873.5" stroke="#df4e39" stroke-width="3.2"/>
<path d="M513.5,2270.1 H908.4" stroke="#1cadc9" stroke-width="3.2"/>
<path d="M627.2,2270.1 H630.8" stroke="#fff" stroke-width="3.6"/><path d="M697.1,2270.1 H700.7" stroke="#fff" stroke-width="3.6"/><path d="M801.8,2270.1 H805.4" stroke="#fff" stroke-width="3.6"/><path d="M836.8,2270.1 H840.4" stroke="#fff" stroke-width="3.6"/><path d="M871.7,2270.1 H875.3" stroke="#fff" stroke-width="3.6"/>
<path d="M513.5,2286.9 H698.9" stroke="#148d74" stroke-width="3.2"/>
<path d="M513.5,2354.5 H873.5" stroke="#8db8e0" stroke-width="3.2"/>
<path d="M592.3,2354.5 H595.9" stroke="#fff" stroke-width="3.6"/><path d="M766.9,2354.5 H770.5" stroke="#fff" stroke-width="3.6"/><path d="M801.8,2354.5 H805.4" stroke="#fff" stroke-width="3.6"/><path d="M836.8,2354.5 H840.4" stroke="#fff" stroke-width="3.6"/>
<path d="M513.5,2472.8 H873.5" stroke="#e8852a" stroke-width="3.2"/>
<path d="M592.3,2472.8 H595.9" stroke="#fff" stroke-width="3.6"/><path d="M697.1,2472.8 H700.7" stroke="#fff" stroke-width="3.6"/><path d="M836.8,2472.8 H840.4" stroke="#fff" stroke-width="3.6"/>
<path d="M513.5,2506.6 H629.0" stroke="#3a5a8c" stroke-width="3.2"/>
<path d="M513.5,2134.9 H524.5M513.5,2151.8 H524.5M513.5,2168.7 H524.5M513.5,2185.6 H524.5M513.5,2202.5 H524.5M513.5,2219.4 H524.5M513.5,2236.3 H524.5M513.5,2303.8 H524.5M513.5,2320.7 H524.5M513.5,2337.6 H524.5M513.5,2371.4 H524.5M513.5,2388.3 H524.5M513.5,2405.2 H524.5M513.5,2422.1 H524.5M513.5,2439.0 H524.5M513.5,2455.9 H524.5M513.5,2489.7 H524.5" stroke="#231f20" stroke-width="3"/>
<ellipse cx="559.2" cy="2118.0" rx="7.0" ry="5.0" fill="#666"/>
<ellipse cx="594.1" cy="2118.0" rx="10.7" ry="9.4" fill="#231f20" stroke="#bd1a3f" stroke-width="3.2"/>
<ellipse cx="629.0" cy="2118.0" rx="10.9" ry="9.9" fill="#231f20" stroke="#bd1a3f" stroke-width="3.2"/>
<ellipse cx="664.0" cy="2118.0" rx="8.0" ry="7.0" fill="#666"/>
<ellipse cx="698.9" cy="2118.0" rx="12.4" ry="11.4" fill="#231f20" stroke="#bd1a3f" stroke-width="3.2"/>
<ellipse cx="733.8" cy="2118.0" rx="12.4" ry="11.4" fill="#231f20" stroke="#bd1a3f" stroke-width="3.2"/>
<ellipse cx="768.7" cy="2118.0" rx="13.4" ry="12.4" fill="#231f20" stroke="#bd1a3f" stroke-width="3.2"/>
<ellipse cx="803.6" cy="2118.0" rx="12.9" ry="12.4" fill="#231f20" stroke="#bd1a3f" stroke-width="3.2"/>
<ellipse cx="838.6" cy="2118.0" rx="8.4" ry="7.9" fill="#555" stroke="#bd1a3f" stroke-width="3.2"/>
<ellipse cx="873.5" cy="2118.0" rx="12.9" ry="12.4" fill="#231f20" stroke="#bd1a3f" stroke-width="3.2"/>
<ellipse cx="908.4" cy="2118.0" rx="9.4" ry="7.9" fill="#231f20" stroke="#bd1a3f" stroke-width="3.2"/>
<ellipse cx="559.2" cy="2202.5" rx="7.5" ry="6.5" fill="#555"/>
<ellipse cx="594.1" cy="2202.5" rx="6.0" ry="5.0" fill="#444"/>
<ellipse cx="629.0" cy="2202.5" rx="2.5" ry="2.0" fill="#999"/>
<ellipse cx="698.9" cy="2202.5" rx="8.5" ry="7.5" fill="#555"/>
<ellipse cx="733.8" cy="2202.5" rx="7.5" ry="6.0" fill="#555"/>
<ellipse cx="768.7" cy="2202.5" rx="4.0" ry="3.0" fill="#999"/>
<ellipse cx="803.6" cy="2202.5" rx="3.0" ry="2.5" fill="#999"/>
<ellipse cx="594.1" cy="2253.2" rx="7.9" ry="7.4" fill="#444" stroke="#df4e39" stroke-width="3.2"/>
<ellipse cx="629.0" cy="2253.2" rx="9.4" ry="8.4" fill="#555" stroke="#df4e39" stroke-width="3.2"/>
<ellipse cx="664.0" cy="2253.2" rx="9.4" ry="8.9" fill="#555" stroke="#df4e39" stroke-width="3.2"/>
<ellipse cx="698.9" cy="2253.2" rx="8.4" ry="7.4" fill="#777" stroke="#df4e39" stroke-width="3.2"/>
<ellipse cx="733.8" cy="2253.2" rx="7.4" ry="6.9" fill="#555" stroke="#df4e39" stroke-width="3.2"/>
<ellipse cx="768.7" cy="2253.2" rx="7.4" ry="6.9" fill="#666" stroke="#df4e39" stroke-width="3.2"/>
<ellipse cx="803.6" cy="2253.2" rx="7.4" ry="6.9" fill="#444" stroke="#df4e39" stroke-width="3.2"/>
<ellipse cx="838.6" cy="2253.2" rx="7.9" ry="7.4" fill="#555" stroke="#df4e39" stroke-width="3.2"/>
<ellipse cx="873.5" cy="2253.2" rx="7.4" ry="6.9" fill="#666" stroke="#df4e39" stroke-width="3.2"/>
<ellipse cx="594.1" cy="2270.1" rx="4.8" ry="4.6" fill="#999" stroke="#1cadc9" stroke-width="2.8"/>
<ellipse cx="908.4" cy="2270.1" rx="6.0" ry="5.5" fill="#666" stroke="#1cadc9" stroke-width="3"/>
<ellipse cx="594.1" cy="2286.9" rx="3.7" ry="3.7" fill="#8a8a8a" stroke="#148d74" stroke-width="2.6"/>
<ellipse cx="629.0" cy="2286.9" rx="4.2" ry="4.2" fill="#8a8a8a" stroke="#148d74" stroke-width="2.6"/>
<ellipse cx="698.9" cy="2286.9" rx="6.5" ry="6.5" fill="#999" stroke="#148d74" stroke-width="3"/>
<ellipse cx="629.0" cy="2354.5" rx="3.7" ry="3.7" fill="#aaa" stroke="#8db8e0" stroke-width="2.6"/>
<ellipse cx="873.5" cy="2354.5" rx="3.7" ry="3.7" fill="#aaa" stroke="#8db8e0" stroke-width="2.6"/>
<ellipse cx="629.0" cy="2472.8" rx="3.7" ry="3.7" fill="#999" stroke="#e8852a" stroke-width="2.6"/>
<ellipse cx="664.0" cy="2472.8" rx="4.2" ry="4.2" fill="#999" stroke="#e8852a" stroke-width="2.6"/>
<ellipse cx="768.7" cy="2472.8" rx="4.2" ry="4.2" fill="#999" stroke="#e8852a" stroke-width="2.6"/>
<ellipse cx="803.6" cy="2472.8" rx="3.7" ry="3.7" fill="#999" stroke="#e8852a" stroke-width="2.6"/>
<ellipse cx="873.5" cy="2472.8" rx="4.7" ry="4.7" fill="#999" stroke="#e8852a" stroke-width="2.6"/>
<ellipse cx="629.0" cy="2506.6" rx="7.9" ry="7.9" fill="#555" stroke="#3a5a8c" stroke-width="3.2"/>
<rect x="524.5" y="2107.5" width="405.9" height="415.7" fill="none" stroke="#231f20" stroke-width="2.6"/>
<text x="469.2" y="2118.5" font-size="17.5" text-anchor="middle" fill="#bd1a3f" dominant-baseline="central" >CXCR4</text>
<text x="469.2" y="2135.4" font-size="17.5" text-anchor="middle" fill="#231f20" dominant-baseline="central" >ADGRV1</text>
<text x="469.2" y="2152.3" font-size="17.5" text-anchor="middle" fill="#231f20" dominant-baseline="central" >ACKR3</text>
<text x="469.2" y="2169.2" font-size="17.5" text-anchor="middle" fill="#231f20" dominant-baseline="central" >CXCR5</text>
<text x="469.2" y="2186.1" font-size="17.5" text-anchor="middle" fill="#231f20" dominant-baseline="central" >CCR9</text>
<text x="469.2" y="2203.0" font-size="17.5" text-anchor="middle" fill="#231f20" dominant-baseline="central" >CCR7</text>
<text x="469.2" y="2219.9" font-size="17.5" text-anchor="middle" fill="#231f20" dominant-baseline="central" >CXCR2</text>
<text x="469.2" y="2236.8" font-size="17.5" text-anchor="middle" fill="#231f20" dominant-baseline="central" >CXCR1</text>
<text x="469.2" y="2253.7" font-size="17.5" text-anchor="middle" fill="#df4e39" dominant-baseline="central" >CXCR3</text>
<text x="469.2" y="2270.6" font-size="17.5" text-anchor="middle" fill="#1cadc9" dominant-baseline="central" >DPP4</text>
<text x="469.2" y="2287.4" font-size="17.5" text-anchor="middle" fill="#148d74" dominant-baseline="central" >CCR4</text>
<text x="469.2" y="2304.3" font-size="17.5" text-anchor="middle" fill="#231f20" dominant-baseline="central" >ACKR4</text>
<text x="469.2" y="2321.2" font-size="17.5" text-anchor="middle" fill="#231f20" dominant-baseline="central" >CCR10</text>
<text x="469.2" y="2338.1" font-size="17.5" text-anchor="middle" fill="#231f20" dominant-baseline="central" >ACKR1</text>
<text x="469.2" y="2355.0" font-size="17.5" text-anchor="middle" fill="#8db8e0" dominant-baseline="central" >CCR1</text>
<text x="469.2" y="2371.9" font-size="17.5" text-anchor="middle" fill="#231f20" dominant-baseline="central" >CCR3</text>
<text x="469.2" y="2388.8" font-size="17.5" text-anchor="middle" fill="#231f20" dominant-baseline="central" >CCR2</text>
<text x="469.2" y="2405.7" font-size="17.5" text-anchor="middle" fill="#231f20" dominant-baseline="central" >IDE</text>
<text x="469.2" y="2422.6" font-size="17.5" text-anchor="middle" fill="#231f20" dominant-baseline="central" >GPRC5D</text>
<text x="469.2" y="2439.5" font-size="17.5" text-anchor="middle" fill="#231f20" dominant-baseline="central" >CNR2</text>
<text x="469.2" y="2456.4" font-size="17.5" text-anchor="middle" fill="#231f20" dominant-baseline="central" >SLC7A1</text>
<text x="469.2" y="2473.3" font-size="17.5" text-anchor="middle" fill="#e8852a" dominant-baseline="central" >CCR5</text>
<text x="469.2" y="2490.2" font-size="17.5" text-anchor="middle" fill="#231f20" dominant-baseline="central" >GPR152</text>
<text x="469.2" y="2507.1" font-size="17.5" text-anchor="middle" fill="#3a5a8c" dominant-baseline="central" >CCR8</text>
<path d="M374.8,2171.3 L430.4,2118.0M374.8,2171.3 L430.4,2253.2M374.8,2188.9 L430.4,2270.1M374.8,2206.6 L430.4,2253.2M374.8,2206.6 L430.4,2270.1M374.8,2224.2 L430.4,2253.2M374.8,2224.2 L430.4,2270.1M374.8,2453.4 L430.4,2286.9M374.8,2453.4 L430.4,2354.5M374.8,2453.4 L430.4,2472.8M374.8,2471.0 L430.4,2354.5M374.8,2471.0 L430.4,2472.8M374.8,2506.3 L430.4,2472.8M374.8,2506.3 L430.4,2506.6" stroke="#231f20" stroke-width="1.7" fill="none"/>
<text x="186.2" y="2554.0" font-size="22.5" text-anchor="end" fill="#231f20" dominant-baseline="auto" transform="rotate(-45 186.2 2554.0)" >M07_Macro–EREG</text>
<text x="229.4" y="2554.0" font-size="22.5" text-anchor="end" fill="#231f20" dominant-baseline="auto" transform="rotate(-45 229.4 2554.0)" >M10_Macro–C1QA</text>
<text x="272.7" y="2554.0" font-size="22.5" text-anchor="end" fill="#231f20" dominant-baseline="auto" transform="rotate(-45 272.7 2554.0)" >M12_Macro–C3</text>
<text x="566.7" y="2553.0" font-size="22.2" text-anchor="end" fill="#231f20" dominant-baseline="auto" transform="rotate(-45 566.7 2553.0)" >T01_CD4–CCR7</text>
<text x="601.6" y="2553.0" font-size="22.2" text-anchor="end" fill="#231f20" dominant-baseline="auto" transform="rotate(-45 601.6 2553.0)" >T02_CD4–ANXA1</text>
<text x="636.5" y="2553.0" font-size="22.2" text-anchor="end" fill="#231f20" dominant-baseline="auto" transform="rotate(-45 636.5 2553.0)" >T03_CD4–FOXP3</text>
<text x="671.5" y="2553.0" font-size="22.2" text-anchor="end" fill="#231f20" dominant-baseline="auto" transform="rotate(-45 671.5 2553.0)" >T04_CD4–CX3CR1</text>
<text x="706.4" y="2553.0" font-size="22.2" text-anchor="end" fill="#231f20" dominant-baseline="auto" transform="rotate(-45 706.4 2553.0)" >T05_CD4–PDCD1</text>
<text x="741.3" y="2553.0" font-size="22.2" text-anchor="end" fill="#231f20" dominant-baseline="auto" transform="rotate(-45 741.3 2553.0)" >T06_CD8–CCR7</text>
<text x="776.2" y="2553.0" font-size="22.2" text-anchor="end" fill="#231f20" dominant-baseline="auto" transform="rotate(-45 776.2 2553.0)" >T07_CD8–ANXA2</text>
<text x="811.1" y="2553.0" font-size="22.2" text-anchor="end" fill="#231f20" dominant-baseline="auto" transform="rotate(-45 811.1 2553.0)" >T08_CD8–GZMK</text>
<text x="846.1" y="2553.0" font-size="22.2" text-anchor="end" fill="#231f20" dominant-baseline="auto" transform="rotate(-45 846.1 2553.0)" >T09_CD8–CX3CR1</text>
<text x="881.0" y="2553.0" font-size="22.2" text-anchor="end" fill="#231f20" dominant-baseline="auto" transform="rotate(-45 881.0 2553.0)" >T10_CD8–HAVCR2</text>
<text x="915.9" y="2553.0" font-size="22.2" text-anchor="end" fill="#231f20" dominant-baseline="auto" transform="rotate(-45 915.9 2553.0)" >T11_CD8–SLC4A10</text>
<path d="M1238.5,2222.2 V2528.9" stroke="#3a5a8c" stroke-width="3.2"/>
<path d="M1238.5,2238.3 V2241.5" stroke="#fff" stroke-width="3.6"/><path d="M1238.5,2264.8 V2268.0" stroke="#fff" stroke-width="3.6"/><path d="M1238.5,2273.7 V2276.9" stroke="#fff" stroke-width="3.6"/><path d="M1238.5,2317.9 V2321.1" stroke="#fff" stroke-width="3.6"/><path d="M1238.5,2326.8 V2330.0" stroke="#fff" stroke-width="3.6"/><path d="M1238.5,2371.0 V2374.2" stroke="#fff" stroke-width="3.6"/><path d="M1238.5,2397.6 V2400.8" stroke="#fff" stroke-width="3.6"/>
<path d="M1281.8,2169.1 V2528.9" stroke="#bd1a3f" stroke-width="3.2"/>
<path d="M1281.8,2309.1 V2312.3" stroke="#fff" stroke-width="3.6"/><path d="M1281.8,2335.6 V2338.8" stroke="#fff" stroke-width="3.6"/><path d="M1281.8,2362.2 V2365.4" stroke="#fff" stroke-width="3.6"/>
<path d="M1325.0,2169.1 V2528.9" stroke="#bd1a3f" stroke-width="3.2"/>
<path d="M1325.0,2238.3 V2241.5" stroke="#fff" stroke-width="3.6"/><path d="M1325.0,2264.8 V2268.0" stroke="#fff" stroke-width="3.6"/><path d="M1325.0,2273.7 V2276.9" stroke="#fff" stroke-width="3.6"/><path d="M1325.0,2317.9 V2321.1" stroke="#fff" stroke-width="3.6"/><path d="M1325.0,2326.8 V2330.0" stroke="#fff" stroke-width="3.6"/><path d="M1325.0,2371.0 V2374.2" stroke="#fff" stroke-width="3.6"/>
<path d="M1281.8,2169.1 H1362.3" stroke="#bd1a3f" stroke-width="3.2"/>
<path d="M1238.5,2186.8 H1362.3" stroke="#3a5a8c" stroke-width="3.2"/>
<path d="M1238.5,2204.5 H1362.3" stroke="#1cadc9" stroke-width="3.2"/>
<path d="M1238.5,2222.2 H1362.3" stroke="#148d74" stroke-width="3.2"/>
<path d="M1238.5,2452.3 H1362.3" stroke="#df4e39" stroke-width="3.2"/>
<path d="M1238.5,2470.0 H1362.3" stroke="#8db8e0" stroke-width="3.2"/>
<path d="M1238.5,2505.4 H1362.3" stroke="#e8852a" stroke-width="3.2"/>
<path d="M1351.3,2116.0 H1362.3M1351.3,2133.7 H1362.3M1351.3,2151.4 H1362.3M1351.3,2239.9 H1362.3M1351.3,2257.6 H1362.3M1351.3,2275.3 H1362.3M1351.3,2293.0 H1362.3M1351.3,2310.7 H1362.3M1351.3,2328.4 H1362.3M1351.3,2346.1 H1362.3M1351.3,2363.8 H1362.3M1351.3,2381.5 H1362.3M1351.3,2399.2 H1362.3M1351.3,2416.9 H1362.3M1351.3,2434.6 H1362.3M1351.3,2487.7 H1362.3" stroke="#231f20" stroke-width="3"/>
<ellipse cx="1238.5" cy="2133.7" rx="8.5" ry="8.5" fill="#231f20"/>
<ellipse cx="1281.8" cy="2133.7" rx="8.5" ry="8.5" fill="#231f20"/>
<ellipse cx="1325.0" cy="2133.7" rx="8.0" ry="8.0" fill="#666"/>
<ellipse cx="1281.8" cy="2169.1" rx="4.8" ry="4.8" fill="#aaa" stroke="#bd1a3f" stroke-width="2.8"/>
<ellipse cx="1325.0" cy="2169.1" rx="3.9" ry="3.9" fill="#aaa" stroke="#bd1a3f" stroke-width="2.6"/>
<ellipse cx="1238.5" cy="2186.8" rx="11.2" ry="11.2" fill="#231f20" stroke="#3a5a8c" stroke-width="3.2"/>
<ellipse cx="1281.8" cy="2186.8" rx="11.2" ry="11.2" fill="#231f20" stroke="#3a5a8c" stroke-width="3.2"/>
<ellipse cx="1325.0" cy="2186.8" rx="11.2" ry="11.2" fill="#231f20" stroke="#3a5a8c" stroke-width="3.2"/>
<ellipse cx="1238.5" cy="2204.5" rx="7.1" ry="7.1" fill="#666" stroke="#1cadc9" stroke-width="3.0"/>
<ellipse cx="1281.8" cy="2204.5" rx="7.1" ry="7.1" fill="#666" stroke="#1cadc9" stroke-width="3.0"/>
<ellipse cx="1325.0" cy="2204.5" rx="7.1" ry="7.1" fill="#666" stroke="#1cadc9" stroke-width="3.0"/>
<ellipse cx="1238.5" cy="2222.2" rx="3.7" ry="3.7" fill="#999" stroke="#148d74" stroke-width="2.6"/>
<ellipse cx="1281.8" cy="2222.2" rx="3.2" ry="3.2" fill="#999" stroke="#148d74" stroke-width="2.6"/>
<ellipse cx="1325.0" cy="2222.2" rx="4.2" ry="4.2" fill="#999" stroke="#148d74" stroke-width="2.6"/>
<circle cx="1238.5" cy="2328.4" r="2.8" fill="#fff"/><circle cx="1238.5" cy="2328.4" r="1.2" fill="#999"/>
<circle cx="1281.8" cy="2328.4" r="5.1" fill="#fff"/><circle cx="1281.8" cy="2328.4" r="3.5" fill="#999"/>
<circle cx="1325.0" cy="2328.4" r="5.6" fill="#fff"/><circle cx="1325.0" cy="2328.4" r="4" fill="#888"/>
<ellipse cx="1238.5" cy="2346.1" rx="9.0" ry="9.0" fill="#231f20"/>
<ellipse cx="1281.8" cy="2346.1" rx="9.0" ry="9.0" fill="#231f20"/>
<ellipse cx="1325.0" cy="2346.1" rx="9.0" ry="9.0" fill="#231f20"/>
<circle cx="1238.5" cy="2363.8" r="4.2" fill="#fff"/><circle cx="1238.5" cy="2363.8" r="2.5" fill="#aaa"/>
<circle cx="1281.8" cy="2363.8" r="4.2" fill="#fff"/><circle cx="1281.8" cy="2363.8" r="2.5" fill="#aaa"/>
<circle cx="1325.0" cy="2363.8" r="4.2" fill="#fff"/><circle cx="1325.0" cy="2363.8" r="2.5" fill="#aaa"/>
<circle cx="1238.5" cy="2416.9" r="6.5" fill="#fff"/><ellipse cx="1238.5" cy="2416.9" rx="5.0" ry="5.0" fill="#666"/>
<circle cx="1281.8" cy="2416.9" r="5.5" fill="#fff"/><ellipse cx="1281.8" cy="2416.9" rx="4.0" ry="4.0" fill="#999"/>
<ellipse cx="1325.0" cy="2416.9" rx="8.5" ry="8.5" fill="#231f20"/>
<ellipse cx="1238.5" cy="2452.3" rx="6.0" ry="6.0" fill="#666" stroke="#df4e39" stroke-width="3"/>
<circle cx="1281.8" cy="2452.3" r="4.5" fill="#fff"/><circle cx="1281.8" cy="2452.3" r="2.5" fill="#999"/>
<ellipse cx="1325.0" cy="2452.3" rx="7.9" ry="7.9" fill="#666" stroke="#df4e39" stroke-width="3.2"/>
<ellipse cx="1238.5" cy="2470.0" rx="11.5" ry="11.5" fill="#231f20" stroke="#8db8e0" stroke-width="3.6"/>
<ellipse cx="1281.8" cy="2470.0" rx="11.5" ry="11.5" fill="#231f20" stroke="#8db8e0" stroke-width="3.6"/>
<ellipse cx="1325.0" cy="2470.0" rx="11.5" ry="11.5" fill="#231f20" stroke="#8db8e0" stroke-width="3.6"/>
<ellipse cx="1238.5" cy="2505.4" rx="10.8" ry="10.8" fill="#231f20" stroke="#e8852a" stroke-width="3.4"/>
<ellipse cx="1281.8" cy="2505.4" rx="10.8" ry="10.8" fill="#231f20" stroke="#e8852a" stroke-width="3.4"/>
<ellipse cx="1325.0" cy="2505.4" rx="10.8" ry="10.8" fill="#231f20" stroke="#e8852a" stroke-width="3.4"/>
<rect x="1212.6" y="2105.5" width="138.7" height="417.9" fill="none" stroke="#231f20" stroke-width="2.6"/>
<text x="1367.8" y="2116.5" font-size="17.5" text-anchor="start" fill="#231f20" dominant-baseline="central" >XCL1</text>
<text x="1367.8" y="2134.2" font-size="17.5" text-anchor="start" fill="#231f20" dominant-baseline="central" >CXCL3</text>
<text x="1367.8" y="2151.9" font-size="17.5" text-anchor="start" fill="#231f20" dominant-baseline="central" >PPBP</text>
<text x="1367.8" y="2169.6" font-size="17.5" text-anchor="start" fill="#bd1a3f" dominant-baseline="central" >CXCL12</text>
<text x="1367.8" y="2187.3" font-size="17.5" text-anchor="start" fill="#3a5a8c" dominant-baseline="central" >CXCL2</text>
<text x="1367.8" y="2205.0" font-size="17.5" text-anchor="start" fill="#1cadc9" dominant-baseline="central" >CXCL10</text>
<text x="1367.8" y="2222.7" font-size="17.5" text-anchor="start" fill="#148d74" dominant-baseline="central" >CXCL11</text>
<text x="1367.8" y="2240.4" font-size="17.5" text-anchor="start" fill="#231f20" dominant-baseline="central" >CCL22</text>
<text x="1367.8" y="2258.1" font-size="17.5" text-anchor="start" fill="#231f20" dominant-baseline="central" >CCL19</text>
<text x="1367.8" y="2275.8" font-size="17.5" text-anchor="start" fill="#231f20" dominant-baseline="central" >CXCL13</text>
<text x="1367.8" y="2293.5" font-size="17.5" text-anchor="start" fill="#231f20" dominant-baseline="central" >CCL25</text>
<text x="1367.8" y="2311.2" font-size="17.5" text-anchor="start" fill="#231f20" dominant-baseline="central" >CCL21</text>
<text x="1367.8" y="2328.9" font-size="17.5" text-anchor="start" fill="#231f20" dominant-baseline="central" >CCL8</text>
<text x="1367.8" y="2346.6" font-size="17.5" text-anchor="start" fill="#231f20" dominant-baseline="central" >CXCL8</text>
<text x="1367.8" y="2364.3" font-size="17.5" text-anchor="start" fill="#231f20" dominant-baseline="central" >CXCL1</text>
<text x="1367.8" y="2382.0" font-size="17.5" text-anchor="start" fill="#231f20" dominant-baseline="central" >PF4</text>
<text x="1367.8" y="2399.7" font-size="17.5" text-anchor="start" fill="#231f20" dominant-baseline="central" >CCL11</text>
<text x="1367.8" y="2417.4" font-size="17.5" text-anchor="start" fill="#231f20" dominant-baseline="central" >CCL2</text>
<text x="1367.8" y="2435.1" font-size="17.5" text-anchor="start" fill="#231f20" dominant-baseline="central" >CCL24</text>
<text x="1367.8" y="2452.8" font-size="17.5" text-anchor="start" fill="#df4e39" dominant-baseline="central" >CCL5</text>
<text x="1367.8" y="2470.5" font-size="17.5" text-anchor="start" fill="#8db8e0" dominant-baseline="central" >CCL3</text>
<text x="1367.8" y="2488.2" font-size="17.5" text-anchor="start" fill="#231f20" dominant-baseline="central" >CCL1</text>
<text x="1367.8" y="2505.9" font-size="17.5" text-anchor="start" fill="#e8852a" dominant-baseline="central" >CCL4</text>
<path d="M1624.1,2251.5 V2528.0" stroke="#148d74" stroke-width="3.2"/>
<path d="M1662.3,2115.7 V2528.0" stroke="#bd1a3f" stroke-width="3.2"/>
<path d="M1662.3,2156.4 V2159.6" stroke="#fff" stroke-width="3.6"/><path d="M1662.3,2173.4 V2176.6" stroke="#fff" stroke-width="3.6"/><path d="M1662.3,2461.9 V2465.1" stroke="#fff" stroke-width="3.6"/><path d="M1662.3,2495.8 V2499.0" stroke="#fff" stroke-width="3.6"/>
<path d="M1700.5,2115.7 V2528.0" stroke="#bd1a3f" stroke-width="3.2"/>
<path d="M1700.5,2156.4 V2159.6" stroke="#fff" stroke-width="3.6"/><path d="M1700.5,2173.4 V2176.6" stroke="#fff" stroke-width="3.6"/><path d="M1700.5,2275.2 V2278.4" stroke="#fff" stroke-width="3.6"/><path d="M1700.5,2292.2 V2295.4" stroke="#fff" stroke-width="3.6"/><path d="M1700.5,2360.1 V2363.3" stroke="#fff" stroke-width="3.6"/><path d="M1700.5,2394.0 V2397.2" stroke="#fff" stroke-width="3.6"/><path d="M1700.5,2428.0 V2431.2" stroke="#fff" stroke-width="3.6"/>
<path d="M1776.9,2115.7 V2528.0" stroke="#bd1a3f" stroke-width="3.2"/>
<path d="M1776.9,2156.4 V2159.6" stroke="#fff" stroke-width="3.6"/><path d="M1776.9,2173.4 V2176.6" stroke="#fff" stroke-width="3.6"/><path d="M1776.9,2275.2 V2278.4" stroke="#fff" stroke-width="3.6"/><path d="M1776.9,2292.2 V2295.4" stroke="#fff" stroke-width="3.6"/><path d="M1776.9,2377.1 V2380.2" stroke="#fff" stroke-width="3.6"/><path d="M1776.9,2411.0 V2414.2" stroke="#fff" stroke-width="3.6"/><path d="M1776.9,2461.9 V2465.1" stroke="#fff" stroke-width="3.6"/>
<path d="M1815.1,2115.7 V2528.0" stroke="#bd1a3f" stroke-width="3.2"/>
<path d="M1853.3,2115.7 V2528.0" stroke="#bd1a3f" stroke-width="3.2"/>
<path d="M1853.3,2156.4 V2159.6" stroke="#fff" stroke-width="3.6"/><path d="M1853.3,2173.4 V2176.6" stroke="#fff" stroke-width="3.6"/><path d="M1853.3,2275.2 V2278.4" stroke="#fff" stroke-width="3.6"/><path d="M1853.3,2292.2 V2295.4" stroke="#fff" stroke-width="3.6"/><path d="M1853.3,2377.1 V2380.2" stroke="#fff" stroke-width="3.6"/><path d="M1853.3,2411.0 V2414.2" stroke="#fff" stroke-width="3.6"/><path d="M1853.3,2461.9 V2465.1" stroke="#fff" stroke-width="3.6"/>
<path d="M1891.5,2115.7 V2528.0" stroke="#bd1a3f" stroke-width="3.2"/>
<path d="M1891.5,2156.4 V2159.6" stroke="#fff" stroke-width="3.6"/><path d="M1891.5,2173.4 V2176.6" stroke="#fff" stroke-width="3.6"/><path d="M1891.5,2275.2 V2278.4" stroke="#fff" stroke-width="3.6"/><path d="M1891.5,2292.2 V2295.4" stroke="#fff" stroke-width="3.6"/><path d="M1891.5,2377.1 V2380.2" stroke="#fff" stroke-width="3.6"/><path d="M1891.5,2411.0 V2414.2" stroke="#fff" stroke-width="3.6"/><path d="M1891.5,2461.9 V2465.1" stroke="#fff" stroke-width="3.6"/>
<path d="M1929.7,2115.7 V2528.0" stroke="#bd1a3f" stroke-width="3.2"/>
<path d="M1929.7,2173.4 V2176.6" stroke="#fff" stroke-width="3.6"/><path d="M1929.7,2275.2 V2278.4" stroke="#fff" stroke-width="3.6"/><path d="M1929.7,2377.1 V2380.2" stroke="#fff" stroke-width="3.6"/><path d="M1929.7,2461.9 V2465.1" stroke="#fff" stroke-width="3.6"/>
<path d="M1967.9,2115.7 V2528.0" stroke="#bd1a3f" stroke-width="3.2"/>
<path d="M1967.9,2156.4 V2159.6" stroke="#fff" stroke-width="3.6"/><path d="M1967.9,2173.4 V2176.6" stroke="#fff" stroke-width="3.6"/><path d="M1967.9,2275.2 V2278.4" stroke="#fff" stroke-width="3.6"/><path d="M1967.9,2292.2 V2295.4" stroke="#fff" stroke-width="3.6"/><path d="M1967.9,2377.1 V2380.2" stroke="#fff" stroke-width="3.6"/><path d="M1967.9,2411.0 V2414.2" stroke="#fff" stroke-width="3.6"/><path d="M1967.9,2461.9 V2465.1" stroke="#fff" stroke-width="3.6"/>
<path d="M1738.7,2522.5 V2528.5" stroke="#231f20" stroke-width="3"/>
<path d="M1575.9,2115.7 H1967.9" stroke="#bd1a3f" stroke-width="3.2"/>
<path d="M1622.3,2115.7 H1625.9" stroke="#fff" stroke-width="3.6"/><path d="M1736.9,2115.7 H1740.5" stroke="#fff" stroke-width="3.6"/>
<path d="M1575.9,2251.5 H1967.9" stroke="#148d74" stroke-width="3.2"/>
<path d="M1575.9,2268.4 H1662.3" stroke="#df4e39" stroke-width="3.2"/>
<path d="M1622.3,2268.4 H1625.9" stroke="#fff" stroke-width="3.6"/>
<path d="M1575.9,2285.4 H1776.9" stroke="#1cadc9" stroke-width="3.2"/>
<path d="M1575.9,2455.1 H1815.1" stroke="#8db8e0" stroke-width="3.2"/>
<path d="M1660.5,2455.1 H1664.1" stroke="#fff" stroke-width="3.6"/><path d="M1698.7,2455.1 H1702.3" stroke="#fff" stroke-width="3.6"/><path d="M1775.1,2455.1 H1778.7" stroke="#fff" stroke-width="3.6"/>
<path d="M1575.9,2472.1 H1967.9" stroke="#e8852a" stroke-width="3.2"/>
<path d="M1622.3,2472.1 H1625.9" stroke="#fff" stroke-width="3.6"/><path d="M1660.5,2472.1 H1664.1" stroke="#fff" stroke-width="3.6"/><path d="M1775.1,2472.1 H1778.7" stroke="#fff" stroke-width="3.6"/><path d="M1889.7,2472.1 H1893.3" stroke="#fff" stroke-width="3.6"/><path d="M1927.9,2472.1 H1931.5" stroke="#fff" stroke-width="3.6"/>
<path d="M1575.9,2506.0 H1700.5" stroke="#3a5a8c" stroke-width="3.2"/>
<path d="M1622.3,2506.0 H1625.9" stroke="#fff" stroke-width="3.6"/>
<path d="M1575.9,2132.7 H1586.9M1575.9,2149.6 H1586.9M1575.9,2166.6 H1586.9M1575.9,2183.6 H1586.9M1575.9,2200.5 H1586.9M1575.9,2217.5 H1586.9M1575.9,2234.5 H1586.9M1575.9,2302.4 H1586.9M1575.9,2319.3 H1586.9M1575.9,2336.3 H1586.9M1575.9,2353.3 H1586.9M1575.9,2370.2 H1586.9M1575.9,2387.2 H1586.9M1575.9,2404.2 H1586.9M1575.9,2421.2 H1586.9M1575.9,2438.1 H1586.9M1575.9,2489.0 H1586.9" stroke="#231f20" stroke-width="3"/>
<ellipse cx="1624.1" cy="2115.7" rx="4.4" ry="3.5" fill="#666"/>
<ellipse cx="1662.3" cy="2115.7" rx="12.4" ry="10.9" fill="#231f20" stroke="#bd1a3f" stroke-width="3.2"/>
<ellipse cx="1700.5" cy="2115.7" rx="10.4" ry="9.4" fill="#231f20" stroke="#bd1a3f" stroke-width="3.2"/>
<ellipse cx="1738.7" cy="2115.7" rx="12.0" ry="10.5" fill="#231f20"/>
<ellipse cx="1776.9" cy="2115.7" rx="12.4" ry="10.9" fill="#231f20" stroke="#bd1a3f" stroke-width="3.2"/>
<ellipse cx="1815.1" cy="2115.7" rx="12.4" ry="10.9" fill="#231f20" stroke="#bd1a3f" stroke-width="3.2"/>
<ellipse cx="1853.3" cy="2115.7" rx="12.4" ry="10.9" fill="#231f20" stroke="#bd1a3f" stroke-width="3.2"/>
<ellipse cx="1891.5" cy="2115.7" rx="12.4" ry="10.9" fill="#231f20" stroke="#bd1a3f" stroke-width="3.2"/>
<ellipse cx="1929.7" cy="2115.7" rx="12.4" ry="10.9" fill="#231f20" stroke="#bd1a3f" stroke-width="3.2"/>
<ellipse cx="1967.9" cy="2115.7" rx="12.4" ry="10.9" fill="#231f20" stroke="#bd1a3f" stroke-width="3.2"/>
<ellipse cx="1624.1" cy="2200.5" rx="4.4" ry="3.7" fill="#777"/>
<ellipse cx="1662.3" cy="2200.5" rx="9.0" ry="8.0" fill="#231f20"/>
<ellipse cx="1700.5" cy="2200.5" rx="2.5" ry="2.0" fill="#999"/>
<ellipse cx="1776.9" cy="2200.5" rx="6.0" ry="4.5" fill="#666"/>
<ellipse cx="1815.1" cy="2200.5" rx="10.5" ry="9.0" fill="#231f20"/>
<ellipse cx="1853.3" cy="2200.5" rx="5.5" ry="4.5" fill="#777"/>
<ellipse cx="1891.5" cy="2200.5" rx="6.5" ry="5.0" fill="#555"/>
<ellipse cx="1624.1" cy="2251.5" rx="6.0" ry="5.5" fill="#777" stroke="#148d74" stroke-width="3.0"/>
<ellipse cx="1662.3" cy="2251.5" rx="4.7" ry="4.3" fill="#999" stroke="#148d74" stroke-width="2.6"/>
<ellipse cx="1700.5" cy="2251.5" rx="8.5" ry="7.9" fill="#777" stroke="#148d74" stroke-width="3.0"/>
<ellipse cx="1776.9" cy="2251.5" rx="8.0" ry="7.4" fill="#888" stroke="#148d74" stroke-width="3.0"/>
<ellipse cx="1815.1" cy="2251.5" rx="3.7" ry="3.4" fill="#aaa" stroke="#148d74" stroke-width="2.6"/>
<ellipse cx="1853.3" cy="2251.5" rx="7.5" ry="7.0" fill="#777" stroke="#148d74" stroke-width="3.0"/>
<ellipse cx="1891.5" cy="2251.5" rx="7.5" ry="7.0" fill="#666" stroke="#148d74" stroke-width="3.0"/>
<ellipse cx="1929.7" cy="2251.5" rx="4.2" ry="3.9" fill="#999" stroke="#148d74" stroke-width="2.6"/>
<ellipse cx="1967.9" cy="2251.5" rx="6.5" ry="6.0" fill="#888" stroke="#148d74" stroke-width="3.0"/>
<ellipse cx="1662.3" cy="2268.4" rx="3.5" ry="3.5" fill="#aaa" stroke="#df4e39" stroke-width="2.6"/>
<ellipse cx="1662.3" cy="2285.4" rx="3.7" ry="3.7" fill="#999" stroke="#1cadc9" stroke-width="2.6"/>
<ellipse cx="1700.5" cy="2285.4" rx="3.7" ry="3.7" fill="#999" stroke="#1cadc9" stroke-width="2.6"/>
<ellipse cx="1776.9" cy="2285.4" rx="5.2" ry="5.2" fill="#999" stroke="#1cadc9" stroke-width="2.6"/>
<ellipse cx="1815.1" cy="2455.1" rx="4.2" ry="4.2" fill="#aaa" stroke="#8db8e0" stroke-width="2.6"/>
<ellipse cx="1700.5" cy="2472.1" rx="3.7" ry="3.7" fill="#999" stroke="#e8852a" stroke-width="2.6"/>
<ellipse cx="1853.3" cy="2472.1" rx="4.2" ry="4.2" fill="#999" stroke="#e8852a" stroke-width="2.6"/>
<ellipse cx="1967.9" cy="2472.1" rx="4.2" ry="4.2" fill="#999" stroke="#e8852a" stroke-width="2.6"/>
<ellipse cx="1700.5" cy="2506.0" rx="7.6" ry="7.6" fill="#777" stroke="#3a5a8c" stroke-width="3.2"/>
<rect x="1586.9" y="2105.9" width="403.5" height="416.6" fill="none" stroke="#231f20" stroke-width="2.6"/>
<text x="1530.8" y="2116.2" font-size="17.5" text-anchor="middle" fill="#bd1a3f" dominant-baseline="central" >CXCR4</text>
<text x="1530.8" y="2133.2" font-size="17.5" text-anchor="middle" fill="#231f20" dominant-baseline="central" >ADGRV1</text>
<text x="1530.8" y="2150.1" font-size="17.5" text-anchor="middle" fill="#231f20" dominant-baseline="central" >ACKR3</text>
<text x="1530.8" y="2167.1" font-size="17.5" text-anchor="middle" fill="#231f20" dominant-baseline="central" >CXCR5</text>
<text x="1530.8" y="2184.1" font-size="17.5" text-anchor="middle" fill="#231f20" dominant-baseline="central" >CCR9</text>
<text x="1530.8" y="2201.0" font-size="17.5" text-anchor="middle" fill="#231f20" dominant-baseline="central" >CCR7</text>
<text x="1530.8" y="2218.0" font-size="17.5" text-anchor="middle" fill="#231f20" dominant-baseline="central" >CXCR2</text>
<text x="1530.8" y="2235.0" font-size="17.5" text-anchor="middle" fill="#231f20" dominant-baseline="central" >CXCR1</text>
<text x="1530.8" y="2252.0" font-size="17.5" text-anchor="middle" fill="#148d74" dominant-baseline="central" >CXCR3</text>
<text x="1530.8" y="2268.9" font-size="17.5" text-anchor="middle" fill="#df4e39" dominant-baseline="central" >DPP4</text>
<text x="1530.8" y="2285.9" font-size="17.5" text-anchor="middle" fill="#1cadc9" dominant-baseline="central" >CCR4</text>
<text x="1530.8" y="2302.9" font-size="17.5" text-anchor="middle" fill="#231f20" dominant-baseline="central" >ACKR4</text>
<text x="1530.8" y="2319.8" font-size="17.5" text-anchor="middle" fill="#231f20" dominant-baseline="central" >CCR10</text>
<text x="1530.8" y="2336.8" font-size="17.5" text-anchor="middle" fill="#231f20" dominant-baseline="central" >ACKR1</text>
<text x="1530.8" y="2353.8" font-size="17.5" text-anchor="middle" fill="#231f20" dominant-baseline="central" >CCR1</text>
<text x="1530.8" y="2370.8" font-size="17.5" text-anchor="middle" fill="#231f20" dominant-baseline="central" >CCR3</text>
<text x="1530.8" y="2387.7" font-size="17.5" text-anchor="middle" fill="#231f20" dominant-baseline="central" >CCR2</text>
<text x="1530.8" y="2404.7" font-size="17.5" text-anchor="middle" fill="#231f20" dominant-baseline="central" >IDE</text>
<text x="1530.8" y="2421.7" font-size="17.5" text-anchor="middle" fill="#231f20" dominant-baseline="central" >GPRC5D</text>
<text x="1530.8" y="2438.6" font-size="17.5" text-anchor="middle" fill="#231f20" dominant-baseline="central" >CNR2</text>
<text x="1530.8" y="2455.6" font-size="17.5" text-anchor="middle" fill="#8db8e0" dominant-baseline="central" >SLC7A1</text>
<text x="1530.8" y="2472.6" font-size="17.5" text-anchor="middle" fill="#e8852a" dominant-baseline="central" >CCR5</text>
<text x="1530.8" y="2489.5" font-size="17.5" text-anchor="middle" fill="#231f20" dominant-baseline="central" >GPR152</text>
<text x="1530.8" y="2506.5" font-size="17.5" text-anchor="middle" fill="#3a5a8c" dominant-baseline="central" >CCR8</text>
<path d="M1441.0,2169.1 L1498.9,2115.7M1441.0,2169.1 L1498.9,2251.5M1441.0,2186.8 L1498.9,2268.4M1441.0,2204.5 L1498.9,2251.5M1441.0,2204.5 L1498.9,2268.4M1441.0,2222.2 L1498.9,2251.5M1441.0,2222.2 L1498.9,2268.4M1441.0,2452.3 L1498.9,2285.4M1441.0,2452.3 L1498.9,2472.1M1441.0,2470.0 L1498.9,2472.1M1441.0,2505.4 L1498.9,2455.1M1441.0,2505.4 L1498.9,2472.1M1441.0,2505.4 L1498.9,2506.0" stroke="#231f20" stroke-width="1.7" fill="none"/>
<text x="1251.5" y="2554.0" font-size="22.5" text-anchor="end" fill="#231f20" dominant-baseline="auto" transform="rotate(-45 1251.5 2554.0)" >M07_Macro–EREG</text>
<text x="1294.8" y="2554.0" font-size="22.5" text-anchor="end" fill="#231f20" dominant-baseline="auto" transform="rotate(-45 1294.8 2554.0)" >M10_Macro–C1QA</text>
<text x="1338.0" y="2554.0" font-size="22.5" text-anchor="end" fill="#231f20" dominant-baseline="auto" transform="rotate(-45 1338.0 2554.0)" >M12_Macro–C3</text>
<text x="1631.6" y="2553.0" font-size="22.2" text-anchor="end" fill="#231f20" dominant-baseline="auto" transform="rotate(-45 1631.6 2553.0)" >T01_CD4–CCR7</text>
<text x="1669.8" y="2553.0" font-size="22.2" text-anchor="end" fill="#231f20" dominant-baseline="auto" transform="rotate(-45 1669.8 2553.0)" >T02_CD4–ANXA1</text>
<text x="1708.0" y="2553.0" font-size="22.2" text-anchor="end" fill="#231f20" dominant-baseline="auto" transform="rotate(-45 1708.0 2553.0)" >T03_CD4–FOXP3</text>
<text x="1746.2" y="2553.0" font-size="22.2" text-anchor="end" fill="#231f20" dominant-baseline="auto" transform="rotate(-45 1746.2 2553.0)" >T04_CD4–CX3CR1</text>
<text x="1784.4" y="2553.0" font-size="22.2" text-anchor="end" fill="#231f20" dominant-baseline="auto" transform="rotate(-45 1784.4 2553.0)" >T05_CD4–PDCD1</text>
<text x="1822.6" y="2553.0" font-size="22.2" text-anchor="end" fill="#231f20" dominant-baseline="auto" transform="rotate(-45 1822.6 2553.0)" >T06_CD8–CCR7</text>
<text x="1860.8" y="2553.0" font-size="22.2" text-anchor="end" fill="#231f20" dominant-baseline="auto" transform="rotate(-45 1860.8 2553.0)" >T07_CD8–ANXA2</text>
<text x="1899.0" y="2553.0" font-size="22.2" text-anchor="end" fill="#231f20" dominant-baseline="auto" transform="rotate(-45 1899.0 2553.0)" >T08_CD8–GZMK</text>
<text x="1937.2" y="2553.0" font-size="22.2" text-anchor="end" fill="#231f20" dominant-baseline="auto" transform="rotate(-45 1937.2 2553.0)" >T09_CD8–CX3CR1</text>
<text x="1975.4" y="2553.0" font-size="22.2" text-anchor="end" fill="#231f20" dominant-baseline="auto" transform="rotate(-45 1975.4 2553.0)" >T10_CD8–HAVCR2</text>
<text x="117.6" y="2055.9" font-size="28" text-anchor="start" fill="#231f20" dominant-baseline="central" >Ligand</text>
<text x="117.6" y="2085.8" font-size="28" text-anchor="start" fill="#231f20" dominant-baseline="central" >expression</text>
<defs><linearGradient id="lgL" x1="0" x2="1" y1="0" y2="0"><stop offset="0" stop-color="#c4c4c4"/><stop offset="0.25" stop-color="#727272"/><stop offset="0.5" stop-color="#181818"/><stop offset="0.62" stop-color="#0b0b0b"/><stop offset="1" stop-color="#050505"/></linearGradient></defs><rect x="268.8" y="2045.3" width="145.8" height="29.4" fill="url(#lgL)"/>
<g stroke="#fff" stroke-width="1.3"><path d="M306.3,2045.3 v4.5 M306.3,2074.7 v-4.5"/><path d="M344.3,2045.3 v4.5 M344.3,2074.7 v-4.5"/><path d="M382.7,2045.3 v4.5 M382.7,2074.7 v-4.5"/></g>
<text x="270.5" y="2092.0" font-size="23" text-anchor="middle" fill="#231f20" dominant-baseline="central" >0</text>
<text x="307.5" y="2092.0" font-size="23" text-anchor="middle" fill="#231f20" dominant-baseline="central" >1</text>
<text x="346.5" y="2092.0" font-size="23" text-anchor="middle" fill="#231f20" dominant-baseline="central" >2</text>
<text x="383.0" y="2092.0" font-size="23" text-anchor="middle" fill="#231f20" dominant-baseline="central" >3</text>
<text x="439.8" y="2056.6" font-size="28.5" text-anchor="start" fill="#231f20" dominant-baseline="central" >Percent of</text>
<text x="439.8" y="2087.1" font-size="28.5" text-anchor="start" fill="#231f20" dominant-baseline="central" >expression</text>
<circle cx="597.3" cy="2063.3" r="7.1" fill="#231f20"/>
<text x="617.1" y="2063.3" font-size="26" text-anchor="start" fill="#231f20" dominant-baseline="central" >25</text>
<circle cx="681.4" cy="2063.3" r="9.5" fill="#231f20"/>
<text x="702.8" y="2063.3" font-size="26" text-anchor="start" fill="#231f20" dominant-baseline="central" >50</text>
<circle cx="773" cy="2063.3" r="11.9" fill="#231f20"/>
<text x="796.8" y="2063.3" font-size="26" text-anchor="start" fill="#231f20" dominant-baseline="central" >75</text>
<text x="947.6" y="2114.9" font-size="28.5" text-anchor="start" fill="#231f20" dominant-baseline="central" >Percent of</text>
<text x="947.6" y="2146.5" font-size="28.5" text-anchor="start" fill="#231f20" dominant-baseline="central" >expression</text>
<circle cx="960" cy="2181.3" r="6.8" fill="#231f20"/>
<text x="983.0" y="2181.3" font-size="24" text-anchor="start" fill="#231f20" dominant-baseline="central" >25</text>
<circle cx="960" cy="2209.6" r="9.6" fill="#231f20"/>
<text x="983.0" y="2209.6" font-size="24" text-anchor="start" fill="#231f20" dominant-baseline="central" >50</text>
<circle cx="960" cy="2238.6" r="11.7" fill="#231f20"/>
<text x="983.0" y="2238.6" font-size="24" text-anchor="start" fill="#231f20" dominant-baseline="central" >75</text>
<text x="947.6" y="2298.5" font-size="28.5" text-anchor="start" fill="#231f20" dominant-baseline="central" >Receptor</text>
<text x="947.6" y="2329.3" font-size="28.5" text-anchor="start" fill="#231f20" dominant-baseline="central" >expression</text>
<defs><linearGradient id="rgL" x1="0" x2="0" y1="1" y2="0"><stop offset="0" stop-color="#d2d2d2"/><stop offset="0.3" stop-color="#6a6a6a"/><stop offset="0.5" stop-color="#1a1a1a"/><stop offset="0.7" stop-color="#121212"/><stop offset="1" stop-color="#050505"/></linearGradient></defs><rect x="947" y="2348.2" width="27.8" height="145" fill="url(#rgL)"/>
<g stroke="#fff" stroke-width="1.3"><path d="M947,2353.3 h4 M974.8,2353.3 h-4"/><path d="M947,2382.9 h4 M974.8,2382.9 h-4"/><path d="M947,2437 h4 M974.8,2437 h-4"/><path d="M947,2487.5 h4 M974.8,2487.5 h-4"/></g>
<text x="984.9" y="2353.3" font-size="24" text-anchor="start" fill="#231f20" dominant-baseline="central" >2.5</text>
<text x="984.9" y="2382.9" font-size="24" text-anchor="start" fill="#231f20" dominant-baseline="central" >2.0</text>
<text x="984.9" y="2437.0" font-size="24" text-anchor="start" fill="#231f20" dominant-baseline="central" >1.0</text>
<text x="984.9" y="2487.5" font-size="24" text-anchor="start" fill="#231f20" dominant-baseline="central" >0</text>
<text x="107.0" y="2306.0" font-size="28.5" text-anchor="middle" fill="#231f20" dominant-baseline="central" transform="rotate(-90 107.0 2306.0)" >Primary tumor</text>
<text x="1178.4" y="2056.3" font-size="28" text-anchor="start" fill="#231f20" dominant-baseline="central" >Ligand</text>
<text x="1178.4" y="2086.0" font-size="28" text-anchor="start" fill="#231f20" dominant-baseline="central" >expression</text>
<defs><linearGradient id="lgR" x1="0" x2="1" y1="0" y2="0"><stop offset="0" stop-color="#c4c4c4"/><stop offset="0.24" stop-color="#727272"/><stop offset="0.46" stop-color="#181818"/><stop offset="0.6" stop-color="#0b0b0b"/><stop offset="1" stop-color="#050505"/></linearGradient></defs><rect x="1332.2" y="2046.2" width="145.6" height="28.5" fill="url(#lgR)"/>
<g stroke="#fff" stroke-width="1.3"><path d="M1368.3,2046.2 v4.5 M1368.3,2074.7 v-4.5"/><path d="M1403.7,2046.2 v4.5 M1403.7,2074.7 v-4.5"/><path d="M1438.6,2046.2 v4.5 M1438.6,2074.7 v-4.5"/><path d="M1474.6,2046.2 v4.5 M1474.6,2074.7 v-4.5"/></g>
<text x="1333.5" y="2092.4" font-size="23" text-anchor="middle" fill="#231f20" dominant-baseline="central" >0</text>
<text x="1368.3" y="2092.4" font-size="23" text-anchor="middle" fill="#231f20" dominant-baseline="central" >1</text>
<text x="1403.7" y="2092.4" font-size="23" text-anchor="middle" fill="#231f20" dominant-baseline="central" >2</text>
<text x="1438.6" y="2092.4" font-size="23" text-anchor="middle" fill="#231f20" dominant-baseline="central" >3</text>
<text x="1474.6" y="2092.4" font-size="23" text-anchor="middle" fill="#231f20" dominant-baseline="central" >4</text>
<text x="1514.5" y="2057.0" font-size="28.5" text-anchor="start" fill="#231f20" dominant-baseline="central" >Percent of</text>
<text x="1514.5" y="2087.0" font-size="28.5" text-anchor="start" fill="#231f20" dominant-baseline="central" >expression</text>
<circle cx="1671.5" cy="2063.6" r="7.1" fill="#231f20"/>
<text x="1692.0" y="2063.6" font-size="26" text-anchor="start" fill="#231f20" dominant-baseline="central" >25</text>
<circle cx="1755" cy="2063.6" r="9.5" fill="#231f20"/>
<text x="1777.0" y="2063.6" font-size="26" text-anchor="start" fill="#231f20" dominant-baseline="central" >50</text>
<circle cx="1848.1" cy="2063.6" r="11.9" fill="#231f20"/>
<text x="1872.0" y="2063.6" font-size="26" text-anchor="start" fill="#231f20" dominant-baseline="central" >75</text>
<text x="2007.6" y="2107.0" font-size="28.5" text-anchor="start" fill="#231f20" dominant-baseline="central" >Percent of</text>
<text x="2007.6" y="2138.4" font-size="28.5" text-anchor="start" fill="#231f20" dominant-baseline="central" >expression</text>
<circle cx="2022.2" cy="2173.5" r="6.8" fill="#231f20"/>
<text x="2045.6" y="2173.5" font-size="24" text-anchor="start" fill="#231f20" dominant-baseline="central" >25</text>
<circle cx="2022.2" cy="2203" r="9.7" fill="#231f20"/>
<text x="2045.6" y="2203.0" font-size="24" text-anchor="start" fill="#231f20" dominant-baseline="central" >50</text>
<circle cx="2022.2" cy="2232" r="11.7" fill="#231f20"/>
<text x="2045.6" y="2232.0" font-size="24" text-anchor="start" fill="#231f20" dominant-baseline="central" >75</text>
<circle cx="2022.2" cy="2261.2" r="13.2" fill="#231f20"/>
<text x="2045.6" y="2261.2" font-size="24" text-anchor="start" fill="#231f20" dominant-baseline="central" >100</text>
<text x="2007.6" y="2317.2" font-size="28.5" text-anchor="start" fill="#231f20" dominant-baseline="central" >Receptor</text>
<text x="2007.6" y="2348.8" font-size="28.5" text-anchor="start" fill="#231f20" dominant-baseline="central" >expression</text>
<defs><linearGradient id="rgR" x1="0" x2="0" y1="1" y2="0"><stop offset="0" stop-color="#d2d2d2"/><stop offset="0.3" stop-color="#6a6a6a"/><stop offset="0.5" stop-color="#1a1a1a"/><stop offset="0.7" stop-color="#121212"/><stop offset="1" stop-color="#050505"/></linearGradient></defs><rect x="2007.6" y="2371" width="29.2" height="143.7" fill="url(#rgR)"/>
<g stroke="#fff" stroke-width="1.3"><path d="M2007.6,2379.2 h4 M2036.8,2379.2 h-4"/><path d="M2007.6,2423.5 h4 M2036.8,2423.5 h-4"/><path d="M2007.6,2469 h4 M2036.8,2469 h-4"/><path d="M2007.6,2509.6 h4 M2036.8,2509.6 h-4"/></g>
<text x="2045.6" y="2379.2" font-size="24" text-anchor="start" fill="#231f20" dominant-baseline="central" >3</text>
<text x="2045.6" y="2423.5" font-size="24" text-anchor="start" fill="#231f20" dominant-baseline="central" >2</text>
<text x="2045.6" y="2469.0" font-size="24" text-anchor="start" fill="#231f20" dominant-baseline="central" >1</text>
<text x="2045.6" y="2509.6" font-size="24" text-anchor="start" fill="#231f20" dominant-baseline="central" >0</text>
<text x="1191.0" y="2314.0" font-size="28.5" text-anchor="middle" fill="#231f20" dominant-baseline="central" transform="rotate(-90 1191.0 2314.0)" >Omentum metastasis</text>
</svg>
</body></html>
